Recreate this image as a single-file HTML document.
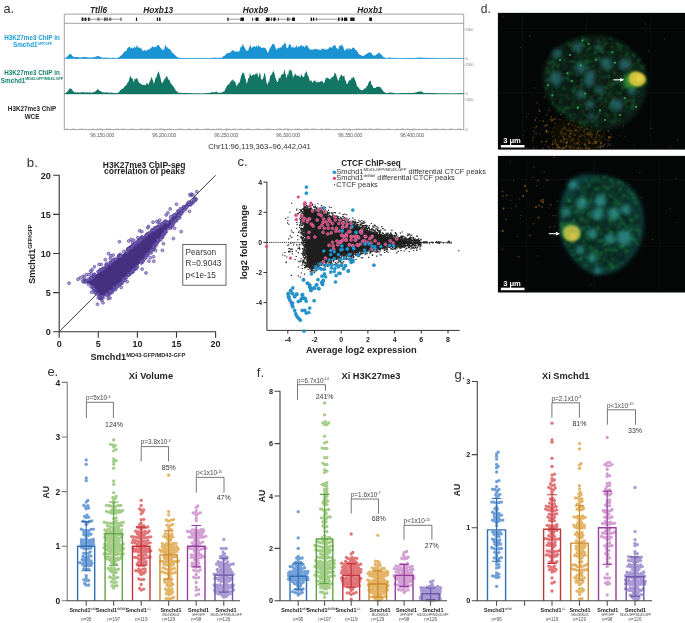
<!DOCTYPE html><html><head><meta charset="utf-8"><style>html,body{margin:0;padding:0;background:#fff;overflow:hidden}svg{display:block;transform:translateZ(0)}</style></head><body><svg width="685" height="623" viewBox="0 0 685 623" font-family="Liberation Sans, sans-serif"><text x="3.5" y="12.7" font-size="12.8" fill="#333">a.</text>
<text x="90" y="12.9" font-size="8.3" font-weight="bold" font-style="italic" fill="#222">Ttll6</text>
<text x="143.2" y="12.9" font-size="8.3" font-weight="bold" font-style="italic" fill="#222">Hoxb13</text>
<text x="242.8" y="12.9" font-size="8.3" font-weight="bold" font-style="italic" fill="#222">Hoxb9</text>
<text x="357.3" y="12.9" font-size="8.3" font-weight="bold" font-style="italic" fill="#222">Hoxb1</text>
<path d="M64.3 14.1H463.7M64.3 23.3H463.7M64.3 14.1V130M463.7 14.1V130M64.3 129.6H463.7" stroke="#9a9a9a" stroke-width="0.9" fill="none"/>
<path d="M81.6 19.2H121.3M227.3 19.2H244M252 19.2H258.5M265.8 19.2H295M310.6 19.2H347.3" stroke="#555" stroke-width="0.6"/>
<path d="M81.6 17.4H83.4V21H81.6ZM84.6 17.4H86.3V21H84.6ZM88 17.4H88.9V21H88ZM89.4 17.4H90.1V21H89.4ZM97.6 17.4H98.2V21H97.6ZM98.8 17.4H99.3V21H98.8ZM104.3 17.4H105.2V21H104.3ZM105.7 17.4H106.5V21H105.7ZM107 17.4H107.6V21H107ZM109.5 17.4H110.1V21H109.5ZM110.6 17.4H111.2V21H110.6ZM120.6 17.4H121.4V21H120.6ZM135.9 17.4H137.1V21H135.9ZM156.8 17.4H158.1V21H156.8ZM159.1 17.4H160.5V21H159.1ZM227.3 17.4H228.5V21H227.3ZM240.4 17.4H244V21H240.4ZM252.1 17.4H252.8V21H252.1ZM255.6 17.4H258.5V21H255.6ZM265.8 17.4H269.7V21H265.8ZM271.2 17.4H271.9V21H271.2ZM273.4 17.4H275.5V21H273.4ZM278.3 17.4H278.9V21H278.3ZM287.2 17.4H288V21H287.2ZM288.5 17.4H289.4V21H288.5ZM292 17.4H295V21H292ZM310.6 17.4H312V21H310.6ZM313 17.4H314.2V21H313ZM316.2 17.4H316.8V21H316.2ZM338 17.4H339.5V21H338ZM341.5 17.4H343V21H341.5ZM344 17.4H347.3V21H344ZM350.2 17.4H354.6V21H350.2ZM369.2 17.4H372V21H369.2Z" fill="#1a1a1a"/>
<path d="M463.7 29.3H465.5" stroke="#999" stroke-width="0.5"/>
<text x="465.8" y="30.5" font-size="3.4" fill="#777">2500</text>
<path d="M463.7 58.5H465.5" stroke="#999" stroke-width="0.5"/>
<text x="465.8" y="59.7" font-size="3.4" fill="#777">0</text>
<path d="M463.7 65H465.5" stroke="#999" stroke-width="0.5"/>
<text x="465.8" y="66.2" font-size="3.4" fill="#777">2500</text>
<path d="M463.7 93.9H465.5" stroke="#999" stroke-width="0.5"/>
<text x="465.8" y="95.1" font-size="3.4" fill="#777">0</text>
<path d="M463.7 99.6H465.5" stroke="#999" stroke-width="0.5"/>
<text x="465.8" y="100.8" font-size="3.4" fill="#777">2500</text>
<path d="M463.7 129.3H465.5" stroke="#999" stroke-width="0.5"/>
<text x="465.8" y="130.5" font-size="3.4" fill="#777">0</text>
<path d="M64.3 58.6L64.3 58.4L65.1 58.3L65.9 58L66.7 57L67.5 56.3L68.3 55.5L69.1 54.4L69.9 54L70.7 54L71.5 54.8L72.3 55.9L73.1 56.5L73.9 57L74.7 57.1L75.5 57.1L76.3 57.1L77.1 57.1L77.9 57L78.7 57.3L79.5 57.4L80.3 57.6L81.1 57.5L81.9 57.2L82.7 57.1L83.5 56.9L84.3 57L85.1 56.8L85.9 57.2L86.7 57.1L87.5 57.5L88.3 57.5L89.1 57.6L89.9 57.4L90.7 57.8L91.5 57.3L92.3 57.6L93.1 57.5L93.9 57L94.7 56.9L95.5 56.8L96.3 56.7L97.1 55.7L97.9 56.3L98.7 56L99.5 56.6L100.3 57L101.1 57.3L101.9 57.5L102.7 57.7L103.5 57.7L104.3 57.8L105.1 57.7L105.9 57.5L106.7 57.6L107.5 57.9L108.3 57.9L109.1 58L109.9 58L110.7 57.8L111.5 57.9L112.3 57.7L113.1 57.8L113.9 57.7L114.7 58L115.5 58.2L116.3 57.8L117.1 58.2L117.9 57.6L118.7 57.3L119.5 56.9L120.3 56L121.1 55.6L121.9 55L122.7 54.1L123.5 52.8L124.3 51.9L125.1 51L125.9 51.2L126.7 50.2L127.5 48.1L128.3 47.3L129.1 47.2L129.9 46.8L130.7 48.4L131.5 47.3L132.3 48.5L133.1 48.3L133.9 47.5L134.7 46.3L135.5 48.3L136.3 46.4L137.1 45.1L137.9 47.8L138.7 47.8L139.5 46.9L140.3 48.2L141.1 48.4L141.9 49L142.7 51.3L143.5 50.8L144.3 50L145.1 50.7L145.9 50.1L146.7 51.2L147.5 49.2L148.3 49.8L149.1 49.4L149.9 48.4L150.7 48.6L151.5 47.4L152.3 45.8L153.1 47.4L153.9 46.4L154.7 47.3L155.5 46.6L156.3 47.4L157.1 44.8L157.9 45.4L158.7 44.9L159.5 46.3L160.3 47.5L161.1 49L161.9 48.2L162.7 51L163.5 49.3L164.3 49.2L165.1 44.8L165.9 46.1L166.7 47.4L167.5 47.2L168.3 49.3L169.1 48.3L169.9 49.3L170.7 49.9L171.5 51.9L172.3 52.7L173.1 53.3L173.9 53.9L174.7 55.1L175.5 55.5L176.3 56.3L177.1 56.9L177.9 57.4L178.7 57.5L179.5 58L180.3 57.9L181.1 57.7L181.9 57.9L182.7 58.2L183.5 58.1L184.3 58.2L185.1 58L185.9 58.3L186.7 58L187.5 58.3L188.3 58.3L189.1 58.4L189.9 58L190.7 58.1L191.5 58L192.3 58.2L193.1 58.1L193.9 58.3L194.7 58.4L195.5 58.2L196.3 58L197.1 58.3L197.9 58.2L198.7 58.1L199.5 58.3L200.3 58.3L201.1 58.2L201.9 58.3L202.7 58L203.5 58.3L204.3 58L205.1 58.3L205.9 58.1L206.7 58.3L207.5 57.9L208.3 58.3L209.1 58L209.9 58L210.7 58.2L211.5 58L212.3 57.7L213.1 57.7L213.9 57.9L214.7 57.4L215.5 57.8L216.3 57.8L217.1 57.9L217.9 57.7L218.7 58L219.5 57.5L220.3 57.9L221.1 57.7L221.9 57.4L222.7 57.2L223.5 56.1L224.3 55.9L225.1 55.2L225.9 54.6L226.7 53.5L227.5 52.8L228.3 53.3L229.1 53L229.9 52.4L230.7 52.2L231.5 51L232.3 50.1L233.1 50.9L233.9 50.1L234.7 51.9L235.5 51.6L236.3 51.2L237.1 51.6L237.9 51.5L238.7 52L239.5 50.7L240.3 47.8L241.1 46.6L241.9 46.7L242.7 43.7L243.5 45.5L244.3 47.1L245.1 48.4L245.9 49.9L246.7 51.3L247.5 50.2L248.3 50.5L249.1 47.5L249.9 46.4L250.7 44.7L251.5 48.3L252.3 47.4L253.1 47L253.9 45.9L254.7 46.5L255.5 47.3L256.3 45.1L257.1 47.4L257.9 45.8L258.7 45L259.5 47L260.3 46.6L261.1 47.4L261.9 48L262.7 47.8L263.5 47.6L264.3 47.7L265.1 47.8L265.9 48.9L266.7 50.3L267.5 52.8L268.3 52.2L269.1 49.9L269.9 48.2L270.7 47.3L271.5 45.8L272.3 43.9L273.1 43.7L273.9 44.2L274.7 45.1L275.5 47.4L276.3 49.9L277.1 48.9L277.9 48L278.7 47.2L279.5 48.5L280.3 46.9L281.1 47.9L281.9 46.4L282.7 45.1L283.5 45L284.3 42.7L285.1 43.3L285.9 44.2L286.7 48L287.5 48.3L288.3 47L289.1 44.1L289.9 44.4L290.7 44.6L291.5 47.4L292.3 47.7L293.1 45.9L293.9 48.2L294.7 47.6L295.5 47.3L296.3 45.3L297.1 46.8L297.9 47.7L298.7 45.6L299.5 47.2L300.3 45.7L301.1 45L301.9 45.4L302.7 46.8L303.5 45.4L304.3 47.2L305.1 47.2L305.9 44.6L306.7 45.9L307.5 45.4L308.3 47.6L309.1 48.8L309.9 49.2L310.7 50.1L311.5 49.3L312.3 49.2L313.1 50.2L313.9 49L314.7 48.9L315.5 48.7L316.3 48.9L317.1 49.7L317.9 49.3L318.7 49.3L319.5 49.8L320.3 50.8L321.1 48.7L321.9 49.4L322.7 48.5L323.5 48.6L324.3 50.1L325.1 48.4L325.9 49.7L326.7 49.6L327.5 49.2L328.3 48.9L329.1 47.2L329.9 47.3L330.7 47.2L331.5 48.1L332.3 46.9L333.1 45.2L333.9 46.2L334.7 44.8L335.5 45.5L336.3 47.9L337.1 48L337.9 49.9L338.7 47.9L339.5 45.6L340.3 46.3L341.1 44L341.9 46.1L342.7 45.2L343.5 47.6L344.3 50.7L345.1 49.8L345.9 50.3L346.7 48.4L347.5 47.9L348.3 49.8L349.1 48.7L349.9 47.9L350.7 49.2L351.5 49.6L352.3 47.9L353.1 47.6L353.9 47.7L354.7 48.4L355.5 50.3L356.3 49.5L357.1 51.9L357.9 51.8L358.7 54L359.5 54.5L360.3 54.9L361.1 55.1L361.9 56L362.7 56.1L363.5 55.7L364.3 55.4L365.1 55L365.9 54.3L366.7 53.8L367.5 53.6L368.3 52.6L369.1 53.1L369.9 51.8L370.7 53.1L371.5 53.1L372.3 54.4L373.1 55.4L373.9 55.8L374.7 55L375.5 55.7L376.3 54.6L377.1 54L377.9 53.6L378.7 52.7L379.5 52.7L380.3 53.9L381.1 54.4L381.9 55.1L382.7 56.5L383.5 57L384.3 57.6L385.1 57.5L385.9 58.1L386.7 58.2L387.5 58.1L388.3 57.8L389.1 57.7L389.9 57.5L390.7 57.5L391.5 57.9L392.3 58L393.1 57.7L393.9 57.9L394.7 58.1L395.5 58.2L396.3 58.2L397.1 58.3L397.9 58.3L398.7 58.2L399.5 58.4L400.3 58.1L401.1 58.4L401.9 58.1L402.7 58.3L403.5 58.4L404.3 58.3L405.1 58L405.9 57.9L406.7 58L407.5 58.2L408.3 58.2L409.1 58L409.9 58L410.7 57.9L411.5 58.1L412.3 57.9L413.1 58.3L413.9 58.3L414.7 57.9L415.5 58L416.3 57.9L417.1 57.7L417.9 57.4L418.7 57.7L419.5 57.6L420.3 57.5L421.1 57.8L421.9 57.8L422.7 57.7L423.5 57.8L424.3 57.8L425.1 58.1L425.9 57.8L426.7 57.8L427.5 57.9L428.3 58.3L429.1 58.1L429.9 58.1L430.7 58L431.5 58.1L432.3 57.9L433.1 58.1L433.9 57.9L434.7 58.4L435.5 58L436.3 58.1L437.1 58.4L437.9 58.3L438.7 58.4L439.5 58.3L440.3 58.2L441.1 58.3L441.9 58.4L442.7 58.3L443.5 58.1L444.3 58.1L445.1 58.4L445.9 58.2L446.7 58.4L447.5 58L448.3 58.4L449.1 58.3L449.9 58L450.7 58.2L451.5 58.2L452.3 58.1L453.1 58.3L453.9 58.4L454.7 58.2L455.5 58L456.3 58.3L457.1 58.1L457.9 58.4L458.7 58.2L459.5 58.1L460.3 58.3L461.1 58.2L461.9 58.2L462.7 58.4L463.5 58.4L463.7 58.6Z" fill="#1a93d3"/>
<path d="M64.3 58.4H463.7" stroke="#1a93d3" stroke-width="0.7"/>
<path d="M64.3 94L64.3 93.8L65.1 93.7L65.9 92.8L66.7 92L67.5 91.5L68.3 90.5L69.1 89.1L69.9 88.4L70.7 88.6L71.5 89L72.3 89.9L73.1 91.2L73.9 91.7L74.7 92.6L75.5 92.1L76.3 92.7L77.1 92.6L77.9 92.1L78.7 92.5L79.5 92.4L80.3 92.4L81.1 92.4L81.9 92.1L82.7 92L83.5 92.4L84.3 92.3L85.1 92.2L85.9 92.5L86.7 92.4L87.5 92.2L88.3 92.7L89.1 92.1L89.9 92.4L90.7 92.6L91.5 92.7L92.3 92.4L93.1 92.4L93.9 92.1L94.7 91.7L95.5 91.4L96.3 90.8L97.1 89.5L97.9 89.1L98.7 89.9L99.5 90.7L100.3 91.1L101.1 91.2L101.9 92.5L102.7 92.1L103.5 92.6L104.3 92.6L105.1 92.4L105.9 92.4L106.7 92.3L107.5 92.6L108.3 92.5L109.1 92.7L109.9 92.9L110.7 92.5L111.5 92.6L112.3 92.7L113.1 92.7L113.9 92.9L114.7 93.2L115.5 93.1L116.3 93L117.1 93.1L117.9 93.1L118.7 92.1L119.5 91.7L120.3 90.3L121.1 89.6L121.9 88.9L122.7 88.5L123.5 88.2L124.3 86.7L125.1 86.3L125.9 85.2L126.7 84.8L127.5 82.5L128.3 82.3L129.1 79.7L129.9 77.3L130.7 75.4L131.5 78.5L132.3 77.9L133.1 80.2L133.9 82.8L134.7 78.2L135.5 79.3L136.3 78.7L137.1 77.4L137.9 80.4L138.7 81.9L139.5 83.3L140.3 83.3L141.1 83.9L141.9 84.7L142.7 84.8L143.5 84.9L144.3 85.1L145.1 85.2L145.9 85L146.7 82.6L147.5 83.6L148.3 85.1L149.1 82.8L149.9 81.2L150.7 79.5L151.5 76.8L152.3 79.1L153.1 80.9L153.9 84L154.7 81.6L155.5 77.7L156.3 77.7L157.1 74.8L157.9 72.8L158.7 71L159.5 74.2L160.3 77.1L161.1 80.8L161.9 82.9L162.7 82.9L163.5 81.1L164.3 79L165.1 78.9L165.9 76.8L166.7 76.1L167.5 77.1L168.3 79.8L169.1 79.6L169.9 81L170.7 83.4L171.5 84.1L172.3 85L173.1 86.4L173.9 86.9L174.7 88.6L175.5 90.2L176.3 90.8L177.1 91.8L177.9 92.3L178.7 92.8L179.5 93L180.3 92.7L181.1 92.7L181.9 93.3L182.7 93.2L183.5 93.1L184.3 93L185.1 93L185.9 93.1L186.7 93.3L187.5 93.3L188.3 93.2L189.1 93.3L189.9 93.2L190.7 93.5L191.5 93L192.3 93.5L193.1 93.4L193.9 93.4L194.7 93.5L195.5 93.3L196.3 93.4L197.1 93.6L197.9 93.6L198.7 93.7L199.5 93.4L200.3 93.5L201.1 93.7L201.9 93.8L202.7 93.7L203.5 93.5L204.3 93.4L205.1 93.1L205.9 93.4L206.7 93.3L207.5 93.1L208.3 93.1L209.1 93L209.9 93L210.7 92.7L211.5 92L212.3 92.3L213.1 92.3L213.9 92.2L214.7 92.6L215.5 91.7L216.3 91.6L217.1 92L217.9 92.7L218.7 92.8L219.5 92.8L220.3 92.7L221.1 92.6L221.9 92.4L222.7 92L223.5 91.6L224.3 91.4L225.1 89.6L225.9 87.9L226.7 86.6L227.5 85.1L228.3 84.5L229.1 84.5L229.9 82.4L230.7 81.4L231.5 80.6L232.3 80.3L233.1 79.1L233.9 82L234.7 80.6L235.5 82.7L236.3 85.8L237.1 85.7L237.9 83.8L238.7 83.1L239.5 82.6L240.3 79.8L241.1 76.1L241.9 74.6L242.7 72.2L243.5 72.9L244.3 73.7L245.1 77.9L245.9 79.6L246.7 84.2L247.5 81.8L248.3 77.7L249.1 78.3L249.9 72.6L250.7 75.4L251.5 76.1L252.3 75L253.1 75L253.9 74.1L254.7 75.6L255.5 73.3L256.3 74.5L257.1 71.9L257.9 75.3L258.7 77.7L259.5 73.1L260.3 73.1L261.1 79.6L261.9 79.6L262.7 79.2L263.5 76.9L264.3 72.9L265.1 73.8L265.9 78.5L266.7 83.6L267.5 85L268.3 81.4L269.1 82L269.9 77.2L270.7 75L271.5 74.7L272.3 73.2L273.1 71.1L273.9 72L274.7 74.3L275.5 77.9L276.3 80L277.1 81.9L277.9 82.1L278.7 78.4L279.5 77.4L280.3 78.4L281.1 74.5L281.9 75.3L282.7 73.8L283.5 74.2L284.3 68.7L285.1 72.7L285.9 75.2L286.7 78.8L287.5 73.8L288.3 74.9L289.1 68.7L289.9 71.7L290.7 69.2L291.5 70.5L292.3 72.9L293.1 77.9L293.9 75.6L294.7 74.7L295.5 73.6L296.3 75.4L297.1 75.4L297.9 75.8L298.7 75.4L299.5 76.6L300.3 77.7L301.1 73.6L301.9 75.8L302.7 76.4L303.5 77.2L304.3 76.3L305.1 72.5L305.9 73.3L306.7 70.5L307.5 75.3L308.3 75.8L309.1 78.5L309.9 80.7L310.7 81.4L311.5 80.1L312.3 82.4L313.1 82.5L313.9 80.2L314.7 80.8L315.5 80.8L316.3 82.7L317.1 81.3L317.9 83.1L318.7 81L319.5 82.4L320.3 81.5L321.1 80.7L321.9 81.8L322.7 81L323.5 83.6L324.3 82.8L325.1 80.3L325.9 77.6L326.7 78.6L327.5 77.6L328.3 77.9L329.1 79.5L329.9 78.7L330.7 79.3L331.5 77.6L332.3 76.8L333.1 77L333.9 75.6L334.7 72.5L335.5 73.5L336.3 75.1L337.1 78L337.9 79.9L338.7 81L339.5 77.6L340.3 76.6L341.1 74.4L341.9 75L342.7 76.7L343.5 75.9L344.3 75.5L345.1 80.2L345.9 80.7L346.7 84.2L347.5 84.1L348.3 82.1L349.1 80.8L349.9 79.2L350.7 80.7L351.5 77.7L352.3 78.3L353.1 77.5L353.9 76.5L354.7 79.5L355.5 80.7L356.3 83.5L357.1 86.4L357.9 86.7L358.7 87.6L359.5 89.3L360.3 89.2L361.1 90.2L361.9 90.3L362.7 90L363.5 89.5L364.3 88.2L365.1 88.4L365.9 88.5L366.7 86.1L367.5 86.1L368.3 83.4L369.1 81.7L369.9 81.1L370.7 80.5L371.5 85L372.3 85.1L373.1 87.6L373.9 88L374.7 88.1L375.5 88.1L376.3 86.9L377.1 86.7L377.9 86.9L378.7 86.6L379.5 86.9L380.3 86.9L381.1 88.2L381.9 89.2L382.7 90.6L383.5 91.4L384.3 91.9L385.1 92.5L385.9 93.2L386.7 93L387.5 93L388.3 92.8L389.1 92.7L389.9 92.4L390.7 92.6L391.5 92.5L392.3 92.7L393.1 92.7L393.9 93.1L394.7 93.1L395.5 93.4L396.3 93.4L397.1 93.1L397.9 93.5L398.7 93.4L399.5 93.4L400.3 93.2L401.1 93.2L401.9 93.3L402.7 93.2L403.5 93.2L404.3 93L405.1 93.3L405.9 93L406.7 93.2L407.5 92.9L408.3 92.8L409.1 93.1L409.9 92.9L410.7 93.1L411.5 92.9L412.3 92.9L413.1 92.7L413.9 92.8L414.7 92.9L415.5 92.2L416.3 92.6L417.1 91.8L417.9 92L418.7 91.4L419.5 91.4L420.3 91.8L421.1 91.3L421.9 91.7L422.7 92.1L423.5 92.9L424.3 92.8L425.1 93.2L425.9 93.3L426.7 92.9L427.5 93L428.3 93.1L429.1 93.3L429.9 93.1L430.7 92.9L431.5 93.3L432.3 93L433.1 93L433.9 93.3L434.7 93.2L435.5 93.3L436.3 93.5L437.1 93.3L437.9 93.2L438.7 93.6L439.5 93.6L440.3 93.3L441.1 93.4L441.9 93.5L442.7 93.7L443.5 93.6L444.3 93.5L445.1 93.4L445.9 93.4L446.7 93.5L447.5 93.5L448.3 93.4L449.1 93.5L449.9 93.5L450.7 93.6L451.5 93.8L452.3 93.7L453.1 93.4L453.9 93.8L454.7 93.7L455.5 93.6L456.3 93.5L457.1 93.5L457.9 93.6L458.7 93L459.5 93.3L460.3 93.4L461.1 93.2L461.9 93.3L462.7 93.5L463.5 93.3L463.7 94Z" fill="#137665"/>
<path d="M64.3 93.8H463.7" stroke="#137665" stroke-width="0.7"/>
<path d="M66 128.9h2.2M72.1 128.9h2.8M79.2 128.9h4.1M85.1 128.9h1.1M91.5 128.9h2.3M96.3 128.9h6M105.9 128.9h5.2M114.7 128.9h4.2M121.1 128.9h4.2M130.7 128.9h3.6M139.1 128.9h4.4M145.3 128.9h4.8M154.2 128.9h2.5M158.4 128.9h5.3M167.3 128.9h4.6M177.4 128.9h4.6M187.6 128.9h3M195.7 128.9h3.2M204.6 128.9h5.4M211.9 128.9h1.7M216.1 128.9h5.8M225.4 128.9h4.1M232.4 128.9h3.5M239.2 128.9h2.8M246 128.9h3.9M255.5 128.9h4.4M265.6 128.9h5.3M276.9 128.9h4.4M283.5 128.9h5.3M294.6 128.9h5.5M304.2 128.9h4.6M311.2 128.9h5.2M320.4 128.9h2.4M324.7 128.9h5.3M335.9 128.9h1.4M342.4 128.9h3.1M347.7 128.9h2.5M355.1 128.9h5.4M362.1 128.9h4.1M367.9 128.9h4.6M375.5 128.9h5.4M386.8 128.9h3.5M396.3 128.9h2.5M400.7 128.9h4M406.4 128.9h2M411.7 128.9h4.1M417.9 128.9h1.2M424.6 128.9h2.6M432.9 128.9h5.5M441.6 128.9h3.3M448.8 128.9h4.2M457.2 128.9h3.8" stroke="#aaa" stroke-width="0.6"/>
<path d="M102.3 129.6V131.3" stroke="#999" stroke-width="0.6"/>
<text x="102.3" y="137.1" font-size="4.8" fill="#555" text-anchor="middle">96,150,000</text>
<path d="M164.3 129.6V131.3" stroke="#999" stroke-width="0.6"/>
<text x="164.3" y="137.1" font-size="4.8" fill="#555" text-anchor="middle">96,200,000</text>
<path d="M226.3 129.6V131.3" stroke="#999" stroke-width="0.6"/>
<text x="226.3" y="137.1" font-size="4.8" fill="#555" text-anchor="middle">96,250,000</text>
<path d="M288.3 129.6V131.3" stroke="#999" stroke-width="0.6"/>
<text x="288.3" y="137.1" font-size="4.8" fill="#555" text-anchor="middle">96,300,000</text>
<path d="M350.3 129.6V131.3" stroke="#999" stroke-width="0.6"/>
<text x="350.3" y="137.1" font-size="4.8" fill="#555" text-anchor="middle">96,350,000</text>
<path d="M412.3 129.6V131.3" stroke="#999" stroke-width="0.6"/>
<text x="412.3" y="137.1" font-size="4.8" fill="#555" text-anchor="middle">96,400,000</text>
<text x="259.5" y="148.6" font-size="7.65" fill="#333" text-anchor="middle">Chr11:96,119,363–96,442,041</text>
<text x="32" y="39.5" font-size="6.3" font-weight="bold" fill="#1b9ad7" text-anchor="middle">H3K27me3 ChIP in</text>
<text x="32.5" y="47.2" font-size="6.3" font-weight="bold" fill="#1b9ad7" text-anchor="middle">Smchd1<tspan font-size="3.3" dy="-2.4">GFP/GFP</tspan></text>
<text x="32" y="75.1" font-size="6.3" font-weight="bold" fill="#14816d" text-anchor="middle">H3K27me3 ChIP in</text>
<text x="32" y="82.8" font-size="6.3" font-weight="bold" fill="#14816d" text-anchor="middle">Smchd1<tspan font-size="3.65" dy="-2.4">MD43-GFP/MD43-GFP</tspan></text>
<text x="32" y="110.6" font-size="6.3" font-weight="bold" fill="#222" text-anchor="middle">H3K27me3 ChIP</text>
<text x="32" y="118.6" font-size="6.3" font-weight="bold" fill="#222" text-anchor="middle">WCE</text>
<text x="26.8" y="166.6" font-size="13.2" fill="#333">b.</text>
<text x="144.2" y="168.2" font-size="8.5" font-weight="bold" fill="#222" text-anchor="middle">H3K27me3 ChIP-seq</text>
<text x="144.4" y="173.8" font-size="8.5" font-weight="bold" fill="#222" text-anchor="middle">correlation of peaks</text>
<path d="M59.2 331.7L215.6 175.3" stroke="#222" stroke-width="0.9"/>
<path d="M82.9 282.5L89.3 279.7L102.8 269.2L116.8 258.6L131 247.9L143.4 237.3L155.6 228.7L169.8 219.7L180.4 210L190.9 204L196.2 199.1L189.1 202L180.3 214.3L171.5 224.8L160.8 237.2L152.1 249.6L141.6 261.7L131 272.2L120.5 282.9L110.4 293.2L99.3 298L97.3 294.2L92.3 286.1L84 281Z" fill="#45307f"/>
<g fill="#8071c0" fill-opacity="0.6" stroke="#4d3890" stroke-width="0.6"><circle cx="135.3" cy="245.5" r="1.45"/><circle cx="140.7" cy="239.9" r="1.45"/><circle cx="105.1" cy="268.1" r="1.45"/><circle cx="94.6" cy="275.3" r="1.45"/><circle cx="90.6" cy="271" r="1.45"/><circle cx="192.9" cy="202.9" r="1.45"/><circle cx="152.3" cy="230.6" r="1.45"/><circle cx="90.7" cy="278.2" r="1.45"/><circle cx="110.6" cy="262.1" r="1.45"/><circle cx="178.1" cy="211.6" r="1.45"/><circle cx="155.7" cy="229.3" r="1.45"/><circle cx="115" cy="259.5" r="1.45"/><circle cx="195.2" cy="198.9" r="1.45"/><circle cx="110.1" cy="264.3" r="1.45"/><circle cx="91.9" cy="277.3" r="1.45"/><circle cx="127.5" cy="250.9" r="1.45"/><circle cx="178.4" cy="210.9" r="1.45"/><circle cx="136.4" cy="243" r="1.45"/><circle cx="128" cy="248.9" r="1.45"/><circle cx="113.8" cy="260" r="1.45"/><circle cx="120.5" cy="254.2" r="1.45"/><circle cx="111.6" cy="262.4" r="1.45"/><circle cx="90.7" cy="278.1" r="1.45"/><circle cx="134.2" cy="245.3" r="1.45"/><circle cx="165.6" cy="221.3" r="1.45"/><circle cx="130.7" cy="247" r="1.45"/><circle cx="113.4" cy="259.4" r="1.45"/><circle cx="182.6" cy="208.6" r="1.45"/><circle cx="127.7" cy="249.4" r="1.45"/><circle cx="195.4" cy="200.4" r="1.45"/><circle cx="112.7" cy="261.2" r="1.45"/><circle cx="92.6" cy="277.5" r="1.45"/><circle cx="148.6" cy="233.2" r="1.45"/><circle cx="134.1" cy="243.9" r="1.45"/><circle cx="138.5" cy="242.5" r="1.45"/><circle cx="101.5" cy="270.5" r="1.45"/><circle cx="175.6" cy="214" r="1.45"/><circle cx="189.1" cy="204.2" r="1.45"/><circle cx="190.1" cy="203.3" r="1.45"/><circle cx="92.1" cy="269.9" r="1.45"/><circle cx="110.6" cy="263" r="1.45"/><circle cx="150.4" cy="232.5" r="1.45"/><circle cx="103.5" cy="268.3" r="1.45"/><circle cx="146" cy="235.4" r="1.45"/><circle cx="152.3" cy="230.9" r="1.45"/><circle cx="84.4" cy="280.1" r="1.45"/><circle cx="133.6" cy="244.9" r="1.45"/><circle cx="147.3" cy="234" r="1.45"/><circle cx="123.7" cy="251.5" r="1.45"/><circle cx="161.7" cy="225.7" r="1.45"/><circle cx="99.6" cy="271.2" r="1.45"/><circle cx="162.2" cy="224.1" r="1.45"/><circle cx="85.7" cy="281.5" r="1.45"/><circle cx="119.9" cy="256.5" r="1.45"/><circle cx="93.1" cy="277.6" r="1.45"/><circle cx="166.7" cy="221.6" r="1.45"/><circle cx="172.7" cy="216" r="1.45"/><circle cx="184.6" cy="207.6" r="1.45"/><circle cx="130.4" cy="247.6" r="1.45"/><circle cx="154.1" cy="230.8" r="1.45"/><circle cx="148.7" cy="233.4" r="1.45"/><circle cx="195.4" cy="199.6" r="1.45"/><circle cx="165.9" cy="222.7" r="1.45"/><circle cx="132.8" cy="245.2" r="1.45"/><circle cx="93.4" cy="276.2" r="1.45"/><circle cx="137.6" cy="242.1" r="1.45"/><circle cx="162.4" cy="225" r="1.45"/><circle cx="110.3" cy="258.5" r="1.45"/><circle cx="159.5" cy="225.7" r="1.45"/><circle cx="157.2" cy="226.9" r="1.45"/><circle cx="183.6" cy="208.3" r="1.45"/><circle cx="131.7" cy="245.9" r="1.45"/><circle cx="185.9" cy="206" r="1.45"/><circle cx="119.5" cy="256.7" r="1.45"/><circle cx="138.8" cy="240.1" r="1.45"/><circle cx="190.9" cy="204.7" r="1.45"/><circle cx="103.1" cy="269.1" r="1.45"/><circle cx="130.2" cy="248" r="1.45"/><circle cx="139.2" cy="241.1" r="1.45"/><circle cx="132.6" cy="242.4" r="1.45"/><circle cx="180.6" cy="208.5" r="1.45"/><circle cx="118.3" cy="256.8" r="1.45"/><circle cx="83.2" cy="276.3" r="1.45"/><circle cx="110.1" cy="262.6" r="1.45"/><circle cx="89.7" cy="279.7" r="1.45"/><circle cx="157.1" cy="227.9" r="1.45"/><circle cx="191.8" cy="202.9" r="1.45"/><circle cx="101.3" cy="264.6" r="1.45"/><circle cx="163.7" cy="222.9" r="1.45"/><circle cx="161.6" cy="224" r="1.45"/><circle cx="152.2" cy="230.7" r="1.45"/><circle cx="185.4" cy="207.5" r="1.45"/><circle cx="188.3" cy="205.1" r="1.45"/><circle cx="153.7" cy="230.1" r="1.45"/><circle cx="126.8" cy="252.2" r="1.45"/><circle cx="190" cy="204.7" r="1.45"/><circle cx="156.2" cy="227.6" r="1.45"/><circle cx="154.8" cy="227.7" r="1.45"/><circle cx="106.9" cy="263.9" r="1.45"/><circle cx="143.9" cy="237.8" r="1.45"/><circle cx="119.1" cy="255.2" r="1.45"/><circle cx="93.7" cy="276.7" r="1.45"/><circle cx="141.8" cy="231.6" r="1.45"/><circle cx="91.7" cy="278.4" r="1.45"/><circle cx="103.6" cy="268.9" r="1.45"/><circle cx="100" cy="269.8" r="1.45"/><circle cx="164.7" cy="222" r="1.45"/><circle cx="139.3" cy="241.5" r="1.45"/><circle cx="93.6" cy="275.9" r="1.45"/><circle cx="165.2" cy="221.4" r="1.45"/><circle cx="141.7" cy="237.8" r="1.45"/><circle cx="127" cy="251.4" r="1.45"/><circle cx="184.3" cy="207.1" r="1.45"/><circle cx="141.4" cy="237.1" r="1.45"/><circle cx="106.8" cy="266.6" r="1.45"/><circle cx="86.4" cy="280.9" r="1.45"/><circle cx="141.8" cy="239.4" r="1.45"/><circle cx="138.2" cy="240.6" r="1.45"/><circle cx="91.8" cy="278.2" r="1.45"/><circle cx="187.3" cy="205.9" r="1.45"/><circle cx="136.4" cy="242.3" r="1.45"/><circle cx="184.2" cy="207" r="1.45"/><circle cx="119.2" cy="256" r="1.45"/><circle cx="98" cy="271.6" r="1.45"/><circle cx="85.7" cy="280.8" r="1.45"/><circle cx="119.7" cy="255.5" r="1.45"/><circle cx="152.4" cy="229.6" r="1.45"/><circle cx="140.3" cy="238.8" r="1.45"/><circle cx="106.4" cy="266.9" r="1.45"/><circle cx="130.3" cy="248.3" r="1.45"/><circle cx="101.7" cy="269.4" r="1.45"/><circle cx="142.2" cy="236.9" r="1.45"/><circle cx="151.7" cy="230.7" r="1.45"/><circle cx="175.1" cy="214.9" r="1.45"/><circle cx="119.6" cy="256.8" r="1.45"/><circle cx="195" cy="198.1" r="1.45"/><circle cx="98.9" cy="271.7" r="1.45"/><circle cx="94.3" cy="274.2" r="1.45"/><circle cx="131.2" cy="247.3" r="1.45"/><circle cx="158.6" cy="222.4" r="1.45"/><circle cx="159.3" cy="224.4" r="1.45"/><circle cx="140.7" cy="240.3" r="1.45"/><circle cx="137.8" cy="237.6" r="1.45"/><circle cx="87.7" cy="280.5" r="1.45"/><circle cx="141.3" cy="239.1" r="1.45"/><circle cx="106.8" cy="265.9" r="1.45"/><circle cx="191.2" cy="195.6" r="1.45"/><circle cx="135.6" cy="243.8" r="1.45"/><circle cx="120.9" cy="256" r="1.45"/><circle cx="147.8" cy="227.8" r="1.45"/><circle cx="178.1" cy="211.3" r="1.45"/><circle cx="128.9" cy="248.4" r="1.45"/><circle cx="102.5" cy="269.2" r="1.45"/><circle cx="173.9" cy="215.5" r="1.45"/><circle cx="180.3" cy="210.2" r="1.45"/><circle cx="140.3" cy="240.2" r="1.45"/><circle cx="174.3" cy="215.3" r="1.45"/><circle cx="170.6" cy="216.8" r="1.45"/><circle cx="128.7" cy="248.1" r="1.45"/><circle cx="170.9" cy="219.3" r="1.45"/><circle cx="129.4" cy="248.9" r="1.45"/><circle cx="133.7" cy="240.1" r="1.45"/><circle cx="155.2" cy="229" r="1.45"/><circle cx="158.3" cy="227" r="1.45"/><circle cx="157.7" cy="227.8" r="1.45"/><circle cx="196.2" cy="199.1" r="1.45"/><circle cx="159.8" cy="220.2" r="1.45"/><circle cx="167.6" cy="222.7" r="1.45"/><circle cx="128.6" cy="248.9" r="1.45"/><circle cx="95" cy="274.8" r="1.45"/><circle cx="185.4" cy="207.6" r="1.45"/><circle cx="147" cy="234.7" r="1.45"/><circle cx="154.9" cy="228.7" r="1.45"/><circle cx="166.2" cy="215" r="1.45"/><circle cx="102" cy="269.8" r="1.45"/><circle cx="148.6" cy="226.4" r="1.45"/><circle cx="131.7" cy="248.1" r="1.45"/><circle cx="115.9" cy="259" r="1.45"/><circle cx="146.2" cy="235.2" r="1.45"/><circle cx="84.2" cy="280.6" r="1.45"/><circle cx="88.1" cy="279.4" r="1.45"/><circle cx="183.6" cy="206.8" r="1.45"/><circle cx="86.3" cy="274.7" r="1.45"/><circle cx="132.1" cy="246.7" r="1.45"/><circle cx="193.2" cy="201.4" r="1.45"/><circle cx="164.4" cy="221.8" r="1.45"/><circle cx="193.6" cy="200.7" r="1.45"/><circle cx="153.8" cy="230.5" r="1.45"/><circle cx="106.3" cy="265.3" r="1.45"/><circle cx="133.3" cy="245.3" r="1.45"/><circle cx="144.3" cy="259" r="1.45"/><circle cx="108.8" cy="295" r="1.45"/><circle cx="83.7" cy="282.2" r="1.45"/><circle cx="178.5" cy="216.5" r="1.45"/><circle cx="107.4" cy="294.3" r="1.45"/><circle cx="118.5" cy="284.8" r="1.45"/><circle cx="128.8" cy="274" r="1.45"/><circle cx="164.2" cy="232.7" r="1.45"/><circle cx="91.6" cy="292.3" r="1.45"/><circle cx="147.4" cy="255.3" r="1.45"/><circle cx="179.7" cy="215.2" r="1.45"/><circle cx="119.7" cy="284" r="1.45"/><circle cx="124.5" cy="278.6" r="1.45"/><circle cx="155.9" cy="245.6" r="1.45"/><circle cx="99.6" cy="298.3" r="1.45"/><circle cx="125.7" cy="278.2" r="1.45"/><circle cx="168.2" cy="228.6" r="1.45"/><circle cx="153.3" cy="248.8" r="1.45"/><circle cx="85.5" cy="281.8" r="1.45"/><circle cx="93.7" cy="290.1" r="1.45"/><circle cx="155.6" cy="250.5" r="1.45"/><circle cx="132.8" cy="271.8" r="1.45"/><circle cx="121.2" cy="287.5" r="1.45"/><circle cx="122" cy="283.2" r="1.45"/><circle cx="159" cy="240.1" r="1.45"/><circle cx="175" cy="219.7" r="1.45"/><circle cx="114" cy="289.6" r="1.45"/><circle cx="131.9" cy="272.1" r="1.45"/><circle cx="92.2" cy="287.4" r="1.45"/><circle cx="158.8" cy="240.1" r="1.45"/><circle cx="151.1" cy="253" r="1.45"/><circle cx="153.4" cy="247.4" r="1.45"/><circle cx="153.3" cy="247.7" r="1.45"/><circle cx="132.6" cy="271.6" r="1.45"/><circle cx="135.3" cy="269" r="1.45"/><circle cx="110" cy="293" r="1.45"/><circle cx="161.9" cy="237.5" r="1.45"/><circle cx="132" cy="271.8" r="1.45"/><circle cx="122.6" cy="281.3" r="1.45"/><circle cx="106.9" cy="294.7" r="1.45"/><circle cx="181.7" cy="212.7" r="1.45"/><circle cx="123.6" cy="278.4" r="1.45"/><circle cx="111.7" cy="291.8" r="1.45"/><circle cx="110.2" cy="293.1" r="1.45"/><circle cx="110.2" cy="293" r="1.45"/><circle cx="120.4" cy="283.9" r="1.45"/><circle cx="135.3" cy="268.2" r="1.45"/><circle cx="148.3" cy="253" r="1.45"/><circle cx="121.3" cy="283.5" r="1.45"/><circle cx="97.7" cy="293.7" r="1.45"/><circle cx="123.1" cy="279.3" r="1.45"/><circle cx="147.8" cy="254.8" r="1.45"/><circle cx="175.3" cy="220.6" r="1.45"/><circle cx="171.8" cy="222.2" r="1.45"/><circle cx="150.4" cy="257.8" r="1.45"/><circle cx="179.8" cy="217.8" r="1.45"/><circle cx="108.8" cy="294.2" r="1.45"/><circle cx="130.2" cy="273.7" r="1.45"/><circle cx="186.2" cy="207.1" r="1.45"/><circle cx="166.3" cy="231.7" r="1.45"/><circle cx="128.9" cy="274.9" r="1.45"/><circle cx="173" cy="224.2" r="1.45"/><circle cx="157.5" cy="240.6" r="1.45"/><circle cx="163.3" cy="234.3" r="1.45"/><circle cx="95.2" cy="290.4" r="1.45"/><circle cx="142" cy="262.6" r="1.45"/><circle cx="185.5" cy="209.2" r="1.45"/><circle cx="136.3" cy="267" r="1.45"/><circle cx="162.7" cy="236.8" r="1.45"/><circle cx="188.3" cy="203.6" r="1.45"/><circle cx="153.1" cy="249.2" r="1.45"/><circle cx="173.5" cy="221.5" r="1.45"/><circle cx="157.4" cy="242.5" r="1.45"/><circle cx="125" cy="280.5" r="1.45"/><circle cx="162.7" cy="235" r="1.45"/><circle cx="189.1" cy="202.3" r="1.45"/><circle cx="101" cy="299.1" r="1.45"/><circle cx="115.1" cy="288.5" r="1.45"/><circle cx="140.7" cy="261" r="1.45"/><circle cx="99.7" cy="297.8" r="1.45"/><circle cx="106.3" cy="293.9" r="1.45"/><circle cx="101.6" cy="297.9" r="1.45"/><circle cx="134.5" cy="268.7" r="1.45"/><circle cx="158.4" cy="241.1" r="1.45"/><circle cx="182.1" cy="211.9" r="1.45"/><circle cx="154.5" cy="247.8" r="1.45"/><circle cx="179.1" cy="215.4" r="1.45"/><circle cx="101" cy="297.9" r="1.45"/><circle cx="187.6" cy="203.4" r="1.45"/><circle cx="132.8" cy="271.8" r="1.45"/><circle cx="189.2" cy="204.2" r="1.45"/><circle cx="126.5" cy="277.2" r="1.45"/><circle cx="152.1" cy="249.3" r="1.45"/><circle cx="150.9" cy="251.3" r="1.45"/><circle cx="164.2" cy="234.2" r="1.45"/><circle cx="90.9" cy="286.6" r="1.45"/><circle cx="114" cy="289.1" r="1.45"/><circle cx="176.7" cy="220.7" r="1.45"/><circle cx="119.5" cy="284.2" r="1.45"/><circle cx="99.6" cy="297.6" r="1.45"/><circle cx="181" cy="213.9" r="1.45"/><circle cx="153.6" cy="256.8" r="1.45"/><circle cx="146.7" cy="255" r="1.45"/><circle cx="102.1" cy="296.9" r="1.45"/><circle cx="156.5" cy="243.7" r="1.45"/><circle cx="117.1" cy="286.8" r="1.45"/><circle cx="108.2" cy="298.5" r="1.45"/><circle cx="155" cy="244.8" r="1.45"/><circle cx="179.1" cy="215.5" r="1.45"/><circle cx="101.7" cy="297.6" r="1.45"/><circle cx="174.2" cy="222.3" r="1.45"/><circle cx="153.6" cy="245.8" r="1.45"/><circle cx="175.5" cy="219.9" r="1.45"/><circle cx="114.1" cy="287.3" r="1.45"/><circle cx="170.8" cy="227.4" r="1.45"/><circle cx="181.4" cy="212.8" r="1.45"/><circle cx="130.8" cy="272.6" r="1.45"/><circle cx="153.4" cy="247.4" r="1.45"/><circle cx="177.9" cy="218.2" r="1.45"/><circle cx="134.7" cy="269" r="1.45"/><circle cx="132.7" cy="270.8" r="1.45"/><circle cx="103.1" cy="297.9" r="1.45"/><circle cx="178" cy="217.9" r="1.45"/><circle cx="165.3" cy="231.9" r="1.45"/><circle cx="101.8" cy="300.2" r="1.45"/><circle cx="172.5" cy="225.3" r="1.45"/><circle cx="93" cy="287.1" r="1.45"/><circle cx="112.5" cy="290.8" r="1.45"/><circle cx="129.2" cy="274.5" r="1.45"/><circle cx="142.9" cy="260.5" r="1.45"/><circle cx="151.3" cy="250.5" r="1.45"/><circle cx="163.1" cy="234.8" r="1.45"/><circle cx="156.4" cy="243.8" r="1.45"/><circle cx="175.4" cy="220.4" r="1.45"/><circle cx="127.9" cy="275" r="1.45"/><circle cx="118.4" cy="285.7" r="1.45"/><circle cx="109.9" cy="291.3" r="1.45"/><circle cx="100" cy="298" r="1.45"/><circle cx="145.7" cy="255.6" r="1.45"/><circle cx="136.4" cy="266.6" r="1.45"/><circle cx="95.7" cy="292" r="1.45"/><circle cx="95.8" cy="292.7" r="1.45"/><circle cx="128.6" cy="275.1" r="1.45"/><circle cx="182.4" cy="211" r="1.45"/><circle cx="148.9" cy="261.2" r="1.45"/><circle cx="136.6" cy="267.1" r="1.45"/><circle cx="163.4" cy="243.7" r="1.45"/><circle cx="88.3" cy="284.2" r="1.45"/><circle cx="99.7" cy="295.9" r="1.45"/><circle cx="112.2" cy="292.4" r="1.45"/><circle cx="95" cy="292.6" r="1.45"/><circle cx="135.8" cy="268.8" r="1.45"/><circle cx="189.3" cy="202.3" r="1.45"/><circle cx="183.9" cy="210.6" r="1.45"/><circle cx="102.8" cy="296.2" r="1.45"/><circle cx="189.5" cy="211.4" r="1.45"/><circle cx="157.6" cy="239.9" r="1.45"/><circle cx="142.6" cy="261.1" r="1.45"/><circle cx="160.8" cy="239.7" r="1.45"/><circle cx="99.4" cy="297.4" r="1.45"/><circle cx="143" cy="261.5" r="1.45"/><circle cx="170.5" cy="228.2" r="1.45"/><circle cx="170.9" cy="226.3" r="1.45"/><circle cx="114.1" cy="289.6" r="1.45"/><circle cx="95.4" cy="292.9" r="1.45"/><circle cx="117" cy="285.8" r="1.45"/><circle cx="145.7" cy="258" r="1.45"/><circle cx="116" cy="288.1" r="1.45"/><circle cx="171.9" cy="225" r="1.45"/><circle cx="153.5" cy="249.6" r="1.45"/><circle cx="97.3" cy="294.1" r="1.45"/><circle cx="94" cy="288.8" r="1.45"/><circle cx="161.7" cy="236.4" r="1.45"/><circle cx="145.8" cy="257.1" r="1.45"/><circle cx="136.7" cy="268.1" r="1.45"/><circle cx="164.7" cy="233.5" r="1.45"/><circle cx="181" cy="213.4" r="1.45"/><circle cx="162.3" cy="237.4" r="1.45"/><circle cx="174.5" cy="228.3" r="1.45"/><circle cx="110.6" cy="291.8" r="1.45"/><circle cx="93.9" cy="288.4" r="1.45"/><circle cx="123.3" cy="280.5" r="1.45"/><circle cx="121.9" cy="282.2" r="1.45"/><circle cx="98.3" cy="297.8" r="1.45"/><circle cx="137.5" cy="266.7" r="1.45"/><circle cx="173.4" cy="223" r="1.45"/><circle cx="165.4" cy="230.9" r="1.45"/><circle cx="106.7" cy="295.4" r="1.45"/><circle cx="141" cy="263" r="1.45"/><circle cx="186.7" cy="207.2" r="1.45"/><circle cx="69" cy="283.2" r="1.45"/><circle cx="84.2" cy="277.7" r="1.45"/><circle cx="82.7" cy="280.9" r="1.45"/><circle cx="88.9" cy="274.6" r="1.45"/><circle cx="91.3" cy="273.8" r="1.45"/><circle cx="94.4" cy="266.8" r="1.45"/><circle cx="99.1" cy="264.4" r="1.45"/><circle cx="106.1" cy="264.4" r="1.45"/><circle cx="110.8" cy="255.8" r="1.45"/><circle cx="113.2" cy="255.1" r="1.45"/><circle cx="119.4" cy="241.8" r="1.45"/><circle cx="128.8" cy="241" r="1.45"/><circle cx="139.7" cy="230.8" r="1.45"/><circle cx="153" cy="222.2" r="1.45"/><circle cx="167.9" cy="212.8" r="1.45"/><circle cx="176.5" cy="204.2" r="1.45"/><circle cx="181.2" cy="231.6" r="1.45"/><circle cx="173.4" cy="238.6" r="1.45"/><circle cx="162.4" cy="250.4" r="1.45"/><circle cx="153.8" cy="261.3" r="1.45"/><circle cx="146" cy="273" r="1.45"/><circle cx="142.1" cy="269.1" r="1.45"/><circle cx="127.2" cy="281.7" r="1.45"/><circle cx="115.5" cy="289.5" r="1.45"/><circle cx="110" cy="298.1" r="1.45"/><circle cx="103" cy="302.8" r="1.45"/><circle cx="97.5" cy="304.3" r="1.45"/><circle cx="191.4" cy="194.1" r="1.45"/><circle cx="189.8" cy="194.8" r="1.45"/><circle cx="192.9" cy="194.8" r="1.45"/><circle cx="196.8" cy="191.7" r="1.45"/><circle cx="170.2" cy="208.9" r="1.45"/><circle cx="156.9" cy="221.4" r="1.45"/><circle cx="131.1" cy="239.4" r="1.45"/><circle cx="108.5" cy="253.5" r="1.45"/><circle cx="105.3" cy="259.8" r="1.45"/><circle cx="78" cy="279.3" r="1.45"/><circle cx="80.3" cy="277.7" r="1.45"/></g>
<path d="M59.2 174.8V331.7M59.2 331.7H216.1M53.2 331.7H59.2M59.2 331.7V337.7M53.2 292.6H59.2M98.3 331.7V337.7M53.2 253.5H59.2M137.4 331.7V337.7M53.2 214.4H59.2M176.5 331.7V337.7M53.2 175.3H59.2M215.6 331.7V337.7" stroke="#333" stroke-width="1.1" fill="none"/>
<text x="50.7" y="334.9" font-size="9" font-weight="bold" fill="#222" text-anchor="end">0</text>
<text x="59.2" y="347" font-size="9" font-weight="bold" fill="#222" text-anchor="middle">0</text>
<text x="50.7" y="295.8" font-size="9" font-weight="bold" fill="#222" text-anchor="end">5</text>
<text x="98.3" y="347" font-size="9" font-weight="bold" fill="#222" text-anchor="middle">5</text>
<text x="50.7" y="256.7" font-size="9" font-weight="bold" fill="#222" text-anchor="end">10</text>
<text x="137.4" y="347" font-size="9" font-weight="bold" fill="#222" text-anchor="middle">10</text>
<text x="50.7" y="217.6" font-size="9" font-weight="bold" fill="#222" text-anchor="end">15</text>
<text x="176.5" y="347" font-size="9" font-weight="bold" fill="#222" text-anchor="middle">15</text>
<text x="50.7" y="178.5" font-size="9" font-weight="bold" fill="#222" text-anchor="end">20</text>
<text x="215.6" y="347" font-size="9" font-weight="bold" fill="#222" text-anchor="middle">20</text>
<text x="90.4" y="360.3" font-size="9.2" font-weight="bold" fill="#222">Smchd1<tspan font-size="5.7" dy="-3.8">MD43-GFP/MD43-GFP</tspan></text>
<text transform="translate(35.2 283.7) rotate(-90)" font-size="9" font-weight="bold" fill="#222">Smchd1<tspan font-size="5.5" dy="-3.6">GFP/GFP</tspan></text>
<rect x="182.8" y="244.4" width="43.2" height="40.8" fill="#fff" stroke="#444" stroke-width="0.8"/>
<text x="185.6" y="254.6" font-size="8.2" fill="#333">Pearson</text>
<text x="185.6" y="266.3" font-size="8.2" fill="#333">R=0.9043</text>
<text x="185.6" y="278.3" font-size="8.2" fill="#333">p&lt;1e-15</text>
<text x="237.6" y="166.4" font-size="13" fill="#333">c.</text>
<text x="341.2" y="165.5" font-size="8.2" font-weight="bold" fill="#222">CTCF ChIP-seq</text>
<circle cx="334.4" cy="172.3" r="1.6" fill="#1f97d4" stroke="#1170a0" stroke-width="0.3"/>
<text x="336.3" y="174.4" font-size="7.4" fill="#333">Smchd1<tspan font-size="4.15" dy="-3">MD43-GFP/MD43-GFP</tspan><tspan dy="3"> differential CTCF peaks</tspan></text>
<circle cx="334.4" cy="178.3" r="1.6" fill="#d43d7a"/>
<text x="336.3" y="180.4" font-size="7.4" fill="#333">Smchd1<tspan font-size="4" dy="-3">del/del</tspan><tspan dy="3"> differential CTCF peaks</tspan></text>
<circle cx="334.6" cy="184.6" r="0.6" fill="#222"/>
<text x="336.3" y="186.5" font-size="7.4" fill="#333">CTCF peaks</text>
<path d="M266.9 181.7V330.4H459.6M263.4 182.2H266.9M263.4 212.3H266.9M263.4 242.4H266.9M263.4 272.5H266.9M263.4 302.6H266.9M287.8 330.4V333.6M314.5 330.4V333.6M341.2 330.4V333.6M367.9 330.4V333.6M394.6 330.4V333.6M421.3 330.4V333.6M448 330.4V333.6" stroke="#333" stroke-width="1" fill="none"/>
<text x="262.2" y="184.7" font-size="7" font-weight="bold" fill="#222" text-anchor="end">4</text>
<text x="262.2" y="214.8" font-size="7" font-weight="bold" fill="#222" text-anchor="end">2</text>
<text x="262.2" y="244.9" font-size="7" font-weight="bold" fill="#222" text-anchor="end">0</text>
<text x="262.2" y="275" font-size="7" font-weight="bold" fill="#222" text-anchor="end">-2</text>
<text x="262.2" y="305.1" font-size="7" font-weight="bold" fill="#222" text-anchor="end">-4</text>
<text x="287.8" y="342.2" font-size="7" font-weight="bold" fill="#222" text-anchor="middle">-4</text>
<text x="314.5" y="342.2" font-size="7" font-weight="bold" fill="#222" text-anchor="middle">-2</text>
<text x="341.2" y="342.2" font-size="7" font-weight="bold" fill="#222" text-anchor="middle">0</text>
<text x="367.9" y="342.2" font-size="7" font-weight="bold" fill="#222" text-anchor="middle">2</text>
<text x="394.6" y="342.2" font-size="7" font-weight="bold" fill="#222" text-anchor="middle">4</text>
<text x="421.3" y="342.2" font-size="7" font-weight="bold" fill="#222" text-anchor="middle">6</text>
<text x="448" y="342.2" font-size="7" font-weight="bold" fill="#222" text-anchor="middle">8</text>
<text x="361.3" y="353" font-size="9.4" font-weight="bold" fill="#222" text-anchor="middle">Average log2 expression</text>
<text transform="translate(246.9 242) rotate(-90)" font-size="9.4" font-weight="bold" fill="#222" text-anchor="middle">log2 fold change</text>
<path d="M267 242.4H450" stroke="#222" stroke-width="1" stroke-dasharray="1.1 1"/>
<path d="M303.5 208L316 211.5L329 216.5L342 221.5L356 226.5L369 231L382 235L395 238.5L408 241L421 242.6L421 243.2L408 244L395 245.2L382 247L369 249.3L356 251.8L342 255.2L329 259L316 263.5L309 267.5L306.5 256L305 236L303.8 218Z" fill="#1e1e1e"/>
<path fill="#262626" d="M349.6 223.3h1.3v1.1h-1.3zM364.5 226.6h1.3v1.1h-1.3zM305.8 265h1.3v1.1h-1.3zM303.7 208.1h1.3v1.1h-1.3zM369.9 251.7h1.3v1.1h-1.3zM370.8 222.9h1.3v1.1h-1.3zM326.3 263.4h1.3v1.1h-1.3zM396 252.3h1.3v1.1h-1.3zM407.9 238.8h1.3v1.1h-1.3zM301.1 229.2h1.3v1.1h-1.3zM379.3 247.7h1.3v1.1h-1.3zM314 208.9h1.3v1.1h-1.3zM369 231h1.3v1.1h-1.3zM303.7 239.2h1.3v1.1h-1.3zM319 264.5h1.3v1.1h-1.3zM401.7 245.2h1.3v1.1h-1.3zM360.7 224h1.3v1.1h-1.3zM407.1 238.8h1.3v1.1h-1.3zM413.2 238.6h1.3v1.1h-1.3zM330.7 257.3h1.3v1.1h-1.3zM396 246.9h1.3v1.1h-1.3zM365.3 229.9h1.3v1.1h-1.3zM377.9 247.6h1.3v1.1h-1.3zM401.8 239h1.3v1.1h-1.3zM401.7 237h1.3v1.1h-1.3zM307 263h1.3v1.1h-1.3zM409.7 240h1.3v1.1h-1.3zM300.8 220.1h1.3v1.1h-1.3zM300.6 210.8h1.3v1.1h-1.3zM397.3 244.6h1.3v1.1h-1.3zM374.6 225.3h1.3v1.1h-1.3zM315.2 263.5h1.3v1.1h-1.3zM305 256.3h1.3v1.1h-1.3zM418.5 242.8h1.3v1.1h-1.3zM323.4 211.9h1.3v1.1h-1.3zM324.1 263.8h1.3v1.1h-1.3zM374.6 230.2h1.3v1.1h-1.3zM311.1 209.7h1.3v1.1h-1.3zM305.2 255.9h1.3v1.1h-1.3zM416.8 246.9h1.3v1.1h-1.3zM305.3 252.4h1.3v1.1h-1.3zM318.6 268.4h1.3v1.1h-1.3zM301 221.4h1.3v1.1h-1.3zM305.8 251.7h1.3v1.1h-1.3zM376.7 228.6h1.3v1.1h-1.3zM341.4 218.3h1.3v1.1h-1.3zM310.3 209h1.3v1.1h-1.3zM348.9 252.7h1.3v1.1h-1.3zM383.2 246.9h1.3v1.1h-1.3zM350.3 222.3h1.3v1.1h-1.3zM411.2 234.7h1.3v1.1h-1.3zM302.9 245.3h1.3v1.1h-1.3zM314 271.4h1.3v1.1h-1.3zM352.1 225.3h1.3v1.1h-1.3zM375.5 228.2h1.3v1.1h-1.3zM390.8 235.7h1.3v1.1h-1.3zM386.9 233.6h1.3v1.1h-1.3zM330.6 217.4h1.3v1.1h-1.3zM392.1 245h1.3v1.1h-1.3zM337.7 261.4h1.3v1.1h-1.3zM377.2 250.6h1.3v1.1h-1.3zM404 238.8h1.3v1.1h-1.3zM296.1 209.7h1.3v1.1h-1.3zM319 261.7h1.3v1.1h-1.3zM359.3 253.3h1.3v1.1h-1.3zM389.4 245.2h1.3v1.1h-1.3zM417.5 242.2h1.3v1.1h-1.3zM372.6 231.7h1.3v1.1h-1.3zM307.5 261.8h1.3v1.1h-1.3zM413 239.3h1.3v1.1h-1.3zM355.8 251.6h1.3v1.1h-1.3zM396.9 244.1h1.3v1.1h-1.3zM304.8 240.2h1.3v1.1h-1.3zM345.8 256.3h1.3v1.1h-1.3zM336.3 256.3h1.3v1.1h-1.3zM413 240.2h1.3v1.1h-1.3zM303 260.5h1.3v1.1h-1.3zM391.4 236.2h1.3v1.1h-1.3zM344 221.6h1.3v1.1h-1.3zM303.9 224.3h1.3v1.1h-1.3zM406.1 247.5h1.3v1.1h-1.3zM361.9 225h1.3v1.1h-1.3zM352.9 252h1.3v1.1h-1.3zM394.4 236.9h1.3v1.1h-1.3zM304.4 253.7h1.3v1.1h-1.3zM366.1 251.5h1.3v1.1h-1.3zM411.1 239.1h1.3v1.1h-1.3zM360.1 250.7h1.3v1.1h-1.3zM352.3 224.1h1.3v1.1h-1.3zM296.5 219.7h1.3v1.1h-1.3zM304.3 226.9h1.3v1.1h-1.3zM314.2 210.8h1.3v1.1h-1.3zM335.7 255.7h1.3v1.1h-1.3zM329.5 216.8h1.3v1.1h-1.3zM408.3 244.6h1.3v1.1h-1.3zM310.8 266.5h1.3v1.1h-1.3zM386 246.7h1.3v1.1h-1.3zM379.2 246.7h1.3v1.1h-1.3zM306 266.7h1.3v1.1h-1.3zM309 205.3h1.3v1.1h-1.3zM326.6 212.7h1.3v1.1h-1.3zM358.2 219.7h1.3v1.1h-1.3zM363.4 251.1h1.3v1.1h-1.3zM399 237.7h1.3v1.1h-1.3zM403.3 239.3h1.3v1.1h-1.3zM324.9 209.2h1.3v1.1h-1.3zM342.9 256.6h1.3v1.1h-1.3zM396.1 245.6h1.3v1.1h-1.3zM349.5 252.7h1.3v1.1h-1.3zM383.2 246.6h1.3v1.1h-1.3zM340.6 262.2h1.3v1.1h-1.3zM364.4 224.8h1.3v1.1h-1.3zM385 246.4h1.3v1.1h-1.3zM396.4 244.9h1.3v1.1h-1.3zM304.5 252h1.3v1.1h-1.3zM365.4 225.1h1.3v1.1h-1.3zM300.2 236.8h1.3v1.1h-1.3zM414.2 240.9h1.3v1.1h-1.3zM304.3 226.3h1.3v1.1h-1.3zM361 249.9h1.3v1.1h-1.3zM320.3 261.6h1.3v1.1h-1.3zM383.9 246.6h1.3v1.1h-1.3zM361.9 225.8h1.3v1.1h-1.3zM324.4 259.3h1.3v1.1h-1.3zM406.2 238.8h1.3v1.1h-1.3zM382.9 246.9h1.3v1.1h-1.3zM405.8 240.4h1.3v1.1h-1.3zM371.9 254.3h1.3v1.1h-1.3zM363.4 225.1h1.3v1.1h-1.3zM302 239h1.3v1.1h-1.3zM337.4 219.9h1.3v1.1h-1.3zM316.5 264.5h1.3v1.1h-1.3zM350.1 252h1.3v1.1h-1.3zM397.8 246.2h1.3v1.1h-1.3zM383.4 246.2h1.3v1.1h-1.3zM369 248.2h1.3v1.1h-1.3zM325.7 259.7h1.3v1.1h-1.3zM415.9 235.5h1.3v1.1h-1.3zM371.7 254.8h1.3v1.1h-1.3zM367.9 227.1h1.3v1.1h-1.3zM307.4 263.3h1.3v1.1h-1.3zM307.2 259.1h1.3v1.1h-1.3zM406.2 245.5h1.3v1.1h-1.3zM338.4 257.1h1.3v1.1h-1.3zM321.6 261.5h1.3v1.1h-1.3zM310.4 266.6h1.3v1.1h-1.3zM360.1 223.6h1.3v1.1h-1.3zM356 254.6h1.3v1.1h-1.3zM306.7 257.7h1.3v1.1h-1.3zM365.3 226.4h1.3v1.1h-1.3zM395.3 244.4h1.3v1.1h-1.3zM398.1 237.7h1.3v1.1h-1.3zM408.4 234.4h1.3v1.1h-1.3zM420.3 243.3h1.3v1.1h-1.3zM305.3 243.1h1.3v1.1h-1.3zM366.6 248.9h1.3v1.1h-1.3zM394.6 246.3h1.3v1.1h-1.3zM354.6 251.4h1.3v1.1h-1.3zM401.1 239.8h1.3v1.1h-1.3zM390.9 247.9h1.3v1.1h-1.3zM312.4 267.8h1.3v1.1h-1.3zM365.2 229.6h1.3v1.1h-1.3zM370.4 250.2h1.3v1.1h-1.3zM308.9 267.6h1.3v1.1h-1.3zM395.9 238.7h1.3v1.1h-1.3zM345.7 222.4h1.3v1.1h-1.3zM306.1 253h1.3v1.1h-1.3zM335.7 218.3h1.3v1.1h-1.3zM318.9 262.3h1.3v1.1h-1.3zM328 212.8h1.3v1.1h-1.3zM365.4 250.1h1.3v1.1h-1.3zM306.9 261.7h1.3v1.1h-1.3zM346.9 254.8h1.3v1.1h-1.3zM304.7 233.3h1.3v1.1h-1.3zM313.2 266.6h1.3v1.1h-1.3zM315.8 262.9h1.3v1.1h-1.3zM354.3 225.3h1.3v1.1h-1.3zM314.4 263.4h1.3v1.1h-1.3zM385.6 246.4h1.3v1.1h-1.3zM349 254.1h1.3v1.1h-1.3zM304.4 267.4h1.3v1.1h-1.3zM310.1 266h1.3v1.1h-1.3zM344.9 222.5h1.3v1.1h-1.3zM411.7 243.7h1.3v1.1h-1.3zM409.5 239.8h1.3v1.1h-1.3zM357.2 252.2h1.3v1.1h-1.3zM378 247.5h1.3v1.1h-1.3zM389.2 236h1.3v1.1h-1.3zM355.9 224.6h1.3v1.1h-1.3zM312.2 209.4h1.3v1.1h-1.3zM304.1 246.8h1.3v1.1h-1.3zM350.8 254.8h1.3v1.1h-1.3zM326.1 261h1.3v1.1h-1.3zM366.7 248.9h1.3v1.1h-1.3zM338.8 256.9h1.3v1.1h-1.3zM306.1 253.3h1.3v1.1h-1.3zM341.9 254.4h1.3v1.1h-1.3zM302.2 243.8h1.3v1.1h-1.3zM302.5 208.5h1.3v1.1h-1.3zM350.5 222.8h1.3v1.1h-1.3zM357.4 250.6h1.3v1.1h-1.3zM361.6 251.3h1.3v1.1h-1.3zM312.3 268h1.3v1.1h-1.3zM300.2 214h1.3v1.1h-1.3zM337.1 261.6h1.3v1.1h-1.3zM415.2 242.9h1.3v1.1h-1.3zM386.5 234.9h1.3v1.1h-1.3zM305.3 203.3h1.3v1.1h-1.3zM319.7 266.9h1.3v1.1h-1.3zM386.6 235.5h1.3v1.1h-1.3zM333 258.6h1.3v1.1h-1.3zM335.8 218.2h1.3v1.1h-1.3zM336.2 259h1.3v1.1h-1.3zM358.6 255.7h1.3v1.1h-1.3zM335.5 256.5h1.3v1.1h-1.3zM303.4 226.6h1.3v1.1h-1.3zM355.7 251.4h1.3v1.1h-1.3zM304.2 206.7h1.3v1.1h-1.3zM352.2 217.6h1.3v1.1h-1.3zM352 224h1.3v1.1h-1.3zM378.9 249h1.3v1.1h-1.3zM351.5 221.4h1.3v1.1h-1.3zM330.9 215.7h1.3v1.1h-1.3zM364 228.7h1.3v1.1h-1.3zM311.4 267.3h1.3v1.1h-1.3zM372.4 229.2h1.3v1.1h-1.3zM389.9 233h1.3v1.1h-1.3zM327.1 214.1h1.3v1.1h-1.3zM301.3 232h1.3v1.1h-1.3zM355.6 225.8h1.3v1.1h-1.3zM296.8 213.2h1.3v1.1h-1.3zM398.8 247.2h1.3v1.1h-1.3zM350.1 223.6h1.3v1.1h-1.3zM330.6 261.9h1.3v1.1h-1.3zM345.4 214.2h1.3v1.1h-1.3zM301.4 218h1.3v1.1h-1.3zM372.9 249.5h1.3v1.1h-1.3zM412.3 245h1.3v1.1h-1.3zM355.6 225.5h1.3v1.1h-1.3zM323.6 210.8h1.3v1.1h-1.3zM348.2 222.3h1.3v1.1h-1.3zM403.1 239.2h1.3v1.1h-1.3zM336.8 215.8h1.3v1.1h-1.3zM370.5 231.6h1.3v1.1h-1.3zM385.5 234.4h1.3v1.1h-1.3zM316.5 265h1.3v1.1h-1.3zM392.8 235.2h1.3v1.1h-1.3zM321.7 262.9h1.3v1.1h-1.3zM304.3 229h1.3v1.1h-1.3zM386.6 248.6h1.3v1.1h-1.3zM329.6 216.8h1.3v1.1h-1.3zM417.4 244.1h1.3v1.1h-1.3zM372.9 232.3h1.3v1.1h-1.3zM357.4 254.8h1.3v1.1h-1.3zM303 217h1.3v1.1h-1.3zM391.8 247.2h1.3v1.1h-1.3zM303.4 216.4h1.3v1.1h-1.3zM418.5 243.9h1.3v1.1h-1.3zM343.1 253.9h1.3v1.1h-1.3zM308.1 205.9h1.3v1.1h-1.3zM410.3 240.3h1.3v1.1h-1.3zM301.3 228.1h1.3v1.1h-1.3zM303 250.3h1.3v1.1h-1.3zM319.8 213.2h1.3v1.1h-1.3zM410.1 234.7h1.3v1.1h-1.3zM302 220.5h1.3v1.1h-1.3zM355.7 224.5h1.3v1.1h-1.3zM316.8 265.6h1.3v1.1h-1.3zM368 256.8h1.3v1.1h-1.3zM302.9 253h1.3v1.1h-1.3zM304.9 249.5h1.3v1.1h-1.3zM306.8 260.9h1.3v1.1h-1.3zM315 210.7h1.3v1.1h-1.3zM352.4 252.7h1.3v1.1h-1.3zM418.4 240.4h1.3v1.1h-1.3zM360.5 227.9h1.3v1.1h-1.3zM354.9 221.3h1.3v1.1h-1.3zM349.8 253.4h1.3v1.1h-1.3zM309.6 266.7h1.3v1.1h-1.3zM417.6 242.2h1.3v1.1h-1.3zM302 214.9h1.3v1.1h-1.3zM395 244.3h1.3v1.1h-1.3zM332.3 215.3h1.3v1.1h-1.3zM319 263.3h1.3v1.1h-1.3zM301.7 267.9h1.3v1.1h-1.3zM334 258h1.3v1.1h-1.3zM402.8 243.9h1.3v1.1h-1.3zM315 267.2h1.3v1.1h-1.3zM314.6 264.6h1.3v1.1h-1.3zM303.6 236h1.3v1.1h-1.3zM405.9 239.9h1.3v1.1h-1.3zM410.7 246.5h1.3v1.1h-1.3zM328.4 216.1h1.3v1.1h-1.3zM300.8 223.5h1.3v1.1h-1.3zM311.5 266.9h1.3v1.1h-1.3zM376.1 233.1h1.3v1.1h-1.3zM343.7 217.1h1.3v1.1h-1.3zM356.8 252h1.3v1.1h-1.3zM301.1 217.7h1.3v1.1h-1.3zM321 260.7h1.3v1.1h-1.3zM304 266.7h1.3v1.1h-1.3zM396.9 247.5h1.3v1.1h-1.3zM366.7 230.3h1.3v1.1h-1.3zM329.2 264.1h1.3v1.1h-1.3zM365.7 249h1.3v1.1h-1.3zM383.8 229.4h1.3v1.1h-1.3zM380.3 229.4h1.3v1.1h-1.3zM306.4 257h1.3v1.1h-1.3zM399.1 245.2h1.3v1.1h-1.3zM401.3 244.9h1.3v1.1h-1.3zM310.3 209h1.3v1.1h-1.3zM379.2 246.6h1.3v1.1h-1.3zM392.2 237h1.3v1.1h-1.3zM371.3 251.2h1.3v1.1h-1.3zM357.3 254h1.3v1.1h-1.3zM330.6 258.5h1.3v1.1h-1.3zM365.8 249h1.3v1.1h-1.3zM305.7 252.7h1.3v1.1h-1.3zM387.9 246.6h1.3v1.1h-1.3zM339.3 261.1h1.3v1.1h-1.3zM310.3 266.9h1.3v1.1h-1.3zM374.1 230.6h1.3v1.1h-1.3zM355.3 251.7h1.3v1.1h-1.3zM364.3 228.3h1.3v1.1h-1.3zM401.5 245.4h1.3v1.1h-1.3zM349.9 221.9h1.3v1.1h-1.3zM400.5 243.8h1.3v1.1h-1.3zM378.1 227.4h1.3v1.1h-1.3zM348.3 253.3h1.3v1.1h-1.3zM361.2 223.2h1.3v1.1h-1.3zM304.4 251.3h1.3v1.1h-1.3zM402.4 235.8h1.3v1.1h-1.3zM303.3 220.9h1.3v1.1h-1.3zM305.6 261.5h1.3v1.1h-1.3zM304.7 253h1.3v1.1h-1.3zM378.7 231.7h1.3v1.1h-1.3zM354.9 252.9h1.3v1.1h-1.3zM392.1 236.9h1.3v1.1h-1.3zM305.9 206.5h1.3v1.1h-1.3zM347.5 221.8h1.3v1.1h-1.3zM408.7 247.1h1.3v1.1h-1.3zM413.7 243.2h1.3v1.1h-1.3zM346.2 217.5h1.3v1.1h-1.3zM302.2 223.9h1.3v1.1h-1.3zM416.5 242.9h1.3v1.1h-1.3zM309.3 204.3h1.3v1.1h-1.3zM403.3 243.7h1.3v1.1h-1.3zM328.1 258.8h1.3v1.1h-1.3zM352.4 224.9h1.3v1.1h-1.3zM399.4 246h1.3v1.1h-1.3zM391.5 248.7h1.3v1.1h-1.3zM397.5 244.5h1.3v1.1h-1.3zM410.6 237.2h1.3v1.1h-1.3zM317.5 264h1.3v1.1h-1.3zM379.9 248.8h1.3v1.1h-1.3zM325.6 215.5h1.3v1.1h-1.3zM373.7 248.4h1.3v1.1h-1.3zM409.5 238.8h1.3v1.1h-1.3zM309.1 266.4h1.3v1.1h-1.3zM302.9 207.8h1.3v1.1h-1.3zM335.1 219.1h1.3v1.1h-1.3zM323.7 213.4h1.3v1.1h-1.3zM337.5 256h1.3v1.1h-1.3zM416.3 241.8h1.3v1.1h-1.3zM324.9 214.3h1.3v1.1h-1.3zM397.3 243.9h1.3v1.1h-1.3zM341 219.4h1.3v1.1h-1.3zM315.3 267.6h1.3v1.1h-1.3zM300.5 209.9h1.3v1.1h-1.3zM313.6 264.9h1.3v1.1h-1.3zM359 254.9h1.3v1.1h-1.3zM331.6 212.6h1.3v1.1h-1.3zM404.8 237.7h1.3v1.1h-1.3zM377.4 248.8h1.3v1.1h-1.3zM389.5 235.7h1.3v1.1h-1.3zM339.8 219h1.3v1.1h-1.3zM354.3 251.9h1.3v1.1h-1.3zM308.5 265.8h1.3v1.1h-1.3zM332.5 257.7h1.3v1.1h-1.3zM391.1 237.5h1.3v1.1h-1.3zM319.4 264.4h1.3v1.1h-1.3zM303.2 253.3h1.3v1.1h-1.3zM379.9 250.4h1.3v1.1h-1.3zM348.1 254.4h1.3v1.1h-1.3zM401.7 239h1.3v1.1h-1.3zM359 227.5h1.3v1.1h-1.3zM340.1 218.3h1.3v1.1h-1.3zM336.9 218.2h1.3v1.1h-1.3zM376.3 250.7h1.3v1.1h-1.3zM414.3 247.4h1.3v1.1h-1.3zM409.6 236.6h1.3v1.1h-1.3zM366.5 253.1h1.3v1.1h-1.3zM394.8 237.9h1.3v1.1h-1.3zM413.8 242.6h1.3v1.1h-1.3zM415.5 245.3h1.3v1.1h-1.3zM379.9 247.9h1.3v1.1h-1.3zM360.6 253h1.3v1.1h-1.3zM309.7 266.5h1.3v1.1h-1.3zM369.1 228.9h1.3v1.1h-1.3zM408 243.6h1.3v1.1h-1.3zM300.2 221.3h1.3v1.1h-1.3zM344.3 255.3h1.3v1.1h-1.3zM324.1 206.9h1.3v1.1h-1.3zM314.8 211.3h1.3v1.1h-1.3zM330.7 216.3h1.3v1.1h-1.3zM302 229.4h1.3v1.1h-1.3zM363.5 228.7h1.3v1.1h-1.3zM404.6 237.4h1.3v1.1h-1.3zM299.4 224.3h1.3v1.1h-1.3zM342.5 214h1.3v1.1h-1.3zM373.2 229.9h1.3v1.1h-1.3zM411.6 243h1.3v1.1h-1.3zM361.3 225h1.3v1.1h-1.3zM301.5 218.5h1.3v1.1h-1.3zM329.4 262h1.3v1.1h-1.3zM311.7 208.7h1.3v1.1h-1.3zM302.6 252.1h1.3v1.1h-1.3zM405.3 238.4h1.3v1.1h-1.3zM369 225.2h1.3v1.1h-1.3zM316.6 262h1.3v1.1h-1.3zM408.9 233.4h1.3v1.1h-1.3zM339.5 219.7h1.3v1.1h-1.3zM303.2 213.3h1.3v1.1h-1.3zM382.3 247.6h1.3v1.1h-1.3zM343.5 222.2h1.3v1.1h-1.3zM346.5 257.9h1.3v1.1h-1.3zM303.9 204.4h1.3v1.1h-1.3zM337.6 255.9h1.3v1.1h-1.3zM331.6 216.7h1.3v1.1h-1.3zM312.9 210.7h1.3v1.1h-1.3zM404.5 245.9h1.3v1.1h-1.3zM339 219h1.3v1.1h-1.3zM312.4 210.2h1.3v1.1h-1.3zM389.6 234.8h1.3v1.1h-1.3zM306.5 264.9h1.3v1.1h-1.3zM347.2 222.2h1.3v1.1h-1.3zM359.8 252.5h1.3v1.1h-1.3zM328.8 215.6h1.3v1.1h-1.3zM403.3 240.1h1.3v1.1h-1.3zM418 243.2h1.3v1.1h-1.3zM414.8 240.4h1.3v1.1h-1.3zM417.5 242.9h1.3v1.1h-1.3zM340.4 218.7h1.3v1.1h-1.3zM368.5 230.4h1.3v1.1h-1.3zM298.7 212.1h1.3v1.1h-1.3zM410.3 248.3h1.3v1.1h-1.3zM300 218.8h1.3v1.1h-1.3zM335.3 219.3h1.3v1.1h-1.3zM345.2 220.6h1.3v1.1h-1.3zM348.1 254.1h1.3v1.1h-1.3zM367.4 230.6h1.3v1.1h-1.3zM382.4 235.3h1.3v1.1h-1.3zM363.1 250.8h1.3v1.1h-1.3zM305.7 249.9h1.3v1.1h-1.3zM368.8 252.5h1.3v1.1h-1.3zM399.3 237.3h1.3v1.1h-1.3zM400.4 238.6h1.3v1.1h-1.3zM302.6 239.9h1.3v1.1h-1.3zM360.1 227.7h1.3v1.1h-1.3zM347.3 222.9h1.3v1.1h-1.3zM311.4 268.9h1.3v1.1h-1.3zM316.7 265.6h1.3v1.1h-1.3zM385.6 233.1h1.3v1.1h-1.3zM310.6 202.5h1.3v1.1h-1.3zM309.5 208.8h1.3v1.1h-1.3zM403.2 244.2h1.3v1.1h-1.3zM306.3 259.7h1.3v1.1h-1.3zM312 266.7h1.3v1.1h-1.3zM389.8 234h1.3v1.1h-1.3zM401 236.4h1.3v1.1h-1.3zM332.3 217.7h1.3v1.1h-1.3zM309.8 209.4h1.3v1.1h-1.3zM302 208.8h1.3v1.1h-1.3zM335.7 256.5h1.3v1.1h-1.3zM352.3 223.6h1.3v1.1h-1.3zM322.3 209.4h1.3v1.1h-1.3zM303.3 227h1.3v1.1h-1.3zM318.5 261.8h1.3v1.1h-1.3zM316.7 209h1.3v1.1h-1.3zM298.9 226.6h1.3v1.1h-1.3zM306.9 260.7h1.3v1.1h-1.3zM375.8 249.1h1.3v1.1h-1.3zM384.2 249.8h1.3v1.1h-1.3zM311 204.6h1.3v1.1h-1.3zM306.9 207.3h1.3v1.1h-1.3zM305.2 244.1h1.3v1.1h-1.3zM317.7 263.1h1.3v1.1h-1.3zM404.2 245.3h1.3v1.1h-1.3zM302.9 249.7h1.3v1.1h-1.3zM303.4 259.6h1.3v1.1h-1.3zM343.8 256.7h1.3v1.1h-1.3zM302.7 213.3h1.3v1.1h-1.3zM307.4 260.3h1.3v1.1h-1.3zM342.6 215.7h1.3v1.1h-1.3zM303.7 224.1h1.3v1.1h-1.3zM300.9 225.1h1.3v1.1h-1.3zM302.6 220.9h1.3v1.1h-1.3zM333.2 259.8h1.3v1.1h-1.3zM348.4 222.1h1.3v1.1h-1.3zM346.1 222.2h1.3v1.1h-1.3zM312.4 266.6h1.3v1.1h-1.3zM337.9 217.9h1.3v1.1h-1.3zM412.5 246.8h1.3v1.1h-1.3zM311.7 210.2h1.3v1.1h-1.3zM364.5 229h1.3v1.1h-1.3zM354.7 222.6h1.3v1.1h-1.3zM311.7 266h1.3v1.1h-1.3zM309.7 266.1h1.3v1.1h-1.3zM411.8 240h1.3v1.1h-1.3zM403.8 238.7h1.3v1.1h-1.3zM405.2 236.7h1.3v1.1h-1.3zM305.8 253.8h1.3v1.1h-1.3zM409.1 244.8h1.3v1.1h-1.3zM357.1 225h1.3v1.1h-1.3zM322.3 211.6h1.3v1.1h-1.3zM344.7 254.1h1.3v1.1h-1.3zM361.1 222.2h1.3v1.1h-1.3zM358.2 254h1.3v1.1h-1.3zM313 265.7h1.3v1.1h-1.3zM414.2 239.1h1.3v1.1h-1.3zM416.3 239.1h1.3v1.1h-1.3zM332.5 215.1h1.3v1.1h-1.3zM303.8 220.9h1.3v1.1h-1.3zM327.6 261.4h1.3v1.1h-1.3zM304.4 240.3h1.3v1.1h-1.3zM372.1 248.2h1.3v1.1h-1.3zM388.9 246h1.3v1.1h-1.3zM336.9 257.7h1.3v1.1h-1.3zM304.5 248.8h1.3v1.1h-1.3zM332.7 257h1.3v1.1h-1.3zM406.3 244.8h1.3v1.1h-1.3zM303.5 247.6h1.3v1.1h-1.3zM358.8 226.1h1.3v1.1h-1.3zM299.9 223.2h1.3v1.1h-1.3zM306.9 206.8h1.3v1.1h-1.3zM321.3 264.2h1.3v1.1h-1.3zM308 266h1.3v1.1h-1.3zM316.8 212.1h1.3v1.1h-1.3zM305.3 265.3h1.3v1.1h-1.3zM376.2 250.4h1.3v1.1h-1.3zM417.3 240.4h1.3v1.1h-1.3zM348.4 223.4h1.3v1.1h-1.3zM328.5 212.1h1.3v1.1h-1.3zM334.9 257.2h1.3v1.1h-1.3zM305.2 266.4h1.3v1.1h-1.3zM382 232.6h1.3v1.1h-1.3zM365.7 250.6h1.3v1.1h-1.3zM324.9 259.1h1.3v1.1h-1.3zM336 258h1.3v1.1h-1.3zM383.7 248.3h1.3v1.1h-1.3zM302.4 248.8h1.3v1.1h-1.3zM306.2 256.3h1.3v1.1h-1.3zM357.5 224.1h1.3v1.1h-1.3zM391.9 234.8h1.3v1.1h-1.3zM301.6 209h1.3v1.1h-1.3zM410.2 241h1.3v1.1h-1.3zM381 246.6h1.3v1.1h-1.3zM378.5 249h1.3v1.1h-1.3zM359.9 227.9h1.3v1.1h-1.3zM383.8 235h1.3v1.1h-1.3zM355 254.7h1.3v1.1h-1.3zM304.2 227.8h1.3v1.1h-1.3zM366.2 225.2h1.3v1.1h-1.3zM325.3 260.6h1.3v1.1h-1.3zM420.2 241.7h1.3v1.1h-1.3zM396.3 244.9h1.3v1.1h-1.3zM325 263.4h1.3v1.1h-1.3zM389.1 246.9h1.3v1.1h-1.3zM393.3 244.3h1.3v1.1h-1.3zM412.3 247.6h1.3v1.1h-1.3zM393.9 238h1.3v1.1h-1.3zM308.5 265.3h1.3v1.1h-1.3zM365.9 249.2h1.3v1.1h-1.3zM368.7 227.8h1.3v1.1h-1.3zM343.8 213.5h1.3v1.1h-1.3zM339.4 259.2h1.3v1.1h-1.3zM334.3 218.2h1.3v1.1h-1.3zM408.4 244.2h1.3v1.1h-1.3zM332.1 214.8h1.3v1.1h-1.3zM351.9 256.5h1.3v1.1h-1.3zM332.8 259.6h1.3v1.1h-1.3zM304.2 239.7h1.3v1.1h-1.3zM323 214.1h1.3v1.1h-1.3zM317.3 210.7h1.3v1.1h-1.3zM352 254.6h1.3v1.1h-1.3zM414.5 241.3h1.3v1.1h-1.3zM383.5 235h1.3v1.1h-1.3zM303.9 238.2h1.3v1.1h-1.3zM381 233.7h1.3v1.1h-1.3zM406.8 239.6h1.3v1.1h-1.3zM337.5 256.6h1.3v1.1h-1.3zM340.1 257h1.3v1.1h-1.3zM318.8 208.5h1.3v1.1h-1.3zM303.6 220.9h1.3v1.1h-1.3zM414.4 244.5h1.3v1.1h-1.3zM376.6 232.5h1.3v1.1h-1.3zM310.9 268h1.3v1.1h-1.3zM316 263.2h1.3v1.1h-1.3zM300.7 229.9h1.3v1.1h-1.3zM335.1 215.9h1.3v1.1h-1.3zM351.8 254.1h1.3v1.1h-1.3zM314.5 265.3h1.3v1.1h-1.3zM347.6 222.9h1.3v1.1h-1.3zM304 242.1h1.3v1.1h-1.3zM378.2 231.1h1.3v1.1h-1.3zM409.7 246h1.3v1.1h-1.3zM344 221.5h1.3v1.1h-1.3zM359.5 220.7h1.3v1.1h-1.3zM405.6 243.2h1.3v1.1h-1.3zM323.8 211.7h1.3v1.1h-1.3zM341.8 254.1h1.3v1.1h-1.3zM303.6 228.4h1.3v1.1h-1.3zM303.5 230.7h1.3v1.1h-1.3zM405.1 248.6h1.3v1.1h-1.3zM307.7 262.2h1.3v1.1h-1.3zM304.7 262.8h1.3v1.1h-1.3zM316.1 211.4h1.3v1.1h-1.3zM419 242.4h1.3v1.1h-1.3zM412.8 239.8h1.3v1.1h-1.3zM315.1 266.3h1.3v1.1h-1.3zM367.2 249.6h1.3v1.1h-1.3zM389 245.4h1.3v1.1h-1.3zM301.3 212.7h1.3v1.1h-1.3zM332.2 213.3h1.3v1.1h-1.3zM356.5 224.2h1.3v1.1h-1.3zM297.1 235h1.3v1.1h-1.3zM303.8 226.2h1.3v1.1h-1.3zM312.1 209.9h1.3v1.1h-1.3zM391.4 245.3h1.3v1.1h-1.3zM346.3 256h1.3v1.1h-1.3zM324.9 213.1h1.3v1.1h-1.3zM316.1 206.9h1.3v1.1h-1.3zM394.8 232.1h1.3v1.1h-1.3zM339.8 219.7h1.3v1.1h-1.3zM332.6 214.7h1.3v1.1h-1.3zM395.9 246h1.3v1.1h-1.3zM346.8 222.1h1.3v1.1h-1.3zM341.6 220.7h1.3v1.1h-1.3zM335.5 217.6h1.3v1.1h-1.3zM414.5 238.4h1.3v1.1h-1.3zM420.3 245.1h1.3v1.1h-1.3zM316.9 208.8h1.3v1.1h-1.3zM366.8 230h1.3v1.1h-1.3zM379.8 231.9h1.3v1.1h-1.3zM329.2 215h1.3v1.1h-1.3zM412.8 246.6h1.3v1.1h-1.3zM381.8 246.3h1.3v1.1h-1.3zM363.8 229.4h1.3v1.1h-1.3zM302.5 218.6h1.3v1.1h-1.3zM325.9 214.1h1.3v1.1h-1.3zM316.1 207.9h1.3v1.1h-1.3zM399.9 244.4h1.3v1.1h-1.3zM416.8 242.2h1.3v1.1h-1.3zM306 266.4h1.3v1.1h-1.3zM381.4 234.8h1.3v1.1h-1.3zM408.3 233.8h1.3v1.1h-1.3zM385.1 234.3h1.3v1.1h-1.3zM308.7 266.7h1.3v1.1h-1.3zM302.9 228.6h1.3v1.1h-1.3zM338.2 255.8h1.3v1.1h-1.3zM398.4 246.3h1.3v1.1h-1.3zM333 216.9h1.3v1.1h-1.3zM340.4 220.7h1.3v1.1h-1.3zM398.9 236.9h1.3v1.1h-1.3zM390.6 233.5h1.3v1.1h-1.3zM387.2 245.2h1.3v1.1h-1.3zM367.2 248.7h1.3v1.1h-1.3zM317.4 264.3h1.3v1.1h-1.3zM373.8 247.9h1.3v1.1h-1.3zM395 245.8h1.3v1.1h-1.3zM319.4 207.7h1.3v1.1h-1.3zM382.7 245.8h1.3v1.1h-1.3zM409 237.4h1.3v1.1h-1.3zM362.2 251.3h1.3v1.1h-1.3zM302.8 215h1.3v1.1h-1.3zM340.4 257.3h1.3v1.1h-1.3zM314.6 211.2h1.3v1.1h-1.3zM403.1 239.7h1.3v1.1h-1.3zM302.6 240.8h1.3v1.1h-1.3zM310.6 209.3h1.3v1.1h-1.3zM409 244.7h1.3v1.1h-1.3zM339.2 220.1h1.3v1.1h-1.3zM408.6 238.9h1.3v1.1h-1.3zM313.4 267.9h1.3v1.1h-1.3zM332.3 216.6h1.3v1.1h-1.3zM358 254.8h1.3v1.1h-1.3zM307.9 265h1.3v1.1h-1.3zM330.4 261.6h1.3v1.1h-1.3zM346 253.9h1.3v1.1h-1.3zM303.5 217.1h1.3v1.1h-1.3zM400.9 239.2h1.3v1.1h-1.3zM393.2 246.4h1.3v1.1h-1.3zM394.6 246h1.3v1.1h-1.3zM303.9 232.3h1.3v1.1h-1.3zM312.9 270.3h1.3v1.1h-1.3zM303.8 204.9h1.3v1.1h-1.3zM348.1 256.4h1.3v1.1h-1.3zM374.2 250.4h1.3v1.1h-1.3zM418.8 243h1.3v1.1h-1.3zM396.3 245.7h1.3v1.1h-1.3zM350.7 259.3h1.3v1.1h-1.3zM363.9 229.1h1.3v1.1h-1.3zM392.6 245.9h1.3v1.1h-1.3zM364.2 251.9h1.3v1.1h-1.3zM302.9 255.4h1.3v1.1h-1.3zM298.6 230.4h1.3v1.1h-1.3zM317.8 264.1h1.3v1.1h-1.3zM363.1 250.7h1.3v1.1h-1.3zM409.2 238.2h1.3v1.1h-1.3zM353.5 224.5h1.3v1.1h-1.3zM340.1 220.4h1.3v1.1h-1.3zM354.3 222.6h1.3v1.1h-1.3zM303.9 245.7h1.3v1.1h-1.3zM303.8 257.2h1.3v1.1h-1.3zM399.9 236.6h1.3v1.1h-1.3zM402.5 245.4h1.3v1.1h-1.3zM413.1 243.8h1.3v1.1h-1.3zM419.6 242.4h1.3v1.1h-1.3zM363.5 225.6h1.3v1.1h-1.3zM363.6 251.5h1.3v1.1h-1.3zM333.1 256.6h1.3v1.1h-1.3zM397.5 250.8h1.3v1.1h-1.3zM321 267.9h1.3v1.1h-1.3zM344 255.8h1.3v1.1h-1.3zM402.6 246.5h1.3v1.1h-1.3zM394.7 237.5h1.3v1.1h-1.3zM368.6 228.2h1.3v1.1h-1.3zM302.7 228.7h1.3v1.1h-1.3zM395 247.1h1.3v1.1h-1.3zM415 246.9h1.3v1.1h-1.3zM306.8 206.6h1.3v1.1h-1.3zM339.9 260.3h1.3v1.1h-1.3zM302.3 215.8h1.3v1.1h-1.3zM407.2 245.5h1.3v1.1h-1.3zM313.2 264.6h1.3v1.1h-1.3zM308.3 208h1.3v1.1h-1.3zM303.8 229h1.3v1.1h-1.3zM344 254.8h1.3v1.1h-1.3zM296.2 208.5h1.3v1.1h-1.3zM413.2 243.9h1.3v1.1h-1.3zM310.3 207.3h1.3v1.1h-1.3zM379.3 234.2h1.3v1.1h-1.3zM324.8 207.2h1.3v1.1h-1.3zM361.3 253.4h1.3v1.1h-1.3zM413.6 247.6h1.3v1.1h-1.3zM402.7 244.9h1.3v1.1h-1.3zM353.7 221.4h1.3v1.1h-1.3zM365.6 250.1h1.3v1.1h-1.3zM302 212.2h1.3v1.1h-1.3zM306.4 265.4h1.3v1.1h-1.3zM356.6 251.3h1.3v1.1h-1.3zM300.1 218.9h1.3v1.1h-1.3zM386.5 248h1.3v1.1h-1.3zM310.1 208.8h1.3v1.1h-1.3zM386.3 234.8h1.3v1.1h-1.3zM303.4 213.7h1.3v1.1h-1.3zM322.2 260.7h1.3v1.1h-1.3zM413.6 243.3h1.3v1.1h-1.3zM309.7 206.8h1.3v1.1h-1.3zM331.4 257.1h1.3v1.1h-1.3zM333.5 218.2h1.3v1.1h-1.3zM312.5 264.6h1.3v1.1h-1.3zM383.1 234.7h1.3v1.1h-1.3zM300.4 258.2h1.3v1.1h-1.3zM300.5 235.7h1.3v1.1h-1.3zM337.5 219.9h1.3v1.1h-1.3zM362.2 222.7h1.3v1.1h-1.3zM406.8 245.2h1.3v1.1h-1.3zM323.2 259.7h1.3v1.1h-1.3zM301.5 217.1h1.3v1.1h-1.3zM362.2 250.6h1.3v1.1h-1.3zM395.9 246.1h1.3v1.1h-1.3zM394.2 237.6h1.3v1.1h-1.3zM401.2 239.7h1.3v1.1h-1.3zM372.9 229.2h1.3v1.1h-1.3zM343.2 257.4h1.3v1.1h-1.3zM413.2 241.7h1.3v1.1h-1.3zM372.8 247.7h1.3v1.1h-1.3zM297.6 213.1h1.3v1.1h-1.3zM399.5 246.4h1.3v1.1h-1.3zM401.5 236.7h1.3v1.1h-1.3zM301.3 231.2h1.3v1.1h-1.3zM304.6 251.4h1.3v1.1h-1.3zM315.1 210h1.3v1.1h-1.3zM322.6 207.5h1.3v1.1h-1.3zM392.1 246.4h1.3v1.1h-1.3zM312.9 264.4h1.3v1.1h-1.3zM407 239.6h1.3v1.1h-1.3zM361.9 225.5h1.3v1.1h-1.3zM399.2 237.1h1.3v1.1h-1.3zM403.4 236.3h1.3v1.1h-1.3zM384.6 246.2h1.3v1.1h-1.3zM319.7 262.7h1.3v1.1h-1.3zM306.6 257.6h1.3v1.1h-1.3zM304.6 249.3h1.3v1.1h-1.3zM304.5 235.9h1.3v1.1h-1.3zM400.8 239.7h1.3v1.1h-1.3zM366 251.3h1.3v1.1h-1.3zM338 219h1.3v1.1h-1.3zM334.6 262.1h1.3v1.1h-1.3zM304.4 241.4h1.3v1.1h-1.3zM348.4 221.7h1.3v1.1h-1.3zM301.9 217.8h1.3v1.1h-1.3zM400.5 245h1.3v1.1h-1.3zM334.4 216.4h1.3v1.1h-1.3zM305.6 250.9h1.3v1.1h-1.3zM393 237.9h1.3v1.1h-1.3zM307.5 209.4h1.3v1.1h-1.3zM351.8 253.1h1.3v1.1h-1.3zM417.8 239.4h1.3v1.1h-1.3zM381.9 232.3h1.3v1.1h-1.3zM308 265.6h1.3v1.1h-1.3zM399.8 232.6h1.3v1.1h-1.3zM406 247.9h1.3v1.1h-1.3zM352.9 253.1h1.3v1.1h-1.3zM299.8 227.9h1.3v1.1h-1.3zM391.6 246.3h1.3v1.1h-1.3zM324.4 210h1.3v1.1h-1.3zM341.2 255.3h1.3v1.1h-1.3zM342.3 261.4h1.3v1.1h-1.3zM362.4 252.9h1.3v1.1h-1.3zM340.3 256.7h1.3v1.1h-1.3zM360.1 251.2h1.3v1.1h-1.3zM303.8 226.8h1.3v1.1h-1.3zM419.4 242.3h1.3v1.1h-1.3zM361.2 220h1.3v1.1h-1.3zM352.1 224.9h1.3v1.1h-1.3zM304.1 247.1h1.3v1.1h-1.3zM355.8 251.1h1.3v1.1h-1.3zM303.7 221.2h1.3v1.1h-1.3zM302.3 233.6h1.3v1.1h-1.3zM372.3 229.6h1.3v1.1h-1.3zM303.6 214.1h1.3v1.1h-1.3zM394.6 237.3h1.3v1.1h-1.3zM374.4 232.6h1.3v1.1h-1.3zM345.8 256.1h1.3v1.1h-1.3zM373 225.4h1.3v1.1h-1.3zM397.1 236.3h1.3v1.1h-1.3zM305 250.6h1.3v1.1h-1.3zM301.6 239.6h1.3v1.1h-1.3zM343.1 254h1.3v1.1h-1.3zM398 237.5h1.3v1.1h-1.3zM303.9 256.9h1.3v1.1h-1.3zM303.3 232.8h1.3v1.1h-1.3zM313.8 206.8h1.3v1.1h-1.3zM312.9 206.3h1.3v1.1h-1.3zM378.5 246.8h1.3v1.1h-1.3zM410 238.5h1.3v1.1h-1.3zM419.4 248.6h1.3v1.1h-1.3zM353.9 251.1h1.3v1.1h-1.3zM404.8 245.5h1.3v1.1h-1.3zM303.6 235.6h1.3v1.1h-1.3zM307.2 264.3h1.3v1.1h-1.3zM322.2 212.6h1.3v1.1h-1.3zM334.8 259h1.3v1.1h-1.3zM303.1 218.5h1.3v1.1h-1.3zM306.4 259.2h1.3v1.1h-1.3zM322 211h1.3v1.1h-1.3zM364.6 228.6h1.3v1.1h-1.3zM304.8 256.9h1.3v1.1h-1.3zM404 244.1h1.3v1.1h-1.3zM301.4 216.7h1.3v1.1h-1.3zM382 232.4h1.3v1.1h-1.3zM345.3 218.3h1.3v1.1h-1.3zM346.9 254.6h1.3v1.1h-1.3zM297.4 213.5h1.3v1.1h-1.3zM330.8 260h1.3v1.1h-1.3zM365.6 226.8h1.3v1.1h-1.3zM348.2 255.5h1.3v1.1h-1.3zM319.4 263.7h1.3v1.1h-1.3zM351.9 223.2h1.3v1.1h-1.3zM343.6 254.9h1.3v1.1h-1.3zM369.2 248.9h1.3v1.1h-1.3zM334.7 216.4h1.3v1.1h-1.3zM308.6 266.3h1.3v1.1h-1.3zM414 242.9h1.3v1.1h-1.3zM387.6 245.3h1.3v1.1h-1.3zM304.6 258.2h1.3v1.1h-1.3zM412.4 246.5h1.3v1.1h-1.3zM404.4 239.1h1.3v1.1h-1.3zM407.9 244.1h1.3v1.1h-1.3zM350.6 255.2h1.3v1.1h-1.3zM368.4 250.4h1.3v1.1h-1.3zM351.6 252.7h1.3v1.1h-1.3zM384.6 229.4h1.3v1.1h-1.3zM417.1 240.9h1.3v1.1h-1.3zM364.6 253.9h1.3v1.1h-1.3zM308 262.9h1.3v1.1h-1.3zM375.7 232h1.3v1.1h-1.3zM305.7 247.1h1.3v1.1h-1.3zM371.1 228.3h1.3v1.1h-1.3zM378.5 248.6h1.3v1.1h-1.3zM379.5 254.2h1.3v1.1h-1.3zM382.5 235.4h1.3v1.1h-1.3zM375.5 252h1.3v1.1h-1.3zM354 226.1h1.3v1.1h-1.3zM315.2 210.5h1.3v1.1h-1.3zM322.4 260.8h1.3v1.1h-1.3zM302.8 242.5h1.3v1.1h-1.3zM335.5 215.2h1.3v1.1h-1.3zM336.4 218.8h1.3v1.1h-1.3zM305.4 251.2h1.3v1.1h-1.3zM382.8 234.7h1.3v1.1h-1.3zM321.5 213.3h1.3v1.1h-1.3zM300 209.7h1.3v1.1h-1.3zM318.7 208.8h1.3v1.1h-1.3zM304.4 245.1h1.3v1.1h-1.3zM414.4 240.2h1.3v1.1h-1.3zM383.9 234.1h1.3v1.1h-1.3zM359.5 225h1.3v1.1h-1.3zM315.1 207.7h1.3v1.1h-1.3zM379.6 230.8h1.3v1.1h-1.3zM385.3 247.1h1.3v1.1h-1.3zM334.3 216.5h1.3v1.1h-1.3zM399.4 239.4h1.3v1.1h-1.3zM371.3 248.4h1.3v1.1h-1.3zM342.7 221.7h1.3v1.1h-1.3zM344.3 255.5h1.3v1.1h-1.3zM303.4 209.4h1.3v1.1h-1.3zM385.7 248.9h1.3v1.1h-1.3zM337.7 219.6h1.3v1.1h-1.3zM336.7 217.4h1.3v1.1h-1.3zM353.4 254h1.3v1.1h-1.3zM321.6 260.3h1.3v1.1h-1.3zM396.8 238.1h1.3v1.1h-1.3zM418.5 243h1.3v1.1h-1.3zM331 216.7h1.3v1.1h-1.3zM378.4 230.3h1.3v1.1h-1.3zM380.7 254.4h1.3v1.1h-1.3zM372.4 229.5h1.3v1.1h-1.3zM304.1 239.8h1.3v1.1h-1.3zM300.4 229.2h1.3v1.1h-1.3zM378.8 230.1h1.3v1.1h-1.3zM299.7 232.3h1.3v1.1h-1.3zM305.2 207.4h1.3v1.1h-1.3zM369.2 229.7h1.3v1.1h-1.3zM303.1 241.5h1.3v1.1h-1.3zM357 251.3h1.3v1.1h-1.3zM310.5 208h1.3v1.1h-1.3zM338.5 258.7h1.3v1.1h-1.3zM360.1 253.1h1.3v1.1h-1.3zM359.8 250.3h1.3v1.1h-1.3zM339.7 261.3h1.3v1.1h-1.3zM352.1 253.9h1.3v1.1h-1.3zM312 203.7h1.3v1.1h-1.3zM352.3 253.8h1.3v1.1h-1.3zM382.6 247.5h1.3v1.1h-1.3zM307.3 205.5h1.3v1.1h-1.3zM349 223.5h1.3v1.1h-1.3zM304.7 242.2h1.3v1.1h-1.3zM327.3 258.6h1.3v1.1h-1.3zM382.3 228.1h1.3v1.1h-1.3zM303.9 207.6h1.3v1.1h-1.3zM405.6 239.5h1.3v1.1h-1.3zM353 253.1h1.3v1.1h-1.3zM303 220h1.3v1.1h-1.3zM306.7 263.8h1.3v1.1h-1.3zM344.6 219.1h1.3v1.1h-1.3zM366.2 227.8h1.3v1.1h-1.3zM304.1 223.7h1.3v1.1h-1.3zM323.3 214.4h1.3v1.1h-1.3zM379 232.7h1.3v1.1h-1.3zM355.7 251.5h1.3v1.1h-1.3zM345.1 255.2h1.3v1.1h-1.3zM322.9 209.1h1.3v1.1h-1.3zM327.9 209.8h1.3v1.1h-1.3zM311.7 270h1.3v1.1h-1.3zM312.3 209.5h1.3v1.1h-1.3zM398.4 244.9h1.3v1.1h-1.3zM303.3 227.6h1.3v1.1h-1.3zM300.4 214.6h1.3v1.1h-1.3zM366.7 228.9h1.3v1.1h-1.3zM302.9 228.7h1.3v1.1h-1.3zM364.5 250.1h1.3v1.1h-1.3zM298.7 246.6h1.3v1.1h-1.3zM329.5 258.5h1.3v1.1h-1.3zM359.7 253.5h1.3v1.1h-1.3zM396.1 236.7h1.3v1.1h-1.3zM403.9 240.1h1.3v1.1h-1.3zM300.7 209.7h1.3v1.1h-1.3zM420.4 238.8h1.3v1.1h-1.3zM305 246.8h1.3v1.1h-1.3zM317.3 210.9h1.3v1.1h-1.3zM328.5 262.6h1.3v1.1h-1.3zM329 215.7h1.3v1.1h-1.3zM301.5 241.6h1.3v1.1h-1.3zM372.7 249.1h1.3v1.1h-1.3zM351.4 224.4h1.3v1.1h-1.3zM364.3 222h1.3v1.1h-1.3zM376 255.6h1.3v1.1h-1.3zM305.4 249.5h1.3v1.1h-1.3zM315 210.8h1.3v1.1h-1.3zM315.5 263.8h1.3v1.1h-1.3zM411.5 236.7h1.3v1.1h-1.3zM417.6 238.8h1.3v1.1h-1.3zM398.1 244.1h1.3v1.1h-1.3zM309.6 208.5h1.3v1.1h-1.3zM327.6 259.2h1.3v1.1h-1.3zM404.5 237.5h1.3v1.1h-1.3zM391.7 235.8h1.3v1.1h-1.3zM373.2 250.6h1.3v1.1h-1.3zM337.8 219.6h1.3v1.1h-1.3zM354.5 224.9h1.3v1.1h-1.3zM394.1 234.8h1.3v1.1h-1.3zM326.7 261.4h1.3v1.1h-1.3zM408.1 247.2h1.3v1.1h-1.3zM339.8 217.3h1.3v1.1h-1.3zM319.8 260.9h1.3v1.1h-1.3zM314.2 266.4h1.3v1.1h-1.3zM337.7 256.7h1.3v1.1h-1.3zM302.7 256.7h1.3v1.1h-1.3zM305.3 253.3h1.3v1.1h-1.3zM297.7 252.3h1.3v1.1h-1.3zM323.1 264.3h1.3v1.1h-1.3zM379.3 232.9h1.3v1.1h-1.3zM388.4 245.6h1.3v1.1h-1.3zM401.7 231.4h1.3v1.1h-1.3zM336.4 255.8h1.3v1.1h-1.3zM301.5 239.2h1.3v1.1h-1.3zM322.7 213.9h1.3v1.1h-1.3zM365 228.1h1.3v1.1h-1.3zM306.6 262.3h1.3v1.1h-1.3zM341.5 218.3h1.3v1.1h-1.3zM395.1 248.1h1.3v1.1h-1.3zM302.8 233.1h1.3v1.1h-1.3zM304.8 239.3h1.3v1.1h-1.3zM395.1 238.2h1.3v1.1h-1.3zM303 233.9h1.3v1.1h-1.3zM301.9 218.8h1.3v1.1h-1.3zM419.4 244.2h1.3v1.1h-1.3zM347.9 221.4h1.3v1.1h-1.3zM408.9 241.2h1.3v1.1h-1.3zM401.7 239.8h1.3v1.1h-1.3zM383.5 249.7h1.3v1.1h-1.3zM394.8 248.3h1.3v1.1h-1.3zM359.2 226.9h1.3v1.1h-1.3zM309.1 209.4h1.3v1.1h-1.3zM300.9 233.1h1.3v1.1h-1.3zM411.1 239.6h1.3v1.1h-1.3zM331.5 258.4h1.3v1.1h-1.3zM334.1 215.8h1.3v1.1h-1.3zM409.5 243.1h1.3v1.1h-1.3zM415.8 239.6h1.3v1.1h-1.3zM361 251.2h1.3v1.1h-1.3zM406 239.9h1.3v1.1h-1.3zM299.4 209h1.3v1.1h-1.3zM382 228.2h1.3v1.1h-1.3zM327.2 259h1.3v1.1h-1.3zM388.2 236.9h1.3v1.1h-1.3zM326.5 258.7h1.3v1.1h-1.3zM380.4 248h1.3v1.1h-1.3zM340.3 257.3h1.3v1.1h-1.3zM303.7 230.8h1.3v1.1h-1.3zM384.3 245.5h1.3v1.1h-1.3zM303.9 247.4h1.3v1.1h-1.3zM306.7 264.1h1.3v1.1h-1.3zM394.5 245.3h1.3v1.1h-1.3zM392.2 245.6h1.3v1.1h-1.3zM303.4 212.7h1.3v1.1h-1.3zM299 225h1.3v1.1h-1.3zM386 251h1.3v1.1h-1.3zM370.6 229.3h1.3v1.1h-1.3zM317.8 211.6h1.3v1.1h-1.3zM308 208.7h1.3v1.1h-1.3zM304.3 246.7h1.3v1.1h-1.3zM335.9 256.6h1.3v1.1h-1.3zM337.5 218.3h1.3v1.1h-1.3zM329.6 259.1h1.3v1.1h-1.3zM359.4 221.4h1.3v1.1h-1.3zM343 255h1.3v1.1h-1.3zM350.5 258.1h1.3v1.1h-1.3zM395.2 248.7h1.3v1.1h-1.3zM323 212.3h1.3v1.1h-1.3zM304.7 242.6h1.3v1.1h-1.3zM343.2 218h1.3v1.1h-1.3zM375.6 226.2h1.3v1.1h-1.3zM388.4 235.1h1.3v1.1h-1.3zM354.2 225.7h1.3v1.1h-1.3zM342.9 256.1h1.3v1.1h-1.3zM396.7 244.4h1.3v1.1h-1.3zM331 257.3h1.3v1.1h-1.3zM413.1 250h1.3v1.1h-1.3zM380.8 234.1h1.3v1.1h-1.3zM359.2 254.1h1.3v1.1h-1.3zM319.4 208.5h1.3v1.1h-1.3zM382.7 232.9h1.3v1.1h-1.3zM320.4 262.1h1.3v1.1h-1.3zM318.9 211.1h1.3v1.1h-1.3zM302.7 218.4h1.3v1.1h-1.3zM383.7 235.7h1.3v1.1h-1.3zM399.6 247.8h1.3v1.1h-1.3zM412.7 243.2h1.3v1.1h-1.3zM351.2 224.6h1.3v1.1h-1.3zM304.8 261.6h1.3v1.1h-1.3zM416.7 240.6h1.3v1.1h-1.3zM417.6 241.4h1.3v1.1h-1.3zM381.1 226.1h1.3v1.1h-1.3zM339.9 260.8h1.3v1.1h-1.3zM342 262.7h1.3v1.1h-1.3zM371.7 249.3h1.3v1.1h-1.3zM305.3 240.7h1.3v1.1h-1.3zM338.7 255.7h1.3v1.1h-1.3zM331.3 217.6h1.3v1.1h-1.3zM303.9 224.9h1.3v1.1h-1.3zM395.2 238.4h1.3v1.1h-1.3zM305.2 251.5h1.3v1.1h-1.3zM355 253.8h1.3v1.1h-1.3zM391.6 235.9h1.3v1.1h-1.3zM302 223h1.3v1.1h-1.3zM301 214.6h1.3v1.1h-1.3zM337.8 216.2h1.3v1.1h-1.3zM334.3 258h1.3v1.1h-1.3zM299.2 244.2h1.3v1.1h-1.3zM335.8 219.5h1.3v1.1h-1.3zM304.1 226h1.3v1.1h-1.3zM345.1 217.7h1.3v1.1h-1.3zM314.5 204.5h1.3v1.1h-1.3zM303.2 235.4h1.3v1.1h-1.3zM303.8 221.7h1.3v1.1h-1.3zM380.4 234.4h1.3v1.1h-1.3zM411.6 244.9h1.3v1.1h-1.3zM416.7 235.8h1.3v1.1h-1.3zM399.1 238.7h1.3v1.1h-1.3zM328.4 212.7h1.3v1.1h-1.3zM303.4 232.7h1.3v1.1h-1.3zM414.5 240.6h1.3v1.1h-1.3zM377.4 247.6h1.3v1.1h-1.3zM356.9 251h1.3v1.1h-1.3zM346 258.9h1.3v1.1h-1.3zM416 249.9h1.3v1.1h-1.3zM420 239.5h1.3v1.1h-1.3zM384.4 235.9h1.3v1.1h-1.3zM395.3 237.3h1.3v1.1h-1.3zM390.4 245.5h1.3v1.1h-1.3zM371.2 250.7h1.3v1.1h-1.3zM313.6 266.7h1.3v1.1h-1.3zM414 244.8h1.3v1.1h-1.3zM307.5 262.3h1.3v1.1h-1.3zM302.7 233.2h1.3v1.1h-1.3zM351.8 253.1h1.3v1.1h-1.3zM362.9 228.8h1.3v1.1h-1.3zM344.8 254.5h1.3v1.1h-1.3zM324.8 259.3h1.3v1.1h-1.3zM345.5 256.4h1.3v1.1h-1.3zM405.5 244.9h1.3v1.1h-1.3zM314.3 211h1.3v1.1h-1.3zM324.6 260.9h1.3v1.1h-1.3zM320.7 210.5h1.3v1.1h-1.3zM296.5 224.1h1.3v1.1h-1.3zM365.4 252.4h1.3v1.1h-1.3zM333.7 264h1.3v1.1h-1.3zM324.3 214h1.3v1.1h-1.3zM300.3 223.4h1.3v1.1h-1.3zM361.8 228.7h1.3v1.1h-1.3zM400.5 244.8h1.3v1.1h-1.3zM415.2 239.7h1.3v1.1h-1.3zM310.6 269.6h1.3v1.1h-1.3zM364.4 226.9h1.3v1.1h-1.3zM303.7 224.9h1.3v1.1h-1.3zM340.3 218.9h1.3v1.1h-1.3zM365.1 229.8h1.3v1.1h-1.3zM303.8 254.5h1.3v1.1h-1.3zM354.1 223.5h1.3v1.1h-1.3zM360.1 223.8h1.3v1.1h-1.3zM334.9 218.8h1.3v1.1h-1.3zM375.2 231.9h1.3v1.1h-1.3zM374.6 231h1.3v1.1h-1.3zM417 242.7h1.3v1.1h-1.3zM337.5 263.6h1.3v1.1h-1.3zM391.5 244.6h1.3v1.1h-1.3zM376.8 233.1h1.3v1.1h-1.3zM338.8 255.7h1.3v1.1h-1.3zM409.9 240h1.3v1.1h-1.3zM395.7 235h1.3v1.1h-1.3zM379 247.7h1.3v1.1h-1.3zM376.3 231.5h1.3v1.1h-1.3zM410.4 242.7h1.3v1.1h-1.3zM369.2 248.4h1.3v1.1h-1.3zM331.3 257.8h1.3v1.1h-1.3zM400.1 238.7h1.3v1.1h-1.3zM303.4 215.4h1.3v1.1h-1.3zM302.2 234.3h1.3v1.1h-1.3zM419 240.1h1.3v1.1h-1.3zM302.3 233.2h1.3v1.1h-1.3zM314.4 206.6h1.3v1.1h-1.3zM414 243.2h1.3v1.1h-1.3zM296.1 221.9h1.3v1.1h-1.3zM389.8 237.1h1.3v1.1h-1.3zM337.6 218.8h1.3v1.1h-1.3zM420 242.2h1.3v1.1h-1.3zM307.3 259.5h1.3v1.1h-1.3zM391.8 236h1.3v1.1h-1.3zM310.7 208.2h1.3v1.1h-1.3zM300.7 210.5h1.3v1.1h-1.3zM377.3 229.7h1.3v1.1h-1.3zM304.5 242.6h1.3v1.1h-1.3zM406.9 243.2h1.3v1.1h-1.3zM313.5 272.2h1.3v1.1h-1.3zM349.8 255.6h1.3v1.1h-1.3zM301.3 237.1h1.3v1.1h-1.3zM381.9 234.9h1.3v1.1h-1.3zM327.6 215.7h1.3v1.1h-1.3zM360.8 228.2h1.3v1.1h-1.3zM330.3 217h1.3v1.1h-1.3zM399.7 245.2h1.3v1.1h-1.3zM306.9 257.7h1.3v1.1h-1.3zM357.4 252.9h1.3v1.1h-1.3zM386 233.7h1.3v1.1h-1.3zM372.4 249.5h1.3v1.1h-1.3zM302.1 238.4h1.3v1.1h-1.3zM368.1 248.8h1.3v1.1h-1.3zM321.3 261.6h1.3v1.1h-1.3zM312.9 267.1h1.3v1.1h-1.3zM374.6 250.6h1.3v1.1h-1.3zM374.6 248.2h1.3v1.1h-1.3zM363.5 250.4h1.3v1.1h-1.3zM387.1 235.1h1.3v1.1h-1.3zM330.2 257.5h1.3v1.1h-1.3zM353 224.9h1.3v1.1h-1.3zM367.2 250.3h1.3v1.1h-1.3zM302 254.5h1.3v1.1h-1.3zM311.7 268.6h1.3v1.1h-1.3zM389.1 235h1.3v1.1h-1.3zM317.1 212.2h1.3v1.1h-1.3zM356.5 222h1.3v1.1h-1.3zM402.9 243.9h1.3v1.1h-1.3zM300.4 228.1h1.3v1.1h-1.3zM365.6 230.1h1.3v1.1h-1.3zM363.4 227.9h1.3v1.1h-1.3zM307.3 206.3h1.3v1.1h-1.3zM402.6 246.6h1.3v1.1h-1.3zM402.1 237.9h1.3v1.1h-1.3zM411 245.2h1.3v1.1h-1.3zM307.1 260.1h1.3v1.1h-1.3zM303.4 234.7h1.3v1.1h-1.3zM414.4 245.7h1.3v1.1h-1.3zM314.3 269.7h1.3v1.1h-1.3zM393.8 235.9h1.3v1.1h-1.3zM404.1 237.7h1.3v1.1h-1.3zM324.5 259.9h1.3v1.1h-1.3zM304.8 240.7h1.3v1.1h-1.3zM419.4 245.4h1.3v1.1h-1.3zM297.9 231.9h1.3v1.1h-1.3zM364.7 251.3h1.3v1.1h-1.3zM317.2 203.2h1.3v1.1h-1.3zM415.8 242.6h1.3v1.1h-1.3zM420.1 242.3h1.3v1.1h-1.3zM325 259.6h1.3v1.1h-1.3zM387.4 232.6h1.3v1.1h-1.3zM382 248.2h1.3v1.1h-1.3zM306 258.5h1.3v1.1h-1.3zM389.7 246.3h1.3v1.1h-1.3zM391.9 234.6h1.3v1.1h-1.3zM338.7 218.4h1.3v1.1h-1.3zM344.8 220.5h1.3v1.1h-1.3zM410.7 244.8h1.3v1.1h-1.3zM333.7 212h1.3v1.1h-1.3zM322.8 262.3h1.3v1.1h-1.3zM354.9 251h1.3v1.1h-1.3zM300.8 213.2h1.3v1.1h-1.3zM373.3 231.4h1.3v1.1h-1.3zM378.5 230.4h1.3v1.1h-1.3zM313.3 210.6h1.3v1.1h-1.3zM321.5 211.5h1.3v1.1h-1.3zM311.9 268.5h1.3v1.1h-1.3zM394.8 236.2h1.3v1.1h-1.3zM302.7 208.1h1.3v1.1h-1.3zM310.7 270.2h1.3v1.1h-1.3zM343.1 254.3h1.3v1.1h-1.3zM299.5 211.6h1.3v1.1h-1.3zM414.6 242.5h1.3v1.1h-1.3zM307.5 265.2h1.3v1.1h-1.3zM304.3 229.9h1.3v1.1h-1.3zM352.5 252.6h1.3v1.1h-1.3zM400.4 245.5h1.3v1.1h-1.3zM323.9 213.8h1.3v1.1h-1.3zM319.1 263.1h1.3v1.1h-1.3zM378.5 251.4h1.3v1.1h-1.3zM304.7 232.5h1.3v1.1h-1.3zM343.1 257h1.3v1.1h-1.3zM402.1 245.4h1.3v1.1h-1.3zM308.5 208.8h1.3v1.1h-1.3zM390.6 235.1h1.3v1.1h-1.3zM384.1 251.9h1.3v1.1h-1.3zM368.1 248.4h1.3v1.1h-1.3zM301.6 232h1.3v1.1h-1.3zM309.9 207.4h1.3v1.1h-1.3zM403.4 245.3h1.3v1.1h-1.3zM325.3 259.4h1.3v1.1h-1.3zM329.2 260.6h1.3v1.1h-1.3zM408.9 243.8h1.3v1.1h-1.3zM373.8 231.3h1.3v1.1h-1.3zM302.6 235h1.3v1.1h-1.3zM403.6 250.4h1.3v1.1h-1.3zM337.9 259.6h1.3v1.1h-1.3zM319.8 213h1.3v1.1h-1.3zM362.4 250.2h1.3v1.1h-1.3zM414.4 242.8h1.3v1.1h-1.3zM343.8 221.4h1.3v1.1h-1.3zM407 243.4h1.3v1.1h-1.3zM346.9 223.2h1.3v1.1h-1.3zM353 222.1h1.3v1.1h-1.3zM371.4 249h1.3v1.1h-1.3zM326.3 214.4h1.3v1.1h-1.3zM318.9 265.5h1.3v1.1h-1.3zM302.7 215.5h1.3v1.1h-1.3zM344.8 220.7h1.3v1.1h-1.3zM377.2 251h1.3v1.1h-1.3zM324.1 209.9h1.3v1.1h-1.3zM305 240.3h1.3v1.1h-1.3zM401.3 246.7h1.3v1.1h-1.3zM324.5 262h1.3v1.1h-1.3zM328.9 259.3h1.3v1.1h-1.3zM369.3 249.1h1.3v1.1h-1.3zM302.8 242.6h1.3v1.1h-1.3zM352.1 222.4h1.3v1.1h-1.3zM417.2 241.2h1.3v1.1h-1.3zM356.7 224h1.3v1.1h-1.3zM323.8 259.9h1.3v1.1h-1.3zM295.3 215.5h1.3v1.1h-1.3zM334.6 217.5h1.3v1.1h-1.3zM414 241.9h1.3v1.1h-1.3zM411.5 245.2h1.3v1.1h-1.3zM400.7 238.4h1.3v1.1h-1.3zM341.7 219.8h1.3v1.1h-1.3zM300.2 216.8h1.3v1.1h-1.3zM312.1 208.8h1.3v1.1h-1.3zM362.7 225.6h1.3v1.1h-1.3zM312.1 267.1h1.3v1.1h-1.3zM308.8 207.9h1.3v1.1h-1.3zM335.4 258.1h1.3v1.1h-1.3zM408.1 240.2h1.3v1.1h-1.3zM302.8 209.1h1.3v1.1h-1.3zM305.2 206.2h1.3v1.1h-1.3zM355.7 225.5h1.3v1.1h-1.3zM302.9 237.1h1.3v1.1h-1.3zM338.8 217.8h1.3v1.1h-1.3zM303.6 219.9h1.3v1.1h-1.3zM302.8 212.4h1.3v1.1h-1.3zM385.7 247.5h1.3v1.1h-1.3zM394 235.5h1.3v1.1h-1.3zM327.4 264.1h1.3v1.1h-1.3zM301.7 224.7h1.3v1.1h-1.3zM374.9 247.1h1.3v1.1h-1.3zM304.9 246h1.3v1.1h-1.3zM316.4 266.5h1.3v1.1h-1.3zM336.2 219.6h1.3v1.1h-1.3zM303.9 248.7h1.3v1.1h-1.3zM318.8 211.4h1.3v1.1h-1.3zM304.3 241.9h1.3v1.1h-1.3zM390.9 244.7h1.3v1.1h-1.3zM321.3 213.4h1.3v1.1h-1.3zM397.8 238.4h1.3v1.1h-1.3zM423.9 242.5h1.3v1.1h-1.3zM373.7 248.3h1.3v1.1h-1.3zM372.2 249.1h1.3v1.1h-1.3zM300.6 236.2h1.3v1.1h-1.3zM323.7 213.3h1.3v1.1h-1.3zM318.8 212.5h1.3v1.1h-1.3zM361.8 249.6h1.3v1.1h-1.3zM417.4 243.2h1.3v1.1h-1.3zM306.3 261.7h1.3v1.1h-1.3zM401 236.5h1.3v1.1h-1.3zM351.1 256.7h1.3v1.1h-1.3zM390.4 245.8h1.3v1.1h-1.3zM317.1 210h1.3v1.1h-1.3zM301.5 233.8h1.3v1.1h-1.3zM349.9 257.5h1.3v1.1h-1.3zM404.4 239.8h1.3v1.1h-1.3zM341.3 254.8h1.3v1.1h-1.3zM315.8 209.3h1.3v1.1h-1.3zM315.2 263.7h1.3v1.1h-1.3zM298.8 218.2h1.3v1.1h-1.3zM334.1 218.1h1.3v1.1h-1.3zM302.3 259.6h1.3v1.1h-1.3zM305.1 249.6h1.3v1.1h-1.3zM333.5 212h1.3v1.1h-1.3zM304.4 251.3h1.3v1.1h-1.3zM300.9 227.6h1.3v1.1h-1.3zM388.6 234.2h1.3v1.1h-1.3zM362.7 221.3h1.3v1.1h-1.3zM342.5 254.1h1.3v1.1h-1.3zM304.1 205.7h1.3v1.1h-1.3zM309.4 268.3h1.3v1.1h-1.3zM302.6 229.4h1.3v1.1h-1.3zM302.5 237.8h1.3v1.1h-1.3zM304.7 234.8h1.3v1.1h-1.3zM315 263.9h1.3v1.1h-1.3zM369.9 252.3h1.3v1.1h-1.3zM358 226.6h1.3v1.1h-1.3zM405.2 239.8h1.3v1.1h-1.3zM346.4 222.6h1.3v1.1h-1.3zM329.7 258h1.3v1.1h-1.3zM396.5 244.6h1.3v1.1h-1.3zM352.9 251.7h1.3v1.1h-1.3zM393.4 245.9h1.3v1.1h-1.3zM326.3 214.1h1.3v1.1h-1.3zM400.5 247.4h1.3v1.1h-1.3zM404.4 243.4h1.3v1.1h-1.3zM404.7 245.5h1.3v1.1h-1.3zM336.8 218.6h1.3v1.1h-1.3zM361.5 226.5h1.3v1.1h-1.3zM367.3 225.5h1.3v1.1h-1.3zM300.8 237.7h1.3v1.1h-1.3zM376.8 246.8h1.3v1.1h-1.3zM376.5 247.4h1.3v1.1h-1.3zM395.6 246.2h1.3v1.1h-1.3zM415.2 242.7h1.3v1.1h-1.3zM378.3 247.5h1.3v1.1h-1.3zM306 249.8h1.3v1.1h-1.3zM410 237.7h1.3v1.1h-1.3zM348.5 255.2h1.3v1.1h-1.3zM379.8 234.1h1.3v1.1h-1.3zM306.4 263.5h1.3v1.1h-1.3zM417.9 244.5h1.3v1.1h-1.3zM374.4 248.1h1.3v1.1h-1.3zM305.3 249.8h1.3v1.1h-1.3zM306 251h1.3v1.1h-1.3zM384.6 245.5h1.3v1.1h-1.3zM403.3 244.6h1.3v1.1h-1.3zM339 219.9h1.3v1.1h-1.3zM327.2 213.2h1.3v1.1h-1.3zM336.5 256.8h1.3v1.1h-1.3zM300.8 237.1h1.3v1.1h-1.3zM390.5 245.1h1.3v1.1h-1.3zM364.3 251.7h1.3v1.1h-1.3zM335.4 257.1h1.3v1.1h-1.3zM334.7 212.3h1.3v1.1h-1.3zM302 222.3h1.3v1.1h-1.3zM376.6 232h1.3v1.1h-1.3zM326.5 213.3h1.3v1.1h-1.3zM417.9 244.8h1.3v1.1h-1.3zM347.4 219.2h1.3v1.1h-1.3zM411.5 243.9h1.3v1.1h-1.3zM356 252.2h1.3v1.1h-1.3zM391.2 229.8h1.3v1.1h-1.3zM319.2 212.5h1.3v1.1h-1.3zM390.4 237.2h1.3v1.1h-1.3zM386.3 232.8h1.3v1.1h-1.3zM362.2 225.9h1.3v1.1h-1.3zM306.6 259h1.3v1.1h-1.3zM307.6 208.8h1.3v1.1h-1.3zM354.4 226.1h1.3v1.1h-1.3zM354.7 225.3h1.3v1.1h-1.3zM382.6 245.8h1.3v1.1h-1.3zM411.5 243.9h1.3v1.1h-1.3zM358.4 251h1.3v1.1h-1.3zM371.3 247.8h1.3v1.1h-1.3zM321.7 261.2h1.3v1.1h-1.3zM386.1 251h1.3v1.1h-1.3zM381.5 247.3h1.3v1.1h-1.3zM355.2 252.4h1.3v1.1h-1.3zM350.3 254.2h1.3v1.1h-1.3zM389.9 248.5h1.3v1.1h-1.3zM371.7 251.2h1.3v1.1h-1.3zM384 246.8h1.3v1.1h-1.3zM379.5 233.7h1.3v1.1h-1.3zM303.4 222.9h1.3v1.1h-1.3zM394.5 236.9h1.3v1.1h-1.3zM304.6 248.4h1.3v1.1h-1.3zM327.2 260.8h1.3v1.1h-1.3zM381.6 234.9h1.3v1.1h-1.3zM335.1 256h1.3v1.1h-1.3zM305.1 253.3h1.3v1.1h-1.3zM373.2 250.5h1.3v1.1h-1.3zM370.6 248.4h1.3v1.1h-1.3zM364.5 251.8h1.3v1.1h-1.3zM349.7 223.1h1.3v1.1h-1.3zM417.7 241.1h1.3v1.1h-1.3zM353.8 251.8h1.3v1.1h-1.3zM301.3 242h1.3v1.1h-1.3zM343.8 255.8h1.3v1.1h-1.3zM330 263.3h1.3v1.1h-1.3zM337 217.3h1.3v1.1h-1.3zM302.7 227.8h1.3v1.1h-1.3zM361.4 227.6h1.3v1.1h-1.3zM399.9 236.9h1.3v1.1h-1.3zM387.8 245.6h1.3v1.1h-1.3zM313.9 210.5h1.3v1.1h-1.3zM350.3 252.3h1.3v1.1h-1.3zM375.7 247.7h1.3v1.1h-1.3zM417 240h1.3v1.1h-1.3zM405.5 240h1.3v1.1h-1.3zM415.1 246.9h1.3v1.1h-1.3zM311.9 204.6h1.3v1.1h-1.3zM371.4 228.3h1.3v1.1h-1.3zM367.1 227.8h1.3v1.1h-1.3zM376.8 226.4h1.3v1.1h-1.3zM350.5 260h1.3v1.1h-1.3zM335.5 256.7h1.3v1.1h-1.3zM353.2 256.3h1.3v1.1h-1.3zM340.3 220.4h1.3v1.1h-1.3zM325.5 262.2h1.3v1.1h-1.3zM387.1 236.5h1.3v1.1h-1.3zM346.6 254.7h1.3v1.1h-1.3zM402.6 240.2h1.3v1.1h-1.3zM371.1 230.8h1.3v1.1h-1.3zM302.9 221.8h1.3v1.1h-1.3zM304.2 238.3h1.3v1.1h-1.3zM302.7 230.3h1.3v1.1h-1.3zM337.1 217.7h1.3v1.1h-1.3zM369.9 251.3h1.3v1.1h-1.3zM331.1 212.7h1.3v1.1h-1.3zM304.1 257.8h1.3v1.1h-1.3zM358.4 251h1.3v1.1h-1.3zM339.2 254.7h1.3v1.1h-1.3zM303.8 264.8h1.3v1.1h-1.3zM321.2 210.5h1.3v1.1h-1.3zM346.1 220h1.3v1.1h-1.3zM351.5 220.2h1.3v1.1h-1.3zM406.2 245.1h1.3v1.1h-1.3zM319.4 209.8h1.3v1.1h-1.3zM383.8 234h1.3v1.1h-1.3zM418.6 240.9h1.3v1.1h-1.3zM306.6 264.2h1.3v1.1h-1.3zM305.7 250.8h1.3v1.1h-1.3zM300.8 218.7h1.3v1.1h-1.3zM349.6 253.7h1.3v1.1h-1.3zM322.2 212.8h1.3v1.1h-1.3zM377.8 246.7h1.3v1.1h-1.3zM303.9 249.9h1.3v1.1h-1.3zM305.3 263.2h1.3v1.1h-1.3zM416.2 248.3h1.3v1.1h-1.3zM392.4 248.8h1.3v1.1h-1.3zM401.6 244.4h1.3v1.1h-1.3zM382.7 233h1.3v1.1h-1.3zM307.7 209h1.3v1.1h-1.3zM418.6 242.5h1.3v1.1h-1.3zM330.6 258.5h1.3v1.1h-1.3zM381.4 234.9h1.3v1.1h-1.3zM299.7 221.8h1.3v1.1h-1.3zM336.7 219h1.3v1.1h-1.3zM365.1 251.8h1.3v1.1h-1.3zM340.2 221.1h1.3v1.1h-1.3zM401.1 237.3h1.3v1.1h-1.3zM377 233.7h1.3v1.1h-1.3zM321.1 261.2h1.3v1.1h-1.3zM317.6 266.1h1.3v1.1h-1.3zM304.5 206.7h1.3v1.1h-1.3zM339.2 257.7h1.3v1.1h-1.3zM323.6 214.4h1.3v1.1h-1.3zM403.5 238.5h1.3v1.1h-1.3zM360.9 252.7h1.3v1.1h-1.3zM384.3 248.1h1.3v1.1h-1.3zM353.1 221.5h1.3v1.1h-1.3zM402.7 235.8h1.3v1.1h-1.3zM305.6 202.9h1.3v1.1h-1.3zM317.9 211.2h1.3v1.1h-1.3zM304.8 241.8h1.3v1.1h-1.3zM327.6 215.9h1.3v1.1h-1.3zM365.9 226.4h1.3v1.1h-1.3zM402.9 246.2h1.3v1.1h-1.3zM410.2 238.4h1.3v1.1h-1.3zM304.4 262.8h1.3v1.1h-1.3zM306.2 265.6h1.3v1.1h-1.3zM411.2 239.8h1.3v1.1h-1.3zM415.8 242.6h1.3v1.1h-1.3zM413 243.4h1.3v1.1h-1.3zM303.6 262h1.3v1.1h-1.3zM346 258.7h1.3v1.1h-1.3zM303.7 217.9h1.3v1.1h-1.3zM312.5 264.5h1.3v1.1h-1.3zM344 219.6h1.3v1.1h-1.3zM348.3 220.9h1.3v1.1h-1.3zM367.3 248.6h1.3v1.1h-1.3zM395.2 244.3h1.3v1.1h-1.3zM357.2 226h1.3v1.1h-1.3zM320.2 212.3h1.3v1.1h-1.3zM372.1 226.1h1.3v1.1h-1.3zM392.5 237.1h1.3v1.1h-1.3zM379.4 249.1h1.3v1.1h-1.3zM300.9 233.1h1.3v1.1h-1.3zM367.2 230h1.3v1.1h-1.3zM406.3 238.2h1.3v1.1h-1.3zM351.8 252.4h1.3v1.1h-1.3zM377 251.4h1.3v1.1h-1.3zM310.6 208.4h1.3v1.1h-1.3zM329 258h1.3v1.1h-1.3zM394.2 234.9h1.3v1.1h-1.3zM310.2 268.4h1.3v1.1h-1.3zM374 224.6h1.3v1.1h-1.3zM393.6 248.1h1.3v1.1h-1.3zM414.2 241.5h1.3v1.1h-1.3zM420.4 242.3h1.3v1.1h-1.3zM354.7 252.1h1.3v1.1h-1.3zM419.4 246.3h1.3v1.1h-1.3zM340.5 219.8h1.3v1.1h-1.3zM391.6 236.7h1.3v1.1h-1.3zM303.6 239.6h1.3v1.1h-1.3zM337.8 257.3h1.3v1.1h-1.3zM313.9 209.4h1.3v1.1h-1.3zM376.7 232.2h1.3v1.1h-1.3zM356.7 251.1h1.3v1.1h-1.3zM408.8 245.7h1.3v1.1h-1.3zM352.7 221.1h1.3v1.1h-1.3zM304.2 244.3h1.3v1.1h-1.3zM304.1 230h1.3v1.1h-1.3zM398.8 238.5h1.3v1.1h-1.3zM328.3 259.3h1.3v1.1h-1.3zM401.9 235.6h1.3v1.1h-1.3zM344.2 222.3h1.3v1.1h-1.3zM384.5 235.1h1.3v1.1h-1.3zM350.7 223.3h1.3v1.1h-1.3zM390.1 236.2h1.3v1.1h-1.3zM326.9 212.1h1.3v1.1h-1.3zM400 244.1h1.3v1.1h-1.3zM327.7 259.6h1.3v1.1h-1.3zM350.8 255.6h1.3v1.1h-1.3zM301.9 248.1h1.3v1.1h-1.3zM407 233.4h1.3v1.1h-1.3zM329 258.5h1.3v1.1h-1.3zM388.4 235.6h1.3v1.1h-1.3zM344.1 219.8h1.3v1.1h-1.3zM305 240.8h1.3v1.1h-1.3zM351 254.8h1.3v1.1h-1.3zM363.3 223h1.3v1.1h-1.3zM320.9 205.1h1.3v1.1h-1.3zM400.5 235.6h1.3v1.1h-1.3zM311.4 265.4h1.3v1.1h-1.3zM389.5 245.1h1.3v1.1h-1.3zM340 216.8h1.3v1.1h-1.3zM335.2 258.5h1.3v1.1h-1.3zM367.2 250.6h1.3v1.1h-1.3zM376.9 229.9h1.3v1.1h-1.3zM326 259.2h1.3v1.1h-1.3zM303.3 244.9h1.3v1.1h-1.3zM312 265.8h1.3v1.1h-1.3zM357.2 255.9h1.3v1.1h-1.3zM304.4 252.4h1.3v1.1h-1.3zM330 215.7h1.3v1.1h-1.3zM376.6 250.1h1.3v1.1h-1.3zM301.1 253h1.3v1.1h-1.3zM352.6 255.1h1.3v1.1h-1.3zM302.8 231.1h1.3v1.1h-1.3zM355.2 224.6h1.3v1.1h-1.3zM388.8 235.3h1.3v1.1h-1.3zM304.4 258.4h1.3v1.1h-1.3zM390.8 234h1.3v1.1h-1.3zM332.7 260.8h1.3v1.1h-1.3zM322.1 213.9h1.3v1.1h-1.3zM324.7 260h1.3v1.1h-1.3zM303.3 218.8h1.3v1.1h-1.3zM340.9 217.8h1.3v1.1h-1.3zM306.1 208.1h1.3v1.1h-1.3zM402.4 239.7h1.3v1.1h-1.3zM393.9 245.2h1.3v1.1h-1.3zM301.3 212.6h1.3v1.1h-1.3zM311.4 271.6h1.3v1.1h-1.3zM403.6 246.8h1.3v1.1h-1.3zM409 240.7h1.3v1.1h-1.3zM346.8 221.2h1.3v1.1h-1.3zM305.8 251.2h1.3v1.1h-1.3zM330.5 258.4h1.3v1.1h-1.3zM337 218.5h1.3v1.1h-1.3zM379 233h1.3v1.1h-1.3zM353 220.8h1.3v1.1h-1.3zM353.9 252.1h1.3v1.1h-1.3zM346.8 258.1h1.3v1.1h-1.3zM340.8 256.3h1.3v1.1h-1.3zM360.6 257.2h1.3v1.1h-1.3zM301.4 210.9h1.3v1.1h-1.3zM362.2 250.2h1.3v1.1h-1.3zM300 220.2h1.3v1.1h-1.3zM301 243.2h1.3v1.1h-1.3zM400.9 236.2h1.3v1.1h-1.3zM337.7 255.5h1.3v1.1h-1.3zM366.4 250.2h1.3v1.1h-1.3zM342.7 219.8h1.3v1.1h-1.3zM361.4 227h1.3v1.1h-1.3zM314.1 264.1h1.3v1.1h-1.3zM354.4 219.3h1.3v1.1h-1.3zM311 209.9h1.3v1.1h-1.3zM405.2 237.9h1.3v1.1h-1.3zM362.8 227.2h1.3v1.1h-1.3zM307.2 266.4h1.3v1.1h-1.3zM317.4 263.3h1.3v1.1h-1.3zM394.1 244.7h1.3v1.1h-1.3zM372.2 228.8h1.3v1.1h-1.3zM304.6 206.2h1.3v1.1h-1.3zM399.6 238.7h1.3v1.1h-1.3zM308.5 267h1.3v1.1h-1.3zM304.7 244.9h1.3v1.1h-1.3zM302.9 221.6h1.3v1.1h-1.3zM307.4 208.7h1.3v1.1h-1.3zM301.8 222h1.3v1.1h-1.3zM408 241.2h1.3v1.1h-1.3zM344.6 219.1h1.3v1.1h-1.3zM379.2 233.4h1.3v1.1h-1.3zM343 221.5h1.3v1.1h-1.3zM369.7 250.1h1.3v1.1h-1.3zM325 262h1.3v1.1h-1.3zM368.8 228.3h1.3v1.1h-1.3zM304.3 206.3h1.3v1.1h-1.3zM375 228.7h1.3v1.1h-1.3zM390 234.3h1.3v1.1h-1.3zM301.8 228.1h1.3v1.1h-1.3zM414 240.5h1.3v1.1h-1.3zM300.7 231.3h1.3v1.1h-1.3zM342.8 255h1.3v1.1h-1.3zM376.5 250.8h1.3v1.1h-1.3zM343.1 261.2h1.3v1.1h-1.3zM415.9 240.3h1.3v1.1h-1.3zM328.7 216.6h1.3v1.1h-1.3zM356.5 225.8h1.3v1.1h-1.3zM405.8 239.5h1.3v1.1h-1.3zM333.5 259h1.3v1.1h-1.3zM348.8 223.5h1.3v1.1h-1.3zM417.8 241.2h1.3v1.1h-1.3zM302.3 211.1h1.3v1.1h-1.3zM348.6 254.1h1.3v1.1h-1.3zM336 215.8h1.3v1.1h-1.3zM377.1 247h1.3v1.1h-1.3zM317.4 209.4h1.3v1.1h-1.3zM308 264.8h1.3v1.1h-1.3zM312.5 266.6h1.3v1.1h-1.3zM327 259.9h1.3v1.1h-1.3zM350.7 256.2h1.3v1.1h-1.3zM305.9 259.7h1.3v1.1h-1.3zM301.7 216.5h1.3v1.1h-1.3zM382.9 234.6h1.3v1.1h-1.3zM343.3 254.9h1.3v1.1h-1.3zM415 241.5h1.3v1.1h-1.3zM391.4 237.1h1.3v1.1h-1.3zM303.5 225.7h1.3v1.1h-1.3zM302 231.8h1.3v1.1h-1.3zM301.2 231.7h1.3v1.1h-1.3zM387.6 251.7h1.3v1.1h-1.3zM335.1 217.6h1.3v1.1h-1.3zM365.9 226h1.3v1.1h-1.3zM389.4 235.9h1.3v1.1h-1.3zM352.9 256.9h1.3v1.1h-1.3zM373.2 226.9h1.3v1.1h-1.3zM347.7 219.1h1.3v1.1h-1.3zM409.6 239.4h1.3v1.1h-1.3zM360.3 226.6h1.3v1.1h-1.3zM303.3 215.7h1.3v1.1h-1.3zM406.8 244.1h1.3v1.1h-1.3zM299.1 248.7h1.3v1.1h-1.3zM326.5 211.1h1.3v1.1h-1.3zM361.9 257.3h1.3v1.1h-1.3zM301.7 208.8h1.3v1.1h-1.3zM368.3 226.8h1.3v1.1h-1.3zM397.5 245.7h1.3v1.1h-1.3zM330.7 260.3h1.3v1.1h-1.3zM303.4 210h1.3v1.1h-1.3zM366 224.7h1.3v1.1h-1.3zM401.5 246.2h1.3v1.1h-1.3zM394 235.5h1.3v1.1h-1.3zM303.2 261.6h1.3v1.1h-1.3zM348.6 221h1.3v1.1h-1.3zM379.2 234.2h1.3v1.1h-1.3zM357.1 251h1.3v1.1h-1.3zM350.4 222.3h1.3v1.1h-1.3zM301.8 221.9h1.3v1.1h-1.3zM318.5 207.5h1.3v1.1h-1.3zM321.1 213.4h1.3v1.1h-1.3zM399.8 246.5h1.3v1.1h-1.3zM401.9 245.5h1.3v1.1h-1.3zM404.6 246.1h1.3v1.1h-1.3zM386.4 246.8h1.3v1.1h-1.3zM350 221.4h1.3v1.1h-1.3zM304.3 264.7h1.3v1.1h-1.3zM420.1 244.5h1.3v1.1h-1.3zM328.6 214.6h1.3v1.1h-1.3zM364.4 252.3h1.3v1.1h-1.3zM301.4 209h1.3v1.1h-1.3zM376.8 229.5h1.3v1.1h-1.3zM357.9 251.9h1.3v1.1h-1.3zM389.6 236.3h1.3v1.1h-1.3zM302.2 263.3h1.3v1.1h-1.3zM387.7 245.6h1.3v1.1h-1.3zM394.8 232.8h1.3v1.1h-1.3zM353 252.3h1.3v1.1h-1.3zM395.5 246.1h1.3v1.1h-1.3zM408 246.3h1.3v1.1h-1.3zM300.6 219.7h1.3v1.1h-1.3zM360.8 249.8h1.3v1.1h-1.3zM393.1 238.3h1.3v1.1h-1.3zM304.6 255h1.3v1.1h-1.3zM303.3 206.3h1.3v1.1h-1.3zM324 261.3h1.3v1.1h-1.3zM353 224.1h1.3v1.1h-1.3zM360.9 253.4h1.3v1.1h-1.3zM408.6 239.7h1.3v1.1h-1.3zM355.2 258.9h1.3v1.1h-1.3zM299.4 260.7h1.3v1.1h-1.3zM409.1 238.5h1.3v1.1h-1.3zM417.7 239.3h1.3v1.1h-1.3zM350.7 255.7h1.3v1.1h-1.3zM407.8 243.8h1.3v1.1h-1.3zM302.4 236.8h1.3v1.1h-1.3zM401.5 239.1h1.3v1.1h-1.3zM320.8 263.9h1.3v1.1h-1.3zM326.6 215.6h1.3v1.1h-1.3zM319.6 262.6h1.3v1.1h-1.3zM319.3 208.3h1.3v1.1h-1.3zM408 244.5h1.3v1.1h-1.3zM313.7 263.9h1.3v1.1h-1.3zM363.4 220.8h1.3v1.1h-1.3zM417.3 245.7h1.3v1.1h-1.3zM344.6 254.1h1.3v1.1h-1.3zM357.6 250.8h1.3v1.1h-1.3zM297.9 231.7h1.3v1.1h-1.3zM407.9 238h1.3v1.1h-1.3zM335 257.6h1.3v1.1h-1.3zM302.1 251.2h1.3v1.1h-1.3zM317.2 211.2h1.3v1.1h-1.3zM386.4 249.6h1.3v1.1h-1.3zM312.9 210.1h1.3v1.1h-1.3zM304.3 228.5h1.3v1.1h-1.3zM411.4 247.4h1.3v1.1h-1.3zM388 234.5h1.3v1.1h-1.3zM417.3 243h1.3v1.1h-1.3zM389.1 234.9h1.3v1.1h-1.3zM313.5 264.9h1.3v1.1h-1.3zM302.5 260.5h1.3v1.1h-1.3zM395.6 233.3h1.3v1.1h-1.3zM408.6 251h1.3v1.1h-1.3zM413 237.1h1.3v1.1h-1.3zM365.6 251h1.3v1.1h-1.3zM307.7 264.7h1.3v1.1h-1.3zM391.7 236.7h1.3v1.1h-1.3zM305.3 206.6h1.3v1.1h-1.3zM348.7 223.7h1.3v1.1h-1.3zM396.2 234.3h1.3v1.1h-1.3zM378.8 232.4h1.3v1.1h-1.3zM347.7 219.3h1.3v1.1h-1.3zM404.8 245.8h1.3v1.1h-1.3zM389.2 234.1h1.3v1.1h-1.3zM397.9 239h1.3v1.1h-1.3zM370.7 230.9h1.3v1.1h-1.3zM314.8 206h1.3v1.1h-1.3zM321.7 261.6h1.3v1.1h-1.3zM351.2 224.6h1.3v1.1h-1.3zM309.3 205.6h1.3v1.1h-1.3zM321.5 211.9h1.3v1.1h-1.3zM363.9 250h1.3v1.1h-1.3zM302.3 219.4h1.3v1.1h-1.3zM415.4 243.5h1.3v1.1h-1.3zM396 246h1.3v1.1h-1.3zM404.1 239.7h1.3v1.1h-1.3zM412.5 237.9h1.3v1.1h-1.3zM317.8 263h1.3v1.1h-1.3zM361.4 251.1h1.3v1.1h-1.3zM339.8 217.6h1.3v1.1h-1.3zM331.4 262.7h1.3v1.1h-1.3zM400.9 246.4h1.3v1.1h-1.3zM344.7 221.7h1.3v1.1h-1.3zM381 247.6h1.3v1.1h-1.3zM329.6 216.7h1.3v1.1h-1.3zM332.2 217h1.3v1.1h-1.3zM364.6 228.1h1.3v1.1h-1.3zM393.7 235.9h1.3v1.1h-1.3zM353.7 224.4h1.3v1.1h-1.3zM355.8 251.9h1.3v1.1h-1.3zM305.4 264.4h1.3v1.1h-1.3zM303.2 233.8h1.3v1.1h-1.3zM301.4 218.1h1.3v1.1h-1.3zM371.3 228.1h1.3v1.1h-1.3zM320.7 210.1h1.3v1.1h-1.3zM356.1 223.2h1.3v1.1h-1.3zM359.3 223.7h1.3v1.1h-1.3zM375.6 247.6h1.3v1.1h-1.3zM400.4 250.1h1.3v1.1h-1.3zM310 209.7h1.3v1.1h-1.3zM353.1 253.9h1.3v1.1h-1.3zM390.1 232.3h1.3v1.1h-1.3zM345.4 222.4h1.3v1.1h-1.3zM403.9 239.2h1.3v1.1h-1.3zM337.5 216.4h1.3v1.1h-1.3zM407 235.1h1.3v1.1h-1.3zM321 265h1.3v1.1h-1.3zM418 238.3h1.3v1.1h-1.3zM362.8 251.7h1.3v1.1h-1.3zM306.3 206.5h1.3v1.1h-1.3zM326.8 265.8h1.3v1.1h-1.3zM303.3 251.7h1.3v1.1h-1.3zM324.1 262h1.3v1.1h-1.3zM299.7 216.6h1.3v1.1h-1.3zM387.1 245.4h1.3v1.1h-1.3zM342.1 216.1h1.3v1.1h-1.3zM328.5 215.9h1.3v1.1h-1.3zM320.5 213.3h1.3v1.1h-1.3zM304 205.2h1.3v1.1h-1.3zM303.5 225.5h1.3v1.1h-1.3zM412.4 241.6h1.3v1.1h-1.3zM410.8 239.8h1.3v1.1h-1.3zM408.8 239.5h1.3v1.1h-1.3zM402.9 244.7h1.3v1.1h-1.3zM415.8 243.3h1.3v1.1h-1.3zM400.6 244.3h1.3v1.1h-1.3zM344 257.3h1.3v1.1h-1.3zM399.2 244.6h1.3v1.1h-1.3zM332.7 258.4h1.3v1.1h-1.3zM397 244h1.3v1.1h-1.3zM307.4 266.3h1.3v1.1h-1.3zM358.8 227h1.3v1.1h-1.3zM304.1 244h1.3v1.1h-1.3zM403.7 238.4h1.3v1.1h-1.3zM330.9 212.3h1.3v1.1h-1.3zM303.6 254.8h1.3v1.1h-1.3zM300.6 237.7h1.3v1.1h-1.3zM304 215.1h1.3v1.1h-1.3zM303.4 235.4h1.3v1.1h-1.3zM302.2 261.6h1.3v1.1h-1.3zM290.2 248.6h1.3v1.1h-1.3zM291.6 251.1h1.3v1.1h-1.3zM288.1 238.3h1.3v1.1h-1.3zM289.3 251.3h1.3v1.1h-1.3zM297.6 260.7h1.3v1.1h-1.3zM300.6 216.1h1.3v1.1h-1.3zM287.2 219.9h1.3v1.1h-1.3zM302.5 244.3h1.3v1.1h-1.3zM291.1 236.8h1.3v1.1h-1.3zM292.9 232.2h1.3v1.1h-1.3zM288.3 248.2h1.3v1.1h-1.3zM290.8 274.8h1.3v1.1h-1.3zM287.2 244.7h1.3v1.1h-1.3zM287.9 244.2h1.3v1.1h-1.3zM296.1 227.7h1.3v1.1h-1.3zM291.7 248.6h1.3v1.1h-1.3zM302 230.9h1.3v1.1h-1.3zM281.9 254.4h1.3v1.1h-1.3zM288.8 250.7h1.3v1.1h-1.3zM301.5 243.2h1.3v1.1h-1.3zM303.6 233.3h1.3v1.1h-1.3zM300.6 260.5h1.3v1.1h-1.3zM287.3 216.7h1.3v1.1h-1.3zM286.9 222.3h1.3v1.1h-1.3zM302.1 261.9h1.3v1.1h-1.3zM288.2 251.4h1.3v1.1h-1.3zM293.3 242.5h1.3v1.1h-1.3zM291.5 231.5h1.3v1.1h-1.3zM288.2 223.7h1.3v1.1h-1.3zM296.3 244.3h1.3v1.1h-1.3zM302 253.5h1.3v1.1h-1.3zM285.5 262.2h1.3v1.1h-1.3zM299.6 276.6h1.3v1.1h-1.3zM301.4 264.7h1.3v1.1h-1.3zM303.9 273.6h1.3v1.1h-1.3zM285 217.9h1.3v1.1h-1.3zM293 244.4h1.3v1.1h-1.3zM300.7 272.4h1.3v1.1h-1.3zM298.8 244.1h1.3v1.1h-1.3zM286.1 256.4h1.3v1.1h-1.3zM299.2 225h1.3v1.1h-1.3zM299.3 261.4h1.3v1.1h-1.3zM295.6 250.3h1.3v1.1h-1.3zM290.2 242.8h1.3v1.1h-1.3zM289.6 235.3h1.3v1.1h-1.3zM297.8 266.5h1.3v1.1h-1.3zM291.7 253.4h1.3v1.1h-1.3zM296 244.3h1.3v1.1h-1.3zM288 250.8h1.3v1.1h-1.3zM284.3 252h1.3v1.1h-1.3zM285.7 261.4h1.3v1.1h-1.3zM290.2 249.3h1.3v1.1h-1.3zM294.5 258.9h1.3v1.1h-1.3zM284.3 255.2h1.3v1.1h-1.3zM289.4 211.7h1.3v1.1h-1.3zM298.9 247.9h1.3v1.1h-1.3zM297.1 239.2h1.3v1.1h-1.3zM291 202.7h1.3v1.1h-1.3zM297.5 247.8h1.3v1.1h-1.3zM290.8 229.7h1.3v1.1h-1.3zM295.6 255.9h1.3v1.1h-1.3zM302.7 215h1.3v1.1h-1.3zM297.7 275.2h1.3v1.1h-1.3zM297 235.1h1.3v1.1h-1.3zM288.7 247.9h1.3v1.1h-1.3zM332.4 215.8h1.3v1.1h-1.3zM341 221.3h1.3v1.1h-1.3zM330.1 259.9h1.3v1.1h-1.3zM306 204.9h1.3v1.1h-1.3zM319.6 211h1.3v1.1h-1.3zM366.1 225.2h1.3v1.1h-1.3zM331.9 216.7h1.3v1.1h-1.3zM309.6 271.1h1.3v1.1h-1.3zM331.1 218.5h1.3v1.1h-1.3zM307.5 269h1.3v1.1h-1.3zM343.3 258.9h1.3v1.1h-1.3zM346 214.2h1.3v1.1h-1.3zM330.5 212.2h1.3v1.1h-1.3zM341.9 253.6h1.3v1.1h-1.3zM344.7 222.7h1.3v1.1h-1.3zM364.9 244.8h1.3v1.1h-1.3zM364.1 247.4h1.3v1.1h-1.3zM339.1 212.6h1.3v1.1h-1.3zM328.7 206.4h1.3v1.1h-1.3zM335.7 262.8h1.3v1.1h-1.3zM335.5 221h1.3v1.1h-1.3zM304.9 210.7h1.3v1.1h-1.3zM357.6 221.8h1.3v1.1h-1.3zM352.9 221h1.3v1.1h-1.3zM344.4 249.6h1.3v1.1h-1.3zM330.5 206.9h1.3v1.1h-1.3zM346.8 252.2h1.3v1.1h-1.3zM309.8 214.9h1.3v1.1h-1.3zM343.6 221.8h1.3v1.1h-1.3zM348.9 218.2h1.3v1.1h-1.3zM448.1 241.7h1.3v1.1h-1.3zM447.9 240.8h1.3v1.1h-1.3zM418.6 242h1.3v1.1h-1.3zM438.2 242.2h1.3v1.1h-1.3zM431.3 241.4h1.3v1.1h-1.3zM448.7 242.3h1.3v1.1h-1.3zM435.9 241.3h1.3v1.1h-1.3zM419.1 241.7h1.3v1.1h-1.3zM424.9 241.3h1.3v1.1h-1.3zM428.8 243.2h1.3v1.1h-1.3zM438.8 241.5h1.3v1.1h-1.3zM429.3 241.9h1.3v1.1h-1.3zM436.8 242.4h1.3v1.1h-1.3zM424.5 242.3h1.3v1.1h-1.3zM417.8 242.5h1.3v1.1h-1.3zM426.3 242.6h1.3v1.1h-1.3zM446.5 242.5h1.3v1.1h-1.3zM431.9 242h1.3v1.1h-1.3zM421.4 241.7h1.3v1.1h-1.3zM450.4 242.7h1.3v1.1h-1.3zM421.4 241.9h1.3v1.1h-1.3zM432 242.3h1.3v1.1h-1.3zM415.1 243.3h1.3v1.1h-1.3zM422.9 242.4h1.3v1.1h-1.3zM448.6 240.8h1.3v1.1h-1.3zM435.9 241.1h1.3v1.1h-1.3zM442.6 241.9h1.3v1.1h-1.3zM437 241.8h1.3v1.1h-1.3zM439 242.7h1.3v1.1h-1.3zM424.6 241.7h1.3v1.1h-1.3zM423.3 241.1h1.3v1.1h-1.3zM416.5 242.7h1.3v1.1h-1.3zM438.4 243h1.3v1.1h-1.3zM423 241.9h1.3v1.1h-1.3zM447.3 241.5h1.3v1.1h-1.3zM426.4 241.3h1.3v1.1h-1.3zM425.4 241.6h1.3v1.1h-1.3zM417.3 240.3h1.3v1.1h-1.3zM440.1 241.5h1.3v1.1h-1.3zM418.9 240.4h1.3v1.1h-1.3zM435.4 242.2h1.3v1.1h-1.3zM442.9 242.5h1.3v1.1h-1.3zM450.5 241.7h1.3v1.1h-1.3zM414 241.3h1.3v1.1h-1.3zM438.3 241.2h1.3v1.1h-1.3zM458.1 250.2h1.3v1.1h-1.3z"/>
<g fill="#d53c7c" stroke="#f3c0d4" stroke-width="0.3"><circle cx="298.3" cy="197" r="1.55"/><circle cx="304.9" cy="202.5" r="1.55"/><circle cx="304.3" cy="204.3" r="1.55"/><circle cx="310.8" cy="203.1" r="1.55"/><circle cx="310.2" cy="206" r="1.55"/><circle cx="312.5" cy="210.9" r="1.55"/><circle cx="318.4" cy="210.1" r="1.55"/><circle cx="321.3" cy="208.4" r="1.55"/><circle cx="324.8" cy="211.9" r="1.55"/><circle cx="318.9" cy="214.2" r="1.55"/><circle cx="321.3" cy="215.6" r="1.55"/><circle cx="296.2" cy="215.6" r="1.55"/><circle cx="301.4" cy="215.6" r="1.55"/><circle cx="296.2" cy="219.5" r="1.55"/><circle cx="304.3" cy="218.3" r="1.55"/><circle cx="307.8" cy="219.5" r="1.55"/><circle cx="303.2" cy="220.6" r="1.55"/><circle cx="307.3" cy="221.8" r="1.55"/><circle cx="309.6" cy="218.9" r="1.55"/><circle cx="317.2" cy="220" r="1.55"/><circle cx="323.6" cy="218.9" r="1.55"/><circle cx="326" cy="221.8" r="1.55"/><circle cx="328.9" cy="218.9" r="1.55"/><circle cx="330" cy="221.2" r="1.55"/><circle cx="334.7" cy="216.5" r="1.55"/><circle cx="335.3" cy="220" r="1.55"/><circle cx="340" cy="220" r="1.55"/><circle cx="346.4" cy="219.5" r="1.55"/><circle cx="342.9" cy="223" r="1.55"/><circle cx="338.8" cy="223.5" r="1.55"/><circle cx="332.4" cy="223.5" r="1.55"/><circle cx="327.7" cy="224.7" r="1.55"/><circle cx="323" cy="222.4" r="1.55"/><circle cx="321.9" cy="225.3" r="1.55"/><circle cx="319.5" cy="227.6" r="1.55"/><circle cx="324.2" cy="228.2" r="1.55"/><circle cx="328.3" cy="228.2" r="1.55"/><circle cx="332.4" cy="228.2" r="1.55"/><circle cx="336.5" cy="228.2" r="1.55"/><circle cx="311.4" cy="224.1" r="1.55"/><circle cx="313.1" cy="225.9" r="1.55"/><circle cx="309" cy="232.3" r="1.55"/><circle cx="308.4" cy="237.6" r="1.55"/><circle cx="314.9" cy="237" r="1.55"/><circle cx="323" cy="232.3" r="1.55"/><circle cx="327.7" cy="234" r="1.55"/><circle cx="331.2" cy="232.9" r="1.55"/><circle cx="335.9" cy="231.1" r="1.55"/><circle cx="339.4" cy="231.1" r="1.55"/><circle cx="341.7" cy="235.2" r="1.55"/><circle cx="344" cy="236.4" r="1.55"/><circle cx="346.4" cy="234" r="1.55"/><circle cx="349.9" cy="231.7" r="1.55"/><circle cx="351.1" cy="236.4" r="1.55"/><circle cx="354.6" cy="236.4" r="1.55"/><circle cx="358.1" cy="237" r="1.55"/><circle cx="360.4" cy="231.7" r="1.55"/><circle cx="365.1" cy="236.4" r="1.55"/><circle cx="369.7" cy="238.7" r="1.55"/><circle cx="372.1" cy="236.4" r="1.55"/><circle cx="332.4" cy="242.2" r="1.55"/><circle cx="337" cy="241.1" r="1.55"/><circle cx="340.5" cy="242.2" r="1.55"/><circle cx="351.1" cy="239.9" r="1.55"/><circle cx="355.7" cy="239.9" r="1.55"/><circle cx="362.7" cy="241.1" r="1.55"/><circle cx="367.4" cy="242.2" r="1.55"/><circle cx="360.4" cy="244" r="1.55"/><circle cx="346.4" cy="239.9" r="1.55"/><circle cx="342.9" cy="239.9" r="1.55"/><circle cx="351.1" cy="223.5" r="1.55"/><circle cx="361.6" cy="230.5" r="1.55"/><circle cx="346.4" cy="226.5" r="1.55"/><circle cx="342.9" cy="227" r="1.55"/><circle cx="342.9" cy="223.2" r="1.55"/><circle cx="347" cy="224.1" r="1.55"/><circle cx="342.3" cy="227.3" r="1.55"/><circle cx="351.1" cy="227.6" r="1.55"/><circle cx="348.8" cy="231.4" r="1.55"/><circle cx="361" cy="231.4" r="1.55"/><circle cx="361.6" cy="233.1" r="1.55"/><circle cx="342.3" cy="235.4" r="1.55"/><circle cx="346.4" cy="236" r="1.55"/><circle cx="351.7" cy="236.6" r="1.55"/><circle cx="356.4" cy="236" r="1.55"/><circle cx="358.7" cy="237.8" r="1.55"/><circle cx="345.8" cy="240.1" r="1.55"/><circle cx="355.2" cy="240.1" r="1.55"/><circle cx="365.7" cy="236.6" r="1.55"/><circle cx="364.5" cy="240.7" r="1.55"/><circle cx="371.5" cy="237.2" r="1.55"/><circle cx="375" cy="240.7" r="1.55"/><circle cx="370.9" cy="243" r="1.55"/><circle cx="378.5" cy="243.6" r="1.55"/><circle cx="385.5" cy="244.2" r="1.55"/><circle cx="390.2" cy="240.7" r="1.55"/><circle cx="393.1" cy="243" r="1.55"/><circle cx="396.6" cy="238.9" r="1.55"/><circle cx="349.3" cy="244.8" r="1.55"/><circle cx="352.8" cy="246" r="1.55"/><circle cx="358.1" cy="245.4" r="1.55"/><circle cx="340.6" cy="241.9" r="1.55"/><circle cx="371.5" cy="248.9" r="1.55"/><circle cx="290.5" cy="258.1" r="1.55"/><circle cx="325.5" cy="258.1" r="1.55"/><circle cx="323.2" cy="261.6" r="1.55"/><circle cx="329.1" cy="245.3" r="1.55"/><circle cx="333.1" cy="245.8" r="1.55"/><circle cx="333.7" cy="248.8" r="1.55"/><circle cx="337.8" cy="244.7" r="1.55"/><circle cx="340.7" cy="241.8" r="1.55"/><circle cx="349.5" cy="244.7" r="1.55"/><circle cx="353" cy="245.8" r="1.55"/><circle cx="357.1" cy="244.7" r="1.55"/><circle cx="304.6" cy="203.9" r="1.55"/><circle cx="295.8" cy="215.1" r="1.55"/><circle cx="301.4" cy="215.9" r="1.55"/><circle cx="266.6" cy="246.4" r="1.55"/><circle cx="291" cy="302.5" r="1.55"/></g>
<g fill="#1e9bd7" stroke="#1170a0" stroke-width="0.35"><circle cx="306.4" cy="187.1" r="1.6"/><circle cx="306.4" cy="193.2" r="1.6"/><circle cx="352.8" cy="210.1" r="1.6"/><circle cx="323.6" cy="207.8" r="1.6"/><circle cx="342.3" cy="231.1" r="1.6"/><circle cx="355.7" cy="232.3" r="1.6"/><circle cx="352.2" cy="226.5" r="1.6"/><circle cx="365" cy="243.4" r="1.6"/><circle cx="342.3" cy="230.8" r="1.6"/><circle cx="356.4" cy="232.3" r="1.6"/><circle cx="341.8" cy="246" r="1.6"/><circle cx="342.3" cy="249.5" r="1.6"/><circle cx="347.6" cy="248.9" r="1.6"/><circle cx="354" cy="248.9" r="1.6"/><circle cx="365.1" cy="244.2" r="1.6"/><circle cx="369.2" cy="244" r="1.6"/><circle cx="372.1" cy="246" r="1.6"/><circle cx="375" cy="246.5" r="1.6"/><circle cx="380.9" cy="246.5" r="1.6"/><circle cx="389.6" cy="245.4" r="1.6"/><circle cx="393.7" cy="245.6" r="1.6"/><circle cx="374.5" cy="248.3" r="1.6"/><circle cx="364.5" cy="250" r="1.6"/><circle cx="365.1" cy="251.8" r="1.6"/><circle cx="349.3" cy="254.7" r="1.6"/><circle cx="358.1" cy="255.3" r="1.6"/><circle cx="340.6" cy="259.4" r="1.6"/><circle cx="344.7" cy="258.2" r="1.6"/><circle cx="349.9" cy="259.4" r="1.6"/><circle cx="352.8" cy="260" r="1.6"/><circle cx="351.1" cy="262.3" r="1.6"/><circle cx="341.2" cy="265.2" r="1.6"/><circle cx="345.3" cy="265.8" r="1.6"/><circle cx="343.5" cy="268.7" r="1.6"/><circle cx="348.2" cy="271.1" r="1.6"/><circle cx="373.9" cy="265.2" r="1.6"/><circle cx="340" cy="273.4" r="1.6"/><circle cx="323.8" cy="251.1" r="1.6"/><circle cx="330.8" cy="250.5" r="1.6"/><circle cx="334.3" cy="251.7" r="1.6"/><circle cx="330.8" cy="254.6" r="1.6"/><circle cx="338.4" cy="254.6" r="1.6"/><circle cx="334.3" cy="258.7" r="1.6"/><circle cx="329.1" cy="259.9" r="1.6"/><circle cx="340.7" cy="259.3" r="1.6"/><circle cx="344.8" cy="257.5" r="1.6"/><circle cx="349.5" cy="254.6" r="1.6"/><circle cx="347.2" cy="248.8" r="1.6"/><circle cx="340.7" cy="249.9" r="1.6"/><circle cx="341.9" cy="245.8" r="1.6"/><circle cx="353.6" cy="248.2" r="1.6"/><circle cx="358.2" cy="255.2" r="1.6"/><circle cx="350.7" cy="259.3" r="1.6"/><circle cx="353" cy="261.6" r="1.6"/><circle cx="320.3" cy="263.9" r="1.6"/><circle cx="325" cy="265.7" r="1.6"/><circle cx="328.5" cy="265.1" r="1.6"/><circle cx="332" cy="265.1" r="1.6"/><circle cx="336.1" cy="265.1" r="1.6"/><circle cx="341.3" cy="265.1" r="1.6"/><circle cx="345.4" cy="265.7" r="1.6"/><circle cx="315.6" cy="266.9" r="1.6"/><circle cx="319.1" cy="268" r="1.6"/><circle cx="321.5" cy="269.2" r="1.6"/><circle cx="324.4" cy="269.2" r="1.6"/><circle cx="331.4" cy="268" r="1.6"/><circle cx="334.9" cy="268.6" r="1.6"/><circle cx="338.4" cy="266.9" r="1.6"/><circle cx="343.6" cy="268.6" r="1.6"/><circle cx="316.2" cy="269.8" r="1.6"/><circle cx="311.5" cy="273.9" r="1.6"/><circle cx="330.8" cy="272.1" r="1.6"/><circle cx="334.3" cy="271.5" r="1.6"/><circle cx="339" cy="273.3" r="1.6"/><circle cx="348.3" cy="270.9" r="1.6"/><circle cx="322" cy="276.2" r="1.6"/><circle cx="325.5" cy="276.8" r="1.6"/><circle cx="324.4" cy="273.9" r="1.6"/><circle cx="336.1" cy="275.6" r="1.6"/><circle cx="303.4" cy="279.7" r="1.6"/><circle cx="318" cy="279.7" r="1.6"/><circle cx="323.2" cy="280.3" r="1.6"/><circle cx="321.5" cy="282.6" r="1.6"/><circle cx="322.6" cy="284.4" r="1.6"/><circle cx="335.5" cy="282" r="1.6"/><circle cx="307.4" cy="283.2" r="1.6"/><circle cx="309.8" cy="285" r="1.6"/><circle cx="316.2" cy="285" r="1.6"/><circle cx="309.8" cy="287.3" r="1.6"/><circle cx="313.9" cy="287.9" r="1.6"/><circle cx="318.5" cy="288.5" r="1.6"/><circle cx="311" cy="290.2" r="1.6"/><circle cx="292.8" cy="287.9" r="1.6"/><circle cx="290.5" cy="290.8" r="1.6"/><circle cx="292.3" cy="293.7" r="1.6"/><circle cx="296.9" cy="294.3" r="1.6"/><circle cx="288.2" cy="293.7" r="1.6"/><circle cx="294.6" cy="296.6" r="1.6"/><circle cx="302.2" cy="294.9" r="1.6"/><circle cx="304.5" cy="298.4" r="1.6"/><circle cx="288.8" cy="297.2" r="1.6"/><circle cx="301.6" cy="298.4" r="1.6"/><circle cx="290.7" cy="290.6" r="1.6"/><circle cx="292.5" cy="293.4" r="1.6"/><circle cx="288.1" cy="293.9" r="1.6"/><circle cx="288.5" cy="296.3" r="1.6"/><circle cx="289" cy="298.1" r="1.6"/><circle cx="289.9" cy="300.3" r="1.6"/><circle cx="292.5" cy="302.9" r="1.6"/><circle cx="292.1" cy="305.2" r="1.6"/><circle cx="292.9" cy="306.9" r="1.6"/><circle cx="294.7" cy="310.4" r="1.6"/><circle cx="295.6" cy="313.5" r="1.6"/><circle cx="296.5" cy="315.7" r="1.6"/><circle cx="297.8" cy="317.5" r="1.6"/><circle cx="299.1" cy="318.8" r="1.6"/><circle cx="300.4" cy="320.2" r="1.6"/><circle cx="294.7" cy="296.6" r="1.6"/><circle cx="296.5" cy="294.1" r="1.6"/><circle cx="298.2" cy="301.6" r="1.6"/><circle cx="300.4" cy="300.7" r="1.6"/><circle cx="302.7" cy="294.6" r="1.6"/><circle cx="303.1" cy="298.1" r="1.6"/><circle cx="305.3" cy="298.5" r="1.6"/><circle cx="306.2" cy="301.2" r="1.6"/><circle cx="302.2" cy="310.4" r="1.6"/><circle cx="304.9" cy="310.4" r="1.6"/><circle cx="306.2" cy="313.1" r="1.6"/><circle cx="308.8" cy="312.5" r="1.6"/><circle cx="309.7" cy="308.1" r="1.6"/><circle cx="314.1" cy="300.7" r="1.6"/><circle cx="308" cy="283.5" r="1.6"/><circle cx="309.7" cy="286.2" r="1.6"/><circle cx="310.6" cy="288.4" r="1.6"/><circle cx="311" cy="290.6" r="1.6"/><circle cx="314.6" cy="288.4" r="1.6"/><circle cx="316.8" cy="284.9" r="1.6"/><circle cx="319" cy="288.8" r="1.6"/><circle cx="322.5" cy="284" r="1.6"/><circle cx="323" cy="281.3" r="1.6"/><circle cx="303.5" cy="280" r="1.6"/><circle cx="304" cy="331.2" r="1.6"/></g>
<text x="480.8" y="12.6" font-size="12" fill="#333">d.</text>
<defs>
<filter id="bl3" x="-50%" y="-50%" width="200%" height="200%"><feGaussianBlur stdDeviation="3"/></filter>
<filter id="bl2" x="-50%" y="-50%" width="200%" height="200%"><feGaussianBlur stdDeviation="2"/></filter>
<filter id="bl1" x="-50%" y="-50%" width="200%" height="200%"><feGaussianBlur stdDeviation="1"/></filter>
<filter id="bl05" x="-50%" y="-50%" width="200%" height="200%"><feGaussianBlur stdDeviation="0.6"/></filter>
<radialGradient id="nuc1" cx="0.5" cy="0.5" r="0.5"><stop offset="0" stop-color="#0a2620"/><stop offset="0.85" stop-color="#0b2a25"/><stop offset="1" stop-color="#0b3030"/></radialGradient>
<radialGradient id="nuc2" cx="0.5" cy="0.5" r="0.5"><stop offset="0" stop-color="#0a2e26"/><stop offset="0.85" stop-color="#0c332d"/><stop offset="1" stop-color="#11423f"/></radialGradient>
<radialGradient id="yb1" cx="0.55" cy="0.5" r="0.5"><stop offset="0" stop-color="#f0d840"/><stop offset="0.5" stop-color="#d8d038"/><stop offset="1" stop-color="#60c040" stop-opacity="0.4"/></radialGradient>
<radialGradient id="yb2" cx="0.5" cy="0.55" r="0.5"><stop offset="0" stop-color="#e8c840"/><stop offset="0.5" stop-color="#b8c040"/><stop offset="1" stop-color="#48b048" stop-opacity="0.4"/></radialGradient>
<clipPath id="cd1"><rect x="497.9" y="12.85" width="187.1" height="136.75"/></clipPath>
<clipPath id="cd2"><rect x="497.9" y="155.9" width="187.1" height="136.6"/></clipPath>
</defs>
<rect x="497.9" y="12.85" width="187.1" height="136.75" fill="#050707"/>
<rect x="497.9" y="155.9" width="187.1" height="136.6" fill="#050707"/>
<path d="M522.5 12.85V149.6M586.3 12.85V149.6M650.6 12.85V149.6M497.9 28.4H685M497.9 92.8H685" stroke="#101414" stroke-width="0.6"/>
<path d="M526.4 155.9V292.5M593.8 155.9V292.5M659.6 155.9V292.5M497.9 179.5H685M497.9 246.3H685" stroke="#101414" stroke-width="0.6"/>
<g clip-path="url(#cd1)"><ellipse cx="578" cy="135" rx="28" ry="18" fill="#0e0a04" filter="url(#bl3)"/><g fill="#33240e" filter="url(#bl05)"><circle cx="551.2" cy="119.9" r="0.9"/><circle cx="578.6" cy="131.1" r="0.9"/><circle cx="548.7" cy="121.6" r="0.5"/><circle cx="567.9" cy="142.2" r="1"/><circle cx="580.7" cy="126" r="0.7"/><circle cx="625.4" cy="136.6" r="0.6"/><circle cx="569.7" cy="147.5" r="0.9"/><circle cx="581.5" cy="126.8" r="0.9"/><circle cx="568.9" cy="137.2" r="0.7"/><circle cx="552.6" cy="136.2" r="0.5"/><circle cx="609.2" cy="144.8" r="1"/><circle cx="574" cy="143.5" r="0.6"/><circle cx="591.9" cy="134.8" r="0.6"/><circle cx="571" cy="142.2" r="0.5"/><circle cx="523.5" cy="135.3" r="0.9"/><circle cx="609.2" cy="143.7" r="0.9"/><circle cx="549.9" cy="145.3" r="0.6"/><circle cx="583.3" cy="136" r="0.8"/><circle cx="584" cy="127.7" r="0.9"/><circle cx="544.7" cy="144.4" r="0.7"/><circle cx="585.1" cy="136.8" r="0.7"/><circle cx="571.7" cy="138.4" r="0.7"/><circle cx="539.8" cy="133.7" r="0.9"/><circle cx="568.3" cy="131.5" r="0.7"/><circle cx="575.7" cy="145.4" r="0.5"/><circle cx="603.8" cy="144.9" r="0.5"/><circle cx="588.4" cy="148" r="0.9"/><circle cx="552.6" cy="147.5" r="0.9"/><circle cx="600.6" cy="137.8" r="0.7"/><circle cx="582" cy="126.7" r="0.8"/><circle cx="559" cy="148.8" r="0.5"/><circle cx="528.8" cy="113.7" r="0.6"/><circle cx="574.3" cy="141.4" r="0.8"/><circle cx="555.8" cy="144.4" r="0.8"/><circle cx="560.3" cy="133.9" r="0.9"/><circle cx="591.8" cy="149.8" r="0.6"/><circle cx="570.3" cy="131.2" r="0.9"/><circle cx="577.5" cy="132.1" r="0.8"/><circle cx="589.2" cy="148.2" r="0.5"/><circle cx="556.5" cy="117.9" r="0.5"/><circle cx="536.3" cy="146.9" r="0.6"/><circle cx="607.4" cy="151.6" r="0.5"/><circle cx="622.8" cy="119.8" r="0.7"/><circle cx="545.3" cy="141.1" r="0.6"/><circle cx="597.9" cy="140.7" r="0.5"/><circle cx="559.3" cy="136.5" r="0.7"/><circle cx="625.2" cy="136.3" r="0.7"/><circle cx="606.6" cy="135.1" r="0.5"/><circle cx="576.9" cy="140" r="0.6"/><circle cx="539" cy="109.2" r="0.7"/><circle cx="577.1" cy="147.9" r="1"/><circle cx="604.7" cy="136.8" r="0.6"/><circle cx="604.4" cy="132.2" r="0.9"/><circle cx="586.4" cy="139.8" r="0.9"/><circle cx="579.9" cy="129.2" r="0.6"/><circle cx="578.5" cy="147.9" r="0.9"/><circle cx="592.1" cy="128.1" r="0.5"/><circle cx="599.2" cy="140.6" r="0.8"/><circle cx="554.9" cy="141.3" r="0.8"/><circle cx="609.4" cy="139.9" r="0.6"/><circle cx="564.7" cy="139.2" r="0.8"/><circle cx="543.1" cy="148.3" r="1"/><circle cx="557.8" cy="110.9" r="0.7"/><circle cx="571.5" cy="141" r="0.6"/><circle cx="569.5" cy="146.4" r="0.5"/><circle cx="563" cy="141.9" r="1"/><circle cx="598.2" cy="141.6" r="0.5"/><circle cx="564.7" cy="149.2" r="0.9"/><circle cx="584.5" cy="139.4" r="0.8"/><circle cx="567.5" cy="118.9" r="0.6"/><circle cx="559.5" cy="142.5" r="0.7"/><circle cx="611.6" cy="147.7" r="0.5"/><circle cx="559" cy="147.6" r="0.5"/><circle cx="590.5" cy="131.8" r="0.9"/><circle cx="584.7" cy="133.3" r="0.9"/><circle cx="585.4" cy="130.5" r="0.7"/><circle cx="561.7" cy="119.6" r="0.5"/><circle cx="579.2" cy="128.3" r="1"/><circle cx="568.1" cy="136" r="0.7"/><circle cx="585.9" cy="146.2" r="0.7"/><circle cx="585.3" cy="147" r="0.7"/><circle cx="575.4" cy="143.9" r="0.8"/><circle cx="574" cy="143.7" r="0.6"/><circle cx="616.9" cy="150.9" r="0.5"/><circle cx="554.3" cy="135.9" r="0.9"/><circle cx="572.3" cy="138.7" r="0.8"/><circle cx="560.7" cy="141.9" r="0.8"/><circle cx="587.9" cy="151.6" r="1"/><circle cx="564.3" cy="141.8" r="0.8"/></g><g fill="#463010" filter="url(#bl05)"><circle cx="593.9" cy="131.4" r="0.7"/><circle cx="588.7" cy="139.3" r="0.7"/><circle cx="612.2" cy="150.4" r="0.9"/><circle cx="545.3" cy="141.7" r="0.5"/><circle cx="567.9" cy="139.1" r="0.6"/><circle cx="586.1" cy="148" r="1"/><circle cx="556.1" cy="149.9" r="0.6"/><circle cx="568.8" cy="135.5" r="0.8"/><circle cx="596.5" cy="141.4" r="0.7"/><circle cx="585.2" cy="129.1" r="0.9"/><circle cx="600.4" cy="142.9" r="0.6"/><circle cx="634.4" cy="145.4" r="0.5"/><circle cx="588.3" cy="133.8" r="0.7"/><circle cx="554.6" cy="127.8" r="0.8"/><circle cx="537" cy="103.1" r="0.8"/><circle cx="576.5" cy="129.9" r="0.8"/><circle cx="579" cy="148.9" r="0.6"/><circle cx="595.2" cy="147.7" r="0.5"/><circle cx="614" cy="122.7" r="0.5"/><circle cx="588.9" cy="125.3" r="0.9"/><circle cx="558.1" cy="147.8" r="0.7"/><circle cx="544.4" cy="97.2" r="1"/><circle cx="569.8" cy="123.1" r="0.8"/><circle cx="565.3" cy="143.5" r="0.5"/><circle cx="556" cy="144" r="0.8"/><circle cx="596" cy="125.5" r="0.7"/><circle cx="596.9" cy="141.9" r="0.9"/><circle cx="553.1" cy="131.9" r="0.7"/><circle cx="580.5" cy="147.8" r="0.6"/><circle cx="562.7" cy="147.7" r="0.5"/><circle cx="585.1" cy="132.4" r="0.5"/><circle cx="573.5" cy="135.6" r="0.5"/><circle cx="548.8" cy="107.9" r="0.5"/><circle cx="554.7" cy="150.5" r="0.5"/><circle cx="572.1" cy="139.7" r="0.8"/><circle cx="574" cy="143.6" r="0.9"/><circle cx="534.1" cy="131.4" r="0.8"/><circle cx="568.2" cy="130.4" r="0.6"/><circle cx="582" cy="126.9" r="0.8"/><circle cx="597.3" cy="132.6" r="0.8"/><circle cx="605.8" cy="139.5" r="0.7"/><circle cx="576.3" cy="150.7" r="0.7"/><circle cx="591.4" cy="133.1" r="0.6"/><circle cx="580.4" cy="125.9" r="0.9"/><circle cx="573.9" cy="149.2" r="0.9"/><circle cx="619.2" cy="136" r="0.7"/><circle cx="550.8" cy="119.6" r="1"/><circle cx="553" cy="136.5" r="0.6"/><circle cx="556.5" cy="148.6" r="1"/><circle cx="554.9" cy="142.2" r="0.7"/><circle cx="582" cy="143.5" r="0.6"/><circle cx="581.7" cy="143.7" r="0.6"/><circle cx="605.7" cy="151.4" r="0.9"/><circle cx="580.9" cy="149.3" r="0.9"/><circle cx="548.5" cy="146.8" r="1"/><circle cx="578.9" cy="123.1" r="0.9"/><circle cx="596.3" cy="137.7" r="0.7"/><circle cx="548.9" cy="150.7" r="0.8"/><circle cx="574.6" cy="129.6" r="0.9"/><circle cx="561.3" cy="132.3" r="0.8"/><circle cx="540.1" cy="120.8" r="0.8"/><circle cx="558.3" cy="132" r="0.6"/><circle cx="550" cy="150.6" r="0.8"/><circle cx="597.9" cy="147" r="0.9"/><circle cx="587.2" cy="150.2" r="1"/><circle cx="573.6" cy="139.7" r="0.7"/><circle cx="574.9" cy="135" r="0.9"/><circle cx="563.9" cy="129.6" r="0.8"/><circle cx="588.5" cy="142.9" r="0.8"/><circle cx="547.6" cy="114.8" r="0.5"/><circle cx="533.1" cy="139.6" r="0.6"/><circle cx="613.3" cy="137.1" r="0.7"/><circle cx="566.7" cy="139.3" r="0.8"/><circle cx="570.2" cy="123.3" r="0.5"/><circle cx="546.2" cy="115" r="0.7"/><circle cx="566.1" cy="139.3" r="0.8"/><circle cx="561.9" cy="149.1" r="1"/><circle cx="586.5" cy="149.1" r="0.5"/><circle cx="576.8" cy="142.6" r="0.7"/><circle cx="566" cy="134.4" r="0.9"/><circle cx="580.4" cy="129.3" r="0.8"/><circle cx="561.3" cy="140.5" r="0.6"/></g><g fill="#7a5216" filter="url(#bl05)"><circle cx="589.6" cy="148.4" r="0.6"/><circle cx="610.6" cy="145.3" r="0.5"/><circle cx="579.5" cy="144.5" r="0.5"/><circle cx="578.4" cy="139.1" r="0.7"/><circle cx="617.1" cy="151.8" r="1"/><circle cx="566.3" cy="143" r="0.9"/><circle cx="563.1" cy="148.5" r="0.9"/><circle cx="548.8" cy="131.8" r="0.6"/><circle cx="588.2" cy="149.1" r="0.8"/><circle cx="587.4" cy="129.1" r="1"/><circle cx="567.3" cy="141.8" r="0.7"/><circle cx="600.2" cy="147.2" r="1"/><circle cx="578.9" cy="147.2" r="0.6"/><circle cx="587" cy="148.2" r="0.5"/><circle cx="559.6" cy="147.4" r="0.9"/><circle cx="570.6" cy="120.2" r="0.7"/><circle cx="546.7" cy="131.9" r="0.9"/><circle cx="566.5" cy="145.9" r="0.9"/><circle cx="561.5" cy="151" r="0.6"/><circle cx="532.7" cy="141" r="0.6"/><circle cx="580.1" cy="149.9" r="0.7"/><circle cx="577.6" cy="143.9" r="0.8"/><circle cx="573" cy="121.1" r="0.9"/><circle cx="572.8" cy="131.9" r="0.5"/><circle cx="577.3" cy="143.4" r="0.7"/><circle cx="562.2" cy="129.1" r="0.7"/><circle cx="565.2" cy="146.9" r="0.5"/><circle cx="608.4" cy="131.1" r="0.9"/><circle cx="571" cy="130.9" r="0.8"/><circle cx="564.4" cy="138.9" r="0.5"/><circle cx="596.1" cy="136.2" r="0.5"/><circle cx="549.6" cy="151.7" r="0.7"/><circle cx="555" cy="123.4" r="0.7"/><circle cx="589.6" cy="143" r="0.9"/><circle cx="563.2" cy="136.3" r="0.8"/><circle cx="569.3" cy="150.9" r="1"/><circle cx="591.9" cy="149.8" r="1"/><circle cx="543.3" cy="121" r="0.7"/><circle cx="595.8" cy="142.9" r="0.9"/><circle cx="546.3" cy="130.8" r="1"/><circle cx="561.3" cy="141.5" r="0.6"/><circle cx="557.7" cy="151.1" r="0.5"/><circle cx="623.4" cy="125.7" r="0.6"/><circle cx="561" cy="131.5" r="0.6"/><circle cx="582.2" cy="151.5" r="0.8"/><circle cx="573.2" cy="146.8" r="0.5"/><circle cx="589.4" cy="134.9" r="0.7"/><circle cx="595.4" cy="137.9" r="0.5"/><circle cx="591.7" cy="127.1" r="1"/><circle cx="573.8" cy="147.7" r="0.6"/><circle cx="570.2" cy="147.6" r="0.5"/><circle cx="610.8" cy="134.8" r="0.5"/><circle cx="601.3" cy="129" r="0.7"/><circle cx="575.4" cy="130.5" r="0.7"/><circle cx="610.2" cy="137.2" r="1"/><circle cx="603.3" cy="146.5" r="0.8"/><circle cx="592.2" cy="143.8" r="0.6"/><circle cx="561.1" cy="140.7" r="0.6"/><circle cx="579.5" cy="136.2" r="0.8"/><circle cx="552.6" cy="144.2" r="0.9"/><circle cx="601" cy="142.7" r="1"/><circle cx="547" cy="125.1" r="0.9"/><circle cx="574.5" cy="151.6" r="0.5"/><circle cx="570.5" cy="133.8" r="0.9"/><circle cx="608.3" cy="127.3" r="0.9"/><circle cx="597.8" cy="130.8" r="0.9"/><circle cx="608.8" cy="137.2" r="1"/><circle cx="572.6" cy="125.5" r="0.6"/><circle cx="563.5" cy="148.1" r="0.8"/><circle cx="579.8" cy="151.3" r="0.6"/><circle cx="579.3" cy="142.2" r="0.6"/><circle cx="596.9" cy="135.5" r="0.6"/><circle cx="568.7" cy="124.2" r="0.8"/><circle cx="569.1" cy="146.2" r="0.6"/><circle cx="591.9" cy="137.4" r="0.5"/><circle cx="560.9" cy="114.4" r="0.8"/><circle cx="596.9" cy="133.4" r="0.7"/><circle cx="603.1" cy="151.3" r="0.9"/><circle cx="595.4" cy="141.8" r="1"/><circle cx="578.9" cy="151.6" r="0.6"/><circle cx="580.2" cy="136.7" r="0.5"/><circle cx="581.9" cy="148.6" r="0.5"/><circle cx="563.9" cy="138.9" r="0.9"/><circle cx="569.4" cy="133.2" r="0.5"/><circle cx="589.1" cy="141.1" r="0.8"/><circle cx="585.3" cy="145.3" r="0.6"/></g><g fill="#5e4014" filter="url(#bl05)"><circle cx="551.8" cy="132.6" r="0.5"/><circle cx="565" cy="133.1" r="0.6"/><circle cx="563.1" cy="149" r="1"/><circle cx="594" cy="142.8" r="0.9"/><circle cx="545.1" cy="125.9" r="0.9"/><circle cx="599.4" cy="135.9" r="0.8"/><circle cx="552.5" cy="120" r="1"/><circle cx="574.9" cy="126.3" r="0.7"/><circle cx="569.1" cy="129.3" r="0.6"/><circle cx="549.7" cy="148.6" r="0.5"/><circle cx="554.6" cy="118.9" r="0.9"/><circle cx="578.8" cy="127.4" r="0.7"/><circle cx="581.7" cy="127.3" r="0.9"/><circle cx="549.3" cy="110.1" r="0.8"/><circle cx="536.1" cy="133.5" r="0.8"/><circle cx="555.2" cy="143.3" r="0.7"/><circle cx="562.3" cy="133.5" r="0.9"/><circle cx="524.1" cy="130.8" r="0.5"/><circle cx="557.6" cy="144.9" r="1"/><circle cx="585.1" cy="125.5" r="0.7"/><circle cx="604.2" cy="144.3" r="0.9"/><circle cx="565.1" cy="128.7" r="0.8"/><circle cx="554.2" cy="151.3" r="1"/><circle cx="557.4" cy="146.7" r="0.9"/><circle cx="541.5" cy="141.7" r="0.9"/><circle cx="568.4" cy="124" r="0.8"/><circle cx="552.5" cy="142" r="0.7"/><circle cx="590.8" cy="129.8" r="0.8"/><circle cx="556.4" cy="150.3" r="1"/><circle cx="587.3" cy="134.1" r="1"/><circle cx="548.5" cy="138.8" r="0.5"/><circle cx="577.8" cy="126.9" r="0.9"/><circle cx="551.8" cy="120.9" r="0.8"/><circle cx="526.7" cy="147.9" r="0.5"/><circle cx="591.3" cy="136.4" r="0.6"/><circle cx="585.9" cy="147.3" r="0.6"/><circle cx="559.9" cy="119.7" r="0.8"/><circle cx="570.6" cy="147.5" r="1"/><circle cx="578.2" cy="148.7" r="0.8"/><circle cx="606.5" cy="143.7" r="0.5"/><circle cx="589.5" cy="132.8" r="1"/><circle cx="555.6" cy="140.1" r="0.6"/><circle cx="583.8" cy="130.6" r="0.9"/><circle cx="598.7" cy="139.6" r="0.5"/><circle cx="607.3" cy="146.1" r="0.7"/><circle cx="584.9" cy="144.2" r="1"/><circle cx="555.4" cy="140.4" r="0.8"/><circle cx="581.4" cy="135" r="0.7"/><circle cx="526.4" cy="116.8" r="0.6"/><circle cx="585.6" cy="144.4" r="0.6"/><circle cx="592.7" cy="134.6" r="0.7"/><circle cx="594" cy="139.7" r="0.8"/><circle cx="539.5" cy="111" r="0.9"/><circle cx="534.6" cy="127.8" r="0.8"/><circle cx="608.1" cy="140.3" r="0.8"/><circle cx="603.3" cy="135" r="0.5"/><circle cx="576.5" cy="130.3" r="0.6"/><circle cx="584.2" cy="135.8" r="0.6"/><circle cx="564.5" cy="127.1" r="0.9"/><circle cx="573.3" cy="139.1" r="0.7"/><circle cx="570.9" cy="140.8" r="0.9"/><circle cx="546.5" cy="141.6" r="1"/><circle cx="564.7" cy="133.4" r="0.6"/><circle cx="558.5" cy="149.3" r="0.8"/><circle cx="533.4" cy="148" r="0.8"/><circle cx="551.2" cy="116.9" r="0.8"/><circle cx="626.4" cy="151.6" r="1"/><circle cx="578.3" cy="142.1" r="0.6"/><circle cx="598.2" cy="151.4" r="0.6"/><circle cx="599.7" cy="130.6" r="0.9"/><circle cx="536.6" cy="126.6" r="0.8"/><circle cx="570.1" cy="136.6" r="0.9"/><circle cx="600.9" cy="145.7" r="0.9"/><circle cx="601.6" cy="136.1" r="0.6"/><circle cx="533.3" cy="137.4" r="0.7"/><circle cx="589" cy="135.5" r="0.7"/><circle cx="564" cy="147.5" r="0.7"/><circle cx="591.2" cy="134.2" r="1"/><circle cx="572.7" cy="121.3" r="0.5"/><circle cx="569.4" cy="128.1" r="0.5"/><circle cx="567.2" cy="130.7" r="0.7"/><circle cx="535.1" cy="120" r="0.9"/><circle cx="575.6" cy="135" r="0.6"/><circle cx="575.6" cy="150.4" r="0.7"/></g><g fill="#5a3810" filter="url(#bl05)"><circle cx="579" cy="55.7" r="0.6"/><circle cx="545.7" cy="94.4" r="0.6"/><circle cx="606.2" cy="121.5" r="0.6"/><circle cx="617" cy="104.9" r="0.6"/><circle cx="615.2" cy="90.5" r="0.6"/><circle cx="670.1" cy="146.9" r="0.6"/><circle cx="502.6" cy="16.8" r="0.6"/><circle cx="529.7" cy="36.2" r="0.6"/><circle cx="641.6" cy="65.4" r="0.6"/><circle cx="650.9" cy="128.3" r="0.6"/><circle cx="609" cy="59.8" r="0.6"/><circle cx="534.9" cy="87.9" r="0.6"/><circle cx="613.6" cy="113.6" r="0.6"/><circle cx="609.9" cy="127" r="0.6"/><circle cx="664.4" cy="39" r="0.6"/><circle cx="598.3" cy="41.4" r="0.6"/><circle cx="629" cy="51.9" r="0.6"/><circle cx="648.8" cy="51" r="0.6"/><circle cx="615.2" cy="56.5" r="0.6"/><circle cx="520.3" cy="47.3" r="0.6"/><circle cx="608.7" cy="140.5" r="0.6"/><circle cx="645.1" cy="65.4" r="0.6"/><circle cx="645.5" cy="23.9" r="0.6"/><circle cx="571.1" cy="145.2" r="0.6"/><circle cx="573.1" cy="133.6" r="0.6"/><circle cx="677.6" cy="139.9" r="0.6"/><circle cx="511.1" cy="146.5" r="0.6"/><circle cx="571.6" cy="94.6" r="0.6"/><circle cx="536.2" cy="117.6" r="0.6"/><circle cx="546.5" cy="81.9" r="0.6"/></g><path d="M593 35C620 34 642 52 647.5 76C650 96 640 117 620 127C600 134 578 128 562 115C548 104 541 90 542.5 74C545 52 565 36 593 35Z" fill="#071d17" filter="url(#bl2)"/><g fill="#1c8038" fill-opacity="0.6" filter="url(#bl1)"><circle cx="610.2" cy="107.4" r="1.1"/><circle cx="585.9" cy="64.7" r="0.8"/><circle cx="616.7" cy="44" r="1.2"/><circle cx="553.6" cy="64.9" r="1"/><circle cx="584.6" cy="124.6" r="0.8"/><circle cx="548.4" cy="86.3" r="0.6"/><circle cx="608.3" cy="52.1" r="0.9"/><circle cx="578.1" cy="64.9" r="0.7"/><circle cx="589.1" cy="60.5" r="0.6"/><circle cx="619.4" cy="101.9" r="0.9"/><circle cx="591.8" cy="77.1" r="1"/><circle cx="637.4" cy="84.2" r="1"/><circle cx="605.8" cy="92.6" r="0.5"/><circle cx="598.4" cy="39.8" r="0.9"/><circle cx="602.1" cy="95.2" r="0.5"/><circle cx="603.1" cy="52.2" r="1.3"/><circle cx="551" cy="76.1" r="0.8"/><circle cx="598.4" cy="99" r="0.9"/><circle cx="622.8" cy="46.2" r="0.8"/><circle cx="599.9" cy="46.8" r="0.5"/><circle cx="618" cy="79.6" r="0.9"/><circle cx="593.9" cy="125.4" r="0.7"/><circle cx="578.5" cy="54.8" r="0.6"/><circle cx="546.1" cy="82" r="0.7"/><circle cx="574.6" cy="91.7" r="0.8"/><circle cx="577.1" cy="117.8" r="0.7"/><circle cx="589.3" cy="102.2" r="1.2"/><circle cx="599.8" cy="36.4" r="0.6"/><circle cx="571.1" cy="72.8" r="0.9"/><circle cx="587.7" cy="74.2" r="1"/><circle cx="605.7" cy="70.2" r="0.7"/><circle cx="625.1" cy="115.4" r="0.7"/><circle cx="584.9" cy="98.2" r="0.8"/><circle cx="576.6" cy="58.4" r="0.6"/><circle cx="613.7" cy="52.9" r="0.8"/><circle cx="608.5" cy="88.3" r="0.8"/><circle cx="577.4" cy="74.8" r="1.1"/><circle cx="573.7" cy="61.5" r="1.3"/><circle cx="612.9" cy="63.3" r="0.8"/><circle cx="599.3" cy="80.1" r="0.9"/><circle cx="591.3" cy="36.3" r="0.6"/><circle cx="581.2" cy="79.4" r="1.3"/><circle cx="625" cy="102.9" r="1"/><circle cx="563.2" cy="79.7" r="0.7"/><circle cx="578.6" cy="53.6" r="0.9"/><circle cx="607.8" cy="117.2" r="0.5"/><circle cx="570.8" cy="61.5" r="1.3"/><circle cx="557.6" cy="87.7" r="1.2"/><circle cx="616.6" cy="68.3" r="0.7"/><circle cx="569.4" cy="82.7" r="0.7"/><circle cx="557.4" cy="51.8" r="0.9"/><circle cx="628.4" cy="78.7" r="1"/><circle cx="583.4" cy="83.1" r="0.6"/><circle cx="599" cy="113.2" r="1.2"/><circle cx="612.7" cy="102.6" r="1"/><circle cx="600.2" cy="51.9" r="0.7"/><circle cx="642.3" cy="66.1" r="1"/><circle cx="552.6" cy="62.4" r="0.9"/><circle cx="611" cy="104.2" r="0.6"/><circle cx="581.6" cy="83.4" r="0.9"/><circle cx="580" cy="57.5" r="1"/><circle cx="620" cy="78.3" r="0.9"/><circle cx="578.2" cy="57.9" r="0.7"/><circle cx="551.3" cy="76.4" r="0.8"/><circle cx="605.4" cy="40.5" r="0.8"/><circle cx="561.4" cy="99.6" r="0.8"/><circle cx="607.3" cy="62.9" r="0.6"/><circle cx="583.7" cy="39.1" r="0.8"/><circle cx="638.2" cy="92" r="1.2"/><circle cx="561.8" cy="95.3" r="1.2"/><circle cx="586.9" cy="67.6" r="1.3"/><circle cx="573.1" cy="101.6" r="1"/><circle cx="574.4" cy="98.5" r="0.7"/><circle cx="611.2" cy="102.6" r="1.2"/><circle cx="584.1" cy="104.9" r="0.7"/><circle cx="633" cy="54.8" r="1.1"/><circle cx="587.9" cy="92.7" r="0.9"/><circle cx="609.9" cy="78.1" r="0.6"/><circle cx="574.8" cy="114.1" r="1.1"/><circle cx="606.4" cy="98.3" r="0.8"/><circle cx="621.4" cy="78.7" r="1"/><circle cx="601.7" cy="76.8" r="1.1"/><circle cx="581.5" cy="72.5" r="1.1"/><circle cx="552.3" cy="77.8" r="1"/><circle cx="581" cy="43.5" r="1.2"/><circle cx="620.2" cy="55.7" r="1.3"/><circle cx="576.4" cy="41.8" r="0.6"/><circle cx="553.9" cy="75.1" r="1.1"/><circle cx="576.7" cy="39.4" r="0.8"/><circle cx="587.7" cy="61.8" r="0.8"/><circle cx="616" cy="110.7" r="0.9"/><circle cx="627.1" cy="80.3" r="0.9"/><circle cx="589.3" cy="56.3" r="0.5"/><circle cx="588" cy="108.7" r="1"/><circle cx="599" cy="59.4" r="1.1"/><circle cx="599.3" cy="68.6" r="0.6"/><circle cx="560.7" cy="100.9" r="0.6"/><circle cx="583.1" cy="93.7" r="1.2"/><circle cx="633.5" cy="89" r="0.8"/><circle cx="580.7" cy="62" r="1.2"/><circle cx="640.2" cy="78.6" r="1"/><circle cx="611.8" cy="122.2" r="1.1"/><circle cx="546.5" cy="82" r="0.6"/><circle cx="587.1" cy="115.9" r="1"/><circle cx="596.1" cy="91.2" r="0.6"/><circle cx="581.5" cy="85" r="1.2"/><circle cx="582" cy="85.5" r="1.1"/><circle cx="624.8" cy="100" r="0.7"/><circle cx="562.1" cy="58.5" r="1"/><circle cx="623.3" cy="61.1" r="0.9"/><circle cx="609.7" cy="91.7" r="0.9"/><circle cx="567.3" cy="107.8" r="1.2"/><circle cx="613.9" cy="82.9" r="1.2"/><circle cx="582.3" cy="69" r="0.5"/><circle cx="595.6" cy="52" r="1.3"/><circle cx="565.8" cy="64.7" r="0.9"/><circle cx="573.6" cy="91.2" r="1.2"/><circle cx="546.2" cy="87.6" r="1.3"/><circle cx="626.6" cy="107.2" r="1.3"/><circle cx="592.2" cy="43.7" r="0.5"/><circle cx="574.4" cy="47.4" r="0.9"/><circle cx="613.8" cy="100.7" r="1.2"/><circle cx="582.8" cy="87.7" r="0.7"/><circle cx="607.6" cy="86.6" r="0.6"/><circle cx="577.8" cy="52.5" r="0.6"/><circle cx="633.1" cy="53.9" r="0.8"/><circle cx="611.2" cy="57.1" r="1"/><circle cx="613.5" cy="122.9" r="0.6"/><circle cx="568.6" cy="43.2" r="0.7"/><circle cx="627" cy="87.3" r="1.1"/><circle cx="558.9" cy="108.5" r="0.8"/><circle cx="622.7" cy="106" r="0.5"/><circle cx="574" cy="88.2" r="1.2"/><circle cx="574.9" cy="45.3" r="0.9"/><circle cx="560.7" cy="82.3" r="0.6"/><circle cx="609.6" cy="67.4" r="1.1"/><circle cx="641.3" cy="92" r="0.6"/><circle cx="623.9" cy="84.5" r="1.3"/><circle cx="610.6" cy="53.3" r="1.2"/><circle cx="616.7" cy="54.1" r="0.7"/><circle cx="587.1" cy="82.7" r="0.7"/><circle cx="588.9" cy="88.2" r="0.6"/><circle cx="604.7" cy="105" r="0.7"/><circle cx="632.6" cy="74.4" r="1"/><circle cx="597" cy="100.7" r="1.2"/><circle cx="608.3" cy="70.3" r="1"/><circle cx="590.5" cy="77" r="1.2"/><circle cx="627.1" cy="68" r="0.5"/><circle cx="638.8" cy="85.7" r="1.2"/><circle cx="612.6" cy="104.2" r="1.2"/><circle cx="612.2" cy="110.3" r="1.1"/><circle cx="593.2" cy="101.1" r="1"/><circle cx="554.9" cy="71.7" r="0.8"/><circle cx="598.5" cy="42.8" r="0.9"/><circle cx="599.1" cy="71.1" r="1.3"/><circle cx="630.8" cy="70.2" r="1.3"/><circle cx="610.6" cy="38.8" r="1.2"/><circle cx="612.5" cy="77.9" r="0.6"/><circle cx="592.8" cy="54" r="0.5"/><circle cx="551.4" cy="96.4" r="1.3"/><circle cx="569.3" cy="45.8" r="1.1"/><circle cx="597.2" cy="99.8" r="0.6"/><circle cx="617.3" cy="50.1" r="1"/><circle cx="607.4" cy="115.8" r="1.3"/><circle cx="623.5" cy="88.4" r="0.7"/><circle cx="631.8" cy="108.2" r="1.1"/><circle cx="591" cy="47" r="0.8"/><circle cx="547.7" cy="78.8" r="0.6"/><circle cx="570.4" cy="114.5" r="1.1"/><circle cx="560.8" cy="106.5" r="0.6"/><circle cx="586.6" cy="40.6" r="1"/><circle cx="605.7" cy="62.5" r="0.8"/><circle cx="593.7" cy="122" r="1.2"/><circle cx="573.3" cy="103.4" r="0.8"/><circle cx="617.6" cy="80.7" r="1.3"/><circle cx="599.1" cy="58.4" r="1.3"/><circle cx="607.7" cy="87" r="0.8"/><circle cx="639.1" cy="99.7" r="0.9"/><circle cx="574.4" cy="66.9" r="1"/><circle cx="614" cy="49.4" r="0.6"/><circle cx="584.1" cy="124.7" r="0.9"/><circle cx="596.6" cy="125.2" r="1.2"/><circle cx="629.7" cy="113.2" r="0.8"/><circle cx="613.5" cy="53.5" r="0.7"/><circle cx="610.8" cy="103.8" r="1.2"/><circle cx="581" cy="92" r="1.1"/><circle cx="620.8" cy="93.4" r="1"/><circle cx="612.5" cy="47" r="1"/><circle cx="560.2" cy="52.6" r="1"/><circle cx="631.2" cy="108.7" r="0.7"/><circle cx="635.6" cy="87.4" r="0.9"/><circle cx="630.8" cy="84.4" r="0.6"/><circle cx="585" cy="96.5" r="1.2"/><circle cx="590.4" cy="82.6" r="0.6"/><circle cx="631.3" cy="104.2" r="0.8"/><circle cx="559.7" cy="52.2" r="0.6"/><circle cx="614.3" cy="65.7" r="1"/><circle cx="615.1" cy="120" r="1.1"/><circle cx="609.4" cy="107.3" r="1"/><circle cx="584.4" cy="37.4" r="0.8"/><circle cx="548.2" cy="73.9" r="0.6"/><circle cx="604.3" cy="47.4" r="0.5"/><circle cx="581.3" cy="122.8" r="1.2"/><circle cx="634.4" cy="73.6" r="1.3"/><circle cx="561.4" cy="54.7" r="0.5"/><circle cx="578" cy="64" r="1.2"/><circle cx="630.1" cy="58.8" r="0.9"/><circle cx="584.8" cy="96.5" r="0.9"/><circle cx="601.3" cy="60.8" r="1.2"/><circle cx="615" cy="72.1" r="1"/><circle cx="573.6" cy="104.9" r="1"/><circle cx="590.6" cy="57.7" r="0.6"/><circle cx="598.8" cy="68" r="0.6"/><circle cx="592" cy="122.8" r="0.7"/><circle cx="638" cy="63.7" r="1"/><circle cx="549.5" cy="87.5" r="0.6"/><circle cx="611.7" cy="60.8" r="0.7"/><circle cx="645.9" cy="83.2" r="1.1"/><circle cx="641.1" cy="88.4" r="0.7"/><circle cx="629.8" cy="64" r="1"/><circle cx="559.1" cy="91.6" r="0.7"/><circle cx="627.8" cy="98" r="1"/><circle cx="610.5" cy="52.6" r="0.8"/><circle cx="573.3" cy="89.2" r="0.8"/><circle cx="574.3" cy="118.4" r="1.2"/><circle cx="606.3" cy="112.2" r="0.6"/><circle cx="633.6" cy="69.2" r="0.8"/><circle cx="605.2" cy="66.7" r="0.7"/><circle cx="591.1" cy="54.3" r="0.8"/><circle cx="633.1" cy="76.5" r="0.7"/><circle cx="612.7" cy="86.2" r="1"/><circle cx="552.9" cy="61.2" r="1.2"/><circle cx="623.4" cy="83" r="0.6"/><circle cx="624.2" cy="77" r="1.1"/><circle cx="578.3" cy="105.2" r="0.7"/><circle cx="549.8" cy="63" r="1.3"/><circle cx="554.3" cy="74.9" r="1"/><circle cx="611.1" cy="45.8" r="0.9"/><circle cx="557.5" cy="96.8" r="0.5"/><circle cx="634" cy="102.8" r="1"/><circle cx="621.3" cy="113.7" r="0.7"/><circle cx="598.4" cy="75.8" r="0.9"/><circle cx="639.9" cy="69.2" r="0.9"/><circle cx="558.1" cy="107.6" r="0.6"/><circle cx="640" cy="66.4" r="0.6"/><circle cx="633.4" cy="86.2" r="0.6"/><circle cx="633" cy="90" r="0.8"/><circle cx="568.8" cy="75.6" r="1"/><circle cx="556" cy="106.6" r="1.1"/><circle cx="586.6" cy="122.5" r="0.6"/><circle cx="561.5" cy="108.5" r="0.8"/><circle cx="618.1" cy="83.5" r="1"/><circle cx="617" cy="93.1" r="1.1"/><circle cx="598" cy="47.6" r="1.2"/><circle cx="640.7" cy="64.4" r="0.5"/><circle cx="608.1" cy="65.8" r="0.7"/><circle cx="628.8" cy="111.1" r="0.8"/><circle cx="555.8" cy="64.2" r="1.1"/><circle cx="597.1" cy="117" r="1"/><circle cx="554.9" cy="62.4" r="0.9"/><circle cx="586.8" cy="61.1" r="1.2"/><circle cx="639.1" cy="69.6" r="0.6"/><circle cx="587.9" cy="40.2" r="1.2"/><circle cx="582.7" cy="111" r="1.2"/><circle cx="562.7" cy="74.1" r="0.6"/><circle cx="611.1" cy="68.1" r="1"/><circle cx="580.4" cy="119.2" r="0.5"/><circle cx="591.9" cy="104.2" r="0.7"/><circle cx="588" cy="73.3" r="0.5"/><circle cx="615.9" cy="92.6" r="0.7"/><circle cx="632" cy="55" r="0.6"/><circle cx="595.1" cy="61" r="0.8"/><circle cx="608.6" cy="109.2" r="0.8"/><circle cx="609.9" cy="93.6" r="1"/><circle cx="584.9" cy="54.2" r="0.8"/><circle cx="596.5" cy="116.6" r="1.2"/><circle cx="545.8" cy="72.5" r="0.9"/><circle cx="595.3" cy="118.9" r="1.1"/><circle cx="619.7" cy="108.2" r="1.1"/><circle cx="606.1" cy="122.6" r="0.6"/><circle cx="617.6" cy="75.6" r="0.8"/><circle cx="601.4" cy="50.9" r="0.6"/><circle cx="557.2" cy="91.6" r="0.5"/><circle cx="587.1" cy="118" r="0.7"/><circle cx="580.5" cy="86.5" r="0.9"/><circle cx="600.2" cy="48" r="0.8"/><circle cx="587.6" cy="93.1" r="0.6"/><circle cx="643.6" cy="68.9" r="1.2"/><circle cx="597.3" cy="90.3" r="0.7"/><circle cx="547" cy="80" r="1.1"/><circle cx="609.4" cy="82.7" r="1.1"/><circle cx="578.8" cy="98.9" r="0.7"/><circle cx="635.3" cy="81.5" r="0.8"/><circle cx="565.4" cy="55.9" r="0.5"/><circle cx="562.8" cy="110.5" r="1.1"/><circle cx="621.8" cy="68.4" r="1"/><circle cx="571.7" cy="107.2" r="1.1"/><circle cx="608.4" cy="67.7" r="0.8"/><circle cx="610.8" cy="120.4" r="0.9"/><circle cx="593.6" cy="111.2" r="1"/><circle cx="573.3" cy="92.9" r="0.7"/><circle cx="589.3" cy="105.3" r="1"/><circle cx="598.6" cy="41" r="1.3"/><circle cx="602.9" cy="62.5" r="1"/><circle cx="579.6" cy="121.6" r="1"/><circle cx="554.9" cy="86.8" r="1"/><circle cx="639.4" cy="59.8" r="1.1"/><circle cx="581.3" cy="50.5" r="0.9"/><circle cx="569" cy="72.6" r="1.2"/><circle cx="620.9" cy="50.9" r="1"/><circle cx="587.7" cy="87.9" r="0.7"/><circle cx="561.8" cy="47.2" r="0.8"/><circle cx="626.9" cy="100.9" r="0.7"/><circle cx="629.5" cy="106.7" r="0.8"/><circle cx="575.4" cy="62.2" r="1.1"/><circle cx="563.4" cy="86.8" r="1"/><circle cx="568.1" cy="108.1" r="1.2"/><circle cx="587.1" cy="78.6" r="1"/><circle cx="553.4" cy="72.6" r="1.1"/><circle cx="569.2" cy="99.1" r="1.2"/><circle cx="550.5" cy="62.2" r="0.7"/><circle cx="607.9" cy="76.2" r="1"/><circle cx="588.4" cy="54.2" r="1.1"/><circle cx="619.2" cy="46.4" r="1.2"/><circle cx="625.8" cy="100.1" r="0.6"/><circle cx="627.3" cy="65" r="1"/><circle cx="587.7" cy="73.3" r="1.3"/><circle cx="606.1" cy="43.8" r="0.9"/><circle cx="568.2" cy="113.7" r="0.6"/><circle cx="601.9" cy="98.3" r="1.1"/><circle cx="580.1" cy="90" r="1"/><circle cx="586" cy="63.1" r="0.7"/><circle cx="605.8" cy="100.7" r="1.3"/><circle cx="547.5" cy="68.7" r="1.3"/><circle cx="552.1" cy="91" r="0.7"/><circle cx="635.8" cy="68.6" r="0.6"/><circle cx="573.8" cy="48.9" r="1"/><circle cx="624.3" cy="91.2" r="0.6"/><circle cx="555.2" cy="81.2" r="0.8"/><circle cx="566.5" cy="78.2" r="1.1"/><circle cx="577.9" cy="50.7" r="1.1"/><circle cx="596.8" cy="69.7" r="0.6"/><circle cx="557.2" cy="71.4" r="0.6"/><circle cx="559.4" cy="64.6" r="1"/><circle cx="634" cy="100.5" r="1.2"/><circle cx="638.3" cy="76.5" r="0.6"/><circle cx="548.5" cy="62.9" r="1.2"/><circle cx="635.4" cy="67.1" r="0.7"/><circle cx="587.1" cy="50.6" r="1.3"/><circle cx="569.3" cy="73.2" r="1.1"/><circle cx="553.5" cy="89.7" r="0.5"/><circle cx="617.7" cy="104.5" r="1.2"/><circle cx="606.3" cy="102.5" r="0.7"/><circle cx="603.6" cy="42.5" r="0.9"/><circle cx="612.7" cy="69.9" r="0.6"/><circle cx="579.3" cy="38.7" r="0.5"/><circle cx="627.1" cy="49.4" r="0.6"/><circle cx="570.7" cy="116.2" r="0.5"/><circle cx="616.2" cy="61.9" r="0.8"/><circle cx="603.4" cy="49.2" r="0.6"/><circle cx="605.5" cy="106.6" r="0.7"/><circle cx="626.5" cy="101.2" r="1.3"/><circle cx="615.4" cy="116.2" r="1.3"/><circle cx="625" cy="87.1" r="0.6"/><circle cx="625.5" cy="86.3" r="1.3"/><circle cx="624.8" cy="111" r="1.1"/><circle cx="551.6" cy="94.6" r="0.5"/><circle cx="597.3" cy="58.4" r="1.2"/><circle cx="589.5" cy="47.8" r="1"/><circle cx="554.2" cy="55.9" r="0.5"/><circle cx="619.3" cy="119.6" r="1.2"/><circle cx="581.7" cy="66.5" r="1.2"/><circle cx="596.3" cy="38.9" r="0.7"/><circle cx="587.4" cy="63" r="1.3"/><circle cx="592" cy="121.1" r="0.8"/><circle cx="558.7" cy="87.7" r="1.2"/><circle cx="592.4" cy="62.7" r="0.5"/><circle cx="628.3" cy="57.2" r="0.9"/><circle cx="584.4" cy="79.7" r="0.6"/><circle cx="563.8" cy="61.4" r="0.8"/><circle cx="612" cy="84.7" r="0.5"/><circle cx="640.8" cy="69.3" r="0.6"/><circle cx="552.9" cy="104.1" r="0.9"/><circle cx="634.3" cy="107.9" r="0.8"/><circle cx="619.9" cy="48.8" r="0.9"/><circle cx="630" cy="91.6" r="0.9"/><circle cx="582.4" cy="45.7" r="1.1"/><circle cx="586.3" cy="61.4" r="1.2"/><circle cx="585.8" cy="125.1" r="0.9"/><circle cx="624.3" cy="73.6" r="0.9"/><circle cx="582.8" cy="37.8" r="0.9"/><circle cx="572.7" cy="91.5" r="0.7"/><circle cx="563.1" cy="111.1" r="1.1"/><circle cx="594.1" cy="91.1" r="0.5"/><circle cx="583.7" cy="55.8" r="0.9"/><circle cx="608.6" cy="96.2" r="1.1"/><circle cx="586.1" cy="96.4" r="1.1"/><circle cx="583.3" cy="122" r="1.1"/><circle cx="610.8" cy="93.5" r="1.3"/><circle cx="586.1" cy="108.8" r="1.2"/><circle cx="562.1" cy="87.4" r="0.6"/><circle cx="575.4" cy="81.8" r="1.3"/><circle cx="597.3" cy="121.5" r="1.2"/><circle cx="600.7" cy="50.4" r="1.2"/><circle cx="610.8" cy="85.4" r="1.2"/><circle cx="591.5" cy="76.2" r="1.1"/><circle cx="598.3" cy="106.1" r="0.6"/><circle cx="579.2" cy="50.2" r="1.1"/><circle cx="593.2" cy="87.4" r="0.5"/><circle cx="568.9" cy="79.7" r="1.3"/><circle cx="611.5" cy="110.6" r="0.8"/><circle cx="571.1" cy="118.5" r="0.8"/><circle cx="560.2" cy="52.1" r="1.3"/><circle cx="588" cy="69.7" r="0.9"/><circle cx="615" cy="113.8" r="1.3"/><circle cx="570.9" cy="49.8" r="0.6"/><circle cx="584.5" cy="114.2" r="1.2"/><circle cx="552.9" cy="66.9" r="0.8"/><circle cx="570.4" cy="116.2" r="0.9"/><circle cx="599.4" cy="111.5" r="1.1"/><circle cx="589" cy="81.6" r="1"/><circle cx="586.3" cy="76.2" r="1.1"/><circle cx="555.2" cy="57.6" r="1.1"/><circle cx="627.5" cy="47" r="0.9"/><circle cx="564.2" cy="50.4" r="0.6"/><circle cx="619.6" cy="92.8" r="1.1"/><circle cx="628.5" cy="86.2" r="1"/><circle cx="632.4" cy="105.3" r="1.2"/><circle cx="573.3" cy="71.8" r="0.7"/><circle cx="593.9" cy="65.9" r="1"/><circle cx="566.1" cy="117.9" r="0.9"/><circle cx="583.8" cy="97.1" r="0.6"/><circle cx="581.2" cy="59.4" r="0.7"/><circle cx="573.2" cy="49.4" r="1"/><circle cx="639.8" cy="83.7" r="1.1"/><circle cx="644.5" cy="79.2" r="1.1"/><circle cx="630.5" cy="67.2" r="1"/><circle cx="580.9" cy="103.7" r="0.9"/><circle cx="612.4" cy="67.5" r="0.8"/><circle cx="588.8" cy="49" r="1.1"/><circle cx="560.8" cy="104.3" r="0.6"/><circle cx="550.7" cy="66.3" r="0.5"/><circle cx="612.5" cy="84" r="0.8"/><circle cx="614.8" cy="73.9" r="1.2"/><circle cx="594.1" cy="70.9" r="0.9"/><circle cx="589.3" cy="67" r="0.8"/><circle cx="602.6" cy="47.8" r="1.2"/><circle cx="613.5" cy="57.8" r="0.6"/><circle cx="572.3" cy="44.1" r="1.1"/><circle cx="549.7" cy="72.3" r="1.2"/><circle cx="564.3" cy="88.5" r="1.1"/><circle cx="616.4" cy="82" r="1"/><circle cx="601.9" cy="85.5" r="0.5"/><circle cx="587.1" cy="59.6" r="1"/><circle cx="571.9" cy="46" r="0.9"/><circle cx="581.3" cy="118.3" r="0.6"/><circle cx="644.1" cy="78.2" r="1"/><circle cx="633.3" cy="107.8" r="0.9"/><circle cx="627.6" cy="73.4" r="1.1"/><circle cx="614.5" cy="121.8" r="0.9"/><circle cx="573.1" cy="51.6" r="0.9"/><circle cx="563.7" cy="89" r="1.2"/><circle cx="605.3" cy="87.5" r="1.2"/><circle cx="581.6" cy="44.5" r="1.2"/><circle cx="607.5" cy="70.6" r="0.8"/><circle cx="640.3" cy="84.8" r="1"/><circle cx="577.9" cy="47.8" r="0.7"/><circle cx="569.5" cy="111.5" r="0.6"/><circle cx="634.7" cy="84.2" r="0.9"/><circle cx="556.5" cy="83.9" r="1.1"/><circle cx="640.9" cy="75.8" r="0.9"/><circle cx="590.6" cy="124.1" r="0.5"/><circle cx="571.7" cy="67.9" r="0.8"/><circle cx="566.9" cy="78.1" r="1.3"/><circle cx="626.4" cy="54.4" r="1.2"/><circle cx="549.9" cy="80.9" r="1.2"/><circle cx="627.9" cy="53.1" r="1.3"/><circle cx="620.9" cy="84.2" r="0.9"/><circle cx="604.5" cy="63.9" r="1.2"/><circle cx="577.2" cy="107.4" r="1.1"/><circle cx="551.8" cy="66.4" r="1.2"/><circle cx="607.1" cy="66.3" r="0.9"/><circle cx="552.3" cy="99" r="0.8"/><circle cx="614.2" cy="98.8" r="1"/><circle cx="591.3" cy="114" r="0.6"/><circle cx="566" cy="113.4" r="0.8"/><circle cx="631.9" cy="100.5" r="1.1"/><circle cx="576.5" cy="108.9" r="1.1"/><circle cx="587.6" cy="54.3" r="0.7"/><circle cx="582.8" cy="95.5" r="0.6"/><circle cx="630.8" cy="101.5" r="0.7"/><circle cx="607.2" cy="60.5" r="0.8"/><circle cx="567.4" cy="75.4" r="0.7"/><circle cx="633.9" cy="56.6" r="1"/><circle cx="642.5" cy="68.3" r="0.6"/><circle cx="612.4" cy="89.7" r="0.9"/><circle cx="595.3" cy="86.9" r="1.1"/><circle cx="584.4" cy="45.7" r="1.2"/><circle cx="550" cy="79.8" r="0.5"/><circle cx="562" cy="83.4" r="0.5"/><circle cx="609" cy="77.3" r="1"/><circle cx="595.1" cy="90.3" r="1.2"/><circle cx="604.8" cy="45.1" r="1"/><circle cx="595" cy="58.2" r="1.2"/><circle cx="564.2" cy="68.2" r="0.7"/><circle cx="641.8" cy="95.8" r="0.8"/><circle cx="637.2" cy="95.5" r="0.7"/><circle cx="591.4" cy="66.4" r="0.9"/><circle cx="595.4" cy="47.1" r="1"/><circle cx="615.7" cy="117.2" r="0.7"/><circle cx="579.1" cy="87.5" r="0.8"/><circle cx="626.2" cy="54.7" r="0.7"/><circle cx="602.9" cy="47.4" r="1.1"/><circle cx="605.8" cy="92.7" r="1.1"/><circle cx="563.9" cy="112.4" r="1"/><circle cx="628" cy="87" r="0.7"/><circle cx="595.8" cy="115.4" r="0.7"/><circle cx="591.1" cy="72.2" r="0.9"/><circle cx="568.5" cy="43.4" r="1.1"/><circle cx="584.7" cy="74.2" r="0.7"/><circle cx="621.3" cy="75.7" r="0.8"/><circle cx="578.2" cy="108.1" r="0.8"/><circle cx="621.4" cy="45.9" r="1.1"/><circle cx="558.2" cy="66.2" r="1.1"/><circle cx="588.7" cy="76.6" r="0.8"/><circle cx="587.1" cy="121.7" r="1.2"/><circle cx="548.8" cy="68.9" r="0.5"/><circle cx="572" cy="89.4" r="1.1"/><circle cx="558.2" cy="111.6" r="0.6"/><circle cx="580.9" cy="106.5" r="0.7"/><circle cx="594.8" cy="53" r="0.5"/><circle cx="557.2" cy="56.5" r="0.7"/><circle cx="578.2" cy="107" r="0.7"/><circle cx="571.2" cy="62" r="0.5"/><circle cx="575.6" cy="102.1" r="0.6"/><circle cx="616.5" cy="43.5" r="0.9"/><circle cx="559.9" cy="60.3" r="0.7"/><circle cx="562.8" cy="78" r="1.1"/><circle cx="607.7" cy="70.2" r="1"/><circle cx="611" cy="48.3" r="0.7"/><circle cx="626.3" cy="78.4" r="1"/><circle cx="558.9" cy="109.3" r="1.1"/><circle cx="622.8" cy="98.3" r="1.2"/><circle cx="645.6" cy="80.8" r="1.2"/><circle cx="557.8" cy="71.5" r="0.9"/><circle cx="563.1" cy="63.5" r="0.7"/><circle cx="565" cy="59.7" r="1.1"/><circle cx="610.9" cy="107.1" r="1.1"/><circle cx="635" cy="105.7" r="1"/><circle cx="643.6" cy="86.4" r="0.8"/><circle cx="620.2" cy="105.2" r="0.8"/><circle cx="603.5" cy="38.8" r="1"/><circle cx="583.7" cy="75.3" r="0.9"/><circle cx="634.5" cy="97.4" r="1.1"/><circle cx="592.6" cy="109.4" r="0.5"/><circle cx="594.4" cy="53.9" r="1.1"/><circle cx="639.3" cy="82" r="0.6"/><circle cx="605" cy="112.2" r="0.6"/><circle cx="628.6" cy="100.4" r="0.8"/><circle cx="553" cy="69.9" r="1.2"/><circle cx="638.6" cy="60.2" r="1.3"/><circle cx="637.4" cy="87.2" r="0.5"/><circle cx="609.3" cy="72.8" r="0.8"/><circle cx="600" cy="62.6" r="0.8"/><circle cx="567.1" cy="95.3" r="1.3"/><circle cx="590.9" cy="61.5" r="1.2"/><circle cx="572.4" cy="50.1" r="1.1"/><circle cx="602.2" cy="103" r="1"/><circle cx="605.7" cy="60.7" r="0.7"/><circle cx="609.4" cy="80.9" r="0.6"/><circle cx="597.3" cy="84.3" r="0.5"/><circle cx="578.4" cy="61.1" r="0.6"/><circle cx="616.1" cy="78.9" r="0.7"/><circle cx="583.3" cy="96.1" r="1"/><circle cx="553.1" cy="92.8" r="0.8"/><circle cx="596.7" cy="119.8" r="0.6"/><circle cx="607.1" cy="65.4" r="1"/><circle cx="600.3" cy="98" r="1.2"/><circle cx="578.5" cy="52.7" r="0.9"/><circle cx="591.8" cy="66.6" r="0.8"/><circle cx="584.8" cy="81.2" r="0.6"/><circle cx="622" cy="88.4" r="1.3"/><circle cx="610.8" cy="53.5" r="0.6"/><circle cx="634.7" cy="72.8" r="0.8"/><circle cx="570.1" cy="83.3" r="0.7"/><circle cx="631" cy="92.5" r="0.8"/><circle cx="604.9" cy="76.7" r="1.2"/><circle cx="618.9" cy="45.4" r="1.2"/><circle cx="557.6" cy="56.4" r="1"/><circle cx="547.5" cy="71.7" r="1.1"/><circle cx="555.1" cy="80.7" r="0.9"/><circle cx="559.4" cy="74.1" r="1.1"/><circle cx="567.6" cy="72.5" r="0.6"/><circle cx="605.3" cy="114" r="1"/><circle cx="614.7" cy="83.8" r="1"/><circle cx="626" cy="105.1" r="1.2"/><circle cx="608" cy="42.8" r="1"/><circle cx="605.9" cy="119.6" r="0.7"/><circle cx="642.1" cy="66.6" r="1"/><circle cx="575.5" cy="72.8" r="0.8"/><circle cx="599.6" cy="93.1" r="0.6"/><circle cx="595.6" cy="48.4" r="0.5"/><circle cx="641.3" cy="73.9" r="0.5"/><circle cx="583.2" cy="61.9" r="1"/><circle cx="553.3" cy="102.8" r="0.9"/><circle cx="615.8" cy="55.7" r="0.5"/><circle cx="590.8" cy="97.1" r="1.3"/><circle cx="602" cy="121.1" r="0.8"/><circle cx="592.1" cy="73.6" r="0.6"/><circle cx="633.4" cy="99.9" r="0.8"/><circle cx="613.2" cy="99.4" r="1.1"/><circle cx="557.3" cy="67.1" r="1.1"/><circle cx="636.6" cy="104.5" r="0.5"/><circle cx="627.6" cy="75.5" r="0.6"/><circle cx="630" cy="60.5" r="1"/><circle cx="602.5" cy="94.1" r="1.1"/><circle cx="595.4" cy="93.1" r="0.8"/><circle cx="558.3" cy="94.8" r="0.9"/><circle cx="571.9" cy="75.4" r="0.7"/><circle cx="633.7" cy="65.2" r="1.1"/><circle cx="604.7" cy="58.5" r="0.6"/><circle cx="619.5" cy="83.1" r="0.6"/><circle cx="637.7" cy="63.5" r="0.8"/><circle cx="583.4" cy="40.4" r="1.1"/><circle cx="606.9" cy="86.1" r="0.9"/><circle cx="615.8" cy="122" r="0.6"/><circle cx="628.7" cy="63.1" r="0.8"/><circle cx="641.8" cy="95" r="0.8"/><circle cx="580.9" cy="65.6" r="1.1"/><circle cx="599.3" cy="117" r="0.5"/><circle cx="595.7" cy="45.8" r="0.9"/><circle cx="601.1" cy="94.7" r="1.1"/><circle cx="611.2" cy="81.6" r="1"/><circle cx="572.8" cy="96.7" r="1"/><circle cx="564.9" cy="108.3" r="1.2"/><circle cx="629.1" cy="99" r="0.8"/><circle cx="547.2" cy="80.6" r="1.1"/><circle cx="583.4" cy="106.8" r="0.6"/><circle cx="554.8" cy="74.8" r="1"/><circle cx="586" cy="103.9" r="1.1"/><circle cx="612" cy="96.6" r="0.8"/><circle cx="626.1" cy="56" r="0.7"/><circle cx="609.7" cy="75.4" r="0.7"/><circle cx="560.2" cy="102" r="0.9"/><circle cx="629.1" cy="64.2" r="1.1"/><circle cx="619.6" cy="44.4" r="0.8"/><circle cx="630.9" cy="52.2" r="0.5"/><circle cx="624.3" cy="63.7" r="1"/><circle cx="577.4" cy="106.9" r="0.6"/><circle cx="575.5" cy="88" r="1.1"/></g><g fill="#03100c" fill-opacity="0.5" filter="url(#bl1)"><circle cx="601.7" cy="61.8" r="1.5"/><circle cx="599.7" cy="70.8" r="1.5"/><circle cx="624.2" cy="114" r="0.9"/><circle cx="585.7" cy="110.6" r="1.2"/><circle cx="605.2" cy="111.3" r="1"/><circle cx="591" cy="80" r="1.7"/><circle cx="551.1" cy="98.6" r="1.4"/><circle cx="562.3" cy="76.4" r="1.5"/><circle cx="556.3" cy="103.1" r="1.3"/><circle cx="636.3" cy="89.1" r="1"/><circle cx="600.5" cy="88.7" r="1.2"/><circle cx="623" cy="81" r="1.1"/><circle cx="570.7" cy="53.6" r="0.8"/><circle cx="618.8" cy="70.9" r="1.3"/><circle cx="571.7" cy="57.8" r="1.1"/><circle cx="561.4" cy="94.8" r="1.5"/><circle cx="555.7" cy="91.7" r="0.8"/><circle cx="629.2" cy="52.9" r="1.3"/><circle cx="614.5" cy="114.7" r="1.7"/><circle cx="611.4" cy="75.3" r="1.4"/><circle cx="551.4" cy="81.8" r="1.5"/><circle cx="585.5" cy="91.4" r="1.6"/><circle cx="588.2" cy="117.4" r="1"/><circle cx="627.4" cy="97.4" r="1.7"/><circle cx="588.3" cy="92.3" r="1.4"/><circle cx="613.2" cy="53.9" r="0.9"/><circle cx="577.7" cy="83.1" r="1.4"/><circle cx="611.3" cy="93.4" r="1.3"/><circle cx="550.3" cy="66.2" r="1.4"/><circle cx="640.1" cy="97.3" r="0.9"/><circle cx="615.3" cy="44" r="1.1"/><circle cx="574.9" cy="111.4" r="1.4"/><circle cx="619.9" cy="57.1" r="1.7"/><circle cx="589.6" cy="80.9" r="1.5"/><circle cx="587.2" cy="54.5" r="1.5"/><circle cx="572.2" cy="64.1" r="1.1"/><circle cx="593.9" cy="124.5" r="1.8"/><circle cx="586.4" cy="98.3" r="1.4"/><circle cx="636.3" cy="80.3" r="1.6"/><circle cx="546.8" cy="72.2" r="1"/><circle cx="577.7" cy="68.3" r="1.2"/><circle cx="569.7" cy="83.5" r="1.6"/><circle cx="602.5" cy="123.8" r="0.8"/><circle cx="593" cy="38.4" r="0.8"/><circle cx="583.6" cy="107.4" r="1"/><circle cx="564.8" cy="115.3" r="1.4"/><circle cx="575.9" cy="96.9" r="0.9"/><circle cx="603.5" cy="47" r="1.5"/><circle cx="629.9" cy="104.5" r="0.9"/><circle cx="573.1" cy="78.8" r="1.8"/><circle cx="596.4" cy="96.9" r="1.1"/><circle cx="617.9" cy="114.4" r="1.1"/><circle cx="580.5" cy="46.5" r="1.1"/><circle cx="567.8" cy="73.5" r="1.3"/><circle cx="619.2" cy="114.3" r="1.3"/><circle cx="558.6" cy="88.5" r="1.6"/><circle cx="624.5" cy="114.4" r="1.1"/><circle cx="560.7" cy="59.8" r="1.5"/><circle cx="576.4" cy="109.5" r="1.5"/><circle cx="595.5" cy="45" r="1.4"/><circle cx="562.2" cy="85.1" r="1.2"/><circle cx="571" cy="50.7" r="1.1"/><circle cx="637.5" cy="100.5" r="1.1"/><circle cx="602.2" cy="88.9" r="1.3"/><circle cx="617.9" cy="116.7" r="1.2"/><circle cx="619.4" cy="44.7" r="1.2"/><circle cx="635" cy="98.4" r="0.9"/><circle cx="595.6" cy="80.2" r="0.9"/><circle cx="622.4" cy="116.8" r="1.1"/><circle cx="640.3" cy="69.8" r="1.6"/><circle cx="597.9" cy="121.2" r="1.5"/><circle cx="589" cy="42" r="1"/><circle cx="569.8" cy="76" r="1.6"/><circle cx="617.7" cy="56.6" r="1.3"/><circle cx="584.4" cy="117.3" r="1.4"/><circle cx="579.7" cy="108.7" r="1.3"/><circle cx="624.7" cy="94.7" r="1.7"/><circle cx="574.9" cy="80.7" r="0.8"/><circle cx="581.4" cy="96.9" r="1.2"/><circle cx="578.4" cy="78.5" r="1.4"/><circle cx="610.5" cy="51.7" r="0.9"/><circle cx="550.3" cy="75.9" r="1.3"/><circle cx="566.4" cy="69.1" r="1.1"/><circle cx="577.7" cy="88.7" r="1"/><circle cx="581" cy="77.2" r="1.6"/><circle cx="596.7" cy="100.3" r="1.4"/><circle cx="563.3" cy="51.1" r="1.4"/><circle cx="608.8" cy="46" r="1.7"/><circle cx="585" cy="50.5" r="0.8"/><circle cx="572.7" cy="88" r="1.2"/><circle cx="569.2" cy="56.4" r="1.7"/><circle cx="603.9" cy="123.1" r="1.1"/><circle cx="640.2" cy="96.3" r="1.5"/><circle cx="631.5" cy="76.1" r="1.7"/><circle cx="572" cy="101.2" r="1.7"/><circle cx="592.3" cy="52.4" r="0.9"/><circle cx="594.5" cy="101.4" r="1.7"/><circle cx="609.1" cy="49.3" r="1.3"/><circle cx="575.3" cy="59.8" r="1.6"/><circle cx="572.9" cy="82" r="1.4"/><circle cx="608.8" cy="111.4" r="1.4"/><circle cx="575.4" cy="119.1" r="1.1"/><circle cx="592.4" cy="37.1" r="1.2"/><circle cx="592.2" cy="78.7" r="1"/><circle cx="597.1" cy="68.1" r="1.6"/><circle cx="590.1" cy="78.2" r="1.4"/><circle cx="604.1" cy="67.1" r="1"/><circle cx="584.9" cy="94.8" r="1.3"/><circle cx="625.9" cy="107.8" r="1.5"/><circle cx="576.4" cy="109.8" r="1.4"/><circle cx="570.5" cy="53.4" r="1"/><circle cx="586.1" cy="49.8" r="1.4"/><circle cx="562" cy="88.2" r="1.5"/><circle cx="636.1" cy="87" r="1"/><circle cx="616.2" cy="65.3" r="1.1"/><circle cx="587" cy="89.9" r="0.9"/><circle cx="618.1" cy="113.8" r="1.1"/><circle cx="550" cy="81.4" r="1.6"/><circle cx="618.1" cy="69.3" r="1.3"/><circle cx="624.6" cy="68.3" r="0.8"/><circle cx="567.1" cy="47.2" r="1.2"/><circle cx="603" cy="103.9" r="0.9"/><circle cx="610.4" cy="43.9" r="1.4"/><circle cx="577.3" cy="81" r="1.5"/><circle cx="590.9" cy="102.7" r="1.1"/><circle cx="600.4" cy="39" r="1.7"/><circle cx="577.8" cy="68.8" r="0.9"/><circle cx="557.4" cy="99.2" r="1.3"/><circle cx="557.7" cy="55.2" r="1.4"/><circle cx="579.6" cy="72.4" r="1.8"/><circle cx="616.1" cy="61.7" r="1.5"/><circle cx="557.2" cy="99.2" r="1.3"/><circle cx="635.4" cy="78.1" r="1.2"/><circle cx="552.5" cy="83.3" r="1.4"/><circle cx="585.6" cy="112.4" r="1.7"/><circle cx="631.2" cy="68.9" r="1.3"/><circle cx="609.6" cy="81.1" r="1.7"/><circle cx="638" cy="77.8" r="1.4"/><circle cx="594.7" cy="115.4" r="1"/><circle cx="623.2" cy="108.7" r="1.2"/><circle cx="625.8" cy="103.7" r="1.5"/><circle cx="579.9" cy="67.1" r="1.3"/><circle cx="601.5" cy="63.5" r="1.6"/><circle cx="593.8" cy="68.7" r="1.2"/><circle cx="587.5" cy="53.9" r="1.5"/><circle cx="619.1" cy="69.3" r="0.8"/><circle cx="555.4" cy="69.4" r="1"/><circle cx="618.2" cy="66.4" r="1"/><circle cx="642.3" cy="82.2" r="1.5"/><circle cx="608.6" cy="41.3" r="1.6"/></g><g fill="#286a72" fill-opacity="0.8" filter="url(#bl2)"><circle cx="556.8" cy="53.8" r="4.5"/><circle cx="578" cy="46.8" r="4.5"/><circle cx="598.3" cy="47.7" r="3"/><circle cx="606.2" cy="63.5" r="6"/><circle cx="624.7" cy="64.4" r="6"/><circle cx="580.6" cy="68" r="5.5"/><circle cx="555.9" cy="78.6" r="6.5"/><circle cx="589.4" cy="81.2" r="5.5"/><circle cx="591.2" cy="74.1" r="4"/><circle cx="600" cy="90" r="4"/><circle cx="580.6" cy="94.4" r="4.5"/><circle cx="590.3" cy="104.2" r="4"/><circle cx="616.8" cy="105" r="6"/><circle cx="631.8" cy="90.9" r="4"/><circle cx="591.2" cy="116.5" r="3"/></g><g fill="#2aa852" filter="url(#bl05)"><circle cx="582.4" cy="40.6" r="1.1"/><circle cx="588.6" cy="43.8" r="1.1"/><circle cx="612.4" cy="52" r="1.1"/><circle cx="567.4" cy="73.3" r="1.1"/><circle cx="571.8" cy="81.2" r="1.1"/><circle cx="585" cy="93.6" r="1.1"/><circle cx="552.4" cy="95.3" r="1.1"/><circle cx="578" cy="107.7" r="1.1"/><circle cx="600" cy="110.3" r="1.1"/><circle cx="636.2" cy="106.8" r="1.1"/><circle cx="580.6" cy="65.3" r="1.1"/><circle cx="615" cy="62.7" r="1.1"/><circle cx="560" cy="60" r="1.1"/><circle cx="620" cy="115" r="1.1"/><circle cx="605" cy="120" r="1.1"/><circle cx="548" cy="85" r="1.1"/><circle cx="596" cy="60" r="1.1"/><circle cx="570" cy="55" r="1.1"/><circle cx="625" cy="98" r="1.1"/></g><g fill="#5e3412" fill-opacity="0.6" filter="url(#bl05)"><circle cx="635.3" cy="83.7" r="0.7"/><circle cx="552" cy="74.6" r="0.7"/><circle cx="584.7" cy="103.9" r="0.7"/><circle cx="604.5" cy="106.4" r="0.7"/><circle cx="635.4" cy="86.1" r="0.7"/><circle cx="598.8" cy="55.8" r="0.7"/><circle cx="584.6" cy="99" r="0.7"/><circle cx="585.9" cy="110.4" r="0.7"/><circle cx="612.3" cy="43.5" r="0.7"/><circle cx="607.6" cy="52.8" r="0.7"/><circle cx="586.7" cy="85.6" r="0.7"/><circle cx="585.6" cy="91.9" r="0.7"/><circle cx="566.7" cy="66.7" r="0.7"/><circle cx="576.9" cy="85.7" r="0.7"/><circle cx="569.5" cy="75" r="0.7"/><circle cx="630.1" cy="61.7" r="0.7"/><circle cx="622.6" cy="108" r="0.7"/><circle cx="605" cy="90" r="0.7"/><circle cx="617.3" cy="98.2" r="0.7"/><circle cx="600.7" cy="104.2" r="0.7"/><circle cx="559.7" cy="76.9" r="0.7"/><circle cx="573.5" cy="107.6" r="0.7"/><circle cx="564.9" cy="108.7" r="0.7"/><circle cx="590.7" cy="67.4" r="0.7"/><circle cx="639.2" cy="96.5" r="0.7"/><circle cx="582.9" cy="101.6" r="0.7"/><circle cx="602.8" cy="69.8" r="0.7"/><circle cx="628.2" cy="70.3" r="0.7"/><circle cx="570.5" cy="45.4" r="0.7"/><circle cx="556.3" cy="90.8" r="0.7"/><circle cx="578.1" cy="87.2" r="0.7"/><circle cx="615.7" cy="96.7" r="0.7"/><circle cx="604.4" cy="81.6" r="0.7"/><circle cx="617" cy="77.2" r="0.7"/><circle cx="627.6" cy="63.3" r="0.7"/><circle cx="601" cy="64.8" r="0.7"/><circle cx="554.3" cy="65" r="0.7"/><circle cx="631.7" cy="67.2" r="0.7"/><circle cx="600.1" cy="72.9" r="0.7"/><circle cx="580.3" cy="75.4" r="0.7"/><circle cx="627.9" cy="84.6" r="0.7"/><circle cx="607.5" cy="66" r="0.7"/><circle cx="612.8" cy="97.1" r="0.7"/><circle cx="615" cy="115.3" r="0.7"/><circle cx="581.4" cy="80.3" r="0.7"/><circle cx="629.8" cy="69.9" r="0.7"/><circle cx="574.5" cy="92.2" r="0.7"/><circle cx="629.1" cy="56.7" r="0.7"/><circle cx="601.4" cy="68.2" r="0.7"/><circle cx="634.5" cy="63.8" r="0.7"/><circle cx="601.4" cy="82.2" r="0.7"/><circle cx="589.3" cy="118.3" r="0.7"/><circle cx="580.1" cy="101.9" r="0.7"/><circle cx="632.1" cy="59.7" r="0.7"/><circle cx="563.2" cy="73.1" r="0.7"/><circle cx="579.2" cy="48.2" r="0.7"/><circle cx="573.8" cy="101.5" r="0.7"/><circle cx="562.9" cy="56.5" r="0.7"/><circle cx="625.8" cy="95.5" r="0.7"/><circle cx="610.6" cy="87.1" r="0.7"/><circle cx="587.7" cy="87" r="0.7"/><circle cx="635.2" cy="84.6" r="0.7"/><circle cx="585.1" cy="120.1" r="0.7"/><circle cx="605.9" cy="116.6" r="0.7"/><circle cx="617.2" cy="114.4" r="0.7"/><circle cx="617.6" cy="58.4" r="0.7"/><circle cx="603.5" cy="98.2" r="0.7"/><circle cx="608.3" cy="84.6" r="0.7"/><circle cx="584.6" cy="55.3" r="0.7"/><circle cx="566" cy="111.7" r="0.7"/><circle cx="584" cy="59.7" r="0.7"/><circle cx="584.1" cy="68.7" r="0.7"/><circle cx="621.3" cy="75.7" r="0.7"/><circle cx="594.3" cy="95.4" r="0.7"/><circle cx="575.2" cy="56.9" r="0.7"/><circle cx="598.1" cy="101.5" r="0.7"/><circle cx="639" cy="91.4" r="0.7"/><circle cx="621.7" cy="100.7" r="0.7"/><circle cx="618.7" cy="68.4" r="0.7"/><circle cx="551.8" cy="98.6" r="0.7"/><circle cx="587" cy="56.3" r="0.7"/><circle cx="608.7" cy="83.6" r="0.7"/><circle cx="566.6" cy="98.5" r="0.7"/><circle cx="560.8" cy="73.9" r="0.7"/><circle cx="601.4" cy="42.4" r="0.7"/><circle cx="612" cy="80.3" r="0.7"/><circle cx="624.9" cy="68.2" r="0.7"/><circle cx="595" cy="79.1" r="0.7"/><circle cx="599.6" cy="72.5" r="0.7"/><circle cx="559.9" cy="70.9" r="0.7"/></g><ellipse cx="632" cy="81" rx="9" ry="7.5" fill="#3aa83c" fill-opacity="0.8" filter="url(#bl2)"/><path d="M631 73C636 70 642 72 645 76C647 80 645 85 640 86C635 87 630 85 629 81C628 77 629 75 631 73Z" fill="#cfc23a" filter="url(#bl1)"/><ellipse cx="639" cy="78" rx="3.5" ry="3.5" fill="#e6d246" filter="url(#bl1)"/></g>
<path d="M613.3 79.8H621" stroke="#fff" stroke-width="1.1"/><path d="M624.3 79.8L620.2 77.9V81.7Z" fill="#fff"/>
<g clip-path="url(#cd2)"><g fill="#5e4014" filter="url(#bl05)"><circle cx="502.4" cy="249.4" r="0.7"/><circle cx="530.1" cy="235.3" r="0.9"/><circle cx="538.6" cy="217.5" r="1.1"/><circle cx="536.4" cy="185.7" r="0.6"/><circle cx="553" cy="215.6" r="0.6"/><circle cx="541" cy="200.5" r="1"/><circle cx="555.4" cy="215.6" r="0.7"/><circle cx="543" cy="199.7" r="1"/><circle cx="505.8" cy="219.3" r="0.7"/><circle cx="502.5" cy="191.5" r="0.9"/><circle cx="533" cy="177.3" r="0.6"/><circle cx="519.4" cy="198.8" r="0.6"/><circle cx="516" cy="206.2" r="0.7"/><circle cx="533.8" cy="167.2" r="0.6"/><circle cx="550.7" cy="204.8" r="0.8"/><circle cx="539.2" cy="205.6" r="0.8"/><circle cx="517.3" cy="236.8" r="0.5"/></g><g fill="#4a3212" filter="url(#bl05)"><circle cx="513.6" cy="180.8" r="0.8"/><circle cx="533.5" cy="223.8" r="0.9"/><circle cx="542.1" cy="206.9" r="1"/><circle cx="544.1" cy="172.1" r="0.7"/><circle cx="554.2" cy="157.2" r="0.8"/><circle cx="550.2" cy="227" r="0.8"/><circle cx="524.6" cy="185.5" r="0.6"/><circle cx="503.1" cy="196.1" r="1"/></g><g fill="#7a5216" filter="url(#bl05)"><circle cx="510.3" cy="200.3" r="0.5"/><circle cx="554.4" cy="226.7" r="0.6"/><circle cx="506.7" cy="195.3" r="0.7"/><circle cx="547.2" cy="180.4" r="0.8"/><circle cx="526.7" cy="190.8" r="1"/><circle cx="518.6" cy="256.6" r="0.7"/><circle cx="502.7" cy="231" r="1.1"/><circle cx="523.2" cy="195.9" r="1"/><circle cx="538.1" cy="180.8" r="0.7"/><circle cx="525.2" cy="186" r="1"/><circle cx="503.6" cy="208.5" r="1"/><circle cx="542.9" cy="202" r="1.1"/><circle cx="536" cy="207.1" r="1"/></g><g fill="#5a3a12" filter="url(#bl05)"><circle cx="677.4" cy="222.5" r="0.6"/><circle cx="652.4" cy="239.3" r="0.6"/><circle cx="520.3" cy="218.1" r="0.6"/><circle cx="641.6" cy="209.7" r="0.6"/><circle cx="639.8" cy="172.7" r="0.6"/><circle cx="520.9" cy="215.4" r="0.6"/><circle cx="590.5" cy="284.6" r="0.6"/><circle cx="598.7" cy="241.9" r="0.6"/><circle cx="549.2" cy="208" r="0.6"/><circle cx="576.6" cy="225.3" r="0.6"/><circle cx="511.3" cy="208.1" r="0.6"/><circle cx="510" cy="161.5" r="0.6"/><circle cx="670.1" cy="208.6" r="0.6"/><circle cx="557.3" cy="201.2" r="0.6"/><circle cx="606" cy="176" r="0.6"/><circle cx="537.3" cy="255.9" r="0.6"/><circle cx="629.3" cy="184.3" r="0.6"/><circle cx="675.8" cy="178.2" r="0.6"/><circle cx="642.1" cy="197.4" r="0.6"/><circle cx="625.9" cy="218.3" r="0.6"/></g><path d="M586.5 174.4C592 174.5 604.6 175.3 611.5 177.2C618.4 179 623.5 181.8 628.1 185.5C632.7 189.2 636.7 193.8 639.2 199.4C641.8 205 642.9 212.3 643.4 218.8C643.9 225.3 643.6 232.2 642 238.2C640.4 244.2 637.4 249.8 633.7 254.9C630 260 625.3 265.5 619.8 268.7C614.2 271.9 606.4 274.3 600.4 274.3C594.4 274.3 588.9 271.9 583.8 268.7C578.7 265.5 573.6 260 569.9 254.9C566.2 249.8 563.4 244.2 561.6 238.2C559.9 232.2 559.4 225.3 559.4 218.8C559.4 212.3 559.9 205.4 561.6 199.4C563.4 193.4 567.1 186.5 569.9 182.7C572.7 178.9 575.4 178 578.2 176.6C581 175.2 581 174.3 586.5 174.4Z" fill="url(#nuc2)" filter="url(#bl2)"/><g fill="#22903e" fill-opacity="0.5" filter="url(#bl1)"><circle cx="565.6" cy="228.8" r="1.4"/><circle cx="583.2" cy="212.6" r="1.5"/><circle cx="623.6" cy="233" r="1"/><circle cx="637" cy="203.1" r="1.4"/><circle cx="630.5" cy="221.2" r="1.3"/><circle cx="580.5" cy="252.2" r="1.1"/><circle cx="639.8" cy="231.9" r="1.1"/><circle cx="591.6" cy="260.8" r="0.7"/><circle cx="606.7" cy="260.6" r="0.8"/><circle cx="609.7" cy="186.9" r="1"/><circle cx="569.2" cy="200.4" r="1.4"/><circle cx="617.3" cy="258.3" r="0.8"/><circle cx="613.3" cy="185.6" r="1.4"/><circle cx="578.4" cy="207.1" r="1.3"/><circle cx="612.9" cy="210.1" r="1.4"/><circle cx="624.9" cy="225.7" r="0.9"/><circle cx="592.3" cy="220.9" r="0.7"/><circle cx="618.3" cy="248.1" r="0.7"/><circle cx="577.4" cy="236.5" r="0.9"/><circle cx="604.3" cy="205.1" r="0.7"/><circle cx="568.5" cy="199.3" r="1.3"/><circle cx="582.2" cy="189.7" r="0.9"/><circle cx="617.5" cy="230.9" r="0.9"/><circle cx="580.5" cy="199.3" r="1"/><circle cx="605.1" cy="260.2" r="1.2"/><circle cx="598" cy="264.1" r="1.4"/><circle cx="596.7" cy="256.1" r="1.5"/><circle cx="612.6" cy="180" r="1.1"/><circle cx="613.9" cy="198.9" r="1.1"/><circle cx="609.4" cy="224.8" r="0.8"/><circle cx="600.5" cy="200.3" r="1"/><circle cx="590.9" cy="215.1" r="1.2"/><circle cx="594.7" cy="187.7" r="1"/><circle cx="627.9" cy="233.4" r="1.4"/><circle cx="614" cy="255.9" r="0.7"/><circle cx="618.2" cy="233.4" r="1"/><circle cx="611" cy="232.3" r="0.8"/><circle cx="590" cy="203.6" r="0.9"/><circle cx="632.8" cy="235.5" r="1.4"/><circle cx="569.1" cy="225.8" r="1.2"/><circle cx="561.6" cy="223.1" r="1.3"/><circle cx="638.7" cy="230.2" r="1.5"/><circle cx="636.5" cy="243.4" r="1.5"/><circle cx="621.6" cy="246.2" r="1.1"/><circle cx="603.6" cy="201" r="0.9"/><circle cx="604.6" cy="177.3" r="1.5"/><circle cx="590.3" cy="215.7" r="0.9"/><circle cx="610.1" cy="184.7" r="0.6"/><circle cx="576.9" cy="211.8" r="1.5"/><circle cx="592.1" cy="253.6" r="1.4"/><circle cx="591.6" cy="209.5" r="1.3"/><circle cx="628.5" cy="191.3" r="1.2"/><circle cx="581" cy="259.2" r="1.4"/><circle cx="592.8" cy="205.3" r="1.5"/><circle cx="630.9" cy="244.9" r="1.2"/><circle cx="597.9" cy="179.4" r="1.1"/><circle cx="637.2" cy="215.3" r="1.3"/><circle cx="605.3" cy="192.4" r="1.1"/><circle cx="609.4" cy="263.9" r="1.1"/><circle cx="597.4" cy="203.7" r="0.8"/><circle cx="632.9" cy="220.1" r="0.9"/><circle cx="595.2" cy="217.3" r="1.4"/><circle cx="634" cy="201.3" r="0.6"/><circle cx="615.8" cy="266.7" r="1.2"/><circle cx="630.1" cy="219.1" r="0.9"/><circle cx="596.5" cy="245.9" r="0.6"/><circle cx="632.3" cy="193.7" r="1.2"/><circle cx="591.8" cy="236.9" r="1.1"/><circle cx="592" cy="253.8" r="0.8"/><circle cx="586.7" cy="236.7" r="0.8"/><circle cx="610" cy="269.6" r="0.8"/><circle cx="590.7" cy="251.4" r="1.1"/><circle cx="576.9" cy="206.4" r="0.6"/><circle cx="599.5" cy="258.1" r="1.2"/><circle cx="567.3" cy="209.8" r="1"/><circle cx="606.9" cy="267.6" r="1.2"/><circle cx="628.5" cy="214" r="0.9"/><circle cx="571.6" cy="243.5" r="1"/><circle cx="621.8" cy="220.2" r="1.5"/><circle cx="587.4" cy="216.8" r="0.9"/><circle cx="630" cy="229.4" r="0.7"/><circle cx="595" cy="217.9" r="1.4"/><circle cx="605.9" cy="254.2" r="0.8"/><circle cx="587.6" cy="213.8" r="1"/><circle cx="599" cy="230" r="1.4"/><circle cx="588.5" cy="238.9" r="1"/><circle cx="588.6" cy="235.6" r="1"/><circle cx="588.9" cy="248.5" r="1.3"/><circle cx="610.9" cy="233.5" r="1.4"/><circle cx="585.4" cy="201.6" r="1.2"/><circle cx="631.2" cy="203.9" r="0.6"/><circle cx="633.2" cy="236.8" r="0.7"/><circle cx="565.9" cy="244.3" r="0.8"/><circle cx="626.5" cy="251.8" r="1.3"/><circle cx="604.3" cy="245.8" r="1.2"/><circle cx="586.6" cy="257.1" r="1"/><circle cx="626.6" cy="226.7" r="1.3"/><circle cx="580.1" cy="259.8" r="1.3"/><circle cx="598.3" cy="227" r="1.4"/><circle cx="607.1" cy="212.6" r="0.6"/><circle cx="605.9" cy="187.6" r="1.2"/><circle cx="589" cy="233.8" r="1.3"/><circle cx="591.3" cy="246.2" r="1.5"/><circle cx="586.4" cy="238.2" r="1.1"/><circle cx="589.2" cy="237.9" r="0.8"/><circle cx="612.1" cy="195.7" r="0.9"/><circle cx="609.6" cy="204.1" r="0.6"/><circle cx="635.5" cy="205.6" r="0.8"/><circle cx="581.6" cy="257" r="0.9"/><circle cx="597.3" cy="244.9" r="0.7"/><circle cx="578.9" cy="236.4" r="1.4"/><circle cx="584.6" cy="199.9" r="0.7"/><circle cx="584.5" cy="266" r="1.3"/><circle cx="618" cy="226.5" r="1.1"/><circle cx="614" cy="214.9" r="1"/><circle cx="595.9" cy="214.5" r="0.9"/><circle cx="598.1" cy="176.4" r="0.7"/><circle cx="623.1" cy="223.4" r="1"/><circle cx="616.4" cy="265.3" r="0.9"/><circle cx="598.8" cy="187.9" r="1"/><circle cx="576.3" cy="259.8" r="1.2"/><circle cx="609.9" cy="207.6" r="1.1"/><circle cx="602.5" cy="251.9" r="1.4"/><circle cx="564.6" cy="206.2" r="1.1"/><circle cx="609.8" cy="219.4" r="1.5"/><circle cx="603.7" cy="240.3" r="0.7"/><circle cx="608.3" cy="262" r="0.9"/><circle cx="613.5" cy="211.1" r="1"/><circle cx="608.7" cy="188.8" r="0.8"/><circle cx="629.3" cy="251.2" r="0.6"/><circle cx="610" cy="186.2" r="0.7"/><circle cx="563.5" cy="216.2" r="1.2"/><circle cx="604.5" cy="256.5" r="0.8"/><circle cx="579" cy="210.1" r="1.3"/><circle cx="601.1" cy="233.8" r="1.4"/><circle cx="599.8" cy="254.3" r="1.3"/><circle cx="616.3" cy="194.5" r="0.8"/><circle cx="583.1" cy="227.2" r="1.2"/><circle cx="627.3" cy="245.4" r="0.9"/><circle cx="612.4" cy="212.3" r="0.9"/><circle cx="622.2" cy="246.8" r="1.5"/><circle cx="601.8" cy="263.7" r="1.2"/><circle cx="618.1" cy="215.2" r="1.1"/><circle cx="581.9" cy="208.9" r="0.7"/><circle cx="610.2" cy="222" r="1.1"/><circle cx="624" cy="186" r="0.8"/><circle cx="583.7" cy="241" r="1.4"/><circle cx="611.7" cy="203.6" r="0.8"/><circle cx="594.4" cy="236.6" r="1.4"/><circle cx="635.3" cy="230.2" r="1.5"/><circle cx="573.9" cy="220.7" r="1.4"/><circle cx="578.4" cy="237.1" r="0.7"/><circle cx="620.6" cy="233.3" r="1.2"/><circle cx="611.3" cy="234.4" r="1.1"/><circle cx="595.1" cy="249.8" r="0.9"/><circle cx="608" cy="267.7" r="0.7"/><circle cx="569.4" cy="231.6" r="0.7"/><circle cx="571.7" cy="196.7" r="1"/><circle cx="632.8" cy="233" r="0.6"/><circle cx="603.5" cy="268.8" r="1.1"/><circle cx="605.3" cy="243.4" r="1.4"/><circle cx="598.5" cy="203.4" r="1.4"/><circle cx="580.1" cy="186.4" r="1"/><circle cx="621.7" cy="246.6" r="1.4"/><circle cx="631.7" cy="198.9" r="1.3"/><circle cx="597.5" cy="186.1" r="1"/><circle cx="616.9" cy="200.6" r="1.3"/><circle cx="619.5" cy="224" r="1.1"/><circle cx="624.8" cy="195" r="1.4"/><circle cx="598" cy="220" r="1.1"/><circle cx="598.6" cy="189.4" r="1.3"/><circle cx="606.7" cy="243.7" r="0.6"/><circle cx="586.3" cy="192.3" r="0.7"/><circle cx="575.5" cy="227.5" r="1.3"/><circle cx="621.8" cy="208.8" r="1.3"/><circle cx="564.3" cy="226.9" r="0.9"/><circle cx="606.4" cy="250.1" r="1.4"/><circle cx="625.2" cy="222.5" r="0.7"/><circle cx="593.4" cy="186.7" r="0.8"/><circle cx="586.7" cy="179.3" r="1.2"/><circle cx="596.5" cy="251.3" r="1.4"/><circle cx="562.9" cy="211.8" r="1.3"/><circle cx="609.7" cy="260.1" r="0.7"/><circle cx="591.8" cy="182.5" r="0.9"/><circle cx="620.5" cy="190" r="1.4"/><circle cx="562.6" cy="213.7" r="0.7"/><circle cx="615.1" cy="210.8" r="0.9"/><circle cx="610.1" cy="224.4" r="1"/><circle cx="613.6" cy="219.4" r="1"/><circle cx="576.8" cy="215.6" r="1.2"/><circle cx="570.1" cy="211.4" r="1.3"/><circle cx="600.5" cy="206.9" r="0.6"/><circle cx="610.6" cy="242.6" r="1.1"/><circle cx="580.7" cy="208.1" r="1.1"/><circle cx="587.4" cy="215.3" r="0.7"/><circle cx="569.9" cy="207.2" r="0.7"/><circle cx="620.9" cy="223" r="0.7"/><circle cx="588" cy="226" r="1.4"/><circle cx="603.5" cy="181.3" r="0.7"/><circle cx="609.3" cy="250" r="1.2"/><circle cx="585.9" cy="198.4" r="1"/><circle cx="611.3" cy="254.7" r="0.9"/><circle cx="629.1" cy="225.7" r="0.7"/><circle cx="604.7" cy="210.5" r="0.6"/><circle cx="577.9" cy="230.9" r="1.4"/><circle cx="588.3" cy="258" r="0.6"/><circle cx="593.1" cy="257.9" r="0.7"/><circle cx="589.4" cy="203.1" r="1"/><circle cx="585.8" cy="233" r="1.4"/><circle cx="603.6" cy="186" r="1.4"/><circle cx="579.5" cy="259.6" r="1.1"/><circle cx="595.6" cy="234.8" r="0.9"/><circle cx="616" cy="250.5" r="1"/><circle cx="599.3" cy="180.5" r="1.3"/><circle cx="618.7" cy="183.3" r="1.4"/><circle cx="629.7" cy="216.2" r="0.7"/><circle cx="613.9" cy="206.6" r="0.6"/><circle cx="593.8" cy="236.4" r="1.3"/><circle cx="580.3" cy="228.3" r="1.2"/><circle cx="595.8" cy="177.5" r="0.9"/><circle cx="565.9" cy="207.6" r="0.8"/><circle cx="578.2" cy="239" r="1.4"/><circle cx="614.7" cy="208.5" r="0.7"/><circle cx="573" cy="222.4" r="0.6"/><circle cx="570.5" cy="245.1" r="0.8"/><circle cx="569" cy="201.9" r="1.4"/><circle cx="609.6" cy="194.5" r="0.9"/><circle cx="588.8" cy="239.6" r="1.1"/><circle cx="585.8" cy="263.2" r="1.1"/><circle cx="587.8" cy="221.8" r="1.4"/><circle cx="635" cy="237.6" r="1"/><circle cx="631.4" cy="193.7" r="1.2"/><circle cx="598.9" cy="216.6" r="1.3"/><circle cx="600" cy="209.9" r="0.8"/><circle cx="601" cy="254.2" r="1.5"/><circle cx="626.4" cy="214" r="0.8"/><circle cx="607.1" cy="228.9" r="1.2"/><circle cx="592.1" cy="258" r="1.4"/><circle cx="590.9" cy="217.1" r="1.2"/><circle cx="577.2" cy="252.8" r="1.2"/><circle cx="599.8" cy="196.4" r="0.9"/><circle cx="586.3" cy="234.1" r="1"/><circle cx="631.9" cy="239.5" r="1.3"/><circle cx="617" cy="240.3" r="1"/><circle cx="613" cy="258.2" r="0.9"/><circle cx="614.2" cy="182.3" r="1.1"/><circle cx="597.7" cy="252" r="1"/><circle cx="622.7" cy="223.4" r="1.2"/><circle cx="610.7" cy="264.6" r="1"/><circle cx="573" cy="242.9" r="1.3"/><circle cx="611.9" cy="266.5" r="1.3"/><circle cx="620" cy="205" r="1.1"/><circle cx="632.2" cy="219.5" r="1.4"/><circle cx="619.6" cy="201.9" r="1.2"/><circle cx="636.5" cy="216.9" r="1.5"/><circle cx="572" cy="247" r="1.2"/><circle cx="611.5" cy="268.7" r="1"/><circle cx="610.6" cy="247.9" r="0.8"/><circle cx="611.9" cy="260.3" r="1.2"/><circle cx="599" cy="201.6" r="0.7"/><circle cx="574.2" cy="236.9" r="1.5"/><circle cx="634.7" cy="198.6" r="1.3"/><circle cx="561.8" cy="223.7" r="1.1"/><circle cx="588.9" cy="231.1" r="0.8"/><circle cx="619.4" cy="192.2" r="0.9"/><circle cx="572.9" cy="254.2" r="1.4"/><circle cx="611.2" cy="231.4" r="1.4"/><circle cx="631.9" cy="224.4" r="1"/><circle cx="616.1" cy="200.5" r="0.7"/><circle cx="614.7" cy="239.7" r="1.1"/><circle cx="584.3" cy="228.6" r="1.2"/><circle cx="610.1" cy="212.5" r="0.6"/><circle cx="623.4" cy="253.3" r="0.9"/><circle cx="607.9" cy="230.4" r="1"/><circle cx="596.4" cy="265.5" r="1.1"/><circle cx="584.6" cy="228.1" r="0.6"/><circle cx="590.1" cy="261.8" r="1.3"/><circle cx="610.3" cy="196.6" r="1.4"/><circle cx="579.9" cy="219" r="0.6"/><circle cx="638.2" cy="234.1" r="0.7"/><circle cx="635.1" cy="239.6" r="1.4"/><circle cx="606.6" cy="249.6" r="0.9"/><circle cx="593" cy="248.9" r="1"/><circle cx="580.6" cy="216.9" r="1.2"/><circle cx="590.7" cy="200.2" r="1.2"/><circle cx="604.6" cy="206.1" r="0.8"/><circle cx="630.9" cy="219.4" r="0.8"/><circle cx="606.3" cy="236.6" r="1.3"/><circle cx="585.7" cy="187.2" r="0.9"/><circle cx="602.9" cy="195.4" r="1.1"/><circle cx="622.1" cy="262.7" r="0.9"/><circle cx="602.7" cy="193.6" r="0.9"/><circle cx="572.1" cy="228.8" r="0.7"/><circle cx="592.4" cy="192.1" r="1"/><circle cx="632.7" cy="226.6" r="0.8"/><circle cx="578.7" cy="188.8" r="1"/><circle cx="615.3" cy="203.3" r="1.5"/><circle cx="574.6" cy="208.9" r="0.9"/><circle cx="615" cy="249.9" r="1.4"/><circle cx="624.8" cy="222.7" r="0.8"/><circle cx="607.4" cy="242" r="1.1"/><circle cx="604.3" cy="196" r="1.3"/><circle cx="592.7" cy="196" r="0.9"/><circle cx="588.9" cy="207.8" r="1.4"/><circle cx="621.7" cy="182.7" r="1.1"/><circle cx="570.3" cy="214.2" r="1.4"/><circle cx="628.1" cy="197.7" r="1.2"/><circle cx="563.7" cy="220.1" r="0.7"/><circle cx="607.6" cy="187.7" r="1"/><circle cx="624.3" cy="211.4" r="0.7"/><circle cx="614.2" cy="218.9" r="1.1"/><circle cx="579.8" cy="212.8" r="1"/><circle cx="582.4" cy="230.3" r="0.7"/><circle cx="581.7" cy="219.4" r="1.5"/><circle cx="608.8" cy="211.9" r="0.7"/><circle cx="626.9" cy="212.1" r="1.1"/><circle cx="630.2" cy="225.7" r="0.8"/><circle cx="582.2" cy="192.9" r="0.9"/><circle cx="618.6" cy="217.9" r="1.2"/><circle cx="584.5" cy="241.9" r="1"/><circle cx="584.2" cy="187.3" r="1.1"/><circle cx="588.1" cy="265.1" r="1.1"/><circle cx="623.3" cy="184" r="0.9"/><circle cx="566.7" cy="229.4" r="1.1"/><circle cx="584.7" cy="219" r="1.1"/><circle cx="606.2" cy="210.4" r="0.8"/><circle cx="634.1" cy="205.7" r="0.6"/><circle cx="600.3" cy="212.9" r="0.9"/><circle cx="589.2" cy="185.4" r="1.4"/><circle cx="590.7" cy="198" r="0.7"/><circle cx="618.6" cy="181.7" r="1.4"/><circle cx="584.6" cy="245.2" r="0.9"/><circle cx="581.7" cy="249.7" r="1"/><circle cx="638.8" cy="235.3" r="1.1"/><circle cx="583.1" cy="196.1" r="1.4"/><circle cx="601.2" cy="233.2" r="0.9"/><circle cx="604.7" cy="217.6" r="0.9"/><circle cx="613" cy="268" r="1.2"/><circle cx="569.7" cy="245.4" r="0.9"/><circle cx="595" cy="252.4" r="1.5"/><circle cx="596.1" cy="189.2" r="1.2"/><circle cx="626.3" cy="250" r="1"/><circle cx="635.7" cy="227.7" r="0.9"/><circle cx="628.9" cy="206.1" r="1.4"/><circle cx="620.5" cy="247" r="1.1"/><circle cx="567.5" cy="232.1" r="1.1"/><circle cx="598.7" cy="253.9" r="0.6"/><circle cx="599.4" cy="240.8" r="1.5"/><circle cx="614.6" cy="214.2" r="1.5"/><circle cx="580.6" cy="219.9" r="1.2"/><circle cx="617.9" cy="204.3" r="1.4"/><circle cx="611.3" cy="191.3" r="0.9"/><circle cx="572.8" cy="206.5" r="1.5"/><circle cx="627.5" cy="229.1" r="1.2"/><circle cx="587.9" cy="267.6" r="0.7"/><circle cx="613.8" cy="216.2" r="0.7"/><circle cx="583.4" cy="235" r="1"/><circle cx="573.9" cy="212.1" r="1.5"/><circle cx="584.2" cy="221.6" r="1.2"/><circle cx="586.1" cy="209.6" r="0.8"/><circle cx="620.4" cy="188.5" r="0.8"/><circle cx="612.7" cy="264.6" r="0.9"/><circle cx="596" cy="267.5" r="1.1"/><circle cx="592.3" cy="248.9" r="1.3"/><circle cx="567.8" cy="246.3" r="0.8"/><circle cx="630.5" cy="230.4" r="1.4"/><circle cx="589.7" cy="181.2" r="0.7"/><circle cx="615.5" cy="246.6" r="0.8"/><circle cx="594.9" cy="180.8" r="1.1"/><circle cx="620" cy="227.5" r="1.3"/><circle cx="595.2" cy="246.7" r="1.1"/><circle cx="572" cy="250.2" r="1"/><circle cx="569.3" cy="201.2" r="1.2"/><circle cx="635.3" cy="203.9" r="0.9"/><circle cx="563.9" cy="229.4" r="0.9"/><circle cx="597.6" cy="210" r="0.7"/><circle cx="637.5" cy="225.3" r="1"/><circle cx="626.6" cy="233.6" r="1"/><circle cx="609.2" cy="188.7" r="0.7"/><circle cx="588.2" cy="186.1" r="0.9"/><circle cx="592.7" cy="180.2" r="1.3"/><circle cx="578.1" cy="234.6" r="1.5"/><circle cx="573.7" cy="220.9" r="0.7"/><circle cx="607.6" cy="189" r="1.5"/><circle cx="593.8" cy="224.5" r="0.7"/><circle cx="598.2" cy="178.8" r="0.7"/><circle cx="572.9" cy="254.8" r="1.2"/><circle cx="575" cy="254" r="0.7"/><circle cx="607.1" cy="217.8" r="1.1"/><circle cx="567.6" cy="210.6" r="0.6"/><circle cx="630.3" cy="205.2" r="0.6"/><circle cx="630.4" cy="238.9" r="1"/><circle cx="575.2" cy="242.4" r="0.8"/><circle cx="619.7" cy="262.8" r="0.7"/><circle cx="614.1" cy="223.7" r="1"/><circle cx="602.1" cy="209.9" r="1.3"/><circle cx="612.8" cy="249.9" r="0.8"/><circle cx="623.5" cy="260.8" r="0.7"/><circle cx="600.5" cy="241.1" r="1.2"/><circle cx="579.2" cy="225.3" r="0.8"/><circle cx="565.3" cy="243.1" r="1.1"/><circle cx="561.2" cy="225.9" r="1.3"/><circle cx="589.5" cy="259" r="0.9"/><circle cx="598.1" cy="207.8" r="1.3"/><circle cx="570.4" cy="206.8" r="1.1"/><circle cx="607.4" cy="246" r="1"/><circle cx="611.7" cy="268" r="0.8"/><circle cx="611.9" cy="241.4" r="1.4"/><circle cx="594.4" cy="230.1" r="1.2"/><circle cx="582.8" cy="200.9" r="1.4"/><circle cx="591.1" cy="247.4" r="0.8"/><circle cx="622.6" cy="195.6" r="1.1"/><circle cx="618.1" cy="208.6" r="0.6"/><circle cx="588.7" cy="219" r="0.9"/><circle cx="633.1" cy="197.4" r="0.9"/><circle cx="622.1" cy="198.3" r="1.1"/><circle cx="586.4" cy="244.8" r="0.9"/><circle cx="599" cy="228.8" r="1.2"/><circle cx="576.9" cy="235.1" r="0.9"/><circle cx="584.3" cy="191.2" r="0.9"/><circle cx="619.5" cy="260.9" r="0.7"/><circle cx="608.7" cy="220.2" r="0.9"/><circle cx="581" cy="200.5" r="1.2"/><circle cx="587.4" cy="200.5" r="0.7"/><circle cx="582.1" cy="188.9" r="0.9"/><circle cx="571.9" cy="237.1" r="1.4"/><circle cx="581.3" cy="256" r="1.5"/><circle cx="634.3" cy="240.1" r="1.4"/><circle cx="568.7" cy="208.1" r="1.1"/><circle cx="585.3" cy="202.2" r="0.8"/><circle cx="623.1" cy="230.6" r="1.2"/><circle cx="595.6" cy="226.8" r="0.7"/><circle cx="626.1" cy="250.5" r="1.3"/><circle cx="598.4" cy="195.4" r="0.9"/><circle cx="612" cy="217.5" r="1.1"/><circle cx="631.4" cy="229" r="1.2"/><circle cx="590.3" cy="202" r="1.2"/><circle cx="633.5" cy="195.4" r="0.9"/><circle cx="570.3" cy="214" r="1.4"/><circle cx="605.6" cy="251.1" r="0.7"/><circle cx="626.8" cy="242.4" r="0.8"/><circle cx="569.7" cy="217.9" r="0.8"/><circle cx="585.5" cy="257.1" r="0.9"/><circle cx="637.3" cy="224.8" r="0.9"/><circle cx="570.4" cy="233.2" r="0.7"/><circle cx="638.1" cy="227.6" r="0.7"/><circle cx="596.1" cy="187.7" r="1.2"/><circle cx="602.3" cy="240.4" r="1.4"/><circle cx="570.9" cy="250.5" r="0.8"/><circle cx="606.5" cy="239.3" r="1.1"/><circle cx="609.9" cy="264.6" r="1.4"/><circle cx="617.5" cy="207.8" r="0.8"/><circle cx="563.6" cy="234.8" r="0.7"/><circle cx="610.9" cy="180.2" r="1.4"/><circle cx="611.5" cy="250.9" r="1.2"/><circle cx="594.4" cy="187.2" r="1.1"/><circle cx="589.7" cy="212.5" r="1.5"/><circle cx="586.7" cy="182.2" r="1.2"/><circle cx="624.2" cy="244.7" r="1"/><circle cx="611.4" cy="258.5" r="0.8"/></g><g fill="#051a16" fill-opacity="0.45" filter="url(#bl1)"><circle cx="626.2" cy="229.2" r="0.9"/><circle cx="572.5" cy="230.5" r="0.8"/><circle cx="610.9" cy="206" r="1.4"/><circle cx="631.3" cy="236.8" r="1.2"/><circle cx="577.4" cy="241.9" r="1.3"/><circle cx="592.9" cy="261.9" r="1.3"/><circle cx="585.1" cy="212.6" r="1.1"/><circle cx="580.9" cy="247.4" r="1.3"/><circle cx="636.4" cy="237" r="1"/><circle cx="626.6" cy="206.7" r="0.8"/><circle cx="638.2" cy="223.2" r="1"/><circle cx="587.2" cy="197.7" r="1.8"/><circle cx="623.6" cy="259.5" r="1.8"/><circle cx="611.2" cy="235" r="1.5"/><circle cx="595.4" cy="267.9" r="0.8"/><circle cx="619.4" cy="199.5" r="1"/><circle cx="591.4" cy="221.8" r="1.5"/><circle cx="585.8" cy="183.9" r="1.4"/><circle cx="561.1" cy="220.3" r="0.9"/><circle cx="593" cy="211.8" r="1.5"/><circle cx="593.6" cy="206.4" r="1.6"/><circle cx="564.3" cy="204.8" r="1.6"/><circle cx="588.9" cy="260.9" r="1.1"/><circle cx="615.8" cy="254.4" r="1.5"/><circle cx="631.1" cy="197.9" r="1.7"/><circle cx="600.9" cy="215.3" r="1.8"/><circle cx="589" cy="257.8" r="0.9"/><circle cx="599.7" cy="187.3" r="1.6"/><circle cx="618.1" cy="239.6" r="1.6"/><circle cx="591.6" cy="245.4" r="1.3"/><circle cx="593.6" cy="209.9" r="1.3"/><circle cx="567.2" cy="220.3" r="1.7"/><circle cx="600.3" cy="228" r="1"/><circle cx="583.3" cy="187.9" r="1.7"/><circle cx="565" cy="240.5" r="1.4"/><circle cx="565.8" cy="229" r="0.8"/><circle cx="609.1" cy="199.7" r="1.2"/><circle cx="605.4" cy="199" r="1"/><circle cx="606.7" cy="264.2" r="1.1"/><circle cx="588.3" cy="238" r="1.3"/><circle cx="587.4" cy="234.3" r="1.7"/><circle cx="594" cy="260.8" r="1.1"/><circle cx="599.4" cy="182.4" r="1.1"/><circle cx="579.4" cy="184.7" r="1.1"/><circle cx="597.4" cy="236.4" r="1.7"/><circle cx="605.2" cy="179.8" r="1.5"/><circle cx="600.5" cy="234.5" r="1.7"/><circle cx="571.9" cy="242.3" r="1.1"/><circle cx="622.2" cy="213.9" r="1.3"/><circle cx="590.5" cy="192.8" r="1.5"/><circle cx="586.8" cy="201.9" r="1.4"/><circle cx="596.4" cy="243.7" r="1.7"/><circle cx="592.8" cy="243.3" r="1.2"/><circle cx="576.8" cy="218.6" r="1.3"/><circle cx="577.3" cy="221.1" r="1.5"/><circle cx="605.2" cy="262.4" r="1.6"/><circle cx="623.1" cy="236.5" r="1.7"/><circle cx="596.6" cy="185.2" r="1"/><circle cx="620.6" cy="195.4" r="1.2"/><circle cx="601.8" cy="262.6" r="0.9"/><circle cx="625.7" cy="216.1" r="1.5"/><circle cx="607.1" cy="263.5" r="1.2"/><circle cx="578.7" cy="204.6" r="1.2"/><circle cx="600.4" cy="267" r="1.8"/><circle cx="616.5" cy="242.3" r="1"/><circle cx="622.9" cy="207.6" r="0.9"/><circle cx="596" cy="208" r="1.6"/><circle cx="589.6" cy="266.6" r="1.6"/><circle cx="572.5" cy="246.9" r="1.8"/><circle cx="578.7" cy="218.4" r="1.3"/><circle cx="623.5" cy="190.7" r="0.9"/><circle cx="575" cy="252.4" r="1.8"/><circle cx="607.4" cy="257.9" r="1.4"/><circle cx="619.5" cy="258.2" r="1.6"/><circle cx="616.1" cy="257.4" r="1"/><circle cx="634" cy="246.1" r="1.7"/><circle cx="623.9" cy="252.4" r="1.2"/><circle cx="586.1" cy="200.9" r="1"/><circle cx="588.6" cy="209.5" r="1.7"/><circle cx="585.6" cy="198.7" r="1.3"/><circle cx="615.8" cy="229.7" r="1.3"/><circle cx="576.6" cy="232.1" r="1.3"/><circle cx="568.3" cy="220.7" r="1.5"/><circle cx="609.1" cy="199.8" r="1.5"/><circle cx="593.5" cy="188.1" r="1.8"/><circle cx="612.9" cy="229.6" r="1.1"/><circle cx="592.3" cy="246.9" r="1.6"/><circle cx="594.7" cy="196.9" r="1.6"/><circle cx="617.7" cy="191.7" r="1.3"/><circle cx="610.2" cy="257.8" r="1.4"/><circle cx="593" cy="230.4" r="1.6"/><circle cx="609.2" cy="206.2" r="1.4"/><circle cx="589.5" cy="261.5" r="1.3"/><circle cx="580" cy="249.3" r="1.7"/><circle cx="611.5" cy="192.7" r="0.8"/><circle cx="564.2" cy="237.4" r="0.9"/><circle cx="590.2" cy="219.4" r="1.8"/><circle cx="575.5" cy="206.8" r="1.1"/><circle cx="589.7" cy="257.7" r="0.8"/><circle cx="589.9" cy="250.8" r="1.1"/><circle cx="604.8" cy="264.4" r="1.1"/><circle cx="628.3" cy="220.8" r="1.2"/><circle cx="623.9" cy="187.7" r="0.9"/><circle cx="570.7" cy="204.2" r="0.9"/><circle cx="626.7" cy="240.3" r="1.2"/><circle cx="585.7" cy="217.1" r="1.7"/><circle cx="569.3" cy="212.2" r="1.7"/><circle cx="576.5" cy="257.9" r="1"/><circle cx="623.7" cy="232.9" r="1.5"/><circle cx="585.5" cy="242.8" r="1.4"/><circle cx="609.7" cy="184.8" r="1"/><circle cx="589" cy="262" r="1.1"/><circle cx="593.5" cy="254.4" r="1.6"/><circle cx="607.3" cy="240.2" r="1.1"/><circle cx="636.6" cy="234.9" r="0.8"/><circle cx="614.7" cy="255.2" r="1.5"/><circle cx="606.4" cy="226.6" r="1.6"/><circle cx="614.9" cy="179.1" r="1.2"/><circle cx="620" cy="260.2" r="1.7"/><circle cx="623.3" cy="214.6" r="1.5"/><circle cx="607.1" cy="233.2" r="0.8"/><circle cx="631.2" cy="206.7" r="1.7"/><circle cx="589.2" cy="223.2" r="1.3"/><circle cx="636.7" cy="221.8" r="1.1"/><circle cx="578.6" cy="201.7" r="1.2"/><circle cx="573.2" cy="207.8" r="1"/><circle cx="595.7" cy="184.4" r="1.7"/><circle cx="606.2" cy="220.3" r="1.2"/><circle cx="594.8" cy="245.3" r="1.3"/><circle cx="580.5" cy="234.9" r="1.2"/><circle cx="619.7" cy="185.1" r="0.8"/><circle cx="638" cy="216.7" r="1.1"/><circle cx="592.8" cy="225" r="0.8"/><circle cx="637.1" cy="206.2" r="1.2"/><circle cx="622" cy="255.3" r="1.4"/><circle cx="568.8" cy="205" r="1.3"/><circle cx="596.1" cy="185.4" r="1.5"/><circle cx="583" cy="234.5" r="1"/><circle cx="593" cy="186.8" r="1.3"/><circle cx="629.2" cy="222.6" r="1.2"/><circle cx="629.9" cy="206.3" r="1.7"/><circle cx="594.7" cy="227.1" r="1.1"/><circle cx="608.6" cy="189.9" r="1.5"/><circle cx="610.6" cy="199.6" r="1.8"/><circle cx="572.4" cy="239.9" r="1.5"/><circle cx="630.6" cy="210.7" r="0.9"/><circle cx="601.8" cy="179.4" r="0.9"/><circle cx="595.3" cy="207.8" r="0.8"/><circle cx="584.3" cy="240.2" r="1.5"/><circle cx="589.6" cy="262" r="1.7"/><circle cx="578.4" cy="255.5" r="1.2"/><circle cx="569.7" cy="246.9" r="1"/><circle cx="622.8" cy="191.9" r="1.8"/><circle cx="597.4" cy="180.9" r="1.2"/><circle cx="620.6" cy="236.9" r="1.7"/><circle cx="608.9" cy="259.3" r="1.7"/><circle cx="601.2" cy="249.5" r="1.2"/><circle cx="608" cy="230.8" r="0.9"/><circle cx="568.3" cy="205.8" r="1.5"/><circle cx="615.3" cy="184.9" r="1.4"/><circle cx="571.4" cy="214.5" r="1.6"/><circle cx="572.3" cy="213" r="1.5"/><circle cx="595.9" cy="211.3" r="1.3"/><circle cx="567.1" cy="227.3" r="1.2"/><circle cx="575.8" cy="191.1" r="1.6"/><circle cx="589.5" cy="191.3" r="1.4"/><circle cx="575.4" cy="188.6" r="0.9"/><circle cx="625.6" cy="221" r="1.7"/><circle cx="603.6" cy="252.9" r="1.2"/><circle cx="608.9" cy="266.2" r="1.1"/><circle cx="622.3" cy="258.3" r="1.7"/><circle cx="595.6" cy="246.4" r="1"/><circle cx="605.4" cy="184.7" r="1"/><circle cx="609.3" cy="253.3" r="1.7"/><circle cx="572.3" cy="214.9" r="0.9"/><circle cx="579.3" cy="262.2" r="1.2"/><circle cx="572.6" cy="254.2" r="0.9"/><circle cx="580.3" cy="253.2" r="0.9"/><circle cx="591.2" cy="190.3" r="1.4"/><circle cx="591.1" cy="207.3" r="1.3"/><circle cx="638.8" cy="212.9" r="1.2"/><circle cx="624.3" cy="211" r="1.3"/><circle cx="607.3" cy="204" r="1.5"/><circle cx="620.3" cy="229.5" r="1.1"/><circle cx="600.6" cy="198.3" r="1.1"/><circle cx="616" cy="215" r="1.3"/><circle cx="598.8" cy="222.9" r="0.9"/><circle cx="578.7" cy="255" r="1.1"/><circle cx="595.6" cy="205" r="1.4"/><circle cx="577.1" cy="197.4" r="1.6"/><circle cx="606.2" cy="246.4" r="1.1"/><circle cx="580" cy="255.2" r="1.5"/><circle cx="632.1" cy="217.7" r="0.8"/><circle cx="611.1" cy="238.2" r="1.4"/><circle cx="565.3" cy="210" r="1.5"/><circle cx="593.5" cy="198.2" r="1.3"/><circle cx="600.8" cy="263.6" r="1.5"/><circle cx="579.5" cy="225.6" r="1.4"/><circle cx="606.9" cy="218.2" r="1.5"/><circle cx="595.8" cy="268.9" r="1.3"/><circle cx="601.7" cy="254.9" r="1.6"/><circle cx="581.8" cy="254.4" r="1"/><circle cx="599.2" cy="266.2" r="1.8"/><circle cx="628.7" cy="214.2" r="1.3"/><circle cx="636.8" cy="205.9" r="1.6"/><circle cx="623.1" cy="259.5" r="1.5"/><circle cx="602.1" cy="184" r="1"/><circle cx="583" cy="223.2" r="1.8"/><circle cx="598.7" cy="231.4" r="1.2"/><circle cx="623" cy="215.4" r="1.7"/><circle cx="571.7" cy="219.4" r="0.9"/><circle cx="624.5" cy="185.9" r="0.9"/><circle cx="633.6" cy="233.7" r="1.7"/><circle cx="627.5" cy="210.9" r="1.2"/><circle cx="605.1" cy="206.5" r="0.9"/><circle cx="567.9" cy="227.1" r="1.1"/><circle cx="587.4" cy="245.1" r="1"/><circle cx="599.4" cy="177.7" r="1.6"/><circle cx="564" cy="213.5" r="1.8"/><circle cx="615.1" cy="264.5" r="1.2"/><circle cx="606.4" cy="199.7" r="1.8"/><circle cx="594.7" cy="217.3" r="1.1"/><circle cx="625.6" cy="236.5" r="1.7"/><circle cx="593.3" cy="181.6" r="1.2"/><circle cx="597.4" cy="221.9" r="1.6"/><circle cx="606" cy="232.7" r="1.1"/><circle cx="615.4" cy="256.4" r="1.3"/><circle cx="626.6" cy="209.4" r="0.9"/><circle cx="624.8" cy="240.8" r="0.8"/><circle cx="611.7" cy="244.1" r="1.3"/><circle cx="639" cy="221.2" r="1"/><circle cx="604.4" cy="234.3" r="1.4"/><circle cx="627.7" cy="210.8" r="1.4"/><circle cx="567" cy="240.7" r="1.6"/><circle cx="584.9" cy="261.6" r="0.9"/><circle cx="563.7" cy="212.7" r="0.8"/><circle cx="591.9" cy="203.5" r="1"/><circle cx="596.5" cy="186.1" r="1.4"/><circle cx="636.1" cy="224.7" r="1.3"/><circle cx="607.4" cy="267.1" r="1.2"/><circle cx="616.3" cy="190.2" r="1.1"/><circle cx="617.2" cy="180.1" r="1"/><circle cx="611.3" cy="258.9" r="1.7"/><circle cx="612.1" cy="255.6" r="1.2"/><circle cx="571.6" cy="228.1" r="1.1"/><circle cx="587.8" cy="179.4" r="1.5"/><circle cx="601.9" cy="190.7" r="1"/><circle cx="571.1" cy="240.2" r="1.4"/><circle cx="593.7" cy="268.6" r="1.4"/><circle cx="595.8" cy="256.8" r="1.3"/><circle cx="608.7" cy="213.8" r="1.8"/><circle cx="590.4" cy="241.2" r="1.7"/><circle cx="627.8" cy="203.8" r="1.5"/><circle cx="573" cy="226.5" r="1.7"/><circle cx="586.2" cy="247.8" r="1"/><circle cx="590.3" cy="251" r="1.1"/><circle cx="572.1" cy="246.2" r="1.6"/><circle cx="580.2" cy="243.6" r="1.1"/><circle cx="604.8" cy="262.1" r="1.4"/><circle cx="592.7" cy="214.7" r="1.1"/></g><g fill="#34a09e" fill-opacity="0.7" filter="url(#bl2)"><circle cx="600.4" cy="200.7" r="6"/><circle cx="581.8" cy="203.3" r="6"/><circle cx="597.7" cy="214" r="6"/><circle cx="613.6" cy="214" r="6"/><circle cx="626" cy="209.5" r="5"/><circle cx="573" cy="184.8" r="4.5"/><circle cx="624.2" cy="237.8" r="7.5"/><circle cx="592.4" cy="233.4" r="5"/><circle cx="610" cy="238.7" r="5"/><circle cx="565.9" cy="212.2" r="4"/><circle cx="592.4" cy="258.1" r="4.5"/><circle cx="597.7" cy="270.5" r="3.5"/><circle cx="580" cy="250" r="4"/></g><ellipse cx="570.5" cy="231.5" rx="9.5" ry="8.5" fill="#48b04a" fill-opacity="0.7" filter="url(#bl2)"/><path d="M565 228C569 224 576 225 579 229C582 233 580 239 575 241C570 243 565 240 564 236C563 233 563 230 565 228Z" fill="#b4b844" filter="url(#bl1)"/><ellipse cx="573" cy="236" rx="3.5" ry="3" fill="#dcc24a" filter="url(#bl1)"/></g>
<path d="M548.8 233.7H556.5" stroke="#fff" stroke-width="1.1"/><path d="M560 233.7L555.9 231.8V235.6Z" fill="#fff"/>
<rect x="500.9" y="145" width="23.6" height="2.5" fill="#fff"/>
<text x="512" y="142.6" font-size="7.6" font-weight="bold" fill="#fff" text-anchor="middle">3 μm</text>
<rect x="500.9" y="287.7" width="23.6" height="2.5" fill="#fff"/>
<text x="512" y="285.5" font-size="7.6" font-weight="bold" fill="#fff" text-anchor="middle">3 μm</text>
<text x="47.4" y="375.8" font-size="13" fill="#333">e.</text>
<text x="128.8" y="379.3" font-size="9.3" font-weight="bold" fill="#222">Xi Volume</text>
<text transform="translate(48.6 492.3) rotate(-90)" font-size="8.6" font-weight="bold" fill="#222" text-anchor="middle">AU</text>
<g fill="#6f9fd6"><circle cx="86.2" cy="585.2" r="1.65"/><circle cx="88.6" cy="585" r="1.65"/><circle cx="84.6" cy="583.4" r="1.65"/><circle cx="86.2" cy="580.8" r="1.65"/><circle cx="88.6" cy="580.5" r="1.65"/><circle cx="83.8" cy="579.8" r="1.65"/><circle cx="86.2" cy="578.2" r="1.65"/><circle cx="86.2" cy="575.7" r="1.65"/><circle cx="86.2" cy="569.5" r="1.65"/><circle cx="88.6" cy="569.2" r="1.65"/><circle cx="83.8" cy="568.6" r="1.65"/><circle cx="86.2" cy="565.8" r="1.65"/><circle cx="88.6" cy="565.6" r="1.65"/><circle cx="83.8" cy="565.5" r="1.65"/><circle cx="91" cy="565.4" r="1.65"/><circle cx="87" cy="563.8" r="1.65"/><circle cx="82.2" cy="563.7" r="1.65"/><circle cx="89.4" cy="563.7" r="1.65"/><circle cx="84.6" cy="563.2" r="1.65"/><circle cx="91.8" cy="563.2" r="1.65"/><circle cx="79.8" cy="562.7" r="1.65"/><circle cx="86.2" cy="561.5" r="1.65"/><circle cx="88.6" cy="561.2" r="1.65"/><circle cx="83.8" cy="561" r="1.65"/><circle cx="91" cy="560.9" r="1.65"/><circle cx="82.2" cy="559.7" r="1.65"/><circle cx="86.2" cy="559.3" r="1.65"/><circle cx="88.6" cy="559" r="1.65"/><circle cx="83.8" cy="558.3" r="1.65"/><circle cx="86.2" cy="557" r="1.65"/><circle cx="88.6" cy="556.6" r="1.65"/><circle cx="83" cy="556.2" r="1.65"/><circle cx="91" cy="555.9" r="1.65"/><circle cx="86.2" cy="553.4" r="1.65"/><circle cx="88.6" cy="553.3" r="1.65"/><circle cx="83.8" cy="553.2" r="1.65"/><circle cx="90.2" cy="551.8" r="1.65"/><circle cx="86.2" cy="548.9" r="1.65"/><circle cx="88.6" cy="548.6" r="1.65"/><circle cx="83.8" cy="548.5" r="1.65"/><circle cx="91" cy="547.9" r="1.65"/><circle cx="81.4" cy="547.3" r="1.65"/><circle cx="86.2" cy="545.6" r="1.65"/><circle cx="88.6" cy="545.5" r="1.65"/><circle cx="83.8" cy="545.5" r="1.65"/><circle cx="91" cy="544.9" r="1.65"/><circle cx="81.4" cy="544.3" r="1.65"/><circle cx="93.4" cy="544.2" r="1.65"/><circle cx="86.2" cy="543.1" r="1.65"/><circle cx="88.6" cy="542.9" r="1.65"/><circle cx="83.8" cy="542.8" r="1.65"/><circle cx="91" cy="542.3" r="1.65"/><circle cx="81.4" cy="542" r="1.65"/><circle cx="93.4" cy="541.6" r="1.65"/><circle cx="86.2" cy="541" r="1.65"/><circle cx="88.6" cy="540.5" r="1.65"/><circle cx="83.8" cy="540.2" r="1.65"/><circle cx="91" cy="539.8" r="1.65"/><circle cx="81.4" cy="539.7" r="1.65"/><circle cx="93.4" cy="539.5" r="1.65"/><circle cx="86.2" cy="538.3" r="1.65"/><circle cx="86.2" cy="536" r="1.65"/><circle cx="88.6" cy="535.3" r="1.65"/><circle cx="83.8" cy="534.8" r="1.65"/><circle cx="91" cy="534.2" r="1.65"/><circle cx="86.2" cy="533.8" r="1.65"/><circle cx="88.6" cy="533.2" r="1.65"/><circle cx="83.8" cy="532.8" r="1.65"/><circle cx="86.2" cy="530.6" r="1.65"/><circle cx="88.6" cy="530.6" r="1.65"/><circle cx="83.8" cy="530.4" r="1.65"/><circle cx="91" cy="529.5" r="1.65"/><circle cx="81.4" cy="529.2" r="1.65"/><circle cx="93.4" cy="529.1" r="1.65"/><circle cx="86.2" cy="524.6" r="1.65"/><circle cx="87.8" cy="522.8" r="1.65"/><circle cx="85.4" cy="522" r="1.65"/><circle cx="89.4" cy="521.3" r="1.65"/><circle cx="83" cy="521.2" r="1.65"/><circle cx="91.8" cy="520.8" r="1.65"/><circle cx="86.2" cy="517.7" r="1.65"/><circle cx="88.6" cy="517.2" r="1.65"/><circle cx="84.6" cy="516.4" r="1.65"/><circle cx="87" cy="515.1" r="1.65"/><circle cx="86.2" cy="508.8" r="1.65"/><circle cx="88.6" cy="508" r="1.65"/><circle cx="85.4" cy="506.9" r="1.65"/><circle cx="87.8" cy="505.6" r="1.65"/><circle cx="83.8" cy="505.2" r="1.65"/><circle cx="86.2" cy="502.1" r="1.65"/><circle cx="87.8" cy="500.5" r="1.65"/><circle cx="86.2" cy="480.7" r="1.65"/><circle cx="86.2" cy="477.9" r="1.65"/><circle cx="86.2" cy="464.3" r="1.65"/><circle cx="86.2" cy="459.9" r="1.65"/></g>
<path d="M77.6 600.8V546.2H94.7V600.8" stroke="#2f6fb7" stroke-width="1.4" fill="none"/>
<path d="M86.2 570.8V521.6M81.4 521.6H91M81.4 570.8H91" stroke="#2f6fb7" stroke-width="1.1" fill="none"/>
<text x="83.4" y="612.2" font-size="5.4" font-weight="bold" fill="#222" text-anchor="middle">Smchd1<tspan font-size="3" font-weight="normal" dy="-2">wt/wt</tspan></text>
<text x="86.2" y="620.9" font-size="4.6" fill="#555" text-anchor="middle">n=95</text>
<path d="M86.2 600.8V605.8" stroke="#333" stroke-width="0.9"/>
<g fill="#a3cd88"><circle cx="113.7" cy="588" r="1.65"/><circle cx="114.5" cy="586" r="1.65"/><circle cx="112.1" cy="585.9" r="1.65"/><circle cx="116.9" cy="585.7" r="1.65"/><circle cx="113.7" cy="582.8" r="1.65"/><circle cx="116.1" cy="582.2" r="1.65"/><circle cx="111.3" cy="581.8" r="1.65"/><circle cx="113.7" cy="579.6" r="1.65"/><circle cx="115.3" cy="578" r="1.65"/><circle cx="112.1" cy="578" r="1.65"/><circle cx="117.7" cy="577.4" r="1.65"/><circle cx="109.7" cy="577" r="1.65"/><circle cx="113.7" cy="575.3" r="1.65"/><circle cx="113.7" cy="572.9" r="1.65"/><circle cx="116.1" cy="572.7" r="1.65"/><circle cx="111.3" cy="571.8" r="1.65"/><circle cx="113.7" cy="570.8" r="1.65"/><circle cx="116.1" cy="570.1" r="1.65"/><circle cx="109.7" cy="570" r="1.65"/><circle cx="112.1" cy="569.5" r="1.65"/><circle cx="118.5" cy="569.1" r="1.65"/><circle cx="114.5" cy="568.5" r="1.65"/><circle cx="108.1" cy="568.2" r="1.65"/><circle cx="111.3" cy="567.6" r="1.65"/><circle cx="113.7" cy="565.1" r="1.65"/><circle cx="116.1" cy="564.3" r="1.65"/><circle cx="112.1" cy="563.3" r="1.65"/><circle cx="114.5" cy="562.7" r="1.65"/><circle cx="111.3" cy="561.4" r="1.65"/><circle cx="116.1" cy="560.8" r="1.65"/><circle cx="113.7" cy="560.4" r="1.65"/><circle cx="109.7" cy="560" r="1.65"/><circle cx="118.5" cy="559.8" r="1.65"/><circle cx="112.1" cy="559" r="1.65"/><circle cx="107.3" cy="559" r="1.65"/><circle cx="115.3" cy="558.7" r="1.65"/><circle cx="120.1" cy="558.4" r="1.65"/><circle cx="117.7" cy="557.9" r="1.65"/><circle cx="110.5" cy="557.5" r="1.65"/><circle cx="113.7" cy="557.4" r="1.65"/><circle cx="105.7" cy="557.2" r="1.65"/><circle cx="108.1" cy="556.9" r="1.65"/><circle cx="121.7" cy="556.7" r="1.65"/><circle cx="113.7" cy="555.3" r="1.65"/><circle cx="116.1" cy="554.7" r="1.65"/><circle cx="111.3" cy="554.1" r="1.65"/><circle cx="118.5" cy="554.1" r="1.65"/><circle cx="108.9" cy="554" r="1.65"/><circle cx="120.9" cy="553.9" r="1.65"/><circle cx="106.5" cy="553.9" r="1.65"/><circle cx="123.3" cy="553.8" r="1.65"/><circle cx="104.1" cy="553.8" r="1.65"/><circle cx="115.3" cy="553.4" r="1.65"/><circle cx="112.9" cy="552.2" r="1.65"/><circle cx="116.9" cy="551.9" r="1.65"/><circle cx="110.5" cy="551.7" r="1.65"/><circle cx="119.3" cy="551" r="1.65"/><circle cx="114.5" cy="550.7" r="1.65"/><circle cx="108.1" cy="550.5" r="1.65"/><circle cx="121.7" cy="550.4" r="1.65"/><circle cx="112.1" cy="550.1" r="1.65"/><circle cx="116.1" cy="549.4" r="1.65"/><circle cx="105.7" cy="549.4" r="1.65"/><circle cx="109.7" cy="549.2" r="1.65"/><circle cx="118.5" cy="549" r="1.65"/><circle cx="113.7" cy="548.7" r="1.65"/><circle cx="123.3" cy="548.7" r="1.65"/><circle cx="107.5" cy="548.6" r="1.65"/><circle cx="123.1" cy="548.5" r="1.65"/><circle cx="120.9" cy="547.9" r="1.65"/><circle cx="111.3" cy="547.7" r="1.65"/><circle cx="104.1" cy="547.7" r="1.65"/><circle cx="122.3" cy="547.6" r="1.65"/><circle cx="113" cy="547.5" r="1.65"/><circle cx="115.3" cy="547.3" r="1.65"/><circle cx="117" cy="547.2" r="1.65"/><circle cx="108.9" cy="546.7" r="1.65"/><circle cx="119.3" cy="546.5" r="1.65"/><circle cx="112.1" cy="545.6" r="1.65"/><circle cx="106.5" cy="545.6" r="1.65"/><circle cx="121.7" cy="545.6" r="1.65"/><circle cx="114.5" cy="545" r="1.65"/><circle cx="116.9" cy="544.8" r="1.65"/><circle cx="109.7" cy="544.6" r="1.65"/><circle cx="119.3" cy="544.5" r="1.65"/><circle cx="104.9" cy="544.2" r="1.65"/><circle cx="123.3" cy="543.9" r="1.65"/><circle cx="112.9" cy="543.7" r="1.65"/><circle cx="108.1" cy="543.2" r="1.65"/><circle cx="115.3" cy="543.1" r="1.65"/><circle cx="117.7" cy="542.8" r="1.65"/><circle cx="111.3" cy="541.8" r="1.65"/><circle cx="113.7" cy="541.6" r="1.65"/><circle cx="108.9" cy="541.3" r="1.65"/><circle cx="116.1" cy="541.1" r="1.65"/><circle cx="119.3" cy="541.1" r="1.65"/><circle cx="106.5" cy="540.1" r="1.65"/><circle cx="114.5" cy="539.7" r="1.65"/><circle cx="112.1" cy="539.5" r="1.65"/><circle cx="116.9" cy="539" r="1.65"/><circle cx="109.7" cy="538.9" r="1.65"/><circle cx="119.3" cy="538.3" r="1.65"/><circle cx="113.7" cy="537.7" r="1.65"/><circle cx="107.3" cy="537.7" r="1.65"/><circle cx="111.3" cy="537.5" r="1.65"/><circle cx="121.7" cy="537.4" r="1.65"/><circle cx="104.9" cy="537.3" r="1.65"/><circle cx="116.1" cy="536.7" r="1.65"/><circle cx="109.7" cy="535.9" r="1.65"/><circle cx="113.7" cy="535.3" r="1.65"/><circle cx="117.7" cy="535.2" r="1.65"/><circle cx="120.1" cy="534.9" r="1.65"/><circle cx="107.3" cy="534.8" r="1.65"/><circle cx="111.3" cy="534.3" r="1.65"/><circle cx="122.5" cy="534.2" r="1.65"/><circle cx="115.3" cy="534" r="1.65"/><circle cx="104.9" cy="533.8" r="1.65"/><circle cx="107.9" cy="533.8" r="1.65"/><circle cx="108.1" cy="533.8" r="1.65"/><circle cx="118.5" cy="533.3" r="1.65"/><circle cx="112.9" cy="533" r="1.65"/><circle cx="109.7" cy="532.5" r="1.65"/><circle cx="120.9" cy="532.4" r="1.65"/><circle cx="106.5" cy="532.1" r="1.65"/><circle cx="114.5" cy="531.4" r="1.65"/><circle cx="112.1" cy="531.1" r="1.65"/><circle cx="116.9" cy="530.9" r="1.65"/><circle cx="119.3" cy="530.7" r="1.65"/><circle cx="109.7" cy="530.1" r="1.65"/><circle cx="107.3" cy="530" r="1.65"/><circle cx="121.7" cy="529.9" r="1.65"/><circle cx="104.9" cy="529.8" r="1.65"/><circle cx="113.7" cy="529.2" r="1.65"/><circle cx="109.4" cy="529.1" r="1.65"/><circle cx="116.1" cy="528.7" r="1.65"/><circle cx="118.5" cy="528.5" r="1.65"/><circle cx="112.1" cy="527.4" r="1.65"/><circle cx="114.5" cy="527.3" r="1.65"/><circle cx="116.9" cy="526.4" r="1.65"/><circle cx="109.7" cy="526.3" r="1.65"/><circle cx="119.3" cy="525.8" r="1.65"/><circle cx="107.3" cy="525.8" r="1.65"/><circle cx="121.7" cy="525.6" r="1.65"/><circle cx="113.7" cy="524.2" r="1.65"/><circle cx="116.1" cy="523.5" r="1.65"/><circle cx="111.3" cy="523.3" r="1.65"/><circle cx="118.5" cy="523.3" r="1.65"/><circle cx="108.9" cy="523.1" r="1.65"/><circle cx="120.9" cy="523" r="1.65"/><circle cx="106.5" cy="522.9" r="1.65"/><circle cx="123.3" cy="522.3" r="1.65"/><circle cx="113.7" cy="522.1" r="1.65"/><circle cx="104.1" cy="522.1" r="1.65"/><circle cx="116.1" cy="520.9" r="1.65"/><circle cx="113.7" cy="518.6" r="1.65"/><circle cx="116.1" cy="517.9" r="1.65"/><circle cx="113.7" cy="513.5" r="1.65"/><circle cx="116.1" cy="513" r="1.65"/><circle cx="111.3" cy="513" r="1.65"/><circle cx="118.5" cy="512.4" r="1.65"/><circle cx="108.9" cy="512.1" r="1.65"/><circle cx="120.9" cy="511.9" r="1.65"/><circle cx="113.7" cy="511.4" r="1.65"/><circle cx="106.5" cy="511.3" r="1.65"/><circle cx="116.9" cy="511" r="1.65"/><circle cx="111.3" cy="510.7" r="1.65"/><circle cx="119.3" cy="510.5" r="1.65"/><circle cx="122.5" cy="510.4" r="1.65"/><circle cx="115.3" cy="509.7" r="1.65"/><circle cx="112.9" cy="509.3" r="1.65"/><circle cx="113.7" cy="506.5" r="1.65"/><circle cx="116.1" cy="506.3" r="1.65"/><circle cx="111.3" cy="506.2" r="1.65"/><circle cx="118.5" cy="505.5" r="1.65"/><circle cx="108.9" cy="505.5" r="1.65"/><circle cx="120.9" cy="505.4" r="1.65"/><circle cx="106.5" cy="505.3" r="1.65"/><circle cx="113.7" cy="503.2" r="1.65"/><circle cx="113.7" cy="500" r="1.65"/><circle cx="115.3" cy="498.4" r="1.65"/><circle cx="112.9" cy="497.5" r="1.65"/><circle cx="116.1" cy="496.5" r="1.65"/><circle cx="113.7" cy="492.6" r="1.65"/><circle cx="113.7" cy="484.3" r="1.65"/><circle cx="113.7" cy="481" r="1.65"/><circle cx="113.7" cy="468.2" r="1.65"/><circle cx="113.7" cy="464.2" r="1.65"/><circle cx="113.7" cy="461.4" r="1.65"/><circle cx="116.1" cy="460.7" r="1.65"/><circle cx="113.7" cy="458.9" r="1.65"/><circle cx="113.7" cy="450.8" r="1.65"/><circle cx="116.1" cy="449.6" r="1.65"/><circle cx="113.7" cy="447" r="1.65"/><circle cx="115.3" cy="445.4" r="1.65"/><circle cx="112.9" cy="444.9" r="1.65"/><circle cx="110.5" cy="444.3" r="1.65"/><circle cx="113.7" cy="440" r="1.65"/></g>
<path d="M105.1 600.8V533.6H122.3V600.8" stroke="#62a544" stroke-width="1.4" fill="none"/>
<path d="M113.7 565.3V502M108.9 502H118.5M108.9 565.3H118.5" stroke="#62a544" stroke-width="1.1" fill="none"/>
<text x="110.9" y="612.2" font-size="5.4" font-weight="bold" fill="#222" text-anchor="middle">Smchd1<tspan font-size="3" font-weight="normal" dy="-2">del/del</tspan></text>
<text x="113.7" y="620.9" font-size="4.6" fill="#555" text-anchor="middle">n=197</text>
<path d="M113.7 600.8V605.8" stroke="#333" stroke-width="0.9"/>
<g fill="#e07476"><circle cx="141.2" cy="590.1" r="1.65"/><circle cx="143.7" cy="589.1" r="1.65"/><circle cx="139.7" cy="588.5" r="1.65"/><circle cx="141.2" cy="584.5" r="1.65"/><circle cx="141.2" cy="579.7" r="1.65"/><circle cx="143.7" cy="579.4" r="1.65"/><circle cx="138.8" cy="578.9" r="1.65"/><circle cx="141.2" cy="574.5" r="1.65"/><circle cx="143.7" cy="573.4" r="1.65"/><circle cx="139.7" cy="572.6" r="1.65"/><circle cx="142.1" cy="571.8" r="1.65"/><circle cx="145.2" cy="571.7" r="1.65"/><circle cx="138.1" cy="570.9" r="1.65"/><circle cx="135.7" cy="570.7" r="1.65"/><circle cx="140.4" cy="570.3" r="1.65"/><circle cx="142.8" cy="569.1" r="1.65"/><circle cx="145.2" cy="569" r="1.65"/><circle cx="138.8" cy="569" r="1.65"/><circle cx="141.2" cy="565.6" r="1.65"/><circle cx="143.7" cy="565.5" r="1.65"/><circle cx="138.8" cy="565.4" r="1.65"/><circle cx="146.1" cy="564.3" r="1.65"/><circle cx="137.2" cy="564" r="1.65"/><circle cx="141.2" cy="563.3" r="1.65"/><circle cx="143.7" cy="562.6" r="1.65"/><circle cx="138.8" cy="562.1" r="1.65"/><circle cx="146.1" cy="561.7" r="1.65"/><circle cx="141.2" cy="560.3" r="1.65"/><circle cx="143.7" cy="559.5" r="1.65"/><circle cx="138.8" cy="559.2" r="1.65"/><circle cx="141.2" cy="558.2" r="1.65"/><circle cx="145.2" cy="558.1" r="1.65"/><circle cx="137.2" cy="557.6" r="1.65"/><circle cx="147.7" cy="557.4" r="1.65"/><circle cx="134.8" cy="557.4" r="1.65"/><circle cx="150.1" cy="557.1" r="1.65"/><circle cx="142.8" cy="556.7" r="1.65"/><circle cx="141.2" cy="555.4" r="1.65"/><circle cx="138.8" cy="555.2" r="1.65"/><circle cx="143.7" cy="554.8" r="1.65"/><circle cx="146.1" cy="554.7" r="1.65"/><circle cx="141.2" cy="552.4" r="1.65"/><circle cx="143.7" cy="552.2" r="1.65"/><circle cx="138.8" cy="551.7" r="1.65"/><circle cx="146.1" cy="551.5" r="1.65"/><circle cx="136.4" cy="551.3" r="1.65"/><circle cx="148.4" cy="551.3" r="1.65"/><circle cx="134.1" cy="551.1" r="1.65"/><circle cx="150.8" cy="550.8" r="1.65"/><circle cx="141.2" cy="550" r="1.65"/><circle cx="143.7" cy="549.8" r="1.65"/><circle cx="138.8" cy="549.5" r="1.65"/><circle cx="146.1" cy="549.4" r="1.65"/><circle cx="135.7" cy="549.3" r="1.65"/><circle cx="148.4" cy="548.6" r="1.65"/><circle cx="133.2" cy="548.5" r="1.65"/><circle cx="142.1" cy="548" r="1.65"/><circle cx="139.7" cy="547.5" r="1.65"/><circle cx="144.4" cy="547.5" r="1.65"/><circle cx="137.2" cy="546.6" r="1.65"/><circle cx="146.1" cy="546.1" r="1.65"/><circle cx="141.2" cy="545.7" r="1.65"/><circle cx="143.7" cy="545.4" r="1.65"/><circle cx="139.7" cy="544.1" r="1.65"/><circle cx="145.2" cy="544.1" r="1.65"/><circle cx="137.2" cy="543.9" r="1.65"/><circle cx="142.1" cy="543.5" r="1.65"/><circle cx="147.7" cy="543.3" r="1.65"/><circle cx="134.8" cy="542.9" r="1.65"/><circle cx="150.1" cy="542.8" r="1.65"/><circle cx="132.4" cy="542.5" r="1.65"/><circle cx="140.4" cy="541.7" r="1.65"/><circle cx="142.8" cy="541.5" r="1.65"/><circle cx="138.1" cy="541.4" r="1.65"/><circle cx="145.2" cy="541.3" r="1.65"/><circle cx="135.7" cy="540.6" r="1.65"/><circle cx="147.7" cy="540.3" r="1.65"/><circle cx="133.2" cy="539.9" r="1.65"/><circle cx="141.2" cy="538.4" r="1.65"/><circle cx="143.7" cy="538.2" r="1.65"/><circle cx="138.8" cy="538" r="1.65"/><circle cx="146.1" cy="537.6" r="1.65"/><circle cx="136.4" cy="537.4" r="1.65"/><circle cx="148.4" cy="537.1" r="1.65"/><circle cx="134.1" cy="536.9" r="1.65"/><circle cx="150.8" cy="536.8" r="1.65"/><circle cx="131.7" cy="536.6" r="1.65"/><circle cx="141.2" cy="536.1" r="1.65"/><circle cx="143.7" cy="535.6" r="1.65"/><circle cx="138.8" cy="535.4" r="1.65"/><circle cx="142.1" cy="534.2" r="1.65"/><circle cx="145.2" cy="533.9" r="1.65"/><circle cx="137.2" cy="533.6" r="1.65"/><circle cx="140.4" cy="532.8" r="1.65"/><circle cx="147.7" cy="532.6" r="1.65"/><circle cx="142.8" cy="532.1" r="1.65"/><circle cx="138.1" cy="531.6" r="1.65"/><circle cx="145.2" cy="531.3" r="1.65"/><circle cx="135.7" cy="531.2" r="1.65"/><circle cx="149.2" cy="531.1" r="1.65"/><circle cx="141.2" cy="529.3" r="1.65"/><circle cx="142.8" cy="527.9" r="1.65"/><circle cx="139.7" cy="527.9" r="1.65"/><circle cx="145.2" cy="527.6" r="1.65"/><circle cx="137.2" cy="527.1" r="1.65"/><circle cx="147.7" cy="527" r="1.65"/><circle cx="141.2" cy="525.9" r="1.65"/><circle cx="143.7" cy="525.7" r="1.65"/><circle cx="139.7" cy="524.5" r="1.65"/><circle cx="141.2" cy="522.8" r="1.65"/><circle cx="141.2" cy="519.7" r="1.65"/><circle cx="143.7" cy="519.3" r="1.65"/><circle cx="141.2" cy="513.8" r="1.65"/><circle cx="142.8" cy="512.1" r="1.65"/><circle cx="141.2" cy="510.2" r="1.65"/><circle cx="143.7" cy="510" r="1.65"/><circle cx="139.7" cy="508.8" r="1.65"/><circle cx="141.2" cy="505.5" r="1.65"/><circle cx="141.2" cy="500.3" r="1.65"/></g>
<path d="M132.5 600.8V546.2H150V600.8" stroke="#c4343e" stroke-width="1.4" fill="none"/>
<path d="M141.2 565.3V527.1M136.4 527.1H146.1M136.4 565.3H146.1" stroke="#c4343e" stroke-width="1.1" fill="none"/>
<text x="138.4" y="612.2" font-size="5.4" font-weight="bold" fill="#222" text-anchor="middle">Smchd1<tspan font-size="3" font-weight="normal" dy="-2">+/+</tspan></text>
<text x="141.2" y="620.9" font-size="4.6" fill="#555" text-anchor="middle">n=119</text>
<path d="M141.2 600.8V605.8" stroke="#333" stroke-width="0.9"/>
<g fill="#e4b466"><circle cx="168.7" cy="598.8" r="1.65"/><circle cx="171.1" cy="598.5" r="1.65"/><circle cx="166.3" cy="598.4" r="1.65"/><circle cx="173.5" cy="597.5" r="1.65"/><circle cx="168.7" cy="594.8" r="1.65"/><circle cx="171.1" cy="593.9" r="1.65"/><circle cx="166.3" cy="593.6" r="1.65"/><circle cx="168.7" cy="592.6" r="1.65"/><circle cx="172.7" cy="592.1" r="1.65"/><circle cx="170.3" cy="591" r="1.65"/><circle cx="167.1" cy="590.9" r="1.65"/><circle cx="168.7" cy="589.5" r="1.65"/><circle cx="171.9" cy="589.2" r="1.65"/><circle cx="165.5" cy="589.1" r="1.65"/><circle cx="168.7" cy="586.5" r="1.65"/><circle cx="171.1" cy="586" r="1.65"/><circle cx="167.1" cy="585.2" r="1.65"/><circle cx="169.5" cy="584.3" r="1.65"/><circle cx="172.7" cy="584.3" r="1.65"/><circle cx="167.1" cy="583.1" r="1.65"/><circle cx="171.1" cy="582.7" r="1.65"/><circle cx="164.7" cy="582.1" r="1.65"/><circle cx="168.7" cy="581.1" r="1.65"/><circle cx="171.1" cy="580.1" r="1.65"/><circle cx="167.1" cy="579.7" r="1.65"/><circle cx="164.7" cy="579.5" r="1.65"/><circle cx="168.7" cy="577.8" r="1.65"/><circle cx="170.3" cy="576.4" r="1.65"/><circle cx="168.7" cy="575" r="1.65"/><circle cx="170.3" cy="573.4" r="1.65"/><circle cx="167.1" cy="573.3" r="1.65"/><circle cx="172.7" cy="573.2" r="1.65"/><circle cx="164.7" cy="572.8" r="1.65"/><circle cx="175.1" cy="572.3" r="1.65"/><circle cx="168.7" cy="572" r="1.65"/><circle cx="162.3" cy="571.9" r="1.65"/><circle cx="170.3" cy="570.5" r="1.65"/><circle cx="167.9" cy="569.6" r="1.65"/><circle cx="171.9" cy="569" r="1.65"/><circle cx="165.5" cy="568.8" r="1.65"/><circle cx="174.3" cy="568.4" r="1.65"/><circle cx="169.5" cy="568.2" r="1.65"/><circle cx="163.1" cy="567.8" r="1.65"/><circle cx="168.7" cy="565.8" r="1.65"/><circle cx="171.1" cy="565.5" r="1.65"/><circle cx="166.3" cy="565" r="1.65"/><circle cx="173.5" cy="564.4" r="1.65"/><circle cx="163.9" cy="564.3" r="1.65"/><circle cx="168.7" cy="563.7" r="1.65"/><circle cx="171.1" cy="562.7" r="1.65"/><circle cx="167.9" cy="561.8" r="1.65"/><circle cx="165.5" cy="561.8" r="1.65"/><circle cx="173.5" cy="561.7" r="1.65"/><circle cx="163.1" cy="561.5" r="1.65"/><circle cx="175.9" cy="561.5" r="1.65"/><circle cx="160.7" cy="561.1" r="1.65"/><circle cx="178.3" cy="561" r="1.65"/><circle cx="169.5" cy="560.4" r="1.65"/><circle cx="171.9" cy="560.1" r="1.65"/><circle cx="167.1" cy="559.9" r="1.65"/><circle cx="164.7" cy="558.8" r="1.65"/><circle cx="168.7" cy="558.2" r="1.65"/><circle cx="171.1" cy="557.7" r="1.65"/><circle cx="166.3" cy="557.2" r="1.65"/><circle cx="173.5" cy="557.2" r="1.65"/><circle cx="163.9" cy="556.9" r="1.65"/><circle cx="175.9" cy="556.6" r="1.65"/><circle cx="168.7" cy="556" r="1.65"/><circle cx="171.1" cy="555.3" r="1.65"/><circle cx="167.1" cy="554.6" r="1.65"/><circle cx="164.7" cy="554.3" r="1.65"/><circle cx="169.5" cy="553.3" r="1.65"/><circle cx="171.9" cy="553.2" r="1.65"/><circle cx="174.3" cy="552.7" r="1.65"/><circle cx="166.3" cy="552.6" r="1.65"/><circle cx="163.9" cy="551.9" r="1.65"/><circle cx="161.5" cy="551.7" r="1.65"/><circle cx="176.7" cy="551.7" r="1.65"/><circle cx="168.7" cy="551.3" r="1.65"/><circle cx="171.1" cy="550.6" r="1.65"/><circle cx="165.5" cy="550.5" r="1.65"/><circle cx="173.5" cy="550.2" r="1.65"/><circle cx="159.9" cy="550" r="1.65"/><circle cx="163.1" cy="550" r="1.65"/><circle cx="175.9" cy="549.6" r="1.65"/><circle cx="169.5" cy="549.3" r="1.65"/><circle cx="167.1" cy="549.2" r="1.65"/><circle cx="178.3" cy="549" r="1.65"/><circle cx="171.9" cy="548.4" r="1.65"/><circle cx="164.7" cy="547.9" r="1.65"/><circle cx="174.3" cy="547.8" r="1.65"/><circle cx="168.7" cy="547" r="1.65"/><circle cx="162.3" cy="546.7" r="1.65"/><circle cx="176.7" cy="546.7" r="1.65"/><circle cx="171.1" cy="546.3" r="1.65"/><circle cx="166.3" cy="545.9" r="1.65"/><circle cx="173.5" cy="545.8" r="1.65"/><circle cx="163.9" cy="545.1" r="1.65"/><circle cx="168.7" cy="544.5" r="1.65"/><circle cx="171.1" cy="544.2" r="1.65"/><circle cx="166.3" cy="543.6" r="1.65"/><circle cx="173.5" cy="543.5" r="1.65"/><circle cx="162.3" cy="543.4" r="1.65"/><circle cx="175.9" cy="543.4" r="1.65"/><circle cx="168.7" cy="541.8" r="1.65"/><circle cx="170.3" cy="540.4" r="1.65"/><circle cx="167.9" cy="539.4" r="1.65"/><circle cx="171.1" cy="538.4" r="1.65"/><circle cx="166.3" cy="537.5" r="1.65"/><circle cx="168.7" cy="537.2" r="1.65"/><circle cx="172.7" cy="536.7" r="1.65"/><circle cx="163.9" cy="536.3" r="1.65"/><circle cx="170.3" cy="535.7" r="1.65"/><circle cx="167.9" cy="534.5" r="1.65"/><circle cx="171.9" cy="533.8" r="1.65"/><circle cx="165.5" cy="533.7" r="1.65"/><circle cx="168.7" cy="529.7" r="1.65"/><circle cx="171.1" cy="529.3" r="1.65"/><circle cx="168.7" cy="527" r="1.65"/><circle cx="170.3" cy="525.5" r="1.65"/><circle cx="167.1" cy="525.2" r="1.65"/><circle cx="172.7" cy="524.3" r="1.65"/><circle cx="168.7" cy="521.2" r="1.65"/><circle cx="171.1" cy="520.2" r="1.65"/><circle cx="166.3" cy="520" r="1.65"/><circle cx="173.5" cy="519.6" r="1.65"/><circle cx="168.7" cy="514.9" r="1.65"/><circle cx="168.7" cy="511.6" r="1.65"/><circle cx="168.7" cy="475.2" r="1.65"/></g>
<path d="M160 600.8V554.9H177.4V600.8" stroke="#c98a2e" stroke-width="1.4" fill="none"/>
<path d="M168.7 579V530.9M163.9 530.9H173.5M163.9 579H173.5" stroke="#c98a2e" stroke-width="1.1" fill="none"/>
<text x="171" y="611.5" font-size="5.4" font-weight="bold" fill="#222" text-anchor="middle">Smchd1</text>
<text x="171" y="615.6" font-size="3.0" fill="#444" text-anchor="middle">MD43/MD43</text>
<text x="168.7" y="620.9" font-size="4.6" fill="#555" text-anchor="middle">n=129</text>
<path d="M168.7 600.8V605.8" stroke="#333" stroke-width="0.9"/>
<g fill="#d3a0d2"><circle cx="196.2" cy="595.2" r="1.65"/><circle cx="198.7" cy="594.2" r="1.65"/><circle cx="196.2" cy="590.1" r="1.65"/><circle cx="198.7" cy="589.7" r="1.65"/><circle cx="196.2" cy="587.1" r="1.65"/><circle cx="196.2" cy="582.5" r="1.65"/><circle cx="196.2" cy="578.1" r="1.65"/><circle cx="198.7" cy="577.4" r="1.65"/><circle cx="193.8" cy="577.2" r="1.65"/><circle cx="196.2" cy="574.5" r="1.65"/><circle cx="196.2" cy="571.1" r="1.65"/><circle cx="198.7" cy="571.1" r="1.65"/><circle cx="193.8" cy="570.2" r="1.65"/><circle cx="200.2" cy="569.8" r="1.65"/><circle cx="196.2" cy="567.3" r="1.65"/><circle cx="198.7" cy="566.4" r="1.65"/><circle cx="194.7" cy="565.7" r="1.65"/><circle cx="192.2" cy="565.3" r="1.65"/><circle cx="197.1" cy="564.7" r="1.65"/><circle cx="194.7" cy="563.5" r="1.65"/><circle cx="198.7" cy="562.9" r="1.65"/><circle cx="192.2" cy="562.8" r="1.65"/><circle cx="196.2" cy="561.5" r="1.65"/><circle cx="197.8" cy="560" r="1.65"/><circle cx="194.7" cy="559.7" r="1.65"/><circle cx="196.2" cy="558.1" r="1.65"/><circle cx="198.7" cy="557.7" r="1.65"/><circle cx="193.8" cy="557.5" r="1.65"/><circle cx="201.1" cy="557.5" r="1.65"/><circle cx="191.4" cy="557.3" r="1.65"/><circle cx="203.4" cy="556.4" r="1.65"/><circle cx="196.2" cy="555.6" r="1.65"/><circle cx="198.7" cy="555.2" r="1.65"/><circle cx="193.8" cy="555.1" r="1.65"/><circle cx="201.1" cy="554.8" r="1.65"/><circle cx="191.4" cy="554.8" r="1.65"/><circle cx="196.2" cy="553" r="1.65"/><circle cx="198.7" cy="552.9" r="1.65"/><circle cx="194.7" cy="551.6" r="1.65"/><circle cx="196.2" cy="550.3" r="1.65"/><circle cx="198.7" cy="550.2" r="1.65"/><circle cx="193.8" cy="549.3" r="1.65"/><circle cx="201.1" cy="549.1" r="1.65"/><circle cx="191.4" cy="548.6" r="1.65"/><circle cx="203.4" cy="548.4" r="1.65"/><circle cx="197.1" cy="548.3" r="1.65"/><circle cx="189.1" cy="548.2" r="1.65"/><circle cx="205.8" cy="548.2" r="1.65"/><circle cx="194.7" cy="547.2" r="1.65"/><circle cx="198.7" cy="546.7" r="1.65"/><circle cx="196.2" cy="545.6" r="1.65"/><circle cx="193.1" cy="545.6" r="1.65"/><circle cx="197.8" cy="544.2" r="1.65"/><circle cx="194.7" cy="544" r="1.65"/><circle cx="200.2" cy="543.3" r="1.65"/><circle cx="192.2" cy="542.8" r="1.65"/><circle cx="196.2" cy="542.1" r="1.65"/><circle cx="202.7" cy="542.1" r="1.65"/><circle cx="198.7" cy="541.6" r="1.65"/><circle cx="194.7" cy="540.4" r="1.65"/><circle cx="197.1" cy="540.2" r="1.65"/><circle cx="196.2" cy="538" r="1.65"/><circle cx="198.7" cy="537.9" r="1.65"/><circle cx="193.8" cy="537.5" r="1.65"/><circle cx="201.1" cy="537.3" r="1.65"/><circle cx="191.4" cy="537.3" r="1.65"/><circle cx="203.4" cy="537.2" r="1.65"/><circle cx="189.1" cy="537.1" r="1.65"/><circle cx="205.8" cy="536.2" r="1.65"/><circle cx="197.1" cy="536.2" r="1.65"/><circle cx="194.7" cy="535.4" r="1.65"/><circle cx="199.4" cy="535.2" r="1.65"/><circle cx="192.2" cy="535.1" r="1.65"/><circle cx="201.8" cy="534.5" r="1.65"/><circle cx="196.2" cy="533.5" r="1.65"/><circle cx="198.7" cy="533.1" r="1.65"/><circle cx="193.8" cy="533" r="1.65"/><circle cx="191.4" cy="532.8" r="1.65"/><circle cx="201.1" cy="532.4" r="1.65"/><circle cx="203.4" cy="531.8" r="1.65"/><circle cx="196.2" cy="531.4" r="1.65"/><circle cx="189.8" cy="531.4" r="1.65"/><circle cx="187.4" cy="531.3" r="1.65"/><circle cx="198.7" cy="530.6" r="1.65"/><circle cx="194.7" cy="530" r="1.65"/><circle cx="192.2" cy="529.8" r="1.65"/><circle cx="201.1" cy="529.7" r="1.65"/><circle cx="203.4" cy="529.7" r="1.65"/><circle cx="196.2" cy="520.8" r="1.65"/><circle cx="196.2" cy="518.4" r="1.65"/><circle cx="196.2" cy="515.4" r="1.65"/><circle cx="197.8" cy="513.8" r="1.65"/><circle cx="195.4" cy="513.1" r="1.65"/><circle cx="193.1" cy="512.9" r="1.65"/><circle cx="200.2" cy="512.8" r="1.65"/><circle cx="196.2" cy="510.7" r="1.65"/><circle cx="196.2" cy="507.3" r="1.65"/><circle cx="197.8" cy="506" r="1.65"/></g>
<path d="M187.5 600.8V546.2H205V600.8" stroke="#963e9c" stroke-width="1.4" fill="none"/>
<path d="M196.2 566.9V525.5M191.4 525.5H201.1M191.4 566.9H201.1" stroke="#963e9c" stroke-width="1.1" fill="none"/>
<text x="198.6" y="611.5" font-size="5.4" font-weight="bold" fill="#222" text-anchor="middle">Smchd1</text>
<text x="198.6" y="615.6" font-size="3.0" fill="#444" text-anchor="middle">GFP/GFP</text>
<text x="196.2" y="620.9" font-size="4.6" fill="#555" text-anchor="middle">n=98</text>
<path d="M196.2 600.8V605.8" stroke="#333" stroke-width="0.9"/>
<g fill="#a899d2"><circle cx="223.8" cy="597.2" r="1.65"/><circle cx="226.2" cy="596.7" r="1.65"/><circle cx="222.2" cy="595.3" r="1.65"/><circle cx="224.6" cy="595.2" r="1.65"/><circle cx="227.8" cy="594.9" r="1.65"/><circle cx="220.6" cy="594" r="1.65"/><circle cx="218.2" cy="593.8" r="1.65"/><circle cx="230.2" cy="593.7" r="1.65"/><circle cx="223.8" cy="593.3" r="1.65"/><circle cx="226.2" cy="592.9" r="1.65"/><circle cx="215.8" cy="592.9" r="1.65"/><circle cx="222.2" cy="591.9" r="1.65"/><circle cx="227.8" cy="591.6" r="1.65"/><circle cx="219.8" cy="591.6" r="1.65"/><circle cx="230.2" cy="591.6" r="1.65"/><circle cx="224.6" cy="591.3" r="1.65"/><circle cx="217.3" cy="590.9" r="1.65"/><circle cx="232.6" cy="590.6" r="1.65"/><circle cx="214.9" cy="590.6" r="1.65"/><circle cx="227.7" cy="590.3" r="1.65"/><circle cx="217.9" cy="590.2" r="1.65"/><circle cx="222.9" cy="589.9" r="1.65"/><circle cx="233.4" cy="589.9" r="1.65"/><circle cx="214.9" cy="589.8" r="1.65"/><circle cx="225.3" cy="588.8" r="1.65"/><circle cx="220.6" cy="588.8" r="1.65"/><circle cx="227.8" cy="587.9" r="1.65"/><circle cx="222.9" cy="587.6" r="1.65"/><circle cx="218.2" cy="587.5" r="1.65"/><circle cx="230.2" cy="587.5" r="1.65"/><circle cx="215.8" cy="587.4" r="1.65"/><circle cx="232.6" cy="587.1" r="1.65"/><circle cx="217.5" cy="586.9" r="1.65"/><circle cx="215.3" cy="586.8" r="1.65"/><circle cx="229.3" cy="586.8" r="1.65"/><circle cx="225.3" cy="586.5" r="1.65"/><circle cx="221.3" cy="586.1" r="1.65"/><circle cx="221" cy="585.9" r="1.65"/><circle cx="223.2" cy="585.8" r="1.65"/><circle cx="227.8" cy="585.3" r="1.65"/><circle cx="218.9" cy="585.2" r="1.65"/><circle cx="230.9" cy="585.1" r="1.65"/><circle cx="216.6" cy="585.1" r="1.65"/><circle cx="233.3" cy="585" r="1.65"/><circle cx="214.2" cy="584.9" r="1.65"/><circle cx="220.2" cy="584.7" r="1.65"/><circle cx="226.6" cy="584.5" r="1.65"/><circle cx="224.6" cy="583.9" r="1.65"/><circle cx="223.8" cy="581.8" r="1.65"/><circle cx="226.2" cy="581.5" r="1.65"/><circle cx="221.3" cy="581.3" r="1.65"/><circle cx="228.6" cy="581.3" r="1.65"/><circle cx="218.9" cy="580.3" r="1.65"/><circle cx="230.2" cy="579.9" r="1.65"/><circle cx="223.8" cy="579.5" r="1.65"/><circle cx="226.2" cy="578.9" r="1.65"/><circle cx="221.3" cy="578.8" r="1.65"/><circle cx="228.6" cy="578.6" r="1.65"/><circle cx="217.3" cy="578.5" r="1.65"/><circle cx="231.8" cy="578.4" r="1.65"/><circle cx="214.9" cy="578.4" r="1.65"/><circle cx="221.8" cy="578.3" r="1.65"/><circle cx="217.8" cy="578.3" r="1.65"/><circle cx="222.3" cy="578.3" r="1.65"/><circle cx="219.7" cy="578.2" r="1.65"/><circle cx="215.8" cy="578" r="1.65"/><circle cx="230.4" cy="577.8" r="1.65"/><circle cx="227.4" cy="577.7" r="1.65"/><circle cx="227.1" cy="577.6" r="1.65"/><circle cx="223.8" cy="576.3" r="1.65"/><circle cx="221.3" cy="575.8" r="1.65"/><circle cx="226.2" cy="575.7" r="1.65"/><circle cx="228.6" cy="575" r="1.65"/><circle cx="218.9" cy="574.9" r="1.65"/><circle cx="230.9" cy="574.7" r="1.65"/><circle cx="224.6" cy="574.3" r="1.65"/><circle cx="216.6" cy="574.3" r="1.65"/><circle cx="233.3" cy="574.3" r="1.65"/><circle cx="214.2" cy="574.2" r="1.65"/><circle cx="231.6" cy="574.2" r="1.65"/><circle cx="221.6" cy="574.1" r="1.65"/><circle cx="226.9" cy="573.1" r="1.65"/><circle cx="223.8" cy="572.4" r="1.65"/><circle cx="220.6" cy="572.2" r="1.65"/><circle cx="229.3" cy="572.1" r="1.65"/><circle cx="218.2" cy="571.9" r="1.65"/><circle cx="231.8" cy="571.8" r="1.65"/><circle cx="225.3" cy="570.8" r="1.65"/><circle cx="222.2" cy="570.7" r="1.65"/><circle cx="227.8" cy="570.4" r="1.65"/><circle cx="219.8" cy="569.9" r="1.65"/><circle cx="230.2" cy="569.5" r="1.65"/><circle cx="217.3" cy="569.5" r="1.65"/><circle cx="223.8" cy="569" r="1.65"/><circle cx="226.2" cy="568.3" r="1.65"/><circle cx="221.3" cy="568" r="1.65"/><circle cx="228.6" cy="567.8" r="1.65"/><circle cx="223.8" cy="566.7" r="1.65"/><circle cx="219.8" cy="566.4" r="1.65"/><circle cx="226.2" cy="566.1" r="1.65"/><circle cx="229.3" cy="565.9" r="1.65"/><circle cx="222.2" cy="565.2" r="1.65"/><circle cx="224.6" cy="564.7" r="1.65"/><circle cx="227.8" cy="564.6" r="1.65"/><circle cx="218.9" cy="564.4" r="1.65"/><circle cx="230.9" cy="564.3" r="1.65"/><circle cx="216.6" cy="564.2" r="1.65"/><circle cx="233.3" cy="564" r="1.65"/><circle cx="226.2" cy="563.3" r="1.65"/><circle cx="222.9" cy="562.9" r="1.65"/><circle cx="220.6" cy="562.5" r="1.65"/><circle cx="227.8" cy="561.8" r="1.65"/><circle cx="218.2" cy="561.7" r="1.65"/><circle cx="223.8" cy="559.8" r="1.65"/><circle cx="226.2" cy="559.1" r="1.65"/><circle cx="222.2" cy="558" r="1.65"/><circle cx="224.6" cy="557.2" r="1.65"/><circle cx="226.9" cy="557" r="1.65"/><circle cx="220.6" cy="556.3" r="1.65"/><circle cx="222.9" cy="555.4" r="1.65"/><circle cx="224.6" cy="553.9" r="1.65"/><circle cx="222.9" cy="552.1" r="1.65"/><circle cx="223.8" cy="548.7" r="1.65"/><circle cx="226.2" cy="548.4" r="1.65"/><circle cx="221.3" cy="548.3" r="1.65"/><circle cx="223.8" cy="539.4" r="1.65"/></g>
<path d="M215 600.8V575.1H232.5V600.8" stroke="#6c5aa8" stroke-width="1.4" fill="none"/>
<path d="M223.8 592.1V558.2M218.9 558.2H228.6M218.9 592.1H228.6" stroke="#6c5aa8" stroke-width="1.1" fill="none"/>
<text x="226.1" y="611.5" font-size="5.4" font-weight="bold" fill="#222" text-anchor="middle">Smchd1</text>
<text x="226.1" y="615.6" font-size="3.0" fill="#444" text-anchor="middle">MD43-GFP/MD43-GFP</text>
<text x="223.8" y="620.9" font-size="4.6" fill="#555" text-anchor="middle">n=126</text>
<path d="M223.8 600.8V605.8" stroke="#333" stroke-width="0.9"/>
<path d="M67.2 381.9V600.8M61.7 600.8H67.2M61.7 546.2H67.2M61.7 491.6H67.2M61.7 437H67.2M61.7 382.4H67.2" stroke="#7a7a7a" stroke-width="1.1" fill="none"/>
<path d="M66.7 600.8H240" stroke="#444" stroke-width="1.1"/>
<text x="60.2" y="603.9" font-size="8.5" font-weight="bold" fill="#222" text-anchor="end">0</text>
<text x="60.2" y="549.3" font-size="8.5" font-weight="bold" fill="#222" text-anchor="end">1</text>
<text x="60.2" y="494.7" font-size="8.5" font-weight="bold" fill="#222" text-anchor="end">2</text>
<text x="60.2" y="440.1" font-size="8.5" font-weight="bold" fill="#222" text-anchor="end">3</text>
<text x="60.2" y="385.5" font-size="8.5" font-weight="bold" fill="#222" text-anchor="end">4</text>
<path d="M86.4 418.1V402.3H113.4V418.1" stroke="#555" stroke-width="0.8" fill="none"/>
<text x="86" y="400.1" font-size="6.4" fill="#444">p=5x10<tspan font-size="3.7" dy="-2.6">-4</tspan></text>
<text x="105" y="427.4" font-size="7" fill="#333">124%</text>
<path d="M141.2 461.4V446.6H168.5V461.4" stroke="#555" stroke-width="0.8" fill="none"/>
<text x="140.8" y="444.4" font-size="6.4" fill="#444">p=3.8x10<tspan font-size="3.7" dy="-2.6">-3</tspan></text>
<text x="161.8" y="469.7" font-size="7" fill="#333">85%</text>
<path d="M196.3 492.7V477.4H224V492.7" stroke="#555" stroke-width="0.8" fill="none"/>
<text x="195.9" y="475.2" font-size="6.4" fill="#444">p&lt;1x10<tspan font-size="3.7" dy="-2.6">-15</tspan></text>
<text x="216.7" y="500" font-size="7" fill="#333">47%</text>
<text x="256.8" y="377" font-size="13" fill="#333">f.</text>
<text x="341.5" y="378.6" font-size="9.3" font-weight="bold" fill="#222">Xi H3K27me3</text>
<text transform="translate(264.8 496) rotate(-90)" font-size="8.6" font-weight="bold" fill="#222" text-anchor="middle">AU</text>
<g fill="#6f9fd6"><circle cx="298.2" cy="595.1" r="1.65"/><circle cx="299.9" cy="593.6" r="1.65"/><circle cx="297.4" cy="592.9" r="1.65"/><circle cx="295.1" cy="592.6" r="1.65"/><circle cx="302.2" cy="592.5" r="1.65"/><circle cx="292.6" cy="591.7" r="1.65"/><circle cx="298.2" cy="590.2" r="1.65"/><circle cx="300.6" cy="590" r="1.65"/><circle cx="295.9" cy="589.3" r="1.65"/><circle cx="303.1" cy="589" r="1.65"/><circle cx="299.1" cy="588.3" r="1.65"/><circle cx="298.2" cy="586.2" r="1.65"/><circle cx="300.6" cy="585.8" r="1.65"/><circle cx="296.6" cy="584.5" r="1.65"/><circle cx="299.1" cy="584.1" r="1.65"/><circle cx="301.4" cy="583.6" r="1.65"/><circle cx="294.2" cy="583.4" r="1.65"/><circle cx="297.4" cy="582.6" r="1.65"/><circle cx="303.1" cy="582.2" r="1.65"/><circle cx="299.9" cy="582.2" r="1.65"/><circle cx="292.6" cy="581.6" r="1.65"/><circle cx="295.9" cy="580.7" r="1.65"/><circle cx="298.2" cy="580.3" r="1.65"/><circle cx="300.6" cy="580" r="1.65"/><circle cx="303.1" cy="579.8" r="1.65"/><circle cx="293.4" cy="579.7" r="1.65"/><circle cx="305.4" cy="579.6" r="1.65"/><circle cx="291.1" cy="579.5" r="1.65"/><circle cx="307.9" cy="579.5" r="1.65"/><circle cx="288.6" cy="579.2" r="1.65"/><circle cx="296.6" cy="578.8" r="1.65"/><circle cx="303.4" cy="578.7" r="1.65"/><circle cx="301.1" cy="578.6" r="1.65"/><circle cx="296.5" cy="578.5" r="1.65"/><circle cx="299.1" cy="578.3" r="1.65"/><circle cx="292.4" cy="578.2" r="1.65"/><circle cx="306.2" cy="577.6" r="1.65"/><circle cx="301.7" cy="577.6" r="1.65"/><circle cx="290.2" cy="577.4" r="1.65"/><circle cx="294.2" cy="577.1" r="1.65"/><circle cx="307.4" cy="577.1" r="1.65"/><circle cx="296.8" cy="576.8" r="1.65"/><circle cx="303.9" cy="576.6" r="1.65"/><circle cx="305.1" cy="576.4" r="1.65"/><circle cx="299.9" cy="576.3" r="1.65"/><circle cx="292.6" cy="575.8" r="1.65"/><circle cx="288.6" cy="575.8" r="1.65"/><circle cx="289.2" cy="575.4" r="1.65"/><circle cx="302.2" cy="575.3" r="1.65"/><circle cx="298.2" cy="574.9" r="1.65"/><circle cx="295.9" cy="574.4" r="1.65"/><circle cx="304.6" cy="574.1" r="1.65"/><circle cx="300.6" cy="573.8" r="1.65"/><circle cx="293.4" cy="573.8" r="1.65"/><circle cx="291.1" cy="573.5" r="1.65"/><circle cx="307.1" cy="573.5" r="1.65"/><circle cx="288.6" cy="573.2" r="1.65"/><circle cx="298.8" cy="573.1" r="1.65"/><circle cx="292.4" cy="573" r="1.65"/><circle cx="298.1" cy="573" r="1.65"/><circle cx="300.4" cy="572.9" r="1.65"/><circle cx="295.9" cy="572" r="1.65"/><circle cx="302.2" cy="571.8" r="1.65"/><circle cx="304.6" cy="571.7" r="1.65"/><circle cx="290.2" cy="571.6" r="1.65"/><circle cx="307.9" cy="571.5" r="1.65"/><circle cx="305.2" cy="571.4" r="1.65"/><circle cx="298.7" cy="571.4" r="1.65"/><circle cx="293.4" cy="570.9" r="1.65"/><circle cx="300.6" cy="570.2" r="1.65"/><circle cx="296.6" cy="569.8" r="1.65"/><circle cx="299.1" cy="568.9" r="1.65"/><circle cx="302.2" cy="568.7" r="1.65"/><circle cx="294.2" cy="568.7" r="1.65"/><circle cx="296.6" cy="567.7" r="1.65"/><circle cx="304.6" cy="567.7" r="1.65"/><circle cx="300.6" cy="567.1" r="1.65"/><circle cx="292.6" cy="567" r="1.65"/><circle cx="290.2" cy="566.5" r="1.65"/><circle cx="298.2" cy="565.8" r="1.65"/><circle cx="295.9" cy="565" r="1.65"/><circle cx="300.6" cy="564.8" r="1.65"/><circle cx="303.1" cy="564.4" r="1.65"/><circle cx="293.4" cy="564.2" r="1.65"/><circle cx="298.2" cy="562.6" r="1.65"/><circle cx="300.6" cy="562.3" r="1.65"/><circle cx="295.9" cy="562.2" r="1.65"/><circle cx="298.2" cy="559.7" r="1.65"/><circle cx="299.9" cy="558.4" r="1.65"/><circle cx="296.6" cy="558.1" r="1.65"/><circle cx="302.2" cy="558" r="1.65"/><circle cx="298.2" cy="556.4" r="1.65"/><circle cx="298.2" cy="548.4" r="1.65"/><circle cx="298.2" cy="537.9" r="1.65"/><circle cx="298.2" cy="511.7" r="1.65"/></g>
<path d="M290 600.8V576.2H306.5V600.8" stroke="#2f6fb7" stroke-width="1.4" fill="none"/>
<path d="M298.2 589.3V563.1M293.4 563.1H303.1M293.4 589.3H303.1" stroke="#2f6fb7" stroke-width="1.1" fill="none"/>
<text x="295.1" y="612.2" font-size="5.4" font-weight="bold" fill="#222" text-anchor="middle">Smchd1<tspan font-size="3" font-weight="normal" dy="-2">wt/wt</tspan></text>
<text x="298.2" y="620.9" font-size="4.6" fill="#555" text-anchor="middle">n=95</text>
<path d="M298.2 600.8V605.8" stroke="#333" stroke-width="0.9"/>
<g fill="#a3cd88"><circle cx="324.6" cy="597.3" r="1.65"/><circle cx="324.6" cy="594" r="1.65"/><circle cx="326.9" cy="593" r="1.65"/><circle cx="322.9" cy="592.4" r="1.65"/><circle cx="320.6" cy="592" r="1.65"/><circle cx="324.6" cy="589.1" r="1.65"/><circle cx="326.9" cy="588.5" r="1.65"/><circle cx="322.9" cy="587.7" r="1.65"/><circle cx="320.6" cy="587.7" r="1.65"/><circle cx="329.4" cy="587.6" r="1.65"/><circle cx="325.4" cy="586.9" r="1.65"/><circle cx="323.8" cy="585.4" r="1.65"/><circle cx="326.9" cy="585.3" r="1.65"/><circle cx="321.4" cy="584.8" r="1.65"/><circle cx="329.4" cy="584.6" r="1.65"/><circle cx="318.9" cy="584.3" r="1.65"/><circle cx="325.4" cy="583.7" r="1.65"/><circle cx="331.8" cy="583.6" r="1.65"/><circle cx="322.9" cy="582.5" r="1.65"/><circle cx="326.9" cy="582.4" r="1.65"/><circle cx="320.6" cy="581.8" r="1.65"/><circle cx="324.6" cy="581.2" r="1.65"/><circle cx="329.4" cy="581.2" r="1.65"/><circle cx="318.2" cy="581.1" r="1.65"/><circle cx="326.2" cy="579.6" r="1.65"/><circle cx="322.9" cy="579.3" r="1.65"/><circle cx="328.6" cy="579" r="1.65"/><circle cx="320.6" cy="578.4" r="1.65"/><circle cx="324.6" cy="577.3" r="1.65"/><circle cx="326.9" cy="576.9" r="1.65"/><circle cx="322.2" cy="576.8" r="1.65"/><circle cx="329.4" cy="576.7" r="1.65"/><circle cx="319.8" cy="576.4" r="1.65"/><circle cx="331.8" cy="576.2" r="1.65"/><circle cx="317.4" cy="576" r="1.65"/><circle cx="334.2" cy="575.6" r="1.65"/><circle cx="325.4" cy="575.3" r="1.65"/><circle cx="314.9" cy="575.1" r="1.65"/><circle cx="322.9" cy="574.9" r="1.65"/><circle cx="326.9" cy="573.9" r="1.65"/><circle cx="321.4" cy="573.5" r="1.65"/><circle cx="324.6" cy="573.4" r="1.65"/><circle cx="328.6" cy="572.5" r="1.65"/><circle cx="318.9" cy="572.3" r="1.65"/><circle cx="330.9" cy="572.2" r="1.65"/><circle cx="326.2" cy="572" r="1.65"/><circle cx="322.9" cy="572" r="1.65"/><circle cx="316.6" cy="571.9" r="1.65"/><circle cx="333.4" cy="571.8" r="1.65"/><circle cx="331.7" cy="571.8" r="1.65"/><circle cx="321.2" cy="571.3" r="1.65"/><circle cx="317.3" cy="571.3" r="1.65"/><circle cx="324.6" cy="570.2" r="1.65"/><circle cx="326.9" cy="569.4" r="1.65"/><circle cx="322.2" cy="569.3" r="1.65"/><circle cx="329.4" cy="568.9" r="1.65"/><circle cx="319.8" cy="568.6" r="1.65"/><circle cx="331.8" cy="568.2" r="1.65"/><circle cx="324.6" cy="568" r="1.65"/><circle cx="317.4" cy="567.8" r="1.65"/><circle cx="327.8" cy="567.4" r="1.65"/><circle cx="322.2" cy="567.2" r="1.65"/><circle cx="334.2" cy="567" r="1.65"/><circle cx="330.2" cy="566.9" r="1.65"/><circle cx="314.9" cy="566.6" r="1.65"/><circle cx="319.8" cy="566.5" r="1.65"/><circle cx="324.6" cy="565.8" r="1.65"/><circle cx="317.4" cy="565.7" r="1.65"/><circle cx="326.9" cy="564.9" r="1.65"/><circle cx="322.2" cy="564.7" r="1.65"/><circle cx="329.4" cy="564.6" r="1.65"/><circle cx="319.8" cy="563.9" r="1.65"/><circle cx="331.8" cy="563.9" r="1.65"/><circle cx="324.6" cy="563.6" r="1.65"/><circle cx="317.4" cy="563.4" r="1.65"/><circle cx="334.2" cy="563.4" r="1.65"/><circle cx="326.9" cy="562.6" r="1.65"/><circle cx="322.9" cy="562.2" r="1.65"/><circle cx="320.6" cy="561.5" r="1.65"/><circle cx="329.4" cy="561.3" r="1.65"/><circle cx="318.2" cy="561.3" r="1.65"/><circle cx="325.4" cy="561.2" r="1.65"/><circle cx="331.8" cy="560.9" r="1.65"/><circle cx="315.8" cy="560.7" r="1.65"/><circle cx="334.2" cy="560.4" r="1.65"/><circle cx="324.6" cy="558.4" r="1.65"/><circle cx="326.9" cy="558" r="1.65"/><circle cx="322.2" cy="557.9" r="1.65"/><circle cx="329.4" cy="557.8" r="1.65"/><circle cx="319.8" cy="557.6" r="1.65"/><circle cx="331.8" cy="557.4" r="1.65"/><circle cx="317.4" cy="557" r="1.65"/><circle cx="324.6" cy="556.3" r="1.65"/><circle cx="327.8" cy="556.2" r="1.65"/><circle cx="322.2" cy="555.3" r="1.65"/><circle cx="324.6" cy="553.9" r="1.65"/><circle cx="326.9" cy="553.7" r="1.65"/><circle cx="320.6" cy="553.7" r="1.65"/><circle cx="329.4" cy="552.7" r="1.65"/><circle cx="325.4" cy="552" r="1.65"/><circle cx="322.9" cy="551.4" r="1.65"/><circle cx="327.8" cy="551.1" r="1.65"/><circle cx="320.6" cy="550.7" r="1.65"/><circle cx="330.2" cy="550.6" r="1.65"/><circle cx="318.2" cy="550.5" r="1.65"/><circle cx="324.6" cy="549.9" r="1.65"/><circle cx="332.6" cy="549.8" r="1.65"/><circle cx="315.8" cy="549.6" r="1.65"/><circle cx="323.9" cy="549.5" r="1.65"/><circle cx="326.9" cy="549.1" r="1.65"/><circle cx="328.7" cy="549" r="1.65"/><circle cx="324.6" cy="547.3" r="1.65"/><circle cx="322.2" cy="547.2" r="1.65"/><circle cx="327.8" cy="547.1" r="1.65"/><circle cx="319.8" cy="546.3" r="1.65"/><circle cx="330.2" cy="546.2" r="1.65"/><circle cx="317.4" cy="546.1" r="1.65"/><circle cx="332.6" cy="545.9" r="1.65"/><circle cx="326.2" cy="545.8" r="1.65"/><circle cx="314.9" cy="545.5" r="1.65"/><circle cx="324.6" cy="543.5" r="1.65"/><circle cx="326.9" cy="543.4" r="1.65"/><circle cx="322.2" cy="543.1" r="1.65"/><circle cx="329.4" cy="542.5" r="1.65"/><circle cx="319.8" cy="542.4" r="1.65"/><circle cx="325.4" cy="541.6" r="1.65"/><circle cx="331.8" cy="541.5" r="1.65"/><circle cx="317.4" cy="541.4" r="1.65"/><circle cx="322.9" cy="540.5" r="1.65"/><circle cx="326.9" cy="540.2" r="1.65"/><circle cx="324.6" cy="538.9" r="1.65"/><circle cx="326.9" cy="538" r="1.65"/><circle cx="322.2" cy="537.7" r="1.65"/><circle cx="329.4" cy="537.3" r="1.65"/><circle cx="324.6" cy="535.4" r="1.65"/><circle cx="324.6" cy="531.6" r="1.65"/><circle cx="326.9" cy="531.5" r="1.65"/><circle cx="324.6" cy="527.5" r="1.65"/><circle cx="326.9" cy="526.4" r="1.65"/><circle cx="322.9" cy="525.9" r="1.65"/><circle cx="324.6" cy="523.3" r="1.65"/><circle cx="326.2" cy="521.8" r="1.65"/><circle cx="322.9" cy="521.8" r="1.65"/><circle cx="324.6" cy="520" r="1.65"/><circle cx="326.2" cy="518.6" r="1.65"/><circle cx="323.8" cy="517.9" r="1.65"/><circle cx="321.4" cy="517.8" r="1.65"/><circle cx="327.8" cy="516.9" r="1.65"/><circle cx="330.2" cy="516.9" r="1.65"/><circle cx="324.6" cy="515" r="1.65"/><circle cx="326.2" cy="513.4" r="1.65"/><circle cx="324.6" cy="511.5" r="1.65"/><circle cx="326.2" cy="509.9" r="1.65"/><circle cx="322.9" cy="509.7" r="1.65"/><circle cx="328.6" cy="509.4" r="1.65"/><circle cx="320.6" cy="508.9" r="1.65"/><circle cx="324.6" cy="504.8" r="1.65"/><circle cx="326.9" cy="504.6" r="1.65"/><circle cx="322.9" cy="502.9" r="1.65"/><circle cx="325.4" cy="502.3" r="1.65"/><circle cx="327.8" cy="501.1" r="1.65"/><circle cx="323.8" cy="500.9" r="1.65"/><circle cx="326.2" cy="499.7" r="1.65"/><circle cx="324.6" cy="497.5" r="1.65"/><circle cx="326.9" cy="496.4" r="1.65"/><circle cx="324.6" cy="494.5" r="1.65"/><circle cx="326.9" cy="493.5" r="1.65"/><circle cx="324.6" cy="491.6" r="1.65"/><circle cx="326.9" cy="490.8" r="1.65"/><circle cx="324.6" cy="489.2" r="1.65"/><circle cx="326.9" cy="488.6" r="1.65"/><circle cx="324.6" cy="485.7" r="1.65"/><circle cx="326.9" cy="485.7" r="1.65"/><circle cx="322.2" cy="484.6" r="1.65"/><circle cx="324.6" cy="483.6" r="1.65"/><circle cx="326.9" cy="482.7" r="1.65"/><circle cx="324.6" cy="472.4" r="1.65"/><circle cx="326.9" cy="471.2" r="1.65"/><circle cx="324.6" cy="469.8" r="1.65"/><circle cx="324.6" cy="464.7" r="1.65"/><circle cx="326.9" cy="464.5" r="1.65"/><circle cx="322.9" cy="463.1" r="1.65"/><circle cx="324.6" cy="457.7" r="1.65"/><circle cx="326.9" cy="457.6" r="1.65"/><circle cx="324.6" cy="448.5" r="1.65"/><circle cx="326.9" cy="448.3" r="1.65"/><circle cx="322.2" cy="448.1" r="1.65"/><circle cx="324.6" cy="442.8" r="1.65"/><circle cx="326.9" cy="442.1" r="1.65"/><circle cx="324.6" cy="436.2" r="1.65"/><circle cx="324.6" cy="424.6" r="1.65"/><circle cx="326.9" cy="424.6" r="1.65"/><circle cx="322.9" cy="422.9" r="1.65"/><circle cx="328.6" cy="422.9" r="1.65"/><circle cx="325.4" cy="421.7" r="1.65"/><circle cx="324.6" cy="414.8" r="1.65"/><circle cx="324.6" cy="403" r="1.65"/></g>
<path d="M316.3 600.8V539H332.8V600.8" stroke="#62a544" stroke-width="1.4" fill="none"/>
<path d="M324.6 583.5V494.4M319.8 494.4H329.4M319.8 583.5H329.4" stroke="#62a544" stroke-width="1.1" fill="none"/>
<text x="321.4" y="612.2" font-size="5.4" font-weight="bold" fill="#222" text-anchor="middle">Smchd1<tspan font-size="3" font-weight="normal" dy="-2">del/del</tspan></text>
<text x="324.6" y="620.9" font-size="4.6" fill="#555" text-anchor="middle">n=197</text>
<path d="M324.6 600.8V605.8" stroke="#333" stroke-width="0.9"/>
<g fill="#e07476"><circle cx="351.2" cy="599.2" r="1.65"/><circle cx="351.2" cy="594.5" r="1.65"/><circle cx="353.6" cy="593.4" r="1.65"/><circle cx="349.6" cy="593.1" r="1.65"/><circle cx="347.2" cy="592.9" r="1.65"/><circle cx="356" cy="592.4" r="1.65"/><circle cx="351.2" cy="590.5" r="1.65"/><circle cx="352.8" cy="589.2" r="1.65"/><circle cx="350.4" cy="588.2" r="1.65"/><circle cx="352" cy="586.7" r="1.65"/><circle cx="348.8" cy="586.5" r="1.65"/><circle cx="354.4" cy="586.4" r="1.65"/><circle cx="346.4" cy="586.3" r="1.65"/><circle cx="356.8" cy="586" r="1.65"/><circle cx="344" cy="585.9" r="1.65"/><circle cx="359.2" cy="585.7" r="1.65"/><circle cx="351.2" cy="584.6" r="1.65"/><circle cx="353.6" cy="584.4" r="1.65"/><circle cx="348.8" cy="584.2" r="1.65"/><circle cx="356" cy="584.1" r="1.65"/><circle cx="346.4" cy="584" r="1.65"/><circle cx="358.4" cy="583.7" r="1.65"/><circle cx="344" cy="583.5" r="1.65"/><circle cx="352" cy="582.6" r="1.65"/><circle cx="354.4" cy="582.5" r="1.65"/><circle cx="349.6" cy="581.9" r="1.65"/><circle cx="347.2" cy="581.8" r="1.65"/><circle cx="356.8" cy="581.5" r="1.65"/><circle cx="344.8" cy="581.2" r="1.65"/><circle cx="359.2" cy="581" r="1.65"/><circle cx="342.4" cy="580.9" r="1.65"/><circle cx="351.2" cy="580.3" r="1.65"/><circle cx="353.6" cy="580" r="1.65"/><circle cx="348.8" cy="579.2" r="1.65"/><circle cx="356" cy="578.8" r="1.65"/><circle cx="346.4" cy="578.8" r="1.65"/><circle cx="358.4" cy="578.7" r="1.65"/><circle cx="344" cy="578.6" r="1.65"/><circle cx="360.8" cy="578.5" r="1.65"/><circle cx="351.2" cy="578.2" r="1.65"/><circle cx="341.6" cy="578.1" r="1.65"/><circle cx="355.3" cy="578.1" r="1.65"/><circle cx="342" cy="577.9" r="1.65"/><circle cx="346.2" cy="577.8" r="1.65"/><circle cx="346.3" cy="577.7" r="1.65"/><circle cx="350.6" cy="577.4" r="1.65"/><circle cx="352.8" cy="576.7" r="1.65"/><circle cx="357.6" cy="576.7" r="1.65"/><circle cx="351.2" cy="575.4" r="1.65"/><circle cx="348.8" cy="575.3" r="1.65"/><circle cx="354.4" cy="575.2" r="1.65"/><circle cx="346.4" cy="574.3" r="1.65"/><circle cx="356.8" cy="574.1" r="1.65"/><circle cx="352.8" cy="573.9" r="1.65"/><circle cx="344" cy="573.6" r="1.65"/><circle cx="350.4" cy="573.4" r="1.65"/><circle cx="359.2" cy="573.3" r="1.65"/><circle cx="341.6" cy="573.2" r="1.65"/><circle cx="358.4" cy="573.2" r="1.65"/><circle cx="348" cy="573" r="1.65"/><circle cx="354.4" cy="572.3" r="1.65"/><circle cx="345.6" cy="572.1" r="1.65"/><circle cx="346.7" cy="572.1" r="1.65"/><circle cx="342.2" cy="572.1" r="1.65"/><circle cx="352" cy="572" r="1.65"/><circle cx="360.8" cy="572" r="1.65"/><circle cx="356.8" cy="571.6" r="1.65"/><circle cx="359.1" cy="571.6" r="1.65"/><circle cx="358.5" cy="571.6" r="1.65"/><circle cx="349.6" cy="570.9" r="1.65"/><circle cx="356.6" cy="570.9" r="1.65"/><circle cx="344" cy="570.6" r="1.65"/><circle cx="342.1" cy="570.6" r="1.65"/><circle cx="353.6" cy="570.3" r="1.65"/><circle cx="346.5" cy="570.3" r="1.65"/><circle cx="344.8" cy="570.3" r="1.65"/><circle cx="359.4" cy="570.1" r="1.65"/><circle cx="343.8" cy="570" r="1.65"/><circle cx="343.8" cy="569.9" r="1.65"/><circle cx="345.7" cy="569.9" r="1.65"/><circle cx="357" cy="569.8" r="1.65"/><circle cx="351.2" cy="569.4" r="1.65"/><circle cx="345.2" cy="569.4" r="1.65"/><circle cx="360.8" cy="569.3" r="1.65"/><circle cx="353.6" cy="568.2" r="1.65"/><circle cx="349.6" cy="568.1" r="1.65"/><circle cx="347.2" cy="568" r="1.65"/><circle cx="356" cy="567.7" r="1.65"/><circle cx="358.4" cy="567.7" r="1.65"/><circle cx="344.8" cy="567.4" r="1.65"/><circle cx="342.4" cy="567.1" r="1.65"/><circle cx="351.2" cy="566.2" r="1.65"/><circle cx="353.6" cy="565.9" r="1.65"/><circle cx="348.8" cy="565.3" r="1.65"/><circle cx="356" cy="565" r="1.65"/><circle cx="346.4" cy="565" r="1.65"/><circle cx="358.4" cy="564.9" r="1.65"/><circle cx="344" cy="564.4" r="1.65"/><circle cx="352" cy="564.2" r="1.65"/><circle cx="360.8" cy="564.1" r="1.65"/><circle cx="354.4" cy="563.6" r="1.65"/><circle cx="349.6" cy="563.3" r="1.65"/><circle cx="341.6" cy="563.2" r="1.65"/><circle cx="347.2" cy="563" r="1.65"/><circle cx="356.8" cy="562.8" r="1.65"/><circle cx="352.8" cy="562.3" r="1.65"/><circle cx="345.6" cy="561.5" r="1.65"/><circle cx="355.2" cy="561.5" r="1.65"/><circle cx="350.4" cy="561" r="1.65"/><circle cx="352.8" cy="560" r="1.65"/><circle cx="350.4" cy="558.9" r="1.65"/><circle cx="348" cy="558.7" r="1.65"/><circle cx="354.4" cy="558.3" r="1.65"/><circle cx="356.8" cy="558.3" r="1.65"/><circle cx="352" cy="557.3" r="1.65"/><circle cx="346.4" cy="557.3" r="1.65"/><circle cx="351.2" cy="553.9" r="1.65"/><circle cx="352.8" cy="552.4" r="1.65"/><circle cx="351.2" cy="534" r="1.65"/></g>
<path d="M342.8 600.8V575.4H359.6V600.8" stroke="#c4343e" stroke-width="1.4" fill="none"/>
<path d="M351.2 587.2V563.6M346.4 563.6H356M346.4 587.2H356" stroke="#c4343e" stroke-width="1.1" fill="none"/>
<text x="348.1" y="612.2" font-size="5.4" font-weight="bold" fill="#222" text-anchor="middle">Smchd1<tspan font-size="3" font-weight="normal" dy="-2">+/+</tspan></text>
<text x="351.2" y="620.9" font-size="4.6" fill="#555" text-anchor="middle">n=119</text>
<path d="M351.2 600.8V605.8" stroke="#333" stroke-width="0.9"/>
<g fill="#e4b466"><circle cx="377.8" cy="600.1" r="1.65"/><circle cx="380.2" cy="600.1" r="1.65"/><circle cx="375.4" cy="598.9" r="1.65"/><circle cx="381.8" cy="598.8" r="1.65"/><circle cx="377.8" cy="597.9" r="1.65"/><circle cx="380.2" cy="597.3" r="1.65"/><circle cx="373.8" cy="597.2" r="1.65"/><circle cx="383.4" cy="597.1" r="1.65"/><circle cx="371.4" cy="596.8" r="1.65"/><circle cx="376.2" cy="596.4" r="1.65"/><circle cx="385.8" cy="596.2" r="1.65"/><circle cx="378.6" cy="595.4" r="1.65"/><circle cx="381" cy="595" r="1.65"/><circle cx="374.6" cy="594.9" r="1.65"/><circle cx="377" cy="593.9" r="1.65"/><circle cx="379.4" cy="593.5" r="1.65"/><circle cx="382.6" cy="593.3" r="1.65"/><circle cx="373" cy="593.2" r="1.65"/><circle cx="385" cy="593.1" r="1.65"/><circle cx="375.4" cy="592.5" r="1.65"/><circle cx="370.6" cy="592.1" r="1.65"/><circle cx="377.8" cy="591.7" r="1.65"/><circle cx="380.2" cy="591.2" r="1.65"/><circle cx="373.8" cy="591.2" r="1.65"/><circle cx="382.6" cy="591" r="1.65"/><circle cx="385" cy="590.5" r="1.65"/><circle cx="376.2" cy="590.3" r="1.65"/><circle cx="371.4" cy="590.1" r="1.65"/><circle cx="369" cy="590" r="1.65"/><circle cx="378.6" cy="589.8" r="1.65"/><circle cx="387.4" cy="589.8" r="1.65"/><circle cx="373.8" cy="589.5" r="1.65"/><circle cx="380.9" cy="589.3" r="1.65"/><circle cx="371.5" cy="589.1" r="1.65"/><circle cx="383.4" cy="589" r="1.65"/><circle cx="373.5" cy="588.8" r="1.65"/><circle cx="377" cy="588.1" r="1.65"/><circle cx="379.4" cy="587.5" r="1.65"/><circle cx="381.8" cy="587.4" r="1.65"/><circle cx="385" cy="587.4" r="1.65"/><circle cx="372.2" cy="587.1" r="1.65"/><circle cx="375.4" cy="586.6" r="1.65"/><circle cx="369.8" cy="586.5" r="1.65"/><circle cx="387.4" cy="586.4" r="1.65"/><circle cx="377.8" cy="586.1" r="1.65"/><circle cx="383.4" cy="586.1" r="1.65"/><circle cx="385.3" cy="585.7" r="1.65"/><circle cx="388" cy="585.6" r="1.65"/><circle cx="380.2" cy="585.1" r="1.65"/><circle cx="373.8" cy="585.1" r="1.65"/><circle cx="371.4" cy="585" r="1.65"/><circle cx="368.2" cy="584.8" r="1.65"/><circle cx="376.2" cy="584.7" r="1.65"/><circle cx="372.5" cy="584.7" r="1.65"/><circle cx="374.7" cy="584.3" r="1.65"/><circle cx="368.7" cy="584.2" r="1.65"/><circle cx="382.6" cy="584" r="1.65"/><circle cx="386.6" cy="584" r="1.65"/><circle cx="371.5" cy="583.9" r="1.65"/><circle cx="378.6" cy="583.8" r="1.65"/><circle cx="375.4" cy="583.2" r="1.65"/><circle cx="378.2" cy="582.9" r="1.65"/><circle cx="381" cy="582.8" r="1.65"/><circle cx="384.2" cy="582.7" r="1.65"/><circle cx="379.3" cy="582.6" r="1.65"/><circle cx="373" cy="582.5" r="1.65"/><circle cx="369.8" cy="582.4" r="1.65"/><circle cx="374.7" cy="582.3" r="1.65"/><circle cx="370.8" cy="582.1" r="1.65"/><circle cx="387.4" cy="582.1" r="1.65"/><circle cx="378.9" cy="582.1" r="1.65"/><circle cx="374.7" cy="581.9" r="1.65"/><circle cx="374.6" cy="581.8" r="1.65"/><circle cx="387.5" cy="581.8" r="1.65"/><circle cx="379.6" cy="581.5" r="1.65"/><circle cx="377" cy="581.3" r="1.65"/><circle cx="382.6" cy="581.1" r="1.65"/><circle cx="385" cy="580.7" r="1.65"/><circle cx="373" cy="580.4" r="1.65"/><circle cx="369" cy="580.4" r="1.65"/><circle cx="375.4" cy="579.9" r="1.65"/><circle cx="367.8" cy="579.9" r="1.65"/><circle cx="378.6" cy="579.5" r="1.65"/><circle cx="381" cy="579.3" r="1.65"/><circle cx="383.4" cy="578.8" r="1.65"/><circle cx="377" cy="578" r="1.65"/><circle cx="379.4" cy="577.2" r="1.65"/><circle cx="374.6" cy="577.2" r="1.65"/><circle cx="381.8" cy="576.5" r="1.65"/><circle cx="372.2" cy="576.3" r="1.65"/><circle cx="384.2" cy="576.2" r="1.65"/><circle cx="377.8" cy="575.8" r="1.65"/><circle cx="369.8" cy="575.7" r="1.65"/><circle cx="386.6" cy="575.3" r="1.65"/><circle cx="380.2" cy="575.1" r="1.65"/><circle cx="375.4" cy="574.7" r="1.65"/><circle cx="387.2" cy="574.6" r="1.65"/><circle cx="382.6" cy="574.6" r="1.65"/><circle cx="373" cy="574.2" r="1.65"/><circle cx="378.6" cy="573.7" r="1.65"/><circle cx="385" cy="573.6" r="1.65"/><circle cx="370.6" cy="573.5" r="1.65"/><circle cx="368.2" cy="573.4" r="1.65"/><circle cx="387.5" cy="573.3" r="1.65"/><circle cx="381" cy="573" r="1.65"/><circle cx="376.2" cy="572.5" r="1.65"/><circle cx="375.5" cy="572.5" r="1.65"/><circle cx="383.4" cy="572.2" r="1.65"/><circle cx="373" cy="572" r="1.65"/><circle cx="387.7" cy="571.9" r="1.65"/><circle cx="369.7" cy="571.9" r="1.65"/><circle cx="378.6" cy="571.4" r="1.65"/><circle cx="386.4" cy="571.4" r="1.65"/><circle cx="376.2" cy="570.3" r="1.65"/><circle cx="380.2" cy="570.2" r="1.65"/><circle cx="373.8" cy="569.4" r="1.65"/><circle cx="377.8" cy="568.9" r="1.65"/><circle cx="381.8" cy="568.6" r="1.65"/><circle cx="384.2" cy="568.5" r="1.65"/><circle cx="375.4" cy="568" r="1.65"/><circle cx="372.2" cy="567.8" r="1.65"/><circle cx="377.8" cy="566.8" r="1.65"/><circle cx="380.2" cy="565.6" r="1.65"/><circle cx="377.8" cy="564.6" r="1.65"/><circle cx="375.4" cy="564.5" r="1.65"/><circle cx="379.4" cy="562.8" r="1.65"/><circle cx="377.8" cy="561.3" r="1.65"/><circle cx="375.4" cy="561.2" r="1.65"/><circle cx="377.8" cy="535.3" r="1.65"/></g>
<path d="M369 600.8V584H386.6V600.8" stroke="#c98a2e" stroke-width="1.4" fill="none"/>
<path d="M377.8 597.1V570.9M373 570.9H382.6M373 597.1H382.6" stroke="#c98a2e" stroke-width="1.1" fill="none"/>
<text x="380.1" y="611.5" font-size="5.4" font-weight="bold" fill="#222" text-anchor="middle">Smchd1</text>
<text x="380.1" y="615.6" font-size="3.0" fill="#444" text-anchor="middle">MD43/MD43</text>
<text x="377.8" y="620.9" font-size="4.6" fill="#555" text-anchor="middle">n=129</text>
<path d="M377.8 600.8V605.8" stroke="#333" stroke-width="0.9"/>
<g fill="#d3a0d2"><circle cx="404.1" cy="592.6" r="1.65"/><circle cx="405.8" cy="590.8" r="1.65"/><circle cx="403.3" cy="590.2" r="1.65"/><circle cx="400.9" cy="590" r="1.65"/><circle cx="408.1" cy="589.9" r="1.65"/><circle cx="398.5" cy="589.5" r="1.65"/><circle cx="404.1" cy="588.1" r="1.65"/><circle cx="406.5" cy="587.2" r="1.65"/><circle cx="402.5" cy="586.7" r="1.65"/><circle cx="400.1" cy="586.4" r="1.65"/><circle cx="408.9" cy="586.1" r="1.65"/><circle cx="404.9" cy="585.4" r="1.65"/><circle cx="397.8" cy="585.1" r="1.65"/><circle cx="411.3" cy="585.1" r="1.65"/><circle cx="402.5" cy="584.6" r="1.65"/><circle cx="407.3" cy="584.4" r="1.65"/><circle cx="400.1" cy="584.3" r="1.65"/><circle cx="395.3" cy="584.2" r="1.65"/><circle cx="404.1" cy="582.9" r="1.65"/><circle cx="401.8" cy="582.5" r="1.65"/><circle cx="406.5" cy="582.4" r="1.65"/><circle cx="408.9" cy="582.1" r="1.65"/><circle cx="399.3" cy="581.8" r="1.65"/><circle cx="411.3" cy="581.3" r="1.65"/><circle cx="404.1" cy="580.8" r="1.65"/><circle cx="401.8" cy="580.4" r="1.65"/><circle cx="406.5" cy="580.3" r="1.65"/><circle cx="408.9" cy="579.9" r="1.65"/><circle cx="399.3" cy="579.4" r="1.65"/><circle cx="396.9" cy="579.3" r="1.65"/><circle cx="411.3" cy="579.2" r="1.65"/><circle cx="404.9" cy="578.9" r="1.65"/><circle cx="402.5" cy="578.4" r="1.65"/><circle cx="407.3" cy="578.3" r="1.65"/><circle cx="413.8" cy="578.2" r="1.65"/><circle cx="409.8" cy="577.8" r="1.65"/><circle cx="400.1" cy="577.4" r="1.65"/><circle cx="397.8" cy="577.3" r="1.65"/><circle cx="395.3" cy="577.3" r="1.65"/><circle cx="397.3" cy="577.2" r="1.65"/><circle cx="411.7" cy="577.2" r="1.65"/><circle cx="404.1" cy="576.8" r="1.65"/><circle cx="407.8" cy="576.7" r="1.65"/><circle cx="413.6" cy="576.7" r="1.65"/><circle cx="400.1" cy="576.6" r="1.65"/><circle cx="407.3" cy="576.5" r="1.65"/><circle cx="413.3" cy="576.3" r="1.65"/><circle cx="396.5" cy="576.3" r="1.65"/><circle cx="397.6" cy="576.2" r="1.65"/><circle cx="405.3" cy="576.1" r="1.65"/><circle cx="396.6" cy="575.9" r="1.65"/><circle cx="394.9" cy="575.8" r="1.65"/><circle cx="394.1" cy="575.8" r="1.65"/><circle cx="409.8" cy="575.6" r="1.65"/><circle cx="401" cy="575.6" r="1.65"/><circle cx="407.3" cy="575" r="1.65"/><circle cx="403.3" cy="574.8" r="1.65"/><circle cx="403.4" cy="574.8" r="1.65"/><circle cx="406.3" cy="574.8" r="1.65"/><circle cx="412.1" cy="574.4" r="1.65"/><circle cx="399.3" cy="574.3" r="1.65"/><circle cx="401.8" cy="573.4" r="1.65"/><circle cx="408.9" cy="573.3" r="1.65"/><circle cx="404.1" cy="572.6" r="1.65"/><circle cx="406.5" cy="572.4" r="1.65"/><circle cx="398.5" cy="572.3" r="1.65"/><circle cx="411.3" cy="572.2" r="1.65"/><circle cx="396.1" cy="572.1" r="1.65"/><circle cx="402.5" cy="571.1" r="1.65"/><circle cx="408.1" cy="570.7" r="1.65"/><circle cx="404.9" cy="570.7" r="1.65"/><circle cx="400.1" cy="570.2" r="1.65"/><circle cx="410.5" cy="569.5" r="1.65"/><circle cx="397.8" cy="569.5" r="1.65"/><circle cx="412.9" cy="569.4" r="1.65"/><circle cx="403.3" cy="569.1" r="1.65"/><circle cx="406.5" cy="569" r="1.65"/><circle cx="395.3" cy="568.8" r="1.65"/><circle cx="394.3" cy="568.7" r="1.65"/><circle cx="400.9" cy="567.9" r="1.65"/><circle cx="404.1" cy="567" r="1.65"/><circle cx="407.3" cy="567" r="1.65"/><circle cx="409.8" cy="566.9" r="1.65"/><circle cx="398.5" cy="566.6" r="1.65"/><circle cx="412.1" cy="566.5" r="1.65"/><circle cx="396.1" cy="566" r="1.65"/><circle cx="405.8" cy="565.2" r="1.65"/><circle cx="403.3" cy="564.6" r="1.65"/><circle cx="400.9" cy="564.3" r="1.65"/><circle cx="407.3" cy="563.4" r="1.65"/><circle cx="404.1" cy="558.9" r="1.65"/><circle cx="406.5" cy="558.6" r="1.65"/><circle cx="401.8" cy="558.3" r="1.65"/><circle cx="408.1" cy="557.2" r="1.65"/><circle cx="404.9" cy="557" r="1.65"/><circle cx="403.3" cy="555.2" r="1.65"/><circle cx="404.1" cy="552.7" r="1.65"/><circle cx="406.5" cy="551.5" r="1.65"/></g>
<path d="M395.3 600.8V575.4H413V600.8" stroke="#963e9c" stroke-width="1.4" fill="none"/>
<path d="M404.1 586.4V564.4M399.3 564.4H408.9M399.3 586.4H408.9" stroke="#963e9c" stroke-width="1.1" fill="none"/>
<text x="406.4" y="611.5" font-size="5.4" font-weight="bold" fill="#222" text-anchor="middle">Smchd1</text>
<text x="406.4" y="615.6" font-size="3.0" fill="#444" text-anchor="middle">GFP/GFP</text>
<text x="404.1" y="620.9" font-size="4.6" fill="#555" text-anchor="middle">n=98</text>
<path d="M404.1 600.8V605.8" stroke="#333" stroke-width="0.9"/>
<g fill="#a899d2"><circle cx="430.6" cy="600.3" r="1.65"/><circle cx="433" cy="600.3" r="1.65"/><circle cx="428.2" cy="600.1" r="1.65"/><circle cx="435.4" cy="600" r="1.65"/><circle cx="425.8" cy="599.7" r="1.65"/><circle cx="437.8" cy="599.5" r="1.65"/><circle cx="423.4" cy="599.4" r="1.65"/><circle cx="440.2" cy="599.2" r="1.65"/><circle cx="421" cy="599.1" r="1.65"/><circle cx="422.5" cy="598.9" r="1.65"/><circle cx="431.9" cy="598.7" r="1.65"/><circle cx="423.7" cy="598.6" r="1.65"/><circle cx="429.8" cy="598.4" r="1.65"/><circle cx="420.8" cy="598.3" r="1.65"/><circle cx="427.4" cy="598.1" r="1.65"/><circle cx="421.7" cy="598.1" r="1.65"/><circle cx="434.6" cy="598" r="1.65"/><circle cx="433.7" cy="597.9" r="1.65"/><circle cx="439.9" cy="597.9" r="1.65"/><circle cx="430.5" cy="597.7" r="1.65"/><circle cx="420.6" cy="597.7" r="1.65"/><circle cx="424.4" cy="597.7" r="1.65"/><circle cx="434.3" cy="597.7" r="1.65"/><circle cx="437" cy="597.6" r="1.65"/><circle cx="436.5" cy="597.5" r="1.65"/><circle cx="424.7" cy="597.3" r="1.65"/><circle cx="429.9" cy="597.3" r="1.65"/><circle cx="421.2" cy="597.3" r="1.65"/><circle cx="431.4" cy="597" r="1.65"/><circle cx="435.8" cy="597" r="1.65"/><circle cx="430.6" cy="596.9" r="1.65"/><circle cx="436.4" cy="596.9" r="1.65"/><circle cx="425.2" cy="596.7" r="1.65"/><circle cx="434" cy="596.6" r="1.65"/><circle cx="430" cy="596.6" r="1.65"/><circle cx="432.7" cy="596.5" r="1.65"/><circle cx="422" cy="596.5" r="1.65"/><circle cx="429.7" cy="596.5" r="1.65"/><circle cx="433" cy="596.4" r="1.65"/><circle cx="425.2" cy="596.4" r="1.65"/><circle cx="431.7" cy="596.3" r="1.65"/><circle cx="420.9" cy="596.3" r="1.65"/><circle cx="438.6" cy="596.2" r="1.65"/><circle cx="428.9" cy="596.1" r="1.65"/><circle cx="439.5" cy="596" r="1.65"/><circle cx="433.6" cy="595.9" r="1.65"/><circle cx="430.7" cy="595.9" r="1.65"/><circle cx="438.1" cy="595.8" r="1.65"/><circle cx="434.5" cy="595.7" r="1.65"/><circle cx="430.8" cy="595.7" r="1.65"/><circle cx="428.1" cy="595.6" r="1.65"/><circle cx="438.1" cy="595.6" r="1.65"/><circle cx="431.9" cy="595.5" r="1.65"/><circle cx="430.3" cy="595.5" r="1.65"/><circle cx="428" cy="595.4" r="1.65"/><circle cx="423.6" cy="595.2" r="1.65"/><circle cx="424.3" cy="595.2" r="1.65"/><circle cx="432.7" cy="595" r="1.65"/><circle cx="431.4" cy="594.9" r="1.65"/><circle cx="436.1" cy="594.9" r="1.65"/><circle cx="429.6" cy="594.7" r="1.65"/><circle cx="428.3" cy="594.6" r="1.65"/><circle cx="431.7" cy="594.3" r="1.65"/><circle cx="439.4" cy="593.8" r="1.65"/><circle cx="421.8" cy="593.8" r="1.65"/><circle cx="425.6" cy="593.8" r="1.65"/><circle cx="439.9" cy="593.8" r="1.65"/><circle cx="433.3" cy="593.7" r="1.65"/><circle cx="426.6" cy="593.7" r="1.65"/><circle cx="430.4" cy="593.7" r="1.65"/><circle cx="437.5" cy="593.6" r="1.65"/><circle cx="439.7" cy="593.3" r="1.65"/><circle cx="434.6" cy="593.2" r="1.65"/><circle cx="438.2" cy="593" r="1.65"/><circle cx="436.8" cy="592.9" r="1.65"/><circle cx="427.9" cy="592.9" r="1.65"/><circle cx="428.9" cy="592.6" r="1.65"/><circle cx="423.4" cy="592.5" r="1.65"/><circle cx="429.9" cy="592.4" r="1.65"/><circle cx="432.2" cy="591.8" r="1.65"/><circle cx="425.8" cy="591.6" r="1.65"/><circle cx="435.4" cy="591.3" r="1.65"/><circle cx="439.4" cy="591.3" r="1.65"/><circle cx="421.8" cy="591.2" r="1.65"/><circle cx="421.6" cy="591.1" r="1.65"/><circle cx="432.4" cy="591.1" r="1.65"/><circle cx="431.7" cy="591.1" r="1.65"/><circle cx="436.4" cy="591" r="1.65"/><circle cx="427.4" cy="590.8" r="1.65"/><circle cx="440.2" cy="590.8" r="1.65"/><circle cx="435.4" cy="590.4" r="1.65"/><circle cx="432.2" cy="590.3" r="1.65"/><circle cx="424.2" cy="590.3" r="1.65"/><circle cx="429.8" cy="590.1" r="1.65"/><circle cx="425.1" cy="590.1" r="1.65"/><circle cx="439.4" cy="590" r="1.65"/><circle cx="434.3" cy="589.8" r="1.65"/><circle cx="433.3" cy="589.8" r="1.65"/><circle cx="424.4" cy="589.8" r="1.65"/><circle cx="424.5" cy="589.7" r="1.65"/><circle cx="424.5" cy="589.5" r="1.65"/><circle cx="439" cy="589.4" r="1.65"/><circle cx="429.4" cy="589.4" r="1.65"/><circle cx="421.8" cy="589.1" r="1.65"/><circle cx="437" cy="589" r="1.65"/><circle cx="434.7" cy="588.9" r="1.65"/><circle cx="434.5" cy="588.8" r="1.65"/><circle cx="427.4" cy="588.7" r="1.65"/><circle cx="436.9" cy="588.7" r="1.65"/><circle cx="426.3" cy="588.5" r="1.65"/><circle cx="431.4" cy="588.4" r="1.65"/><circle cx="424.6" cy="588.2" r="1.65"/><circle cx="440" cy="588.1" r="1.65"/><circle cx="423.3" cy="588" r="1.65"/><circle cx="440.7" cy="587.9" r="1.65"/><circle cx="428.5" cy="587.7" r="1.65"/><circle cx="420.9" cy="587.6" r="1.65"/><circle cx="426.6" cy="587.5" r="1.65"/><circle cx="436" cy="587.3" r="1.65"/><circle cx="433" cy="586.7" r="1.65"/><circle cx="428.7" cy="586.6" r="1.65"/><circle cx="437.8" cy="586.4" r="1.65"/><circle cx="430.6" cy="585.8" r="1.65"/><circle cx="432.2" cy="584.2" r="1.65"/><circle cx="430.6" cy="581.9" r="1.65"/><circle cx="433" cy="580.9" r="1.65"/></g>
<path d="M422 600.8V593.7H439.2V600.8" stroke="#6c5aa8" stroke-width="1.4" fill="none"/>
<path d="M430.6 599.5V588M425.8 588H435.4M425.8 599.5H435.4" stroke="#6c5aa8" stroke-width="1.1" fill="none"/>
<text x="432.9" y="611.5" font-size="5.4" font-weight="bold" fill="#222" text-anchor="middle">Smchd1</text>
<text x="432.9" y="615.6" font-size="3.0" fill="#444" text-anchor="middle">MD43-GFP/MD43-GFP</text>
<text x="430.6" y="620.9" font-size="4.6" fill="#555" text-anchor="middle">n=126</text>
<path d="M430.6 600.8V605.8" stroke="#333" stroke-width="0.9"/>
<path d="M280 390.7V600.8M274.5 600.8H280M274.5 548.4H280M274.5 496H280M274.5 443.6H280M274.5 391.2H280" stroke="#444" stroke-width="1.1" fill="none"/>
<path d="M279.5 600.8H447.1" stroke="#444" stroke-width="1.1"/>
<text x="273" y="603.4" font-size="7.3" font-weight="bold" fill="#222" text-anchor="end">0</text>
<text x="273" y="551" font-size="7.3" font-weight="bold" fill="#222" text-anchor="end">2</text>
<text x="273" y="498.6" font-size="7.3" font-weight="bold" fill="#222" text-anchor="end">4</text>
<text x="273" y="446.2" font-size="7.3" font-weight="bold" fill="#222" text-anchor="end">6</text>
<text x="273" y="393.8" font-size="7.3" font-weight="bold" fill="#222" text-anchor="end">8</text>
<path d="M297.5 400V384.7H325.5V390.8" stroke="#555" stroke-width="0.8" fill="none"/>
<text x="297.1" y="382.5" font-size="6.4" fill="#444">p=6.7x10<tspan font-size="3.7" dy="-2.6">-14</tspan></text>
<text x="315.7" y="399" font-size="7" fill="#333">241%</text>
<path d="M351.2 513.7V499H378.5V513.7" stroke="#555" stroke-width="0.8" fill="none"/>
<text x="350.8" y="496.8" font-size="6.4" fill="#444">p=1.6x10<tspan font-size="3.7" dy="-2.6">-7</tspan></text>
<text x="371.8" y="521.4" font-size="7" fill="#333">68%</text>
<path d="M404 539.7V525.3H431.9V539.7" stroke="#555" stroke-width="0.8" fill="none"/>
<text x="403.6" y="523.1" font-size="6.4" fill="#444">p&lt;1x10<tspan font-size="3.7" dy="-2.6">-15</tspan></text>
<text x="424.8" y="548.3" font-size="7" fill="#333">27%</text>
<text x="454.5" y="379.2" font-size="13" fill="#333">g.</text>
<text x="542" y="378.6" font-size="9.3" font-weight="bold" fill="#222">Xi Smchd1</text>
<text transform="translate(459.6 490) rotate(-90)" font-size="8.6" font-weight="bold" fill="#222" text-anchor="middle">AU</text>
<g fill="#6f9fd6"><circle cx="496.6" cy="586.3" r="1.65"/><circle cx="496.6" cy="577.7" r="1.65"/><circle cx="498.9" cy="577.1" r="1.65"/><circle cx="494.9" cy="576.3" r="1.65"/><circle cx="492.6" cy="575.9" r="1.65"/><circle cx="496.6" cy="574.9" r="1.65"/><circle cx="498.9" cy="574.1" r="1.65"/><circle cx="496.6" cy="572.8" r="1.65"/><circle cx="496.6" cy="567.9" r="1.65"/><circle cx="498.9" cy="567.3" r="1.65"/><circle cx="496.6" cy="564.6" r="1.65"/><circle cx="498.9" cy="564.4" r="1.65"/><circle cx="496.6" cy="562.1" r="1.65"/><circle cx="498.2" cy="560.4" r="1.65"/><circle cx="496.6" cy="559.1" r="1.65"/><circle cx="498.9" cy="558.5" r="1.65"/><circle cx="494.2" cy="557.8" r="1.65"/><circle cx="501.4" cy="557.6" r="1.65"/><circle cx="496.6" cy="556" r="1.65"/><circle cx="496.6" cy="553.5" r="1.65"/><circle cx="498.9" cy="552.5" r="1.65"/><circle cx="494.9" cy="552.2" r="1.65"/><circle cx="496.6" cy="549.3" r="1.65"/><circle cx="498.9" cy="548.7" r="1.65"/><circle cx="494.2" cy="548.6" r="1.65"/><circle cx="501.4" cy="548.5" r="1.65"/><circle cx="491.8" cy="547.6" r="1.65"/><circle cx="496.6" cy="545.8" r="1.65"/><circle cx="498.2" cy="544.5" r="1.65"/><circle cx="494.9" cy="544.3" r="1.65"/><circle cx="500.6" cy="544.1" r="1.65"/><circle cx="496.6" cy="542.7" r="1.65"/><circle cx="498.9" cy="542.2" r="1.65"/><circle cx="494.2" cy="541.7" r="1.65"/><circle cx="497.4" cy="540.8" r="1.65"/><circle cx="499.8" cy="540" r="1.65"/><circle cx="494.9" cy="539.7" r="1.65"/><circle cx="492.6" cy="539.2" r="1.65"/><circle cx="496.6" cy="536.9" r="1.65"/><circle cx="498.9" cy="536.3" r="1.65"/><circle cx="496.6" cy="534.5" r="1.65"/><circle cx="494.2" cy="534.3" r="1.65"/><circle cx="498.9" cy="533.9" r="1.65"/><circle cx="501.4" cy="533.8" r="1.65"/><circle cx="497.4" cy="532.6" r="1.65"/><circle cx="494.9" cy="532.1" r="1.65"/><circle cx="492.6" cy="532.1" r="1.65"/><circle cx="499.8" cy="531.8" r="1.65"/><circle cx="496.6" cy="525.7" r="1.65"/><circle cx="496.6" cy="522.7" r="1.65"/><circle cx="498.2" cy="521.2" r="1.65"/><circle cx="494.9" cy="521.1" r="1.65"/><circle cx="500.6" cy="520.3" r="1.65"/><circle cx="492.6" cy="520.2" r="1.65"/><circle cx="502.9" cy="520.1" r="1.65"/><circle cx="496.6" cy="519.4" r="1.65"/><circle cx="498.9" cy="518.4" r="1.65"/><circle cx="494.9" cy="518" r="1.65"/><circle cx="497.4" cy="517" r="1.65"/><circle cx="494.2" cy="516.1" r="1.65"/><circle cx="498.9" cy="515.4" r="1.65"/><circle cx="501.4" cy="515.2" r="1.65"/><circle cx="496.6" cy="513.5" r="1.65"/><circle cx="494.2" cy="513.5" r="1.65"/><circle cx="498.9" cy="513.3" r="1.65"/><circle cx="492.6" cy="512.2" r="1.65"/><circle cx="496.6" cy="510.8" r="1.65"/><circle cx="497.4" cy="508.9" r="1.65"/><circle cx="494.9" cy="508.7" r="1.65"/><circle cx="496.6" cy="506.8" r="1.65"/><circle cx="496.6" cy="503.3" r="1.65"/><circle cx="498.9" cy="502.5" r="1.65"/><circle cx="494.2" cy="502.2" r="1.65"/><circle cx="501.4" cy="502.1" r="1.65"/><circle cx="491.8" cy="502.1" r="1.65"/><circle cx="496.6" cy="497.8" r="1.65"/><circle cx="498.2" cy="496.1" r="1.65"/><circle cx="495.8" cy="495" r="1.65"/><circle cx="499.8" cy="494.3" r="1.65"/><circle cx="496.6" cy="492.7" r="1.65"/><circle cx="497.4" cy="490.7" r="1.65"/><circle cx="494.9" cy="489.5" r="1.65"/><circle cx="498.9" cy="489.3" r="1.65"/><circle cx="492.6" cy="489.2" r="1.65"/><circle cx="496.6" cy="486.7" r="1.65"/><circle cx="496.6" cy="481.6" r="1.65"/><circle cx="498.9" cy="480.6" r="1.65"/><circle cx="496.6" cy="472" r="1.65"/><circle cx="496.6" cy="467.7" r="1.65"/><circle cx="498.2" cy="466.3" r="1.65"/><circle cx="496.6" cy="464.4" r="1.65"/><circle cx="496.6" cy="459.1" r="1.65"/><circle cx="496.6" cy="456.2" r="1.65"/><circle cx="496.6" cy="453.9" r="1.65"/><circle cx="498.2" cy="452.1" r="1.65"/></g>
<path d="M487.5 600.8V529.9H505.6V600.8" stroke="#2f6fb7" stroke-width="1.4" fill="none"/>
<path d="M496.6 561.3V498.5M491.8 498.5H501.4M491.8 561.3H501.4" stroke="#2f6fb7" stroke-width="1.1" fill="none"/>
<text x="497.8" y="612.2" font-size="5.4" font-weight="bold" fill="#222" text-anchor="middle">Smchd1<tspan font-size="3" font-weight="normal" dy="-2">wt/wt</tspan></text>
<text x="496.6" y="620.9" font-size="4.6" fill="#555" text-anchor="middle">n=95</text>
<path d="M496.6 600.8V605.8" stroke="#333" stroke-width="0.9"/>
<g fill="#e07476"><circle cx="552" cy="591" r="1.65"/><circle cx="552" cy="583.2" r="1.65"/><circle cx="554.4" cy="582.1" r="1.65"/><circle cx="552" cy="577.9" r="1.65"/><circle cx="552" cy="572" r="1.65"/><circle cx="554.4" cy="571.3" r="1.65"/><circle cx="552" cy="569.9" r="1.65"/><circle cx="549.6" cy="569.7" r="1.65"/><circle cx="556" cy="569.4" r="1.65"/><circle cx="553.6" cy="568.1" r="1.65"/><circle cx="551.2" cy="567.2" r="1.65"/><circle cx="554.4" cy="566.2" r="1.65"/><circle cx="548.8" cy="566.1" r="1.65"/><circle cx="552" cy="562.7" r="1.65"/><circle cx="554.4" cy="562.6" r="1.65"/><circle cx="549.6" cy="562.1" r="1.65"/><circle cx="556.8" cy="561.7" r="1.65"/><circle cx="552" cy="560.2" r="1.65"/><circle cx="552" cy="558" r="1.65"/><circle cx="553.6" cy="556.7" r="1.65"/><circle cx="550.4" cy="556.6" r="1.65"/><circle cx="556" cy="556.2" r="1.65"/><circle cx="552" cy="555.1" r="1.65"/><circle cx="548.8" cy="555" r="1.65"/><circle cx="546.4" cy="555" r="1.65"/><circle cx="554.4" cy="554.7" r="1.65"/><circle cx="557.6" cy="554.5" r="1.65"/><circle cx="552" cy="552.3" r="1.65"/><circle cx="554.4" cy="551.5" r="1.65"/><circle cx="549.6" cy="551.4" r="1.65"/><circle cx="556.8" cy="551.3" r="1.65"/><circle cx="547.2" cy="551" r="1.65"/><circle cx="559.2" cy="550.6" r="1.65"/><circle cx="552" cy="548.8" r="1.65"/><circle cx="553.6" cy="547.1" r="1.65"/><circle cx="552" cy="545.5" r="1.65"/><circle cx="549.6" cy="545.4" r="1.65"/><circle cx="555.2" cy="545.3" r="1.65"/><circle cx="547.2" cy="545.2" r="1.65"/><circle cx="553.6" cy="544" r="1.65"/><circle cx="551.2" cy="543.4" r="1.65"/><circle cx="548.8" cy="543" r="1.65"/><circle cx="555.2" cy="542.3" r="1.65"/><circle cx="552" cy="540.1" r="1.65"/><circle cx="554.4" cy="539.6" r="1.65"/><circle cx="549.6" cy="539.4" r="1.65"/><circle cx="556.8" cy="539.1" r="1.65"/><circle cx="547.2" cy="538.9" r="1.65"/><circle cx="559.2" cy="538.8" r="1.65"/><circle cx="544.8" cy="538.6" r="1.65"/><circle cx="552.8" cy="538.1" r="1.65"/><circle cx="551.2" cy="536.8" r="1.65"/><circle cx="554.4" cy="536.5" r="1.65"/><circle cx="548.8" cy="535.7" r="1.65"/><circle cx="552.8" cy="535.2" r="1.65"/><circle cx="551.2" cy="533.4" r="1.65"/><circle cx="553.6" cy="532.9" r="1.65"/><circle cx="552" cy="531" r="1.65"/><circle cx="554.4" cy="530.7" r="1.65"/><circle cx="549.6" cy="530.7" r="1.65"/><circle cx="556.8" cy="530.5" r="1.65"/><circle cx="552" cy="528.5" r="1.65"/><circle cx="554.4" cy="528" r="1.65"/><circle cx="549.6" cy="527.7" r="1.65"/><circle cx="556.8" cy="527" r="1.65"/><circle cx="552" cy="525.9" r="1.65"/><circle cx="554.4" cy="525.8" r="1.65"/><circle cx="549.6" cy="525.6" r="1.65"/><circle cx="547.2" cy="525.3" r="1.65"/><circle cx="556.8" cy="524.6" r="1.65"/><circle cx="552" cy="521.2" r="1.65"/><circle cx="554.4" cy="520.8" r="1.65"/><circle cx="549.6" cy="520.7" r="1.65"/><circle cx="552.8" cy="519.2" r="1.65"/><circle cx="550.4" cy="517.9" r="1.65"/><circle cx="554.4" cy="517.3" r="1.65"/><circle cx="548" cy="517" r="1.65"/><circle cx="552" cy="514.8" r="1.65"/><circle cx="554.4" cy="514.4" r="1.65"/><circle cx="549.6" cy="514.2" r="1.65"/><circle cx="556.8" cy="513.8" r="1.65"/><circle cx="552" cy="511.3" r="1.65"/><circle cx="554.4" cy="511.1" r="1.65"/><circle cx="550.4" cy="510" r="1.65"/><circle cx="548" cy="510" r="1.65"/><circle cx="556.8" cy="509.9" r="1.65"/><circle cx="552.8" cy="509.4" r="1.65"/><circle cx="545.6" cy="509.1" r="1.65"/><circle cx="551.2" cy="507.7" r="1.65"/><circle cx="553.6" cy="507.1" r="1.65"/><circle cx="548.8" cy="506.7" r="1.65"/><circle cx="556" cy="506.5" r="1.65"/><circle cx="546.4" cy="506.2" r="1.65"/><circle cx="552" cy="504.3" r="1.65"/><circle cx="554.4" cy="503.8" r="1.65"/><circle cx="549.6" cy="503.1" r="1.65"/><circle cx="552" cy="500.6" r="1.65"/><circle cx="554.4" cy="500.4" r="1.65"/><circle cx="550.4" cy="499" r="1.65"/><circle cx="552.8" cy="498.4" r="1.65"/><circle cx="552" cy="493.3" r="1.65"/><circle cx="552" cy="491.2" r="1.65"/><circle cx="553.6" cy="489.8" r="1.65"/><circle cx="551.2" cy="488.7" r="1.65"/><circle cx="555.2" cy="488" r="1.65"/><circle cx="548.8" cy="487.5" r="1.65"/><circle cx="552" cy="485.4" r="1.65"/><circle cx="554.4" cy="485" r="1.65"/><circle cx="550.4" cy="483.9" r="1.65"/><circle cx="552" cy="481.1" r="1.65"/><circle cx="554.4" cy="480" r="1.65"/><circle cx="552" cy="478.6" r="1.65"/><circle cx="552" cy="475.1" r="1.65"/><circle cx="554.4" cy="474.2" r="1.65"/><circle cx="552" cy="466.5" r="1.65"/><circle cx="552" cy="458.3" r="1.65"/><circle cx="552" cy="442.2" r="1.65"/><circle cx="552" cy="440" r="1.65"/><circle cx="552" cy="423.2" r="1.65"/></g>
<path d="M543.6 600.8V529.2H560.5V600.8" stroke="#c4343e" stroke-width="1.4" fill="none"/>
<path d="M552 563.5V494.8M547.2 494.8H556.8M547.2 563.5H556.8" stroke="#c4343e" stroke-width="1.1" fill="none"/>
<text x="553.2" y="612.2" font-size="5.4" font-weight="bold" fill="#222" text-anchor="middle">Smchd1<tspan font-size="3" font-weight="normal" dy="-2">+/+</tspan></text>
<text x="552" y="620.9" font-size="4.6" fill="#555" text-anchor="middle">n=119</text>
<path d="M552 600.8V605.8" stroke="#333" stroke-width="0.9"/>
<g fill="#e4b466"><circle cx="579.5" cy="599" r="1.65"/><circle cx="581.9" cy="598.7" r="1.65"/><circle cx="579.5" cy="594.3" r="1.65"/><circle cx="579.5" cy="591.9" r="1.65"/><circle cx="581.9" cy="591.7" r="1.65"/><circle cx="577.1" cy="591.2" r="1.65"/><circle cx="583.5" cy="590.1" r="1.65"/><circle cx="579.5" cy="588.8" r="1.65"/><circle cx="581.9" cy="588.6" r="1.65"/><circle cx="579.5" cy="584.7" r="1.65"/><circle cx="581.1" cy="583.4" r="1.65"/><circle cx="578.8" cy="582.7" r="1.65"/><circle cx="576.3" cy="582.2" r="1.65"/><circle cx="582.8" cy="581.9" r="1.65"/><circle cx="579.5" cy="578.9" r="1.65"/><circle cx="581.9" cy="578.8" r="1.65"/><circle cx="577.1" cy="577.9" r="1.65"/><circle cx="584.3" cy="577.8" r="1.65"/><circle cx="574.8" cy="577.7" r="1.65"/><circle cx="579.5" cy="575.5" r="1.65"/><circle cx="581.9" cy="575.4" r="1.65"/><circle cx="577.1" cy="575.2" r="1.65"/><circle cx="579.5" cy="572.9" r="1.65"/><circle cx="581.9" cy="572.7" r="1.65"/><circle cx="579.5" cy="570.6" r="1.65"/><circle cx="581.9" cy="570.2" r="1.65"/><circle cx="577.1" cy="570.1" r="1.65"/><circle cx="584.3" cy="570" r="1.65"/><circle cx="574.8" cy="569.7" r="1.65"/><circle cx="586.8" cy="569.6" r="1.65"/><circle cx="572.3" cy="568.8" r="1.65"/><circle cx="579.5" cy="567" r="1.65"/><circle cx="581.9" cy="566.8" r="1.65"/><circle cx="577.1" cy="566.3" r="1.65"/><circle cx="584.3" cy="565.7" r="1.65"/><circle cx="580.3" cy="565" r="1.65"/><circle cx="575.5" cy="565" r="1.65"/><circle cx="573.1" cy="564.9" r="1.65"/><circle cx="586.8" cy="564.6" r="1.65"/><circle cx="579.5" cy="562.2" r="1.65"/><circle cx="581.9" cy="561.8" r="1.65"/><circle cx="580.3" cy="560.3" r="1.65"/><circle cx="579.5" cy="558.3" r="1.65"/><circle cx="581.9" cy="557.9" r="1.65"/><circle cx="579.5" cy="556" r="1.65"/><circle cx="577.1" cy="556" r="1.65"/><circle cx="582.8" cy="555.9" r="1.65"/><circle cx="574.8" cy="555.4" r="1.65"/><circle cx="585.1" cy="555" r="1.65"/><circle cx="579.5" cy="553.6" r="1.65"/><circle cx="581.9" cy="553.5" r="1.65"/><circle cx="577.1" cy="553.1" r="1.65"/><circle cx="584.3" cy="552.3" r="1.65"/><circle cx="580.3" cy="551.6" r="1.65"/><circle cx="577.9" cy="550.5" r="1.65"/><circle cx="582.8" cy="550.5" r="1.65"/><circle cx="579.5" cy="549.1" r="1.65"/><circle cx="576.3" cy="549.1" r="1.65"/><circle cx="581.9" cy="547.9" r="1.65"/><circle cx="577.9" cy="547.7" r="1.65"/><circle cx="584.3" cy="547.4" r="1.65"/><circle cx="580.3" cy="546.4" r="1.65"/><circle cx="576.3" cy="546.2" r="1.65"/><circle cx="582.8" cy="545.4" r="1.65"/><circle cx="585.1" cy="545.2" r="1.65"/><circle cx="578.8" cy="545" r="1.65"/><circle cx="580.3" cy="543.6" r="1.65"/><circle cx="578.8" cy="542" r="1.65"/><circle cx="581.9" cy="542" r="1.65"/><circle cx="576.3" cy="540.8" r="1.65"/><circle cx="584.3" cy="540.8" r="1.65"/><circle cx="579.5" cy="538.2" r="1.65"/><circle cx="581.9" cy="537.4" r="1.65"/><circle cx="577.9" cy="536.8" r="1.65"/><circle cx="580.3" cy="535.6" r="1.65"/><circle cx="582.8" cy="535.2" r="1.65"/><circle cx="577.9" cy="534.7" r="1.65"/><circle cx="575.5" cy="534.3" r="1.65"/><circle cx="579.5" cy="533.2" r="1.65"/><circle cx="581.9" cy="532.4" r="1.65"/><circle cx="577.1" cy="532.2" r="1.65"/><circle cx="579.5" cy="528.7" r="1.65"/><circle cx="581.9" cy="528" r="1.65"/><circle cx="577.1" cy="527.9" r="1.65"/><circle cx="584.3" cy="527.5" r="1.65"/><circle cx="574.8" cy="527.1" r="1.65"/><circle cx="579.5" cy="526.3" r="1.65"/><circle cx="581.9" cy="525.8" r="1.65"/><circle cx="577.1" cy="525.5" r="1.65"/><circle cx="584.3" cy="525.2" r="1.65"/><circle cx="573.9" cy="525.2" r="1.65"/><circle cx="579.5" cy="524" r="1.65"/><circle cx="581.9" cy="523" r="1.65"/><circle cx="577.9" cy="522.7" r="1.65"/><circle cx="579.5" cy="521.1" r="1.65"/><circle cx="581.1" cy="519.4" r="1.65"/><circle cx="578.8" cy="518.8" r="1.65"/><circle cx="582.8" cy="518" r="1.65"/><circle cx="576.3" cy="517.6" r="1.65"/><circle cx="585.1" cy="517.5" r="1.65"/><circle cx="580.3" cy="517" r="1.65"/><circle cx="573.9" cy="516.8" r="1.65"/><circle cx="577.9" cy="516.1" r="1.65"/><circle cx="582.8" cy="516" r="1.65"/><circle cx="579.5" cy="510" r="1.65"/><circle cx="581.9" cy="509.6" r="1.65"/><circle cx="577.1" cy="509.2" r="1.65"/><circle cx="583.5" cy="508.4" r="1.65"/><circle cx="579.5" cy="507.3" r="1.65"/><circle cx="581.9" cy="506.2" r="1.65"/><circle cx="579.5" cy="504.9" r="1.65"/><circle cx="577.1" cy="504.3" r="1.65"/><circle cx="579.5" cy="502.4" r="1.65"/><circle cx="581.9" cy="501.3" r="1.65"/><circle cx="579.5" cy="499.5" r="1.65"/><circle cx="581.9" cy="498.9" r="1.65"/><circle cx="577.9" cy="498.1" r="1.65"/><circle cx="575.5" cy="497.9" r="1.65"/><circle cx="579.5" cy="496.2" r="1.65"/><circle cx="581.1" cy="494.5" r="1.65"/><circle cx="578.8" cy="493.9" r="1.65"/><circle cx="580.3" cy="492.3" r="1.65"/><circle cx="579.5" cy="489" r="1.65"/><circle cx="579.5" cy="485.6" r="1.65"/><circle cx="579.5" cy="468.4" r="1.65"/><circle cx="579.5" cy="465.1" r="1.65"/><circle cx="581.1" cy="463.6" r="1.65"/><circle cx="579.5" cy="448.8" r="1.65"/><circle cx="579.5" cy="443.6" r="1.65"/></g>
<path d="M570.8 600.8V543.1H588.3V600.8" stroke="#c98a2e" stroke-width="1.4" fill="none"/>
<path d="M579.5 580.3V505.8M574.8 505.8H584.3M574.8 580.3H584.3" stroke="#c98a2e" stroke-width="1.1" fill="none"/>
<text x="580" y="611.5" font-size="5.4" font-weight="bold" fill="#222" text-anchor="middle">Smchd1</text>
<text x="580" y="615.6" font-size="3.0" fill="#444" text-anchor="middle">MD43/MD43</text>
<text x="579.5" y="620.9" font-size="4.6" fill="#555" text-anchor="middle">n=129</text>
<path d="M579.5 600.8V605.8" stroke="#333" stroke-width="0.9"/>
<g fill="#d3a0d2"><circle cx="607.2" cy="594.9" r="1.65"/><circle cx="607.2" cy="584.3" r="1.65"/><circle cx="609.6" cy="583.5" r="1.65"/><circle cx="605.6" cy="582.9" r="1.65"/><circle cx="608" cy="581.9" r="1.65"/><circle cx="607.2" cy="578.1" r="1.65"/><circle cx="609.6" cy="577.9" r="1.65"/><circle cx="604.9" cy="577.8" r="1.65"/><circle cx="607.2" cy="574.2" r="1.65"/><circle cx="607.2" cy="566.5" r="1.65"/><circle cx="607.2" cy="564.1" r="1.65"/><circle cx="609.6" cy="564.1" r="1.65"/><circle cx="607.2" cy="561.6" r="1.65"/><circle cx="607.2" cy="559" r="1.65"/><circle cx="609.6" cy="557.8" r="1.65"/><circle cx="607.2" cy="556.1" r="1.65"/><circle cx="608" cy="554.2" r="1.65"/><circle cx="605.6" cy="553.7" r="1.65"/><circle cx="607.2" cy="551.8" r="1.65"/><circle cx="608.9" cy="550.3" r="1.65"/><circle cx="606.5" cy="549.1" r="1.65"/><circle cx="607.2" cy="546.6" r="1.65"/><circle cx="609.6" cy="546.2" r="1.65"/><circle cx="604.9" cy="545.9" r="1.65"/><circle cx="612" cy="545.5" r="1.65"/><circle cx="607.2" cy="543.9" r="1.65"/><circle cx="609.6" cy="542.8" r="1.65"/><circle cx="607.2" cy="539.7" r="1.65"/><circle cx="609.6" cy="539" r="1.65"/><circle cx="606.5" cy="537.7" r="1.65"/><circle cx="604" cy="537.6" r="1.65"/><circle cx="611.2" cy="537.1" r="1.65"/><circle cx="608.9" cy="536.6" r="1.65"/><circle cx="601.6" cy="536.4" r="1.65"/><circle cx="607.2" cy="533.8" r="1.65"/><circle cx="609.6" cy="533.5" r="1.65"/><circle cx="604.9" cy="533.3" r="1.65"/><circle cx="612" cy="533.2" r="1.65"/><circle cx="602.5" cy="533" r="1.65"/><circle cx="614.5" cy="532.2" r="1.65"/><circle cx="608" cy="531.8" r="1.65"/><circle cx="605.6" cy="530.8" r="1.65"/><circle cx="609.6" cy="530.1" r="1.65"/><circle cx="607.2" cy="528.9" r="1.65"/><circle cx="609.6" cy="527.8" r="1.65"/><circle cx="607.2" cy="524.6" r="1.65"/><circle cx="609.6" cy="524.1" r="1.65"/><circle cx="604.9" cy="523.8" r="1.65"/><circle cx="612" cy="523.7" r="1.65"/><circle cx="602.5" cy="523.4" r="1.65"/><circle cx="614.5" cy="523.3" r="1.65"/><circle cx="608" cy="522.6" r="1.65"/><circle cx="610.5" cy="522.1" r="1.65"/><circle cx="605.6" cy="521.4" r="1.65"/><circle cx="607.2" cy="518.3" r="1.65"/><circle cx="609.6" cy="517.9" r="1.65"/><circle cx="604.9" cy="517.2" r="1.65"/><circle cx="612" cy="517" r="1.65"/><circle cx="607.2" cy="515.9" r="1.65"/><circle cx="608.9" cy="514.2" r="1.65"/><circle cx="607.2" cy="512.7" r="1.65"/><circle cx="604.9" cy="512.3" r="1.65"/><circle cx="608" cy="510.8" r="1.65"/><circle cx="610.5" cy="510.8" r="1.65"/><circle cx="603.2" cy="510.6" r="1.65"/><circle cx="605.6" cy="510.3" r="1.65"/><circle cx="612" cy="509.5" r="1.65"/><circle cx="607.2" cy="506.6" r="1.65"/><circle cx="609.6" cy="505.6" r="1.65"/><circle cx="605.6" cy="505" r="1.65"/><circle cx="607.2" cy="502.8" r="1.65"/><circle cx="609.6" cy="502.4" r="1.65"/><circle cx="607.2" cy="500.7" r="1.65"/><circle cx="609.6" cy="499.9" r="1.65"/><circle cx="607.2" cy="495.1" r="1.65"/><circle cx="609.6" cy="495" r="1.65"/><circle cx="604.9" cy="494.1" r="1.65"/><circle cx="611.2" cy="493.6" r="1.65"/><circle cx="608" cy="493.1" r="1.65"/><circle cx="605.6" cy="492" r="1.65"/><circle cx="607.2" cy="490.4" r="1.65"/><circle cx="609.6" cy="490" r="1.65"/><circle cx="605.6" cy="488.7" r="1.65"/><circle cx="607.2" cy="486.3" r="1.65"/><circle cx="609.6" cy="485.5" r="1.65"/><circle cx="607.2" cy="483.4" r="1.65"/><circle cx="609.6" cy="482.9" r="1.65"/><circle cx="607.2" cy="476.5" r="1.65"/><circle cx="609.6" cy="475.7" r="1.65"/><circle cx="607.2" cy="473.9" r="1.65"/><circle cx="607.2" cy="469.5" r="1.65"/><circle cx="607.2" cy="465.9" r="1.65"/><circle cx="609.6" cy="465.8" r="1.65"/><circle cx="604.9" cy="464.6" r="1.65"/><circle cx="612" cy="464.6" r="1.65"/><circle cx="607.2" cy="462.8" r="1.65"/><circle cx="609.6" cy="462.3" r="1.65"/><circle cx="607.2" cy="437.5" r="1.65"/></g>
<path d="M598.5 600.8V527.7H616V600.8" stroke="#963e9c" stroke-width="1.4" fill="none"/>
<path d="M607.2 564.2V491.1M602.5 491.1H612M602.5 564.2H612" stroke="#963e9c" stroke-width="1.1" fill="none"/>
<text x="607.8" y="611.5" font-size="5.4" font-weight="bold" fill="#222" text-anchor="middle">Smchd1</text>
<text x="607.8" y="615.6" font-size="3.0" fill="#444" text-anchor="middle">GFP/GFP</text>
<text x="607.2" y="620.9" font-size="4.6" fill="#555" text-anchor="middle">n=98</text>
<path d="M607.2 600.8V605.8" stroke="#333" stroke-width="0.9"/>
<g fill="#a899d2"><circle cx="635" cy="599.8" r="1.65"/><circle cx="637.4" cy="599.7" r="1.65"/><circle cx="633.4" cy="598.2" r="1.65"/><circle cx="639" cy="598.1" r="1.65"/><circle cx="635.8" cy="597.8" r="1.65"/><circle cx="631.8" cy="596.8" r="1.65"/><circle cx="634.2" cy="596" r="1.65"/><circle cx="636.6" cy="595.7" r="1.65"/><circle cx="639" cy="595.4" r="1.65"/><circle cx="630.2" cy="595.1" r="1.65"/><circle cx="641.4" cy="594.7" r="1.65"/><circle cx="632.6" cy="594.7" r="1.65"/><circle cx="635" cy="593.7" r="1.65"/><circle cx="637.4" cy="593.3" r="1.65"/><circle cx="633.4" cy="592.1" r="1.65"/><circle cx="635.8" cy="591.6" r="1.65"/><circle cx="639" cy="591.4" r="1.65"/><circle cx="631.8" cy="590.4" r="1.65"/><circle cx="629.4" cy="590.4" r="1.65"/><circle cx="641.4" cy="590.3" r="1.65"/><circle cx="634.2" cy="590.2" r="1.65"/><circle cx="636.6" cy="589.4" r="1.65"/><circle cx="639" cy="589.2" r="1.65"/><circle cx="627" cy="589.1" r="1.65"/><circle cx="643" cy="588.9" r="1.65"/><circle cx="625.4" cy="588.7" r="1.65"/><circle cx="635" cy="588" r="1.65"/><circle cx="632.6" cy="587.9" r="1.65"/><circle cx="630.2" cy="587.7" r="1.65"/><circle cx="637.4" cy="586.8" r="1.65"/><circle cx="635" cy="585.1" r="1.65"/><circle cx="637.4" cy="584.5" r="1.65"/><circle cx="632.6" cy="584.5" r="1.65"/><circle cx="639.8" cy="584.3" r="1.65"/><circle cx="630.2" cy="584.3" r="1.65"/><circle cx="642.2" cy="584.2" r="1.65"/><circle cx="627.8" cy="584.1" r="1.65"/><circle cx="644.6" cy="584.1" r="1.65"/><circle cx="625.4" cy="583.9" r="1.65"/><circle cx="644.7" cy="583.6" r="1.65"/><circle cx="635" cy="582.7" r="1.65"/><circle cx="628.7" cy="582.7" r="1.65"/><circle cx="638.2" cy="582.5" r="1.65"/><circle cx="632.6" cy="581.9" r="1.65"/><circle cx="640.6" cy="581.9" r="1.65"/><circle cx="643" cy="581.9" r="1.65"/><circle cx="627" cy="581.4" r="1.65"/><circle cx="645.2" cy="581.4" r="1.65"/><circle cx="644.2" cy="581.4" r="1.65"/><circle cx="630" cy="581.3" r="1.65"/><circle cx="635.3" cy="581.3" r="1.65"/><circle cx="632.9" cy="581" r="1.65"/><circle cx="633.1" cy="580.8" r="1.65"/><circle cx="637.4" cy="580.5" r="1.65"/><circle cx="641" cy="580.2" r="1.65"/><circle cx="625.4" cy="579.9" r="1.65"/><circle cx="641.8" cy="579.9" r="1.65"/><circle cx="628.6" cy="579.7" r="1.65"/><circle cx="635" cy="578.6" r="1.65"/><circle cx="637.4" cy="578" r="1.65"/><circle cx="632.6" cy="577.9" r="1.65"/><circle cx="639.8" cy="577.8" r="1.65"/><circle cx="630.2" cy="577.1" r="1.65"/><circle cx="642.2" cy="576.8" r="1.65"/><circle cx="635.8" cy="576.6" r="1.65"/><circle cx="627.8" cy="576.5" r="1.65"/><circle cx="644.6" cy="576.3" r="1.65"/><circle cx="638.2" cy="576" r="1.65"/><circle cx="633.4" cy="575.9" r="1.65"/><circle cx="625.4" cy="575.6" r="1.65"/><circle cx="640.6" cy="575.5" r="1.65"/><circle cx="630" cy="575.4" r="1.65"/><circle cx="643" cy="574.8" r="1.65"/><circle cx="635" cy="574.5" r="1.65"/><circle cx="631.8" cy="574.3" r="1.65"/><circle cx="627.8" cy="574.2" r="1.65"/><circle cx="637.4" cy="574" r="1.65"/><circle cx="635.9" cy="573.9" r="1.65"/><circle cx="638.8" cy="573.8" r="1.65"/><circle cx="636.9" cy="573.7" r="1.65"/><circle cx="641.4" cy="573.2" r="1.65"/><circle cx="633.4" cy="572.8" r="1.65"/><circle cx="630.2" cy="572.4" r="1.65"/><circle cx="627" cy="572.2" r="1.65"/><circle cx="643.8" cy="572" r="1.65"/><circle cx="635" cy="570.9" r="1.65"/><circle cx="637.4" cy="570.5" r="1.65"/><circle cx="632.6" cy="569.7" r="1.65"/><circle cx="639" cy="569.2" r="1.65"/><circle cx="635" cy="568.3" r="1.65"/><circle cx="637.4" cy="567.5" r="1.65"/><circle cx="632.6" cy="567.2" r="1.65"/><circle cx="639.8" cy="566.8" r="1.65"/><circle cx="630.2" cy="566.8" r="1.65"/><circle cx="642.2" cy="566.7" r="1.65"/><circle cx="635" cy="566.2" r="1.65"/><circle cx="627.8" cy="566.2" r="1.65"/><circle cx="637.4" cy="565.4" r="1.65"/><circle cx="631.8" cy="565.2" r="1.65"/><circle cx="640.6" cy="564.9" r="1.65"/><circle cx="629.4" cy="564.5" r="1.65"/><circle cx="634.2" cy="564.2" r="1.65"/><circle cx="635.8" cy="562.5" r="1.65"/><circle cx="633.4" cy="561.6" r="1.65"/><circle cx="638.2" cy="561.5" r="1.65"/><circle cx="631" cy="560.7" r="1.65"/><circle cx="640.6" cy="560.6" r="1.65"/><circle cx="628.6" cy="560.5" r="1.65"/><circle cx="635" cy="559.7" r="1.65"/><circle cx="637.4" cy="559.4" r="1.65"/><circle cx="632.6" cy="558.5" r="1.65"/><circle cx="639.8" cy="558.5" r="1.65"/><circle cx="635" cy="557.5" r="1.65"/><circle cx="637.4" cy="557.3" r="1.65"/><circle cx="631" cy="557.2" r="1.65"/><circle cx="641.4" cy="557.1" r="1.65"/><circle cx="628.6" cy="556.7" r="1.65"/><circle cx="635" cy="554" r="1.65"/><circle cx="637.4" cy="553.6" r="1.65"/><circle cx="635" cy="551.7" r="1.65"/><circle cx="635" cy="545.7" r="1.65"/><circle cx="637.4" cy="544.7" r="1.65"/><circle cx="635" cy="543.3" r="1.65"/><circle cx="635" cy="539.7" r="1.65"/><circle cx="635" cy="531.6" r="1.65"/><circle cx="635" cy="487.5" r="1.65"/></g>
<path d="M626.2 600.8V576.7H643.8V600.8" stroke="#6c5aa8" stroke-width="1.4" fill="none"/>
<path d="M635 596.4V556.9M630.2 556.9H639.8M630.2 596.4H639.8" stroke="#6c5aa8" stroke-width="1.1" fill="none"/>
<text x="635.5" y="611.5" font-size="5.4" font-weight="bold" fill="#222" text-anchor="middle">Smchd1</text>
<text x="635.5" y="615.6" font-size="3.0" fill="#444" text-anchor="middle">MD43-GFP/MD43-GFP</text>
<text x="635" y="620.9" font-size="4.6" fill="#555" text-anchor="middle">n=126</text>
<path d="M635 600.8V605.8" stroke="#333" stroke-width="0.9"/>
<path d="M524.6 600.8V605.8" stroke="#333" stroke-width="0.9"/>
<path d="M477.3 381V600.8M471.8 600.8H477.3M471.8 527.7H477.3M471.8 454.6H477.3M471.8 381.5H477.3" stroke="#444" stroke-width="1.1" fill="none"/>
<path d="M476.8 600.8H652.2" stroke="#444" stroke-width="1.1"/>
<text x="470.3" y="603.4" font-size="7.3" font-weight="bold" fill="#222" text-anchor="end">0</text>
<text x="470.3" y="530.3" font-size="7.3" font-weight="bold" fill="#222" text-anchor="end">1</text>
<text x="470.3" y="457.2" font-size="7.3" font-weight="bold" fill="#222" text-anchor="end">2</text>
<text x="470.3" y="384.1" font-size="7.3" font-weight="bold" fill="#222" text-anchor="end">3</text>
<path d="M551.9 417.7V402.8H579.4V417.7" stroke="#555" stroke-width="0.8" fill="none"/>
<text x="551.5" y="400.6" font-size="6.4" fill="#444">p=2.1x10<tspan font-size="3.7" dy="-2.6">-3</tspan></text>
<text x="572.4" y="426.3" font-size="7" fill="#333">81%</text>
<path d="M607.4 424.7V409.8H635.5V424.7" stroke="#555" stroke-width="0.8" fill="none"/>
<text x="607" y="407.6" font-size="6.4" fill="#444">p&lt;1x10<tspan font-size="3.7" dy="-2.6">-15</tspan></text>
<text x="628" y="433" font-size="7" fill="#333">33%</text></svg></body></html>
